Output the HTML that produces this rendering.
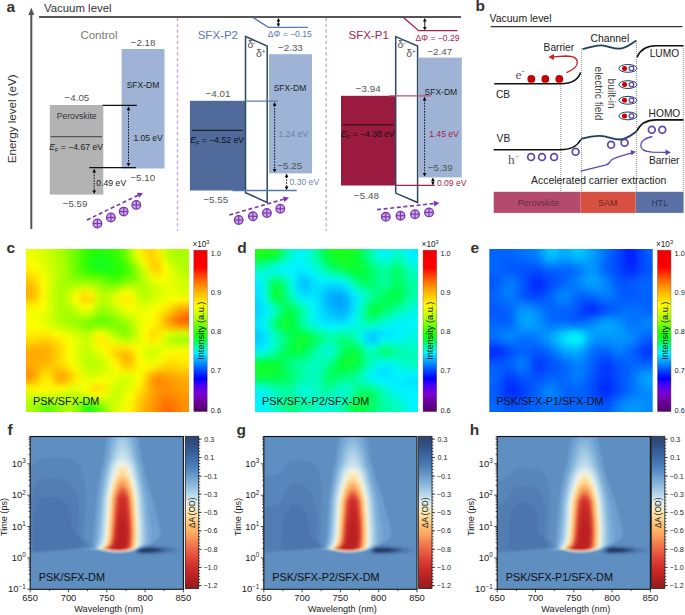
<!DOCTYPE html>
<html><head><meta charset="utf-8"><style>
html,body{margin:0;padding:0;background:#fff;}
svg{display:block;font-family:"Liberation Sans",sans-serif;}
</style></head><body>
<svg width="685" height="615" viewBox="0 0 685 615">
<defs><clipPath id="hc1"><rect x="26" y="249" width="163" height="163"/></clipPath><filter id="hb1" x="-10%" y="-10%" width="120%" height="120%"><feGaussianBlur stdDeviation="2.5"/></filter><clipPath id="hc2"><rect x="255.1" y="249" width="163" height="163"/></clipPath><filter id="hb2" x="-10%" y="-10%" width="120%" height="120%"><feGaussianBlur stdDeviation="2.5"/></filter><clipPath id="hc3"><rect x="489.3" y="249" width="163.4" height="163"/></clipPath><filter id="hb3" x="-10%" y="-10%" width="120%" height="120%"><feGaussianBlur stdDeviation="2.5"/></filter><linearGradient id="cbr1" x1="0" y1="0" x2="0" y2="1"><stop offset="0.010" stop-color="#f00000"/><stop offset="0.108" stop-color="#ff0000"/><stop offset="0.157" stop-color="#ff4100"/><stop offset="0.206" stop-color="#ff7d00"/><stop offset="0.255" stop-color="#ffaf00"/><stop offset="0.341" stop-color="#ffff00"/><stop offset="0.427" stop-color="#aaff00"/><stop offset="0.512" stop-color="#28ff00"/><stop offset="0.561" stop-color="#00ff46"/><stop offset="0.598" stop-color="#00ffaa"/><stop offset="0.635" stop-color="#00f5ff"/><stop offset="0.696" stop-color="#0096ff"/><stop offset="0.745" stop-color="#0046ff"/><stop offset="0.794" stop-color="#0000ff"/><stop offset="0.843" stop-color="#5000f0"/><stop offset="0.892" stop-color="#7d00d2"/><stop offset="0.941" stop-color="#690096"/><stop offset="0.990" stop-color="#550073"/></linearGradient><linearGradient id="cbr2" x1="0" y1="0" x2="0" y2="1"><stop offset="0.010" stop-color="#f00000"/><stop offset="0.108" stop-color="#ff0000"/><stop offset="0.157" stop-color="#ff4100"/><stop offset="0.206" stop-color="#ff7d00"/><stop offset="0.255" stop-color="#ffaf00"/><stop offset="0.341" stop-color="#ffff00"/><stop offset="0.427" stop-color="#aaff00"/><stop offset="0.512" stop-color="#28ff00"/><stop offset="0.561" stop-color="#00ff46"/><stop offset="0.598" stop-color="#00ffaa"/><stop offset="0.635" stop-color="#00f5ff"/><stop offset="0.696" stop-color="#0096ff"/><stop offset="0.745" stop-color="#0046ff"/><stop offset="0.794" stop-color="#0000ff"/><stop offset="0.843" stop-color="#5000f0"/><stop offset="0.892" stop-color="#7d00d2"/><stop offset="0.941" stop-color="#690096"/><stop offset="0.990" stop-color="#550073"/></linearGradient><linearGradient id="cbr3" x1="0" y1="0" x2="0" y2="1"><stop offset="0.010" stop-color="#f00000"/><stop offset="0.108" stop-color="#ff0000"/><stop offset="0.157" stop-color="#ff4100"/><stop offset="0.206" stop-color="#ff7d00"/><stop offset="0.255" stop-color="#ffaf00"/><stop offset="0.341" stop-color="#ffff00"/><stop offset="0.427" stop-color="#aaff00"/><stop offset="0.512" stop-color="#28ff00"/><stop offset="0.561" stop-color="#00ff46"/><stop offset="0.598" stop-color="#00ffaa"/><stop offset="0.635" stop-color="#00f5ff"/><stop offset="0.696" stop-color="#0096ff"/><stop offset="0.745" stop-color="#0046ff"/><stop offset="0.794" stop-color="#0000ff"/><stop offset="0.843" stop-color="#5000f0"/><stop offset="0.892" stop-color="#7d00d2"/><stop offset="0.941" stop-color="#690096"/><stop offset="0.990" stop-color="#550073"/></linearGradient><clipPath id="tc4"><rect x="30.2" y="436.5" width="153.2" height="152.8"/></clipPath><filter id="tb4" x="-5%" y="-5%" width="110%" height="110%"><feGaussianBlur stdDeviation="0.8"/></filter><linearGradient id="cbt5" x1="0" y1="0" x2="0" y2="1"><stop offset="0.0" stop-color="#2d4673"/><stop offset="0.05" stop-color="#304e80"/><stop offset="0.12" stop-color="#3a64a0"/><stop offset="0.18" stop-color="#4678b4"/><stop offset="0.25" stop-color="#6496c8"/><stop offset="0.32" stop-color="#8cb9dc"/><stop offset="0.39" stop-color="#bedceb"/><stop offset="0.44" stop-color="#e4eee8"/><stop offset="0.5" stop-color="#fce8af"/><stop offset="0.57" stop-color="#fdc87d"/><stop offset="0.64" stop-color="#fba85f"/><stop offset="0.72" stop-color="#f0734b"/><stop offset="0.8" stop-color="#e14637"/><stop offset="0.87" stop-color="#cd2a28"/><stop offset="0.94" stop-color="#af2020"/><stop offset="1.0" stop-color="#911c1e"/></linearGradient><clipPath id="tc6"><rect x="263.8" y="436.5" width="153.2" height="152.8"/></clipPath><filter id="tb6" x="-5%" y="-5%" width="110%" height="110%"><feGaussianBlur stdDeviation="0.8"/></filter><linearGradient id="cbt7" x1="0" y1="0" x2="0" y2="1"><stop offset="0.0" stop-color="#2d4673"/><stop offset="0.05" stop-color="#304e80"/><stop offset="0.12" stop-color="#3a64a0"/><stop offset="0.18" stop-color="#4678b4"/><stop offset="0.25" stop-color="#6496c8"/><stop offset="0.32" stop-color="#8cb9dc"/><stop offset="0.39" stop-color="#bedceb"/><stop offset="0.44" stop-color="#e4eee8"/><stop offset="0.5" stop-color="#fce8af"/><stop offset="0.57" stop-color="#fdc87d"/><stop offset="0.64" stop-color="#fba85f"/><stop offset="0.72" stop-color="#f0734b"/><stop offset="0.8" stop-color="#e14637"/><stop offset="0.87" stop-color="#cd2a28"/><stop offset="0.94" stop-color="#af2020"/><stop offset="1.0" stop-color="#911c1e"/></linearGradient><clipPath id="tc8"><rect x="497.2" y="436.5" width="153.2" height="152.8"/></clipPath><filter id="tb8" x="-5%" y="-5%" width="110%" height="110%"><feGaussianBlur stdDeviation="0.8"/></filter><linearGradient id="cbt9" x1="0" y1="0" x2="0" y2="1"><stop offset="0.0" stop-color="#2d4673"/><stop offset="0.05" stop-color="#304e80"/><stop offset="0.12" stop-color="#3a64a0"/><stop offset="0.18" stop-color="#4678b4"/><stop offset="0.25" stop-color="#6496c8"/><stop offset="0.32" stop-color="#8cb9dc"/><stop offset="0.39" stop-color="#bedceb"/><stop offset="0.44" stop-color="#e4eee8"/><stop offset="0.5" stop-color="#fce8af"/><stop offset="0.57" stop-color="#fdc87d"/><stop offset="0.64" stop-color="#fba85f"/><stop offset="0.72" stop-color="#f0734b"/><stop offset="0.8" stop-color="#e14637"/><stop offset="0.87" stop-color="#cd2a28"/><stop offset="0.94" stop-color="#af2020"/><stop offset="1.0" stop-color="#911c1e"/></linearGradient></defs>
<rect width="685" height="615" fill="#fff"/>
<text x="6.5" y="12" font-size="15.5" fill="#333" font-weight="bold">a</text>
<line x1="31.3" y1="14" x2="31.3" y2="229" stroke="#555" stroke-width="2"/>
<path d="M31.3,7.5 L28.3,15 L34.3,15Z" fill="#555"/>
<text x="0" y="0" font-size="11.6" fill="#333" text-anchor="middle" transform="translate(15.6,118.8) rotate(-90)">Energy level (eV)</text>
<line x1="39" y1="17" x2="461" y2="17" stroke="#555" stroke-width="1.8"/>
<text x="44" y="12" font-size="11.4" fill="#333">Vacuum level</text>
<line x1="177.5" y1="18" x2="177.5" y2="231" stroke="#c8acdc" stroke-width="1.4" stroke-dasharray="3.3,2.4"/>
<line x1="326.2" y1="18" x2="326.2" y2="231" stroke="#c8acdc" stroke-width="1.4" stroke-dasharray="3.3,2.4"/>
<text x="80.4" y="39.1" font-size="11.5" fill="#777">Control</text>
<rect x="49.8" y="105" width="53.5" height="89.6" fill="#b3b3b3"/>
<line x1="50.6" y1="136.6" x2="102" y2="136.6" stroke="#555" stroke-width="1.4"/>
<text x="76.7" y="118.8" font-size="8.5" fill="#333" text-anchor="middle">Perovskite</text>
<text x="49.3" y="149.7" font-size="8.6" fill="#222"><tspan font-style="italic">E</tspan><tspan font-size="5.6" dy="1.8">F</tspan><tspan dy="-1.8"> = −4.67 eV</tspan></text>
<rect x="121.6" y="49" width="42.9" height="119.5" fill="#9eb3d6"/>
<text x="126.7" y="88.1" font-size="8.5" fill="#222">SFX-DM</text>
<text x="130.7" y="46.2" font-size="9.8" fill="#555">−2.18</text>
<text x="64.5" y="100.7" font-size="9.8" fill="#555">−4.05</text>
<line x1="102.6" y1="105.4" x2="136.8" y2="105.4" stroke="#111" stroke-width="1.3"/>
<line x1="89.2" y1="167.7" x2="135.9" y2="167.7" stroke="#111" stroke-width="1.3"/>
<line x1="128.5" y1="109.6" x2="128.5" y2="163.6" stroke="#000" stroke-width="0.9" stroke-dasharray="1.6,1.2"/>
<path d="M128.5,106.6 L126.7,110.19999999999999 L130.3,110.19999999999999Z" fill="#000"/>
<path d="M128.5,166.6 L126.7,163.0 L130.3,163.0Z" fill="#000"/>
<text x="133.4" y="140.8" font-size="8.5" fill="#222">1.05 eV</text>
<line x1="94.2" y1="171.8" x2="94.2" y2="191" stroke="#000" stroke-width="0.9" stroke-dasharray="1.6,1.2"/>
<path d="M94.2,168.8 L92.4,172.4 L96.0,172.4Z" fill="#000"/>
<path d="M94.2,194 L92.4,190.4 L96.0,190.4Z" fill="#000"/>
<text x="96.3" y="186.4" font-size="8.7" fill="#222">0.49 eV</text>
<text x="130.4" y="180.8" font-size="9.8" fill="#555">−5.10</text>
<text x="62.7" y="207.2" font-size="9.8" fill="#555">−5.59</text>
<line x1="86.9" y1="220" x2="138.04756205665956" y2="195.29235415801296" stroke="#7a34b0" stroke-width="1.6" stroke-dasharray="4,2.6"/>
<path d="M143.0,192.9 L139.3,197.8 L136.8,192.8Z" fill="#7a34b0"/>
<circle cx="97.4" cy="223.5" r="4.3" fill="#c9a6de" stroke="#7a34b0" stroke-width="1.3"/>
<line x1="93.10000000000001" y1="223.5" x2="101.7" y2="223.5" stroke="#7a34b0" stroke-width="1.1"/>
<line x1="97.4" y1="219.2" x2="97.4" y2="227.8" stroke="#7a34b0" stroke-width="1.1"/>
<circle cx="110.9" cy="217.5" r="4.3" fill="#c9a6de" stroke="#7a34b0" stroke-width="1.3"/>
<line x1="106.60000000000001" y1="217.5" x2="115.2" y2="217.5" stroke="#7a34b0" stroke-width="1.1"/>
<line x1="110.9" y1="213.2" x2="110.9" y2="221.8" stroke="#7a34b0" stroke-width="1.1"/>
<circle cx="123.7" cy="211.6" r="4.3" fill="#c9a6de" stroke="#7a34b0" stroke-width="1.3"/>
<line x1="119.4" y1="211.6" x2="128.0" y2="211.6" stroke="#7a34b0" stroke-width="1.1"/>
<line x1="123.7" y1="207.29999999999998" x2="123.7" y2="215.9" stroke="#7a34b0" stroke-width="1.1"/>
<circle cx="136.3" cy="204.9" r="4.3" fill="#c9a6de" stroke="#7a34b0" stroke-width="1.3"/>
<line x1="132.0" y1="204.9" x2="140.60000000000002" y2="204.9" stroke="#7a34b0" stroke-width="1.1"/>
<line x1="136.3" y1="200.6" x2="136.3" y2="209.20000000000002" stroke="#7a34b0" stroke-width="1.1"/>
<text x="197.7" y="38.9" font-size="11.5" fill="#5a78b0">SFX-P2</text>
<rect x="189.9" y="100.8" width="55.6" height="89.7" fill="#506a9b"/>
<rect x="269" y="54.2" width="43" height="119.2" fill="#9eb3d6"/>
<path d="M245.5,36.5 L267.2,46 L267.2,202.5 L245.5,192.7Z" fill="#fff" stroke="#2b4a5c" stroke-width="1.5"/>
<line x1="232.5" y1="190.5" x2="296.7" y2="190.5" stroke="#5a78b0" stroke-width="1.3"/>
<line x1="245" y1="101.2" x2="278" y2="101.2" stroke="#5a78b0" stroke-width="1.3"/>
<path d="M253.2,17.6 L268.4,27.3 L307.9,27.3" fill="none" stroke="#5a78b0" stroke-width="1.3"/>
<line x1="278.4" y1="20.5" x2="278.4" y2="24.5" stroke="#000" stroke-width="0.9"/>
<path d="M278.4,18 L276.59999999999997,21.4 L280.2,21.4Z" fill="#000"/>
<path d="M278.4,27 L276.59999999999997,23.6 L280.2,23.6Z" fill="#000"/>
<text x="267.7" y="36.8" font-size="8.6" fill="#5a78b0">ΔΦ = −0.15</text>
<text x="247.4" y="48.3" font-size="10.5" fill="#555">δ<tspan font-size="6.5" dy="-3.6">-</tspan></text>
<text x="256.0" y="57.3" font-size="10.5" fill="#555">δ<tspan font-size="6.5" dy="-3.6">+</tspan></text>
<text x="278" y="51.2" font-size="9.8" fill="#555">−2.33</text>
<text x="205.6" y="97.1" font-size="9.8" fill="#555">−4.01</text>
<line x1="192" y1="130.4" x2="242.8" y2="130.4" stroke="#222" stroke-width="1.4"/>
<text x="190.3" y="143.3" font-size="8.6" fill="#111"><tspan font-style="italic">E</tspan><tspan font-size="5.6" dy="1.8">F</tspan><tspan dy="-1.8"> = −4.52 eV</tspan></text>
<text x="273.7" y="91.4" font-size="8.5" fill="#222">SFX-DM</text>
<line x1="274.6" y1="105.2" x2="274.6" y2="169.6" stroke="#000" stroke-width="0.9" stroke-dasharray="1.6,1.2"/>
<path d="M274.6,102.2 L272.8,105.8 L276.40000000000003,105.8Z" fill="#000"/>
<path d="M274.6,172.6 L272.8,169.0 L276.40000000000003,169.0Z" fill="#000"/>
<text x="278.5" y="137.2" font-size="8.6" fill="#6b81ae">1.24 eV</text>
<text x="277.4" y="169.2" font-size="9.8" fill="#555">−5.25</text>
<line x1="286.6" y1="176.6" x2="286.6" y2="187.2" stroke="#000" stroke-width="0.9" stroke-dasharray="1.6,1.2"/>
<path d="M286.6,173.6 L284.8,177.2 L288.40000000000003,177.2Z" fill="#000"/>
<path d="M286.6,190.2 L284.8,186.6 L288.40000000000003,186.6Z" fill="#000"/>
<text x="289.5" y="184.9" font-size="8.6" fill="#6a85b8">0.30 eV</text>
<text x="203.4" y="202.7" font-size="9.8" fill="#555">−5.55</text>
<line x1="229.3" y1="215" x2="283.71733212665015" y2="199.2308233535838" stroke="#7a34b0" stroke-width="1.6" stroke-dasharray="4,2.6"/>
<path d="M289.0,197.7 L284.5,201.9 L282.9,196.5Z" fill="#7a34b0"/>
<circle cx="238.7" cy="220" r="4.3" fill="#c9a6de" stroke="#7a34b0" stroke-width="1.3"/>
<line x1="234.39999999999998" y1="220" x2="243.0" y2="220" stroke="#7a34b0" stroke-width="1.1"/>
<line x1="238.7" y1="215.7" x2="238.7" y2="224.3" stroke="#7a34b0" stroke-width="1.1"/>
<circle cx="252.9" cy="216.3" r="4.3" fill="#c9a6de" stroke="#7a34b0" stroke-width="1.3"/>
<line x1="248.6" y1="216.3" x2="257.2" y2="216.3" stroke="#7a34b0" stroke-width="1.1"/>
<line x1="252.9" y1="212.0" x2="252.9" y2="220.60000000000002" stroke="#7a34b0" stroke-width="1.1"/>
<circle cx="266.9" cy="213" r="4.3" fill="#c9a6de" stroke="#7a34b0" stroke-width="1.3"/>
<line x1="262.59999999999997" y1="213" x2="271.2" y2="213" stroke="#7a34b0" stroke-width="1.1"/>
<line x1="266.9" y1="208.7" x2="266.9" y2="217.3" stroke="#7a34b0" stroke-width="1.1"/>
<circle cx="280.3" cy="208.7" r="4.3" fill="#c9a6de" stroke="#7a34b0" stroke-width="1.3"/>
<line x1="276.0" y1="208.7" x2="284.6" y2="208.7" stroke="#7a34b0" stroke-width="1.1"/>
<line x1="280.3" y1="204.39999999999998" x2="280.3" y2="213.0" stroke="#7a34b0" stroke-width="1.1"/>
<text x="348.6" y="39.4" font-size="11.5" fill="#a3234b">SFX-P1</text>
<rect x="341" y="95.8" width="54.7" height="89.7" fill="#9a1b3f"/>
<rect x="418.7" y="57.6" width="43.1" height="119.8" fill="#9eb3d6"/>
<path d="M395.7,36.6 L417.6,46 L417.6,202.5 L395.7,193.1Z" fill="#fff" stroke="#2b4a5c" stroke-width="1.5"/>
<line x1="395" y1="185.3" x2="434.7" y2="185.3" stroke="#a3234b" stroke-width="1.3"/>
<line x1="389" y1="95.8" x2="431.2" y2="95.8" stroke="#c0506e" stroke-width="1.3"/>
<path d="M403.4,17.6 L418.7,30.7 L457.4,30.7" fill="none" stroke="#a3234b" stroke-width="1.3"/>
<line x1="424.8" y1="20.5" x2="424.8" y2="27.8" stroke="#000" stroke-width="0.9"/>
<path d="M424.8,18 L423.0,21.4 L426.6,21.4Z" fill="#000"/>
<path d="M424.8,30.3 L423.0,26.900000000000002 L426.6,26.900000000000002Z" fill="#000"/>
<text x="415.4" y="40.8" font-size="8.6" fill="#a3234b">ΔΦ = −0.29</text>
<text x="397.6" y="48.3" font-size="10.5" fill="#555">δ<tspan font-size="6.5" dy="-3.6">-</tspan></text>
<text x="406.2" y="57.3" font-size="10.5" fill="#555">δ<tspan font-size="6.5" dy="-3.6">+</tspan></text>
<text x="427.4" y="55.1" font-size="9.8" fill="#555">−2.47</text>
<text x="355.8" y="92.1" font-size="9.8" fill="#555">−3.94</text>
<line x1="342.7" y1="124.9" x2="393.5" y2="124.9" stroke="#3a0a1a" stroke-width="1.4"/>
<text x="341" y="137.4" font-size="8.6" fill="#111"><tspan font-style="italic">E</tspan><tspan font-size="5.6" dy="1.8">F</tspan><tspan dy="-1.8"> = −4.38 eV</tspan></text>
<text x="424.6" y="94.5" font-size="8.5" fill="#222">SFX-DM</text>
<line x1="424.6" y1="99.8" x2="424.6" y2="173.6" stroke="#000" stroke-width="0.9" stroke-dasharray="1.6,1.2"/>
<path d="M424.6,96.8 L422.8,100.39999999999999 L426.40000000000003,100.39999999999999Z" fill="#000"/>
<path d="M424.6,176.6 L422.8,173.0 L426.40000000000003,173.0Z" fill="#000"/>
<text x="429.2" y="136.7" font-size="8.6" fill="#a3234b">1.45 eV</text>
<text x="427.9" y="171.2" font-size="9.8" fill="#555">−5.39</text>
<line x1="432.9" y1="180.1" x2="432.9" y2="182.7" stroke="#000" stroke-width="0.9"/>
<path d="M432.9,177.6 L431.09999999999997,181.0 L434.7,181.0Z" fill="#000"/>
<path d="M432.9,185.2 L431.09999999999997,181.79999999999998 L434.7,181.79999999999998Z" fill="#000"/>
<text x="436.9" y="186" font-size="8.6" fill="#a3234b">0.09 eV</text>
<text x="354.1" y="198.6" font-size="9.8" fill="#555">−5.48</text>
<line x1="377.1" y1="209.6" x2="434.0305088653168" y2="203.57850387001457" stroke="#7a34b0" stroke-width="1.6" stroke-dasharray="4,2.6"/>
<path d="M439.5,203.0 L434.3,206.4 L433.7,200.8Z" fill="#7a34b0"/>
<circle cx="385.8" cy="216.8" r="4.3" fill="#c9a6de" stroke="#7a34b0" stroke-width="1.3"/>
<line x1="381.5" y1="216.8" x2="390.1" y2="216.8" stroke="#7a34b0" stroke-width="1.1"/>
<line x1="385.8" y1="212.5" x2="385.8" y2="221.10000000000002" stroke="#7a34b0" stroke-width="1.1"/>
<circle cx="400.5" cy="215.7" r="4.3" fill="#c9a6de" stroke="#7a34b0" stroke-width="1.3"/>
<line x1="396.2" y1="215.7" x2="404.8" y2="215.7" stroke="#7a34b0" stroke-width="1.1"/>
<line x1="400.5" y1="211.39999999999998" x2="400.5" y2="220.0" stroke="#7a34b0" stroke-width="1.1"/>
<circle cx="415" cy="214.2" r="4.3" fill="#c9a6de" stroke="#7a34b0" stroke-width="1.3"/>
<line x1="410.7" y1="214.2" x2="419.3" y2="214.2" stroke="#7a34b0" stroke-width="1.1"/>
<line x1="415" y1="209.89999999999998" x2="415" y2="218.5" stroke="#7a34b0" stroke-width="1.1"/>
<circle cx="429" cy="212.4" r="4.3" fill="#c9a6de" stroke="#7a34b0" stroke-width="1.3"/>
<line x1="424.7" y1="212.4" x2="433.3" y2="212.4" stroke="#7a34b0" stroke-width="1.1"/>
<line x1="429" y1="208.1" x2="429" y2="216.70000000000002" stroke="#7a34b0" stroke-width="1.1"/>
<text x="475.6" y="11.4" font-size="15.5" fill="#333" font-weight="bold">b</text>
<text x="489.6" y="21.9" font-size="10.45" fill="#222">Vacuum level</text>
<line x1="490.7" y1="26.6" x2="682.5" y2="26.6" stroke="#333" stroke-width="1.3"/>
<line x1="560.7" y1="84" x2="560.7" y2="191.8" stroke="#777" stroke-width="0.8" stroke-dasharray="1,1"/>
<line x1="581.6" y1="48" x2="581.6" y2="191.8" stroke="#777" stroke-width="0.8" stroke-dasharray="1,1"/>
<line x1="636.6" y1="41" x2="636.6" y2="191.8" stroke="#777" stroke-width="0.8" stroke-dasharray="1,1"/>
<line x1="683.3" y1="46" x2="683.3" y2="191.8" stroke="#777" stroke-width="0.8" stroke-dasharray="1,1"/>
<rect x="493.7" y="191.8" width="86.8" height="21.1" fill="#b44b6e"/>
<rect x="580.5" y="191.8" width="55.2" height="21.1" fill="#d75041"/>
<rect x="635.7" y="191.8" width="47.9" height="21.1" fill="#5a70a5"/>
<text x="538.4" y="205.8" font-size="8.9" fill="#6a2a42" text-anchor="middle">Perovskite</text>
<text x="607.7" y="205.8" font-size="8.9" fill="#6a2a22" text-anchor="middle">SAM</text>
<text x="659.8" y="205.8" font-size="8.7" fill="#2c3858" text-anchor="middle">HTL</text>
<path d="M494.2,83.7 L561,83.7 C572,83.7 578,80 580.6,72.5" stroke="#111" stroke-width="1.6" fill="none"/>
<text x="496" y="98" font-size="10.2" fill="#222">CB</text>
<circle cx="531.3" cy="78.9" r="3.9" fill="#c80000"/>
<circle cx="545.3" cy="78.9" r="3.9" fill="#c80000"/>
<circle cx="559.3" cy="78.9" r="3.9" fill="#c80000"/>
<text x="515.6" y="78.6" font-size="13.5" fill="#555" font-family="Liberation Serif">e<tspan font-size="8" dy="-5">-</tspan></text>
<text x="543.6" y="50.8" font-size="10.2" fill="#222">Barrier</text>
<path d="M566.4,72.7 C582,66 580,56 566,56 L553,56.8" stroke="#cc2222" stroke-width="1.3" fill="none"/>
<path d="M548.3,57 L554,54 L554,60Z" fill="#cc2222"/>
<path d="M582.6,49.2 C590,47.5 595,45.2 601,45.3 C608,45.4 612,48.8 619,48.7 C626,48.6 631,43.5 636.4,40.6" stroke="#1f3f5a" stroke-width="1.8" fill="none"/>
<text x="590.5" y="41.5" font-size="10.4" fill="#222">Channel</text>
<path d="M637.1,57.2 C640,50 646,45.8 656,45.7 L683.5,45.7" stroke="#111" stroke-width="1.6" fill="none"/>
<text x="649.7" y="57.1" font-size="10.2" fill="#222">LUMO</text>
<ellipse cx="627.9" cy="68.4" rx="9" ry="3.9" fill="#fff" stroke="#1f3f5a" stroke-width="1"/>
<circle cx="624.5" cy="68.4" r="2.5" fill="#c80000"/>
<circle cx="631.5" cy="68.4" r="2.3" fill="#fff" stroke="#5a48b0" stroke-width="1.3"/>
<ellipse cx="627.9" cy="84.6" rx="9" ry="3.9" fill="#fff" stroke="#1f3f5a" stroke-width="1"/>
<circle cx="624.5" cy="84.6" r="2.5" fill="#c80000"/>
<circle cx="631.5" cy="84.6" r="2.3" fill="#fff" stroke="#5a48b0" stroke-width="1.3"/>
<ellipse cx="627.9" cy="100.3" rx="9" ry="3.9" fill="#fff" stroke="#1f3f5a" stroke-width="1"/>
<circle cx="624.5" cy="100.3" r="2.5" fill="#c80000"/>
<circle cx="631.5" cy="100.3" r="2.3" fill="#fff" stroke="#5a48b0" stroke-width="1.3"/>
<ellipse cx="627.9" cy="115.9" rx="9" ry="3.9" fill="#fff" stroke="#1f3f5a" stroke-width="1"/>
<circle cx="624.5" cy="115.9" r="2.5" fill="#c80000"/>
<circle cx="631.5" cy="115.9" r="2.3" fill="#fff" stroke="#5a48b0" stroke-width="1.3"/>
<text x="0" y="0" font-size="10.2" fill="#444" text-anchor="middle" transform="translate(607.6,93.6) rotate(90)">built-in</text>
<text x="0" y="0" font-size="10.2" fill="#444" text-anchor="middle" transform="translate(595,93.5) rotate(90)">electric field</text>
<path d="M636.8,131.3 C640,124 646,120 656,119.9 L683.5,119.9" stroke="#111" stroke-width="1.6" fill="none"/>
<text x="648.6" y="116.7" font-size="10.2" fill="#222">HOMO</text>
<path d="M493.7,149.8 L560,149.8 C572,149.8 578,145 580.8,139.5" stroke="#111" stroke-width="1.6" fill="none"/>
<path d="M580.9,138.9 C588,137 594,135.8 600,135.9 C608,136 613,139.7 620,139.5 C627,139.3 632,135 636.6,131.2" stroke="#1f3f5a" stroke-width="1.8" fill="none"/>
<text x="496.6" y="142" font-size="10.2" fill="#222">VB</text>
<text x="508" y="163.7" font-size="13.3" fill="#555" font-family="Liberation Serif">h<tspan font-size="8" dy="-5" fill="#aaa">+</tspan></text>
<circle cx="531.1" cy="157" r="3.4" fill="none" stroke="#5a48b0" stroke-width="1.7"/>
<circle cx="542" cy="157" r="3.4" fill="none" stroke="#5a48b0" stroke-width="1.7"/>
<circle cx="554.1" cy="157" r="3.4" fill="none" stroke="#5a48b0" stroke-width="1.7"/>
<circle cx="575.6" cy="151.7" r="3.4" fill="none" stroke="#5a48b0" stroke-width="1.7"/>
<circle cx="611.1" cy="144.8" r="3.4" fill="none" stroke="#5a48b0" stroke-width="1.7"/>
<circle cx="624.6" cy="142.8" r="3.4" fill="none" stroke="#5a48b0" stroke-width="1.7"/>
<circle cx="651.8" cy="129.7" r="3.4" fill="none" stroke="#5a48b0" stroke-width="1.7"/>
<circle cx="662.3" cy="129.7" r="3.4" fill="none" stroke="#5a48b0" stroke-width="1.7"/>
<path d="M580.7,171.1 L606.3,164.9 C608.8,164.2 609.3,162.3 611,160.6 C613,158.6 616,157.6 619,156.7 L632,152.8" stroke="#5a48b0" stroke-width="1.3" fill="none"/>
<path d="M636,151.8 L630.5,150 L631.5,155.3Z" fill="#5a48b0"/>
<path d="M652.3,136.5 C637,140 637,151 652,152.2 L666,152.4" stroke="#5a48b0" stroke-width="1.3" fill="none"/>
<path d="M671,152.4 L665.5,149.6 L665.5,155.2Z" fill="#5a48b0"/>
<text x="648.9" y="164" font-size="10.2" fill="#222">Barrier</text>
<text x="531.1" y="184.3" font-size="10.4" fill="#222">Accelerated carrier extraction</text>
<text x="6.5" y="253.4" font-size="15.5" fill="#333" font-weight="bold">c</text>
<text x="237.2" y="252.8" font-size="15.5" fill="#333" font-weight="bold">d</text>
<text x="470.5" y="252.8" font-size="15.5" fill="#333" font-weight="bold">e</text>
<g clip-path="url(#hc1)"><g filter="url(#hb1)"><path fill="#ecff00" d="M12.4 235.4h7.4v7.4h-7.4z"/><path fill="#ecff00" d="M19.2 235.4h7.4v7.4h-7.4z"/><path fill="#ecff00" d="M26.0 235.4h7.4v7.4h-7.4z"/><path fill="#e5ff00" d="M32.8 235.4h7.4v7.4h-7.4z"/><path fill="#d8ff00" d="M39.6 235.4h7.4v7.4h-7.4z"/><path fill="#c7ff00" d="M46.4 235.4h7.4v7.4h-7.4z"/><path fill="#b5ff00" d="M53.2 235.4h7.4v7.4h-7.4z"/><path fill="#9fff00" d="M60.0 235.4h7.4v7.4h-7.4z"/><path fill="#85ff00" d="M66.8 235.4h7.4v7.4h-7.4z"/><path fill="#64ff00" d="M73.5 235.4h7.4v7.4h-7.4z"/><path fill="#3bff00" d="M80.3 235.4h7.4v7.4h-7.4z"/><path fill="#25ff05" d="M87.1 235.4h7.4v7.4h-7.4z"/><path fill="#21ff0c" d="M93.9 235.4h7.4v7.4h-7.4z"/><path fill="#21ff0c" d="M100.7 235.4h7.4v7.4h-7.4z"/><path fill="#26ff04" d="M107.5 235.4h7.4v7.4h-7.4z"/><path fill="#3aff00" d="M114.3 235.4h7.4v7.4h-7.4z"/><path fill="#5dff00" d="M121.1 235.4h7.4v7.4h-7.4z"/><path fill="#a9ff00" d="M127.9 235.4h7.4v7.4h-7.4z"/><path fill="#f6ff00" d="M134.7 235.4h7.4v7.4h-7.4z"/><path fill="#ffde00" d="M141.5 235.4h7.4v7.4h-7.4z"/><path fill="#ffd200" d="M148.2 235.4h7.4v7.4h-7.4z"/><path fill="#ffed00" d="M155.0 235.4h7.4v7.4h-7.4z"/><path fill="#cdff00" d="M161.8 235.4h7.4v7.4h-7.4z"/><path fill="#aaff00" d="M168.6 235.4h7.4v7.4h-7.4z"/><path fill="#aaff00" d="M175.4 235.4h7.4v7.4h-7.4z"/><path fill="#abff00" d="M182.2 235.4h7.4v7.4h-7.4z"/><path fill="#abff00" d="M189.0 235.4h7.4v7.4h-7.4z"/><path fill="#abff00" d="M195.8 235.4h7.4v7.4h-7.4z"/><path fill="#ecff00" d="M12.4 242.2h7.4v7.4h-7.4z"/><path fill="#ecff00" d="M19.2 242.2h7.4v7.4h-7.4z"/><path fill="#ecff00" d="M26.0 242.2h7.4v7.4h-7.4z"/><path fill="#e5ff00" d="M32.8 242.2h7.4v7.4h-7.4z"/><path fill="#d8ff00" d="M39.6 242.2h7.4v7.4h-7.4z"/><path fill="#c7ff00" d="M46.4 242.2h7.4v7.4h-7.4z"/><path fill="#b5ff00" d="M53.2 242.2h7.4v7.4h-7.4z"/><path fill="#9fff00" d="M60.0 242.2h7.4v7.4h-7.4z"/><path fill="#85ff00" d="M66.8 242.2h7.4v7.4h-7.4z"/><path fill="#64ff00" d="M73.5 242.2h7.4v7.4h-7.4z"/><path fill="#3bff00" d="M80.3 242.2h7.4v7.4h-7.4z"/><path fill="#25ff05" d="M87.1 242.2h7.4v7.4h-7.4z"/><path fill="#21ff0c" d="M93.9 242.2h7.4v7.4h-7.4z"/><path fill="#21ff0c" d="M100.7 242.2h7.4v7.4h-7.4z"/><path fill="#26ff04" d="M107.5 242.2h7.4v7.4h-7.4z"/><path fill="#3aff00" d="M114.3 242.2h7.4v7.4h-7.4z"/><path fill="#5dff00" d="M121.1 242.2h7.4v7.4h-7.4z"/><path fill="#a9ff00" d="M127.9 242.2h7.4v7.4h-7.4z"/><path fill="#f6ff00" d="M134.7 242.2h7.4v7.4h-7.4z"/><path fill="#ffde00" d="M141.5 242.2h7.4v7.4h-7.4z"/><path fill="#ffd200" d="M148.2 242.2h7.4v7.4h-7.4z"/><path fill="#ffed00" d="M155.0 242.2h7.4v7.4h-7.4z"/><path fill="#cdff00" d="M161.8 242.2h7.4v7.4h-7.4z"/><path fill="#aaff00" d="M168.6 242.2h7.4v7.4h-7.4z"/><path fill="#aaff00" d="M175.4 242.2h7.4v7.4h-7.4z"/><path fill="#abff00" d="M182.2 242.2h7.4v7.4h-7.4z"/><path fill="#abff00" d="M189.0 242.2h7.4v7.4h-7.4z"/><path fill="#abff00" d="M195.8 242.2h7.4v7.4h-7.4z"/><path fill="#ecff00" d="M12.4 249.0h7.4v7.4h-7.4z"/><path fill="#ecff00" d="M19.2 249.0h7.4v7.4h-7.4z"/><path fill="#ecff00" d="M26.0 249.0h7.4v7.4h-7.4z"/><path fill="#e5ff00" d="M32.8 249.0h7.4v7.4h-7.4z"/><path fill="#d8ff00" d="M39.6 249.0h7.4v7.4h-7.4z"/><path fill="#c7ff00" d="M46.4 249.0h7.4v7.4h-7.4z"/><path fill="#b5ff00" d="M53.2 249.0h7.4v7.4h-7.4z"/><path fill="#9fff00" d="M60.0 249.0h7.4v7.4h-7.4z"/><path fill="#85ff00" d="M66.8 249.0h7.4v7.4h-7.4z"/><path fill="#64ff00" d="M73.5 249.0h7.4v7.4h-7.4z"/><path fill="#3bff00" d="M80.3 249.0h7.4v7.4h-7.4z"/><path fill="#25ff05" d="M87.1 249.0h7.4v7.4h-7.4z"/><path fill="#21ff0c" d="M93.9 249.0h7.4v7.4h-7.4z"/><path fill="#21ff0c" d="M100.7 249.0h7.4v7.4h-7.4z"/><path fill="#26ff04" d="M107.5 249.0h7.4v7.4h-7.4z"/><path fill="#3aff00" d="M114.3 249.0h7.4v7.4h-7.4z"/><path fill="#5dff00" d="M121.1 249.0h7.4v7.4h-7.4z"/><path fill="#a9ff00" d="M127.9 249.0h7.4v7.4h-7.4z"/><path fill="#f6ff00" d="M134.7 249.0h7.4v7.4h-7.4z"/><path fill="#ffde00" d="M141.5 249.0h7.4v7.4h-7.4z"/><path fill="#ffd200" d="M148.2 249.0h7.4v7.4h-7.4z"/><path fill="#ffed00" d="M155.0 249.0h7.4v7.4h-7.4z"/><path fill="#cdff00" d="M161.8 249.0h7.4v7.4h-7.4z"/><path fill="#aaff00" d="M168.6 249.0h7.4v7.4h-7.4z"/><path fill="#aaff00" d="M175.4 249.0h7.4v7.4h-7.4z"/><path fill="#abff00" d="M182.2 249.0h7.4v7.4h-7.4z"/><path fill="#abff00" d="M189.0 249.0h7.4v7.4h-7.4z"/><path fill="#abff00" d="M195.8 249.0h7.4v7.4h-7.4z"/><path fill="#f4ff00" d="M12.4 255.8h7.4v7.4h-7.4z"/><path fill="#f4ff00" d="M19.2 255.8h7.4v7.4h-7.4z"/><path fill="#f4ff00" d="M26.0 255.8h7.4v7.4h-7.4z"/><path fill="#ecff00" d="M32.8 255.8h7.4v7.4h-7.4z"/><path fill="#dcff00" d="M39.6 255.8h7.4v7.4h-7.4z"/><path fill="#caff00" d="M46.4 255.8h7.4v7.4h-7.4z"/><path fill="#b8ff00" d="M53.2 255.8h7.4v7.4h-7.4z"/><path fill="#a3ff00" d="M60.0 255.8h7.4v7.4h-7.4z"/><path fill="#86ff00" d="M66.8 255.8h7.4v7.4h-7.4z"/><path fill="#62ff00" d="M73.5 255.8h7.4v7.4h-7.4z"/><path fill="#39ff00" d="M80.3 255.8h7.4v7.4h-7.4z"/><path fill="#23ff09" d="M87.1 255.8h7.4v7.4h-7.4z"/><path fill="#1dff13" d="M93.9 255.8h7.4v7.4h-7.4z"/><path fill="#1dff13" d="M100.7 255.8h7.4v7.4h-7.4z"/><path fill="#22ff0a" d="M107.5 255.8h7.4v7.4h-7.4z"/><path fill="#32ff00" d="M114.3 255.8h7.4v7.4h-7.4z"/><path fill="#4fff00" d="M121.1 255.8h7.4v7.4h-7.4z"/><path fill="#93ff00" d="M127.9 255.8h7.4v7.4h-7.4z"/><path fill="#e0ff00" d="M134.7 255.8h7.4v7.4h-7.4z"/><path fill="#ffee00" d="M141.5 255.8h7.4v7.4h-7.4z"/><path fill="#ffd300" d="M148.2 255.8h7.4v7.4h-7.4z"/><path fill="#ffe400" d="M155.0 255.8h7.4v7.4h-7.4z"/><path fill="#dbff00" d="M161.8 255.8h7.4v7.4h-7.4z"/><path fill="#b7ff00" d="M168.6 255.8h7.4v7.4h-7.4z"/><path fill="#b0ff00" d="M175.4 255.8h7.4v7.4h-7.4z"/><path fill="#acff00" d="M182.2 255.8h7.4v7.4h-7.4z"/><path fill="#acff00" d="M189.0 255.8h7.4v7.4h-7.4z"/><path fill="#acff00" d="M195.8 255.8h7.4v7.4h-7.4z"/><path fill="#fffa00" d="M12.4 262.6h7.4v7.4h-7.4z"/><path fill="#fffa00" d="M19.2 262.6h7.4v7.4h-7.4z"/><path fill="#fffa00" d="M26.0 262.6h7.4v7.4h-7.4z"/><path fill="#faff00" d="M32.8 262.6h7.4v7.4h-7.4z"/><path fill="#e4ff00" d="M39.6 262.6h7.4v7.4h-7.4z"/><path fill="#d1ff00" d="M46.4 262.6h7.4v7.4h-7.4z"/><path fill="#c0ff00" d="M53.2 262.6h7.4v7.4h-7.4z"/><path fill="#acff00" d="M60.0 262.6h7.4v7.4h-7.4z"/><path fill="#87ff00" d="M66.8 262.6h7.4v7.4h-7.4z"/><path fill="#5fff00" d="M73.5 262.6h7.4v7.4h-7.4z"/><path fill="#35ff00" d="M80.3 262.6h7.4v7.4h-7.4z"/><path fill="#1fff10" d="M87.1 262.6h7.4v7.4h-7.4z"/><path fill="#15ff21" d="M93.9 262.6h7.4v7.4h-7.4z"/><path fill="#14ff23" d="M100.7 262.6h7.4v7.4h-7.4z"/><path fill="#1bff16" d="M107.5 262.6h7.4v7.4h-7.4z"/><path fill="#24ff07" d="M114.3 262.6h7.4v7.4h-7.4z"/><path fill="#32ff00" d="M121.1 262.6h7.4v7.4h-7.4z"/><path fill="#63ff00" d="M127.9 262.6h7.4v7.4h-7.4z"/><path fill="#b0ff00" d="M134.7 262.6h7.4v7.4h-7.4z"/><path fill="#ebff00" d="M141.5 262.6h7.4v7.4h-7.4z"/><path fill="#ffd400" d="M148.2 262.6h7.4v7.4h-7.4z"/><path fill="#ffcf00" d="M155.0 262.6h7.4v7.4h-7.4z"/><path fill="#f9ff00" d="M161.8 262.6h7.4v7.4h-7.4z"/><path fill="#d1ff00" d="M168.6 262.6h7.4v7.4h-7.4z"/><path fill="#bbff00" d="M175.4 262.6h7.4v7.4h-7.4z"/><path fill="#b0ff00" d="M182.2 262.6h7.4v7.4h-7.4z"/><path fill="#b0ff00" d="M189.0 262.6h7.4v7.4h-7.4z"/><path fill="#b0ff00" d="M195.8 262.6h7.4v7.4h-7.4z"/><path fill="#ffe500" d="M12.4 269.4h7.4v7.4h-7.4z"/><path fill="#ffe500" d="M19.2 269.4h7.4v7.4h-7.4z"/><path fill="#ffe500" d="M26.0 269.4h7.4v7.4h-7.4z"/><path fill="#fff200" d="M32.8 269.4h7.4v7.4h-7.4z"/><path fill="#efff00" d="M39.6 269.4h7.4v7.4h-7.4z"/><path fill="#d6ff00" d="M46.4 269.4h7.4v7.4h-7.4z"/><path fill="#c1ff00" d="M53.2 269.4h7.4v7.4h-7.4z"/><path fill="#acff00" d="M60.0 269.4h7.4v7.4h-7.4z"/><path fill="#8bff00" d="M66.8 269.4h7.4v7.4h-7.4z"/><path fill="#6aff00" d="M73.5 269.4h7.4v7.4h-7.4z"/><path fill="#4aff00" d="M80.3 269.4h7.4v7.4h-7.4z"/><path fill="#32ff00" d="M87.1 269.4h7.4v7.4h-7.4z"/><path fill="#25ff05" d="M93.9 269.4h7.4v7.4h-7.4z"/><path fill="#21ff0c" d="M100.7 269.4h7.4v7.4h-7.4z"/><path fill="#21ff0c" d="M107.5 269.4h7.4v7.4h-7.4z"/><path fill="#26ff03" d="M114.3 269.4h7.4v7.4h-7.4z"/><path fill="#35ff00" d="M121.1 269.4h7.4v7.4h-7.4z"/><path fill="#5aff00" d="M127.9 269.4h7.4v7.4h-7.4z"/><path fill="#91ff00" d="M134.7 269.4h7.4v7.4h-7.4z"/><path fill="#cfff00" d="M141.5 269.4h7.4v7.4h-7.4z"/><path fill="#ffeb00" d="M148.2 269.4h7.4v7.4h-7.4z"/><path fill="#ffdb00" d="M155.0 269.4h7.4v7.4h-7.4z"/><path fill="#fffd00" d="M161.8 269.4h7.4v7.4h-7.4z"/><path fill="#e1ff00" d="M168.6 269.4h7.4v7.4h-7.4z"/><path fill="#c6ff00" d="M175.4 269.4h7.4v7.4h-7.4z"/><path fill="#b9ff00" d="M182.2 269.4h7.4v7.4h-7.4z"/><path fill="#b9ff00" d="M189.0 269.4h7.4v7.4h-7.4z"/><path fill="#b9ff00" d="M195.8 269.4h7.4v7.4h-7.4z"/><path fill="#ffcd00" d="M12.4 276.2h7.4v7.4h-7.4z"/><path fill="#ffcd00" d="M19.2 276.2h7.4v7.4h-7.4z"/><path fill="#ffcd00" d="M26.0 276.2h7.4v7.4h-7.4z"/><path fill="#ffdd00" d="M32.8 276.2h7.4v7.4h-7.4z"/><path fill="#fdff00" d="M39.6 276.2h7.4v7.4h-7.4z"/><path fill="#d9ff00" d="M46.4 276.2h7.4v7.4h-7.4z"/><path fill="#bbff00" d="M53.2 276.2h7.4v7.4h-7.4z"/><path fill="#a4ff00" d="M60.0 276.2h7.4v7.4h-7.4z"/><path fill="#93ff00" d="M66.8 276.2h7.4v7.4h-7.4z"/><path fill="#84ff00" d="M73.5 276.2h7.4v7.4h-7.4z"/><path fill="#79ff00" d="M80.3 276.2h7.4v7.4h-7.4z"/><path fill="#72ff00" d="M87.1 276.2h7.4v7.4h-7.4z"/><path fill="#6fff00" d="M93.9 276.2h7.4v7.4h-7.4z"/><path fill="#5eff00" d="M100.7 276.2h7.4v7.4h-7.4z"/><path fill="#40ff00" d="M107.5 276.2h7.4v7.4h-7.4z"/><path fill="#3eff00" d="M114.3 276.2h7.4v7.4h-7.4z"/><path fill="#5aff00" d="M121.1 276.2h7.4v7.4h-7.4z"/><path fill="#78ff00" d="M127.9 276.2h7.4v7.4h-7.4z"/><path fill="#99ff00" d="M134.7 276.2h7.4v7.4h-7.4z"/><path fill="#bdff00" d="M141.5 276.2h7.4v7.4h-7.4z"/><path fill="#e4ff00" d="M148.2 276.2h7.4v7.4h-7.4z"/><path fill="#f6ff00" d="M155.0 276.2h7.4v7.4h-7.4z"/><path fill="#f2ff00" d="M161.8 276.2h7.4v7.4h-7.4z"/><path fill="#e5ff00" d="M168.6 276.2h7.4v7.4h-7.4z"/><path fill="#d1ff00" d="M175.4 276.2h7.4v7.4h-7.4z"/><path fill="#c7ff00" d="M182.2 276.2h7.4v7.4h-7.4z"/><path fill="#c7ff00" d="M189.0 276.2h7.4v7.4h-7.4z"/><path fill="#c7ff00" d="M195.8 276.2h7.4v7.4h-7.4z"/><path fill="#ffbb00" d="M12.4 283.0h7.4v7.4h-7.4z"/><path fill="#ffbb00" d="M19.2 283.0h7.4v7.4h-7.4z"/><path fill="#ffbb00" d="M26.0 283.0h7.4v7.4h-7.4z"/><path fill="#ffcf00" d="M32.8 283.0h7.4v7.4h-7.4z"/><path fill="#fffa00" d="M39.6 283.0h7.4v7.4h-7.4z"/><path fill="#daff00" d="M46.4 283.0h7.4v7.4h-7.4z"/><path fill="#b6ff00" d="M53.2 283.0h7.4v7.4h-7.4z"/><path fill="#a7ff00" d="M60.0 283.0h7.4v7.4h-7.4z"/><path fill="#aeff00" d="M66.8 283.0h7.4v7.4h-7.4z"/><path fill="#b8ff00" d="M73.5 283.0h7.4v7.4h-7.4z"/><path fill="#c5ff00" d="M80.3 283.0h7.4v7.4h-7.4z"/><path fill="#c1ff00" d="M87.1 283.0h7.4v7.4h-7.4z"/><path fill="#acff00" d="M93.9 283.0h7.4v7.4h-7.4z"/><path fill="#91ff00" d="M100.7 283.0h7.4v7.4h-7.4z"/><path fill="#7aff00" d="M107.5 283.0h7.4v7.4h-7.4z"/><path fill="#83ff00" d="M114.3 283.0h7.4v7.4h-7.4z"/><path fill="#abff00" d="M121.1 283.0h7.4v7.4h-7.4z"/><path fill="#b4ff00" d="M127.9 283.0h7.4v7.4h-7.4z"/><path fill="#adff00" d="M134.7 283.0h7.4v7.4h-7.4z"/><path fill="#b4ff00" d="M141.5 283.0h7.4v7.4h-7.4z"/><path fill="#caff00" d="M148.2 283.0h7.4v7.4h-7.4z"/><path fill="#dbff00" d="M155.0 283.0h7.4v7.4h-7.4z"/><path fill="#e8ff00" d="M161.8 283.0h7.4v7.4h-7.4z"/><path fill="#e8ff00" d="M168.6 283.0h7.4v7.4h-7.4z"/><path fill="#daff00" d="M175.4 283.0h7.4v7.4h-7.4z"/><path fill="#d3ff00" d="M182.2 283.0h7.4v7.4h-7.4z"/><path fill="#d3ff00" d="M189.0 283.0h7.4v7.4h-7.4z"/><path fill="#d3ff00" d="M195.8 283.0h7.4v7.4h-7.4z"/><path fill="#ffb000" d="M12.4 289.8h7.4v7.4h-7.4z"/><path fill="#ffb000" d="M19.2 289.8h7.4v7.4h-7.4z"/><path fill="#ffb000" d="M26.0 289.8h7.4v7.4h-7.4z"/><path fill="#ffc700" d="M32.8 289.8h7.4v7.4h-7.4z"/><path fill="#fff900" d="M39.6 289.8h7.4v7.4h-7.4z"/><path fill="#d8ff00" d="M46.4 289.8h7.4v7.4h-7.4z"/><path fill="#b3ff00" d="M53.2 289.8h7.4v7.4h-7.4z"/><path fill="#b1ff00" d="M60.0 289.8h7.4v7.4h-7.4z"/><path fill="#d0ff00" d="M66.8 289.8h7.4v7.4h-7.4z"/><path fill="#f4ff00" d="M73.5 289.8h7.4v7.4h-7.4z"/><path fill="#ffe400" d="M80.3 289.8h7.4v7.4h-7.4z"/><path fill="#fff000" d="M87.1 289.8h7.4v7.4h-7.4z"/><path fill="#cbff00" d="M93.9 289.8h7.4v7.4h-7.4z"/><path fill="#b0ff00" d="M100.7 289.8h7.4v7.4h-7.4z"/><path fill="#bfff00" d="M107.5 289.8h7.4v7.4h-7.4z"/><path fill="#d9ff00" d="M114.3 289.8h7.4v7.4h-7.4z"/><path fill="#feff00" d="M121.1 289.8h7.4v7.4h-7.4z"/><path fill="#f6ff00" d="M127.9 289.8h7.4v7.4h-7.4z"/><path fill="#c2ff00" d="M134.7 289.8h7.4v7.4h-7.4z"/><path fill="#b2ff00" d="M141.5 289.8h7.4v7.4h-7.4z"/><path fill="#c5ff00" d="M148.2 289.8h7.4v7.4h-7.4z"/><path fill="#d6ff00" d="M155.0 289.8h7.4v7.4h-7.4z"/><path fill="#e4ff00" d="M161.8 289.8h7.4v7.4h-7.4z"/><path fill="#e8ff00" d="M168.6 289.8h7.4v7.4h-7.4z"/><path fill="#e1ff00" d="M175.4 289.8h7.4v7.4h-7.4z"/><path fill="#deff00" d="M182.2 289.8h7.4v7.4h-7.4z"/><path fill="#deff00" d="M189.0 289.8h7.4v7.4h-7.4z"/><path fill="#deff00" d="M195.8 289.8h7.4v7.4h-7.4z"/><path fill="#ffc200" d="M12.4 296.5h7.4v7.4h-7.4z"/><path fill="#ffc200" d="M19.2 296.5h7.4v7.4h-7.4z"/><path fill="#ffc200" d="M26.0 296.5h7.4v7.4h-7.4z"/><path fill="#ffd500" d="M32.8 296.5h7.4v7.4h-7.4z"/><path fill="#fffc00" d="M39.6 296.5h7.4v7.4h-7.4z"/><path fill="#d9ff00" d="M46.4 296.5h7.4v7.4h-7.4z"/><path fill="#b3ff00" d="M53.2 296.5h7.4v7.4h-7.4z"/><path fill="#b2ff00" d="M60.0 296.5h7.4v7.4h-7.4z"/><path fill="#d5ff00" d="M66.8 296.5h7.4v7.4h-7.4z"/><path fill="#ffff00" d="M73.5 296.5h7.4v7.4h-7.4z"/><path fill="#ffd100" d="M80.3 296.5h7.4v7.4h-7.4z"/><path fill="#ffdf00" d="M87.1 296.5h7.4v7.4h-7.4z"/><path fill="#d0ff00" d="M93.9 296.5h7.4v7.4h-7.4z"/><path fill="#b5ff00" d="M100.7 296.5h7.4v7.4h-7.4z"/><path fill="#cfff00" d="M107.5 296.5h7.4v7.4h-7.4z"/><path fill="#f0ff00" d="M114.3 296.5h7.4v7.4h-7.4z"/><path fill="#ffe900" d="M121.1 296.5h7.4v7.4h-7.4z"/><path fill="#fff100" d="M127.9 296.5h7.4v7.4h-7.4z"/><path fill="#d6ff00" d="M134.7 296.5h7.4v7.4h-7.4z"/><path fill="#c1ff00" d="M141.5 296.5h7.4v7.4h-7.4z"/><path fill="#d0ff00" d="M148.2 296.5h7.4v7.4h-7.4z"/><path fill="#e0ff00" d="M155.0 296.5h7.4v7.4h-7.4z"/><path fill="#f0ff00" d="M161.8 296.5h7.4v7.4h-7.4z"/><path fill="#fcff00" d="M168.6 296.5h7.4v7.4h-7.4z"/><path fill="#fffb00" d="M175.4 296.5h7.4v7.4h-7.4z"/><path fill="#fff700" d="M182.2 296.5h7.4v7.4h-7.4z"/><path fill="#fff700" d="M189.0 296.5h7.4v7.4h-7.4z"/><path fill="#fff700" d="M195.8 296.5h7.4v7.4h-7.4z"/><path fill="#fff100" d="M12.4 303.3h7.4v7.4h-7.4z"/><path fill="#fff100" d="M19.2 303.3h7.4v7.4h-7.4z"/><path fill="#fff100" d="M26.0 303.3h7.4v7.4h-7.4z"/><path fill="#fff800" d="M32.8 303.3h7.4v7.4h-7.4z"/><path fill="#f8ff00" d="M39.6 303.3h7.4v7.4h-7.4z"/><path fill="#ddff00" d="M46.4 303.3h7.4v7.4h-7.4z"/><path fill="#b6ff00" d="M53.2 303.3h7.4v7.4h-7.4z"/><path fill="#abff00" d="M60.0 303.3h7.4v7.4h-7.4z"/><path fill="#bbff00" d="M66.8 303.3h7.4v7.4h-7.4z"/><path fill="#d8ff00" d="M73.5 303.3h7.4v7.4h-7.4z"/><path fill="#fffe00" d="M80.3 303.3h7.4v7.4h-7.4z"/><path fill="#f7ff00" d="M87.1 303.3h7.4v7.4h-7.4z"/><path fill="#bbff00" d="M93.9 303.3h7.4v7.4h-7.4z"/><path fill="#a5ff00" d="M100.7 303.3h7.4v7.4h-7.4z"/><path fill="#baff00" d="M107.5 303.3h7.4v7.4h-7.4z"/><path fill="#d4ff00" d="M114.3 303.3h7.4v7.4h-7.4z"/><path fill="#f5ff00" d="M121.1 303.3h7.4v7.4h-7.4z"/><path fill="#fcff00" d="M127.9 303.3h7.4v7.4h-7.4z"/><path fill="#e8ff00" d="M134.7 303.3h7.4v7.4h-7.4z"/><path fill="#e2ff00" d="M141.5 303.3h7.4v7.4h-7.4z"/><path fill="#ebff00" d="M148.2 303.3h7.4v7.4h-7.4z"/><path fill="#f9ff00" d="M155.0 303.3h7.4v7.4h-7.4z"/><path fill="#fff200" d="M161.8 303.3h7.4v7.4h-7.4z"/><path fill="#ffda00" d="M168.6 303.3h7.4v7.4h-7.4z"/><path fill="#ffc000" d="M175.4 303.3h7.4v7.4h-7.4z"/><path fill="#ffb400" d="M182.2 303.3h7.4v7.4h-7.4z"/><path fill="#ffb400" d="M189.0 303.3h7.4v7.4h-7.4z"/><path fill="#ffb400" d="M195.8 303.3h7.4v7.4h-7.4z"/><path fill="#f7ff00" d="M12.4 310.1h7.4v7.4h-7.4z"/><path fill="#f7ff00" d="M19.2 310.1h7.4v7.4h-7.4z"/><path fill="#f7ff00" d="M26.0 310.1h7.4v7.4h-7.4z"/><path fill="#f4ff00" d="M32.8 310.1h7.4v7.4h-7.4z"/><path fill="#eeff00" d="M39.6 310.1h7.4v7.4h-7.4z"/><path fill="#daff00" d="M46.4 310.1h7.4v7.4h-7.4z"/><path fill="#b8ff00" d="M53.2 310.1h7.4v7.4h-7.4z"/><path fill="#a7ff00" d="M60.0 310.1h7.4v7.4h-7.4z"/><path fill="#aaff00" d="M66.8 310.1h7.4v7.4h-7.4z"/><path fill="#b7ff00" d="M73.5 310.1h7.4v7.4h-7.4z"/><path fill="#ceff00" d="M80.3 310.1h7.4v7.4h-7.4z"/><path fill="#c6ff00" d="M87.1 310.1h7.4v7.4h-7.4z"/><path fill="#99ff00" d="M93.9 310.1h7.4v7.4h-7.4z"/><path fill="#86ff00" d="M100.7 310.1h7.4v7.4h-7.4z"/><path fill="#9dff00" d="M107.5 310.1h7.4v7.4h-7.4z"/><path fill="#b5ff00" d="M114.3 310.1h7.4v7.4h-7.4z"/><path fill="#cfff00" d="M121.1 310.1h7.4v7.4h-7.4z"/><path fill="#e1ff00" d="M127.9 310.1h7.4v7.4h-7.4z"/><path fill="#ebff00" d="M134.7 310.1h7.4v7.4h-7.4z"/><path fill="#f3ff00" d="M141.5 310.1h7.4v7.4h-7.4z"/><path fill="#faff00" d="M148.2 310.1h7.4v7.4h-7.4z"/><path fill="#fff200" d="M155.0 310.1h7.4v7.4h-7.4z"/><path fill="#ffd400" d="M161.8 310.1h7.4v7.4h-7.4z"/><path fill="#ffb300" d="M168.6 310.1h7.4v7.4h-7.4z"/><path fill="#ff9000" d="M175.4 310.1h7.4v7.4h-7.4z"/><path fill="#ff7f00" d="M182.2 310.1h7.4v7.4h-7.4z"/><path fill="#ff7f00" d="M189.0 310.1h7.4v7.4h-7.4z"/><path fill="#ff7f00" d="M195.8 310.1h7.4v7.4h-7.4z"/><path fill="#faff00" d="M12.4 316.9h7.4v7.4h-7.4z"/><path fill="#faff00" d="M19.2 316.9h7.4v7.4h-7.4z"/><path fill="#faff00" d="M26.0 316.9h7.4v7.4h-7.4z"/><path fill="#f3ff00" d="M32.8 316.9h7.4v7.4h-7.4z"/><path fill="#e4ff00" d="M39.6 316.9h7.4v7.4h-7.4z"/><path fill="#d1ff00" d="M46.4 316.9h7.4v7.4h-7.4z"/><path fill="#baff00" d="M53.2 316.9h7.4v7.4h-7.4z"/><path fill="#aaff00" d="M60.0 316.9h7.4v7.4h-7.4z"/><path fill="#9eff00" d="M66.8 316.9h7.4v7.4h-7.4z"/><path fill="#95ff00" d="M73.5 316.9h7.4v7.4h-7.4z"/><path fill="#91ff00" d="M80.3 316.9h7.4v7.4h-7.4z"/><path fill="#81ff00" d="M87.1 316.9h7.4v7.4h-7.4z"/><path fill="#64ff00" d="M93.9 316.9h7.4v7.4h-7.4z"/><path fill="#5fff00" d="M100.7 316.9h7.4v7.4h-7.4z"/><path fill="#72ff00" d="M107.5 316.9h7.4v7.4h-7.4z"/><path fill="#88ff00" d="M114.3 316.9h7.4v7.4h-7.4z"/><path fill="#a1ff00" d="M121.1 316.9h7.4v7.4h-7.4z"/><path fill="#bdff00" d="M127.9 316.9h7.4v7.4h-7.4z"/><path fill="#e0ff00" d="M134.7 316.9h7.4v7.4h-7.4z"/><path fill="#f5ff00" d="M141.5 316.9h7.4v7.4h-7.4z"/><path fill="#fcff00" d="M148.2 316.9h7.4v7.4h-7.4z"/><path fill="#ffe500" d="M155.0 316.9h7.4v7.4h-7.4z"/><path fill="#ffb300" d="M161.8 316.9h7.4v7.4h-7.4z"/><path fill="#ff8800" d="M168.6 316.9h7.4v7.4h-7.4z"/><path fill="#ff6800" d="M175.4 316.9h7.4v7.4h-7.4z"/><path fill="#ff5800" d="M182.2 316.9h7.4v7.4h-7.4z"/><path fill="#ff5800" d="M189.0 316.9h7.4v7.4h-7.4z"/><path fill="#ff5800" d="M195.8 316.9h7.4v7.4h-7.4z"/><path fill="#fffc00" d="M12.4 323.7h7.4v7.4h-7.4z"/><path fill="#fffc00" d="M19.2 323.7h7.4v7.4h-7.4z"/><path fill="#fffc00" d="M26.0 323.7h7.4v7.4h-7.4z"/><path fill="#fdff00" d="M32.8 323.7h7.4v7.4h-7.4z"/><path fill="#f1ff00" d="M39.6 323.7h7.4v7.4h-7.4z"/><path fill="#e3ff00" d="M46.4 323.7h7.4v7.4h-7.4z"/><path fill="#d1ff00" d="M53.2 323.7h7.4v7.4h-7.4z"/><path fill="#c2ff00" d="M60.0 323.7h7.4v7.4h-7.4z"/><path fill="#b5ff00" d="M66.8 323.7h7.4v7.4h-7.4z"/><path fill="#a3ff00" d="M73.5 323.7h7.4v7.4h-7.4z"/><path fill="#86ff00" d="M80.3 323.7h7.4v7.4h-7.4z"/><path fill="#7fff00" d="M87.1 323.7h7.4v7.4h-7.4z"/><path fill="#8eff00" d="M93.9 323.7h7.4v7.4h-7.4z"/><path fill="#90ff00" d="M100.7 323.7h7.4v7.4h-7.4z"/><path fill="#83ff00" d="M107.5 323.7h7.4v7.4h-7.4z"/><path fill="#7eff00" d="M114.3 323.7h7.4v7.4h-7.4z"/><path fill="#81ff00" d="M121.1 323.7h7.4v7.4h-7.4z"/><path fill="#a7ff00" d="M127.9 323.7h7.4v7.4h-7.4z"/><path fill="#d8ff00" d="M134.7 323.7h7.4v7.4h-7.4z"/><path fill="#f9ff00" d="M141.5 323.7h7.4v7.4h-7.4z"/><path fill="#fff400" d="M148.2 323.7h7.4v7.4h-7.4z"/><path fill="#ffe000" d="M155.0 323.7h7.4v7.4h-7.4z"/><path fill="#ffc700" d="M161.8 323.7h7.4v7.4h-7.4z"/><path fill="#ffb400" d="M168.6 323.7h7.4v7.4h-7.4z"/><path fill="#ffa400" d="M175.4 323.7h7.4v7.4h-7.4z"/><path fill="#ff9d00" d="M182.2 323.7h7.4v7.4h-7.4z"/><path fill="#ff9d00" d="M189.0 323.7h7.4v7.4h-7.4z"/><path fill="#ff9d00" d="M195.8 323.7h7.4v7.4h-7.4z"/><path fill="#fff000" d="M12.4 330.5h7.4v7.4h-7.4z"/><path fill="#fff000" d="M19.2 330.5h7.4v7.4h-7.4z"/><path fill="#fff000" d="M26.0 330.5h7.4v7.4h-7.4z"/><path fill="#ffee00" d="M32.8 330.5h7.4v7.4h-7.4z"/><path fill="#ffe900" d="M39.6 330.5h7.4v7.4h-7.4z"/><path fill="#ffee00" d="M46.4 330.5h7.4v7.4h-7.4z"/><path fill="#fffe00" d="M53.2 330.5h7.4v7.4h-7.4z"/><path fill="#f1ff00" d="M60.0 330.5h7.4v7.4h-7.4z"/><path fill="#e4ff00" d="M66.8 330.5h7.4v7.4h-7.4z"/><path fill="#d1ff00" d="M73.5 330.5h7.4v7.4h-7.4z"/><path fill="#b8ff00" d="M80.3 330.5h7.4v7.4h-7.4z"/><path fill="#c3ff00" d="M87.1 330.5h7.4v7.4h-7.4z"/><path fill="#f2ff00" d="M93.9 330.5h7.4v7.4h-7.4z"/><path fill="#f2ff00" d="M100.7 330.5h7.4v7.4h-7.4z"/><path fill="#c3ff00" d="M107.5 330.5h7.4v7.4h-7.4z"/><path fill="#9fff00" d="M114.3 330.5h7.4v7.4h-7.4z"/><path fill="#85ff00" d="M121.1 330.5h7.4v7.4h-7.4z"/><path fill="#9eff00" d="M127.9 330.5h7.4v7.4h-7.4z"/><path fill="#d5ff00" d="M134.7 330.5h7.4v7.4h-7.4z"/><path fill="#fffd00" d="M141.5 330.5h7.4v7.4h-7.4z"/><path fill="#ffdc00" d="M148.2 330.5h7.4v7.4h-7.4z"/><path fill="#ffe200" d="M155.0 330.5h7.4v7.4h-7.4z"/><path fill="#ebff00" d="M161.8 330.5h7.4v7.4h-7.4z"/><path fill="#d0ff00" d="M168.6 330.5h7.4v7.4h-7.4z"/><path fill="#cdff00" d="M175.4 330.5h7.4v7.4h-7.4z"/><path fill="#cbff00" d="M182.2 330.5h7.4v7.4h-7.4z"/><path fill="#cbff00" d="M189.0 330.5h7.4v7.4h-7.4z"/><path fill="#cbff00" d="M195.8 330.5h7.4v7.4h-7.4z"/><path fill="#ffda00" d="M12.4 337.3h7.4v7.4h-7.4z"/><path fill="#ffda00" d="M19.2 337.3h7.4v7.4h-7.4z"/><path fill="#ffda00" d="M26.0 337.3h7.4v7.4h-7.4z"/><path fill="#ffd500" d="M32.8 337.3h7.4v7.4h-7.4z"/><path fill="#ffcb00" d="M39.6 337.3h7.4v7.4h-7.4z"/><path fill="#ffce00" d="M46.4 337.3h7.4v7.4h-7.4z"/><path fill="#ffe000" d="M53.2 337.3h7.4v7.4h-7.4z"/><path fill="#fff100" d="M60.0 337.3h7.4v7.4h-7.4z"/><path fill="#fbff00" d="M66.8 337.3h7.4v7.4h-7.4z"/><path fill="#e4ff00" d="M73.5 337.3h7.4v7.4h-7.4z"/><path fill="#cbff00" d="M80.3 337.3h7.4v7.4h-7.4z"/><path fill="#d9ff00" d="M87.1 337.3h7.4v7.4h-7.4z"/><path fill="#fff000" d="M93.9 337.3h7.4v7.4h-7.4z"/><path fill="#ffe900" d="M100.7 337.3h7.4v7.4h-7.4z"/><path fill="#efff00" d="M107.5 337.3h7.4v7.4h-7.4z"/><path fill="#d3ff00" d="M114.3 337.3h7.4v7.4h-7.4z"/><path fill="#c1ff00" d="M121.1 337.3h7.4v7.4h-7.4z"/><path fill="#c5ff00" d="M127.9 337.3h7.4v7.4h-7.4z"/><path fill="#dfff00" d="M134.7 337.3h7.4v7.4h-7.4z"/><path fill="#faff00" d="M141.5 337.3h7.4v7.4h-7.4z"/><path fill="#ffe900" d="M148.2 337.3h7.4v7.4h-7.4z"/><path fill="#fff600" d="M155.0 337.3h7.4v7.4h-7.4z"/><path fill="#cfff00" d="M161.8 337.3h7.4v7.4h-7.4z"/><path fill="#adff00" d="M168.6 337.3h7.4v7.4h-7.4z"/><path fill="#a0ff00" d="M175.4 337.3h7.4v7.4h-7.4z"/><path fill="#99ff00" d="M182.2 337.3h7.4v7.4h-7.4z"/><path fill="#99ff00" d="M189.0 337.3h7.4v7.4h-7.4z"/><path fill="#99ff00" d="M195.8 337.3h7.4v7.4h-7.4z"/><path fill="#ffb800" d="M12.4 344.1h7.4v7.4h-7.4z"/><path fill="#ffb800" d="M19.2 344.1h7.4v7.4h-7.4z"/><path fill="#ffb800" d="M26.0 344.1h7.4v7.4h-7.4z"/><path fill="#ffb600" d="M32.8 344.1h7.4v7.4h-7.4z"/><path fill="#ffb100" d="M39.6 344.1h7.4v7.4h-7.4z"/><path fill="#ffb900" d="M46.4 344.1h7.4v7.4h-7.4z"/><path fill="#ffcf00" d="M53.2 344.1h7.4v7.4h-7.4z"/><path fill="#ffe800" d="M60.0 344.1h7.4v7.4h-7.4z"/><path fill="#faff00" d="M66.8 344.1h7.4v7.4h-7.4z"/><path fill="#e0ff00" d="M73.5 344.1h7.4v7.4h-7.4z"/><path fill="#caff00" d="M80.3 344.1h7.4v7.4h-7.4z"/><path fill="#ceff00" d="M87.1 344.1h7.4v7.4h-7.4z"/><path fill="#eeff00" d="M93.9 344.1h7.4v7.4h-7.4z"/><path fill="#fff900" d="M100.7 344.1h7.4v7.4h-7.4z"/><path fill="#ffeb00" d="M107.5 344.1h7.4v7.4h-7.4z"/><path fill="#ffe400" d="M114.3 344.1h7.4v7.4h-7.4z"/><path fill="#ffe300" d="M121.1 344.1h7.4v7.4h-7.4z"/><path fill="#fff000" d="M127.9 344.1h7.4v7.4h-7.4z"/><path fill="#f5ff00" d="M134.7 344.1h7.4v7.4h-7.4z"/><path fill="#e6ff00" d="M141.5 344.1h7.4v7.4h-7.4z"/><path fill="#e1ff00" d="M148.2 344.1h7.4v7.4h-7.4z"/><path fill="#e1ff00" d="M155.0 344.1h7.4v7.4h-7.4z"/><path fill="#e5ff00" d="M161.8 344.1h7.4v7.4h-7.4z"/><path fill="#e6ff00" d="M168.6 344.1h7.4v7.4h-7.4z"/><path fill="#e2ff00" d="M175.4 344.1h7.4v7.4h-7.4z"/><path fill="#e1ff00" d="M182.2 344.1h7.4v7.4h-7.4z"/><path fill="#e1ff00" d="M189.0 344.1h7.4v7.4h-7.4z"/><path fill="#e1ff00" d="M195.8 344.1h7.4v7.4h-7.4z"/><path fill="#ffa800" d="M12.4 350.9h7.4v7.4h-7.4z"/><path fill="#ffa800" d="M19.2 350.9h7.4v7.4h-7.4z"/><path fill="#ffa800" d="M26.0 350.9h7.4v7.4h-7.4z"/><path fill="#ffa800" d="M32.8 350.9h7.4v7.4h-7.4z"/><path fill="#ffa700" d="M39.6 350.9h7.4v7.4h-7.4z"/><path fill="#ffb300" d="M46.4 350.9h7.4v7.4h-7.4z"/><path fill="#ffca00" d="M53.2 350.9h7.4v7.4h-7.4z"/><path fill="#ffe400" d="M60.0 350.9h7.4v7.4h-7.4z"/><path fill="#fcff00" d="M66.8 350.9h7.4v7.4h-7.4z"/><path fill="#e0ff00" d="M73.5 350.9h7.4v7.4h-7.4z"/><path fill="#c7ff00" d="M80.3 350.9h7.4v7.4h-7.4z"/><path fill="#c3ff00" d="M87.1 350.9h7.4v7.4h-7.4z"/><path fill="#d4ff00" d="M93.9 350.9h7.4v7.4h-7.4z"/><path fill="#f0ff00" d="M100.7 350.9h7.4v7.4h-7.4z"/><path fill="#ffe800" d="M107.5 350.9h7.4v7.4h-7.4z"/><path fill="#ffcc00" d="M114.3 350.9h7.4v7.4h-7.4z"/><path fill="#ffb900" d="M121.1 350.9h7.4v7.4h-7.4z"/><path fill="#ffc800" d="M127.9 350.9h7.4v7.4h-7.4z"/><path fill="#fffa00" d="M134.7 350.9h7.4v7.4h-7.4z"/><path fill="#e1ff00" d="M141.5 350.9h7.4v7.4h-7.4z"/><path fill="#d1ff00" d="M148.2 350.9h7.4v7.4h-7.4z"/><path fill="#daff00" d="M155.0 350.9h7.4v7.4h-7.4z"/><path fill="#fcff00" d="M161.8 350.9h7.4v7.4h-7.4z"/><path fill="#fff300" d="M168.6 350.9h7.4v7.4h-7.4z"/><path fill="#fff700" d="M175.4 350.9h7.4v7.4h-7.4z"/><path fill="#fff800" d="M182.2 350.9h7.4v7.4h-7.4z"/><path fill="#fff800" d="M189.0 350.9h7.4v7.4h-7.4z"/><path fill="#fff800" d="M195.8 350.9h7.4v7.4h-7.4z"/><path fill="#ffab00" d="M12.4 357.7h7.4v7.4h-7.4z"/><path fill="#ffab00" d="M19.2 357.7h7.4v7.4h-7.4z"/><path fill="#ffab00" d="M26.0 357.7h7.4v7.4h-7.4z"/><path fill="#ffad00" d="M32.8 357.7h7.4v7.4h-7.4z"/><path fill="#ffaf00" d="M39.6 357.7h7.4v7.4h-7.4z"/><path fill="#ffbb00" d="M46.4 357.7h7.4v7.4h-7.4z"/><path fill="#ffd000" d="M53.2 357.7h7.4v7.4h-7.4z"/><path fill="#ffe600" d="M60.0 357.7h7.4v7.4h-7.4z"/><path fill="#fffc00" d="M66.8 357.7h7.4v7.4h-7.4z"/><path fill="#e5ff00" d="M73.5 357.7h7.4v7.4h-7.4z"/><path fill="#c2ff00" d="M80.3 357.7h7.4v7.4h-7.4z"/><path fill="#b6ff00" d="M87.1 357.7h7.4v7.4h-7.4z"/><path fill="#c0ff00" d="M93.9 357.7h7.4v7.4h-7.4z"/><path fill="#d5ff00" d="M100.7 357.7h7.4v7.4h-7.4z"/><path fill="#f7ff00" d="M107.5 357.7h7.4v7.4h-7.4z"/><path fill="#ffe300" d="M114.3 357.7h7.4v7.4h-7.4z"/><path fill="#ffb900" d="M121.1 357.7h7.4v7.4h-7.4z"/><path fill="#ffbf00" d="M127.9 357.7h7.4v7.4h-7.4z"/><path fill="#fff300" d="M134.7 357.7h7.4v7.4h-7.4z"/><path fill="#edff00" d="M141.5 357.7h7.4v7.4h-7.4z"/><path fill="#e5ff00" d="M148.2 357.7h7.4v7.4h-7.4z"/><path fill="#f2ff00" d="M155.0 357.7h7.4v7.4h-7.4z"/><path fill="#ffec00" d="M161.8 357.7h7.4v7.4h-7.4z"/><path fill="#ffe200" d="M168.6 357.7h7.4v7.4h-7.4z"/><path fill="#ffeb00" d="M175.4 357.7h7.4v7.4h-7.4z"/><path fill="#ffef00" d="M182.2 357.7h7.4v7.4h-7.4z"/><path fill="#ffef00" d="M189.0 357.7h7.4v7.4h-7.4z"/><path fill="#ffef00" d="M195.8 357.7h7.4v7.4h-7.4z"/><path fill="#ffa300" d="M12.4 364.5h7.4v7.4h-7.4z"/><path fill="#ffa300" d="M19.2 364.5h7.4v7.4h-7.4z"/><path fill="#ffa300" d="M26.0 364.5h7.4v7.4h-7.4z"/><path fill="#ffad00" d="M32.8 364.5h7.4v7.4h-7.4z"/><path fill="#ffc000" d="M39.6 364.5h7.4v7.4h-7.4z"/><path fill="#ffc900" d="M46.4 364.5h7.4v7.4h-7.4z"/><path fill="#ffc600" d="M53.2 364.5h7.4v7.4h-7.4z"/><path fill="#ffd100" d="M60.0 364.5h7.4v7.4h-7.4z"/><path fill="#ffe900" d="M66.8 364.5h7.4v7.4h-7.4z"/><path fill="#f5ff00" d="M73.5 364.5h7.4v7.4h-7.4z"/><path fill="#cbff00" d="M80.3 364.5h7.4v7.4h-7.4z"/><path fill="#baff00" d="M87.1 364.5h7.4v7.4h-7.4z"/><path fill="#c2ff00" d="M93.9 364.5h7.4v7.4h-7.4z"/><path fill="#d1ff00" d="M100.7 364.5h7.4v7.4h-7.4z"/><path fill="#e9ff00" d="M107.5 364.5h7.4v7.4h-7.4z"/><path fill="#fff800" d="M114.3 364.5h7.4v7.4h-7.4z"/><path fill="#ffd800" d="M121.1 364.5h7.4v7.4h-7.4z"/><path fill="#ffd700" d="M127.9 364.5h7.4v7.4h-7.4z"/><path fill="#fff600" d="M134.7 364.5h7.4v7.4h-7.4z"/><path fill="#fffe00" d="M141.5 364.5h7.4v7.4h-7.4z"/><path fill="#fff000" d="M148.2 364.5h7.4v7.4h-7.4z"/><path fill="#ffe000" d="M155.0 364.5h7.4v7.4h-7.4z"/><path fill="#ffce00" d="M161.8 364.5h7.4v7.4h-7.4z"/><path fill="#ffcb00" d="M168.6 364.5h7.4v7.4h-7.4z"/><path fill="#ffd500" d="M175.4 364.5h7.4v7.4h-7.4z"/><path fill="#ffda00" d="M182.2 364.5h7.4v7.4h-7.4z"/><path fill="#ffda00" d="M189.0 364.5h7.4v7.4h-7.4z"/><path fill="#ffda00" d="M195.8 364.5h7.4v7.4h-7.4z"/><path fill="#ff9000" d="M12.4 371.2h7.4v7.4h-7.4z"/><path fill="#ff9000" d="M19.2 371.2h7.4v7.4h-7.4z"/><path fill="#ff9000" d="M26.0 371.2h7.4v7.4h-7.4z"/><path fill="#ffa900" d="M32.8 371.2h7.4v7.4h-7.4z"/><path fill="#ffdb00" d="M39.6 371.2h7.4v7.4h-7.4z"/><path fill="#ffde00" d="M46.4 371.2h7.4v7.4h-7.4z"/><path fill="#ffae00" d="M53.2 371.2h7.4v7.4h-7.4z"/><path fill="#ffa600" d="M60.0 371.2h7.4v7.4h-7.4z"/><path fill="#ffc800" d="M66.8 371.2h7.4v7.4h-7.4z"/><path fill="#ffee00" d="M73.5 371.2h7.4v7.4h-7.4z"/><path fill="#e2ff00" d="M80.3 371.2h7.4v7.4h-7.4z"/><path fill="#cfff00" d="M87.1 371.2h7.4v7.4h-7.4z"/><path fill="#d9ff00" d="M93.9 371.2h7.4v7.4h-7.4z"/><path fill="#e4ff00" d="M100.7 371.2h7.4v7.4h-7.4z"/><path fill="#eeff00" d="M107.5 371.2h7.4v7.4h-7.4z"/><path fill="#f0ff00" d="M114.3 371.2h7.4v7.4h-7.4z"/><path fill="#e8ff00" d="M121.1 371.2h7.4v7.4h-7.4z"/><path fill="#ebff00" d="M127.9 371.2h7.4v7.4h-7.4z"/><path fill="#f9ff00" d="M134.7 371.2h7.4v7.4h-7.4z"/><path fill="#ffe600" d="M141.5 371.2h7.4v7.4h-7.4z"/><path fill="#ffb500" d="M148.2 371.2h7.4v7.4h-7.4z"/><path fill="#ff9f00" d="M155.0 371.2h7.4v7.4h-7.4z"/><path fill="#ffa500" d="M161.8 371.2h7.4v7.4h-7.4z"/><path fill="#ffad00" d="M168.6 371.2h7.4v7.4h-7.4z"/><path fill="#ffb600" d="M175.4 371.2h7.4v7.4h-7.4z"/><path fill="#ffba00" d="M182.2 371.2h7.4v7.4h-7.4z"/><path fill="#ffba00" d="M189.0 371.2h7.4v7.4h-7.4z"/><path fill="#ffba00" d="M195.8 371.2h7.4v7.4h-7.4z"/><path fill="#ffad00" d="M12.4 378.0h7.4v7.4h-7.4z"/><path fill="#ffad00" d="M19.2 378.0h7.4v7.4h-7.4z"/><path fill="#ffad00" d="M26.0 378.0h7.4v7.4h-7.4z"/><path fill="#ffc200" d="M32.8 378.0h7.4v7.4h-7.4z"/><path fill="#ffee00" d="M39.6 378.0h7.4v7.4h-7.4z"/><path fill="#ffed00" d="M46.4 378.0h7.4v7.4h-7.4z"/><path fill="#ffbd00" d="M53.2 378.0h7.4v7.4h-7.4z"/><path fill="#ffb400" d="M60.0 378.0h7.4v7.4h-7.4z"/><path fill="#ffd500" d="M66.8 378.0h7.4v7.4h-7.4z"/><path fill="#fff200" d="M73.5 378.0h7.4v7.4h-7.4z"/><path fill="#f1ff00" d="M80.3 378.0h7.4v7.4h-7.4z"/><path fill="#ebff00" d="M87.1 378.0h7.4v7.4h-7.4z"/><path fill="#fcff00" d="M93.9 378.0h7.4v7.4h-7.4z"/><path fill="#fbff00" d="M100.7 378.0h7.4v7.4h-7.4z"/><path fill="#ebff00" d="M107.5 378.0h7.4v7.4h-7.4z"/><path fill="#dbff00" d="M114.3 378.0h7.4v7.4h-7.4z"/><path fill="#cdff00" d="M121.1 378.0h7.4v7.4h-7.4z"/><path fill="#d7ff00" d="M127.9 378.0h7.4v7.4h-7.4z"/><path fill="#fcff00" d="M134.7 378.0h7.4v7.4h-7.4z"/><path fill="#ffd500" d="M141.5 378.0h7.4v7.4h-7.4z"/><path fill="#ff9b00" d="M148.2 378.0h7.4v7.4h-7.4z"/><path fill="#ff8300" d="M155.0 378.0h7.4v7.4h-7.4z"/><path fill="#ff9000" d="M161.8 378.0h7.4v7.4h-7.4z"/><path fill="#ff9a00" d="M168.6 378.0h7.4v7.4h-7.4z"/><path fill="#ffa300" d="M175.4 378.0h7.4v7.4h-7.4z"/><path fill="#ffa700" d="M182.2 378.0h7.4v7.4h-7.4z"/><path fill="#ffa700" d="M189.0 378.0h7.4v7.4h-7.4z"/><path fill="#ffa700" d="M195.8 378.0h7.4v7.4h-7.4z"/><path fill="#fff500" d="M12.4 384.8h7.4v7.4h-7.4z"/><path fill="#fff500" d="M19.2 384.8h7.4v7.4h-7.4z"/><path fill="#fff500" d="M26.0 384.8h7.4v7.4h-7.4z"/><path fill="#fff600" d="M32.8 384.8h7.4v7.4h-7.4z"/><path fill="#fff800" d="M39.6 384.8h7.4v7.4h-7.4z"/><path fill="#fff700" d="M46.4 384.8h7.4v7.4h-7.4z"/><path fill="#fff200" d="M53.2 384.8h7.4v7.4h-7.4z"/><path fill="#fffa00" d="M60.0 384.8h7.4v7.4h-7.4z"/><path fill="#ecff00" d="M66.8 384.8h7.4v7.4h-7.4z"/><path fill="#e8ff00" d="M73.5 384.8h7.4v7.4h-7.4z"/><path fill="#f8ff00" d="M80.3 384.8h7.4v7.4h-7.4z"/><path fill="#fff100" d="M87.1 384.8h7.4v7.4h-7.4z"/><path fill="#ffd800" d="M93.9 384.8h7.4v7.4h-7.4z"/><path fill="#ffe700" d="M100.7 384.8h7.4v7.4h-7.4z"/><path fill="#deff00" d="M107.5 384.8h7.4v7.4h-7.4z"/><path fill="#c8ff00" d="M114.3 384.8h7.4v7.4h-7.4z"/><path fill="#d8ff00" d="M121.1 384.8h7.4v7.4h-7.4z"/><path fill="#efff00" d="M127.9 384.8h7.4v7.4h-7.4z"/><path fill="#ffef00" d="M134.7 384.8h7.4v7.4h-7.4z"/><path fill="#ffcd00" d="M141.5 384.8h7.4v7.4h-7.4z"/><path fill="#ffa600" d="M148.2 384.8h7.4v7.4h-7.4z"/><path fill="#ff9100" d="M155.0 384.8h7.4v7.4h-7.4z"/><path fill="#ff9000" d="M161.8 384.8h7.4v7.4h-7.4z"/><path fill="#ff9400" d="M168.6 384.8h7.4v7.4h-7.4z"/><path fill="#ff9d00" d="M175.4 384.8h7.4v7.4h-7.4z"/><path fill="#ffa100" d="M182.2 384.8h7.4v7.4h-7.4z"/><path fill="#ffa100" d="M189.0 384.8h7.4v7.4h-7.4z"/><path fill="#ffa100" d="M195.8 384.8h7.4v7.4h-7.4z"/><path fill="#d5ff00" d="M12.4 391.6h7.4v7.4h-7.4z"/><path fill="#d5ff00" d="M19.2 391.6h7.4v7.4h-7.4z"/><path fill="#d5ff00" d="M26.0 391.6h7.4v7.4h-7.4z"/><path fill="#d8ff00" d="M32.8 391.6h7.4v7.4h-7.4z"/><path fill="#ddff00" d="M39.6 391.6h7.4v7.4h-7.4z"/><path fill="#ddff00" d="M46.4 391.6h7.4v7.4h-7.4z"/><path fill="#d7ff00" d="M53.2 391.6h7.4v7.4h-7.4z"/><path fill="#ceff00" d="M60.0 391.6h7.4v7.4h-7.4z"/><path fill="#c4ff00" d="M66.8 391.6h7.4v7.4h-7.4z"/><path fill="#c5ff00" d="M73.5 391.6h7.4v7.4h-7.4z"/><path fill="#d1ff00" d="M80.3 391.6h7.4v7.4h-7.4z"/><path fill="#e6ff00" d="M87.1 391.6h7.4v7.4h-7.4z"/><path fill="#fff900" d="M93.9 391.6h7.4v7.4h-7.4z"/><path fill="#feff00" d="M100.7 391.6h7.4v7.4h-7.4z"/><path fill="#d1ff00" d="M107.5 391.6h7.4v7.4h-7.4z"/><path fill="#c7ff00" d="M114.3 391.6h7.4v7.4h-7.4z"/><path fill="#e2ff00" d="M121.1 391.6h7.4v7.4h-7.4z"/><path fill="#fffe00" d="M127.9 391.6h7.4v7.4h-7.4z"/><path fill="#ffde00" d="M134.7 391.6h7.4v7.4h-7.4z"/><path fill="#ffc100" d="M141.5 391.6h7.4v7.4h-7.4z"/><path fill="#ffa600" d="M148.2 391.6h7.4v7.4h-7.4z"/><path fill="#ff9200" d="M155.0 391.6h7.4v7.4h-7.4z"/><path fill="#ff8700" d="M161.8 391.6h7.4v7.4h-7.4z"/><path fill="#ff8800" d="M168.6 391.6h7.4v7.4h-7.4z"/><path fill="#ff9400" d="M175.4 391.6h7.4v7.4h-7.4z"/><path fill="#ff9a00" d="M182.2 391.6h7.4v7.4h-7.4z"/><path fill="#ff9a00" d="M189.0 391.6h7.4v7.4h-7.4z"/><path fill="#ff9a00" d="M195.8 391.6h7.4v7.4h-7.4z"/><path fill="#b9ff00" d="M12.4 398.4h7.4v7.4h-7.4z"/><path fill="#b9ff00" d="M19.2 398.4h7.4v7.4h-7.4z"/><path fill="#b9ff00" d="M26.0 398.4h7.4v7.4h-7.4z"/><path fill="#afff00" d="M32.8 398.4h7.4v7.4h-7.4z"/><path fill="#91ff00" d="M39.6 398.4h7.4v7.4h-7.4z"/><path fill="#8cff00" d="M46.4 398.4h7.4v7.4h-7.4z"/><path fill="#a4ff00" d="M53.2 398.4h7.4v7.4h-7.4z"/><path fill="#b0ff00" d="M60.0 398.4h7.4v7.4h-7.4z"/><path fill="#b5ff00" d="M66.8 398.4h7.4v7.4h-7.4z"/><path fill="#a2ff00" d="M73.5 398.4h7.4v7.4h-7.4z"/><path fill="#69ff00" d="M80.3 398.4h7.4v7.4h-7.4z"/><path fill="#64ff00" d="M87.1 398.4h7.4v7.4h-7.4z"/><path fill="#91ff00" d="M93.9 398.4h7.4v7.4h-7.4z"/><path fill="#b2ff00" d="M100.7 398.4h7.4v7.4h-7.4z"/><path fill="#c4ff00" d="M107.5 398.4h7.4v7.4h-7.4z"/><path fill="#d7ff00" d="M114.3 398.4h7.4v7.4h-7.4z"/><path fill="#ecff00" d="M121.1 398.4h7.4v7.4h-7.4z"/><path fill="#fff500" d="M127.9 398.4h7.4v7.4h-7.4z"/><path fill="#ffd000" d="M134.7 398.4h7.4v7.4h-7.4z"/><path fill="#ffb300" d="M141.5 398.4h7.4v7.4h-7.4z"/><path fill="#ff9b00" d="M148.2 398.4h7.4v7.4h-7.4z"/><path fill="#ff8700" d="M155.0 398.4h7.4v7.4h-7.4z"/><path fill="#ff7500" d="M161.8 398.4h7.4v7.4h-7.4z"/><path fill="#ff7700" d="M168.6 398.4h7.4v7.4h-7.4z"/><path fill="#ff8a00" d="M175.4 398.4h7.4v7.4h-7.4z"/><path fill="#ff9200" d="M182.2 398.4h7.4v7.4h-7.4z"/><path fill="#ff9200" d="M189.0 398.4h7.4v7.4h-7.4z"/><path fill="#ff9200" d="M195.8 398.4h7.4v7.4h-7.4z"/><path fill="#acff00" d="M12.4 405.2h7.4v7.4h-7.4z"/><path fill="#acff00" d="M19.2 405.2h7.4v7.4h-7.4z"/><path fill="#acff00" d="M26.0 405.2h7.4v7.4h-7.4z"/><path fill="#94ff00" d="M32.8 405.2h7.4v7.4h-7.4z"/><path fill="#60ff00" d="M39.6 405.2h7.4v7.4h-7.4z"/><path fill="#59ff00" d="M46.4 405.2h7.4v7.4h-7.4z"/><path fill="#81ff00" d="M53.2 405.2h7.4v7.4h-7.4z"/><path fill="#9eff00" d="M60.0 405.2h7.4v7.4h-7.4z"/><path fill="#aeff00" d="M66.8 405.2h7.4v7.4h-7.4z"/><path fill="#8bff00" d="M73.5 405.2h7.4v7.4h-7.4z"/><path fill="#2fff00" d="M80.3 405.2h7.4v7.4h-7.4z"/><path fill="#1fff10" d="M87.1 405.2h7.4v7.4h-7.4z"/><path fill="#44ff00" d="M93.9 405.2h7.4v7.4h-7.4z"/><path fill="#7fff00" d="M100.7 405.2h7.4v7.4h-7.4z"/><path fill="#beff00" d="M107.5 405.2h7.4v7.4h-7.4z"/><path fill="#dfff00" d="M114.3 405.2h7.4v7.4h-7.4z"/><path fill="#f1ff00" d="M121.1 405.2h7.4v7.4h-7.4z"/><path fill="#fff100" d="M127.9 405.2h7.4v7.4h-7.4z"/><path fill="#ffc900" d="M134.7 405.2h7.4v7.4h-7.4z"/><path fill="#ffab00" d="M141.5 405.2h7.4v7.4h-7.4z"/><path fill="#ff9600" d="M148.2 405.2h7.4v7.4h-7.4z"/><path fill="#ff8100" d="M155.0 405.2h7.4v7.4h-7.4z"/><path fill="#ff6c00" d="M161.8 405.2h7.4v7.4h-7.4z"/><path fill="#ff6e00" d="M168.6 405.2h7.4v7.4h-7.4z"/><path fill="#ff8500" d="M175.4 405.2h7.4v7.4h-7.4z"/><path fill="#ff8f00" d="M182.2 405.2h7.4v7.4h-7.4z"/><path fill="#ff8f00" d="M189.0 405.2h7.4v7.4h-7.4z"/><path fill="#ff8f00" d="M195.8 405.2h7.4v7.4h-7.4z"/><path fill="#acff00" d="M12.4 412.0h7.4v7.4h-7.4z"/><path fill="#acff00" d="M19.2 412.0h7.4v7.4h-7.4z"/><path fill="#acff00" d="M26.0 412.0h7.4v7.4h-7.4z"/><path fill="#94ff00" d="M32.8 412.0h7.4v7.4h-7.4z"/><path fill="#60ff00" d="M39.6 412.0h7.4v7.4h-7.4z"/><path fill="#59ff00" d="M46.4 412.0h7.4v7.4h-7.4z"/><path fill="#81ff00" d="M53.2 412.0h7.4v7.4h-7.4z"/><path fill="#9eff00" d="M60.0 412.0h7.4v7.4h-7.4z"/><path fill="#aeff00" d="M66.8 412.0h7.4v7.4h-7.4z"/><path fill="#8bff00" d="M73.5 412.0h7.4v7.4h-7.4z"/><path fill="#2fff00" d="M80.3 412.0h7.4v7.4h-7.4z"/><path fill="#1fff10" d="M87.1 412.0h7.4v7.4h-7.4z"/><path fill="#44ff00" d="M93.9 412.0h7.4v7.4h-7.4z"/><path fill="#7fff00" d="M100.7 412.0h7.4v7.4h-7.4z"/><path fill="#beff00" d="M107.5 412.0h7.4v7.4h-7.4z"/><path fill="#dfff00" d="M114.3 412.0h7.4v7.4h-7.4z"/><path fill="#f1ff00" d="M121.1 412.0h7.4v7.4h-7.4z"/><path fill="#fff100" d="M127.9 412.0h7.4v7.4h-7.4z"/><path fill="#ffc900" d="M134.7 412.0h7.4v7.4h-7.4z"/><path fill="#ffab00" d="M141.5 412.0h7.4v7.4h-7.4z"/><path fill="#ff9600" d="M148.2 412.0h7.4v7.4h-7.4z"/><path fill="#ff8100" d="M155.0 412.0h7.4v7.4h-7.4z"/><path fill="#ff6c00" d="M161.8 412.0h7.4v7.4h-7.4z"/><path fill="#ff6e00" d="M168.6 412.0h7.4v7.4h-7.4z"/><path fill="#ff8500" d="M175.4 412.0h7.4v7.4h-7.4z"/><path fill="#ff8f00" d="M182.2 412.0h7.4v7.4h-7.4z"/><path fill="#ff8f00" d="M189.0 412.0h7.4v7.4h-7.4z"/><path fill="#ff8f00" d="M195.8 412.0h7.4v7.4h-7.4z"/><path fill="#acff00" d="M12.4 418.8h7.4v7.4h-7.4z"/><path fill="#acff00" d="M19.2 418.8h7.4v7.4h-7.4z"/><path fill="#acff00" d="M26.0 418.8h7.4v7.4h-7.4z"/><path fill="#94ff00" d="M32.8 418.8h7.4v7.4h-7.4z"/><path fill="#60ff00" d="M39.6 418.8h7.4v7.4h-7.4z"/><path fill="#59ff00" d="M46.4 418.8h7.4v7.4h-7.4z"/><path fill="#81ff00" d="M53.2 418.8h7.4v7.4h-7.4z"/><path fill="#9eff00" d="M60.0 418.8h7.4v7.4h-7.4z"/><path fill="#aeff00" d="M66.8 418.8h7.4v7.4h-7.4z"/><path fill="#8bff00" d="M73.5 418.8h7.4v7.4h-7.4z"/><path fill="#2fff00" d="M80.3 418.8h7.4v7.4h-7.4z"/><path fill="#1fff10" d="M87.1 418.8h7.4v7.4h-7.4z"/><path fill="#44ff00" d="M93.9 418.8h7.4v7.4h-7.4z"/><path fill="#7fff00" d="M100.7 418.8h7.4v7.4h-7.4z"/><path fill="#beff00" d="M107.5 418.8h7.4v7.4h-7.4z"/><path fill="#dfff00" d="M114.3 418.8h7.4v7.4h-7.4z"/><path fill="#f1ff00" d="M121.1 418.8h7.4v7.4h-7.4z"/><path fill="#fff100" d="M127.9 418.8h7.4v7.4h-7.4z"/><path fill="#ffc900" d="M134.7 418.8h7.4v7.4h-7.4z"/><path fill="#ffab00" d="M141.5 418.8h7.4v7.4h-7.4z"/><path fill="#ff9600" d="M148.2 418.8h7.4v7.4h-7.4z"/><path fill="#ff8100" d="M155.0 418.8h7.4v7.4h-7.4z"/><path fill="#ff6c00" d="M161.8 418.8h7.4v7.4h-7.4z"/><path fill="#ff6e00" d="M168.6 418.8h7.4v7.4h-7.4z"/><path fill="#ff8500" d="M175.4 418.8h7.4v7.4h-7.4z"/><path fill="#ff8f00" d="M182.2 418.8h7.4v7.4h-7.4z"/><path fill="#ff8f00" d="M189.0 418.8h7.4v7.4h-7.4z"/><path fill="#ff8f00" d="M195.8 418.8h7.4v7.4h-7.4z"/></g></g>
<g clip-path="url(#hc2)"><g filter="url(#hb2)"><path fill="#1cff15" d="M241.5 235.4h7.4v7.4h-7.4z"/><path fill="#1cff15" d="M248.3 235.4h7.4v7.4h-7.4z"/><path fill="#1cff15" d="M255.1 235.4h7.4v7.4h-7.4z"/><path fill="#1bff17" d="M261.9 235.4h7.4v7.4h-7.4z"/><path fill="#18ff1c" d="M268.7 235.4h7.4v7.4h-7.4z"/><path fill="#07ff3a" d="M275.5 235.4h7.4v7.4h-7.4z"/><path fill="#00ff95" d="M282.3 235.4h7.4v7.4h-7.4z"/><path fill="#00fad4" d="M289.1 235.4h7.4v7.4h-7.4z"/><path fill="#00f6f6" d="M295.9 235.4h7.4v7.4h-7.4z"/><path fill="#00f7ed" d="M302.6 235.4h7.4v7.4h-7.4z"/><path fill="#00fdbb" d="M309.4 235.4h7.4v7.4h-7.4z"/><path fill="#00ff7b" d="M316.2 235.4h7.4v7.4h-7.4z"/><path fill="#06ff3b" d="M323.0 235.4h7.4v7.4h-7.4z"/><path fill="#14ff24" d="M329.8 235.4h7.4v7.4h-7.4z"/><path fill="#18ff1d" d="M336.6 235.4h7.4v7.4h-7.4z"/><path fill="#17ff1e" d="M343.4 235.4h7.4v7.4h-7.4z"/><path fill="#12ff27" d="M350.2 235.4h7.4v7.4h-7.4z"/><path fill="#03ff40" d="M357.0 235.4h7.4v7.4h-7.4z"/><path fill="#00ff87" d="M363.8 235.4h7.4v7.4h-7.4z"/><path fill="#00fcc5" d="M370.6 235.4h7.4v7.4h-7.4z"/><path fill="#00f6f6" d="M377.4 235.4h7.4v7.4h-7.4z"/><path fill="#00f6fa" d="M384.1 235.4h7.4v7.4h-7.4z"/><path fill="#00fad1" d="M390.9 235.4h7.4v7.4h-7.4z"/><path fill="#00fad3" d="M397.7 235.4h7.4v7.4h-7.4z"/><path fill="#00f5fd" d="M404.5 235.4h7.4v7.4h-7.4z"/><path fill="#00e9ff" d="M411.3 235.4h7.4v7.4h-7.4z"/><path fill="#00e9ff" d="M418.1 235.4h7.4v7.4h-7.4z"/><path fill="#00e9ff" d="M424.9 235.4h7.4v7.4h-7.4z"/><path fill="#1cff15" d="M241.5 242.2h7.4v7.4h-7.4z"/><path fill="#1cff15" d="M248.3 242.2h7.4v7.4h-7.4z"/><path fill="#1cff15" d="M255.1 242.2h7.4v7.4h-7.4z"/><path fill="#1bff17" d="M261.9 242.2h7.4v7.4h-7.4z"/><path fill="#18ff1c" d="M268.7 242.2h7.4v7.4h-7.4z"/><path fill="#07ff3a" d="M275.5 242.2h7.4v7.4h-7.4z"/><path fill="#00ff95" d="M282.3 242.2h7.4v7.4h-7.4z"/><path fill="#00fad4" d="M289.1 242.2h7.4v7.4h-7.4z"/><path fill="#00f6f6" d="M295.9 242.2h7.4v7.4h-7.4z"/><path fill="#00f7ed" d="M302.6 242.2h7.4v7.4h-7.4z"/><path fill="#00fdbb" d="M309.4 242.2h7.4v7.4h-7.4z"/><path fill="#00ff7b" d="M316.2 242.2h7.4v7.4h-7.4z"/><path fill="#06ff3b" d="M323.0 242.2h7.4v7.4h-7.4z"/><path fill="#14ff24" d="M329.8 242.2h7.4v7.4h-7.4z"/><path fill="#18ff1d" d="M336.6 242.2h7.4v7.4h-7.4z"/><path fill="#17ff1e" d="M343.4 242.2h7.4v7.4h-7.4z"/><path fill="#12ff27" d="M350.2 242.2h7.4v7.4h-7.4z"/><path fill="#03ff40" d="M357.0 242.2h7.4v7.4h-7.4z"/><path fill="#00ff87" d="M363.8 242.2h7.4v7.4h-7.4z"/><path fill="#00fcc5" d="M370.6 242.2h7.4v7.4h-7.4z"/><path fill="#00f6f6" d="M377.4 242.2h7.4v7.4h-7.4z"/><path fill="#00f6fa" d="M384.1 242.2h7.4v7.4h-7.4z"/><path fill="#00fad1" d="M390.9 242.2h7.4v7.4h-7.4z"/><path fill="#00fad3" d="M397.7 242.2h7.4v7.4h-7.4z"/><path fill="#00f5fd" d="M404.5 242.2h7.4v7.4h-7.4z"/><path fill="#00e9ff" d="M411.3 242.2h7.4v7.4h-7.4z"/><path fill="#00e9ff" d="M418.1 242.2h7.4v7.4h-7.4z"/><path fill="#00e9ff" d="M424.9 242.2h7.4v7.4h-7.4z"/><path fill="#1cff15" d="M241.5 249.0h7.4v7.4h-7.4z"/><path fill="#1cff15" d="M248.3 249.0h7.4v7.4h-7.4z"/><path fill="#1cff15" d="M255.1 249.0h7.4v7.4h-7.4z"/><path fill="#1bff17" d="M261.9 249.0h7.4v7.4h-7.4z"/><path fill="#18ff1c" d="M268.7 249.0h7.4v7.4h-7.4z"/><path fill="#07ff3a" d="M275.5 249.0h7.4v7.4h-7.4z"/><path fill="#00ff95" d="M282.3 249.0h7.4v7.4h-7.4z"/><path fill="#00fad4" d="M289.1 249.0h7.4v7.4h-7.4z"/><path fill="#00f6f6" d="M295.9 249.0h7.4v7.4h-7.4z"/><path fill="#00f7ed" d="M302.6 249.0h7.4v7.4h-7.4z"/><path fill="#00fdbb" d="M309.4 249.0h7.4v7.4h-7.4z"/><path fill="#00ff7b" d="M316.2 249.0h7.4v7.4h-7.4z"/><path fill="#06ff3b" d="M323.0 249.0h7.4v7.4h-7.4z"/><path fill="#14ff24" d="M329.8 249.0h7.4v7.4h-7.4z"/><path fill="#18ff1d" d="M336.6 249.0h7.4v7.4h-7.4z"/><path fill="#17ff1e" d="M343.4 249.0h7.4v7.4h-7.4z"/><path fill="#12ff27" d="M350.2 249.0h7.4v7.4h-7.4z"/><path fill="#03ff40" d="M357.0 249.0h7.4v7.4h-7.4z"/><path fill="#00ff87" d="M363.8 249.0h7.4v7.4h-7.4z"/><path fill="#00fcc5" d="M370.6 249.0h7.4v7.4h-7.4z"/><path fill="#00f6f6" d="M377.4 249.0h7.4v7.4h-7.4z"/><path fill="#00f6fa" d="M384.1 249.0h7.4v7.4h-7.4z"/><path fill="#00fad1" d="M390.9 249.0h7.4v7.4h-7.4z"/><path fill="#00fad3" d="M397.7 249.0h7.4v7.4h-7.4z"/><path fill="#00f5fd" d="M404.5 249.0h7.4v7.4h-7.4z"/><path fill="#00e9ff" d="M411.3 249.0h7.4v7.4h-7.4z"/><path fill="#00e9ff" d="M418.1 249.0h7.4v7.4h-7.4z"/><path fill="#00e9ff" d="M424.9 249.0h7.4v7.4h-7.4z"/><path fill="#0cff31" d="M241.5 255.8h7.4v7.4h-7.4z"/><path fill="#0cff31" d="M248.3 255.8h7.4v7.4h-7.4z"/><path fill="#0cff31" d="M255.1 255.8h7.4v7.4h-7.4z"/><path fill="#09ff36" d="M261.9 255.8h7.4v7.4h-7.4z"/><path fill="#03ff40" d="M268.7 255.8h7.4v7.4h-7.4z"/><path fill="#00ff6c" d="M275.5 255.8h7.4v7.4h-7.4z"/><path fill="#00feb6" d="M282.3 255.8h7.4v7.4h-7.4z"/><path fill="#00f8e2" d="M289.1 255.8h7.4v7.4h-7.4z"/><path fill="#00f6f9" d="M295.9 255.8h7.4v7.4h-7.4z"/><path fill="#00f7f0" d="M302.6 255.8h7.4v7.4h-7.4z"/><path fill="#00fcc6" d="M309.4 255.8h7.4v7.4h-7.4z"/><path fill="#00ff8f" d="M316.2 255.8h7.4v7.4h-7.4z"/><path fill="#00ff48" d="M323.0 255.8h7.4v7.4h-7.4z"/><path fill="#0dff30" d="M329.8 255.8h7.4v7.4h-7.4z"/><path fill="#13ff26" d="M336.6 255.8h7.4v7.4h-7.4z"/><path fill="#14ff23" d="M343.4 255.8h7.4v7.4h-7.4z"/><path fill="#11ff28" d="M350.2 255.8h7.4v7.4h-7.4z"/><path fill="#05ff3d" d="M357.0 255.8h7.4v7.4h-7.4z"/><path fill="#00ff78" d="M363.8 255.8h7.4v7.4h-7.4z"/><path fill="#00feb2" d="M370.6 255.8h7.4v7.4h-7.4z"/><path fill="#00f9df" d="M377.4 255.8h7.4v7.4h-7.4z"/><path fill="#00f8e2" d="M384.1 255.8h7.4v7.4h-7.4z"/><path fill="#00fdb9" d="M390.9 255.8h7.4v7.4h-7.4z"/><path fill="#00fdbd" d="M397.7 255.8h7.4v7.4h-7.4z"/><path fill="#00f8ea" d="M404.5 255.8h7.4v7.4h-7.4z"/><path fill="#00f5ff" d="M411.3 255.8h7.4v7.4h-7.4z"/><path fill="#00f5ff" d="M418.1 255.8h7.4v7.4h-7.4z"/><path fill="#00f5ff" d="M424.9 255.8h7.4v7.4h-7.4z"/><path fill="#00ff8d" d="M241.5 262.6h7.4v7.4h-7.4z"/><path fill="#00ff8d" d="M248.3 262.6h7.4v7.4h-7.4z"/><path fill="#00ff8d" d="M255.1 262.6h7.4v7.4h-7.4z"/><path fill="#00ffa2" d="M261.9 262.6h7.4v7.4h-7.4z"/><path fill="#00fbc8" d="M268.7 262.6h7.4v7.4h-7.4z"/><path fill="#00f8e4" d="M275.5 262.6h7.4v7.4h-7.4z"/><path fill="#00f6f5" d="M282.3 262.6h7.4v7.4h-7.4z"/><path fill="#00f5fe" d="M289.1 262.6h7.4v7.4h-7.4z"/><path fill="#00f4ff" d="M295.9 262.6h7.4v7.4h-7.4z"/><path fill="#00f6f6" d="M302.6 262.6h7.4v7.4h-7.4z"/><path fill="#00f9dd" d="M309.4 262.6h7.4v7.4h-7.4z"/><path fill="#00feb7" d="M316.2 262.6h7.4v7.4h-7.4z"/><path fill="#00ff7b" d="M323.0 262.6h7.4v7.4h-7.4z"/><path fill="#00ff4c" d="M329.8 262.6h7.4v7.4h-7.4z"/><path fill="#08ff39" d="M336.6 262.6h7.4v7.4h-7.4z"/><path fill="#0dff2f" d="M343.4 262.6h7.4v7.4h-7.4z"/><path fill="#10ff2b" d="M350.2 262.6h7.4v7.4h-7.4z"/><path fill="#09ff35" d="M357.0 262.6h7.4v7.4h-7.4z"/><path fill="#00ff58" d="M363.8 262.6h7.4v7.4h-7.4z"/><path fill="#00ff86" d="M370.6 262.6h7.4v7.4h-7.4z"/><path fill="#00feb0" d="M377.4 262.6h7.4v7.4h-7.4z"/><path fill="#00ffae" d="M384.1 262.6h7.4v7.4h-7.4z"/><path fill="#00ff7f" d="M390.9 262.6h7.4v7.4h-7.4z"/><path fill="#00ff88" d="M397.7 262.6h7.4v7.4h-7.4z"/><path fill="#00fcc1" d="M404.5 262.6h7.4v7.4h-7.4z"/><path fill="#00f9d9" d="M411.3 262.6h7.4v7.4h-7.4z"/><path fill="#00f9d9" d="M418.1 262.6h7.4v7.4h-7.4z"/><path fill="#00f9d9" d="M424.9 262.6h7.4v7.4h-7.4z"/><path fill="#00fad7" d="M241.5 269.4h7.4v7.4h-7.4z"/><path fill="#00fad7" d="M248.3 269.4h7.4v7.4h-7.4z"/><path fill="#00fad7" d="M255.1 269.4h7.4v7.4h-7.4z"/><path fill="#00f9da" d="M261.9 269.4h7.4v7.4h-7.4z"/><path fill="#00f9e1" d="M268.7 269.4h7.4v7.4h-7.4z"/><path fill="#00f7ea" d="M275.5 269.4h7.4v7.4h-7.4z"/><path fill="#00f6f6" d="M282.3 269.4h7.4v7.4h-7.4z"/><path fill="#00f2ff" d="M289.1 269.4h7.4v7.4h-7.4z"/><path fill="#00e7ff" d="M295.9 269.4h7.4v7.4h-7.4z"/><path fill="#00e9ff" d="M302.6 269.4h7.4v7.4h-7.4z"/><path fill="#00f6fa" d="M309.4 269.4h7.4v7.4h-7.4z"/><path fill="#00f9dd" d="M316.2 269.4h7.4v7.4h-7.4z"/><path fill="#00fdb9" d="M323.0 269.4h7.4v7.4h-7.4z"/><path fill="#00ff98" d="M329.8 269.4h7.4v7.4h-7.4z"/><path fill="#00ff7b" d="M336.6 269.4h7.4v7.4h-7.4z"/><path fill="#00ff5b" d="M343.4 269.4h7.4v7.4h-7.4z"/><path fill="#05ff3e" d="M350.2 269.4h7.4v7.4h-7.4z"/><path fill="#06ff3b" d="M357.0 269.4h7.4v7.4h-7.4z"/><path fill="#00ff4b" d="M363.8 269.4h7.4v7.4h-7.4z"/><path fill="#00ff6d" d="M370.6 269.4h7.4v7.4h-7.4z"/><path fill="#00ff96" d="M377.4 269.4h7.4v7.4h-7.4z"/><path fill="#00ff93" d="M384.1 269.4h7.4v7.4h-7.4z"/><path fill="#00ff63" d="M390.9 269.4h7.4v7.4h-7.4z"/><path fill="#00ff6b" d="M397.7 269.4h7.4v7.4h-7.4z"/><path fill="#00ffa5" d="M404.5 269.4h7.4v7.4h-7.4z"/><path fill="#00fdbd" d="M411.3 269.4h7.4v7.4h-7.4z"/><path fill="#00fdbd" d="M418.1 269.4h7.4v7.4h-7.4z"/><path fill="#00fdbd" d="M424.9 269.4h7.4v7.4h-7.4z"/><path fill="#00f5fc" d="M241.5 276.2h7.4v7.4h-7.4z"/><path fill="#00f5fc" d="M248.3 276.2h7.4v7.4h-7.4z"/><path fill="#00f5fc" d="M255.1 276.2h7.4v7.4h-7.4z"/><path fill="#00fad8" d="M261.9 276.2h7.4v7.4h-7.4z"/><path fill="#00ff88" d="M268.7 276.2h7.4v7.4h-7.4z"/><path fill="#00ff78" d="M275.5 276.2h7.4v7.4h-7.4z"/><path fill="#00feb5" d="M282.3 276.2h7.4v7.4h-7.4z"/><path fill="#00f7f1" d="M289.1 276.2h7.4v7.4h-7.4z"/><path fill="#00d2ff" d="M295.9 276.2h7.4v7.4h-7.4z"/><path fill="#00c9ff" d="M302.6 276.2h7.4v7.4h-7.4z"/><path fill="#00e2ff" d="M309.4 276.2h7.4v7.4h-7.4z"/><path fill="#00f2ff" d="M316.2 276.2h7.4v7.4h-7.4z"/><path fill="#00f6fa" d="M323.0 276.2h7.4v7.4h-7.4z"/><path fill="#00f7f0" d="M329.8 276.2h7.4v7.4h-7.4z"/><path fill="#00f8e7" d="M336.6 276.2h7.4v7.4h-7.4z"/><path fill="#00fcc2" d="M343.4 276.2h7.4v7.4h-7.4z"/><path fill="#00ff7d" d="M350.2 276.2h7.4v7.4h-7.4z"/><path fill="#00ff57" d="M357.0 276.2h7.4v7.4h-7.4z"/><path fill="#00ff54" d="M363.8 276.2h7.4v7.4h-7.4z"/><path fill="#00ff6b" d="M370.6 276.2h7.4v7.4h-7.4z"/><path fill="#00ff9b" d="M377.4 276.2h7.4v7.4h-7.4z"/><path fill="#00ff9b" d="M384.1 276.2h7.4v7.4h-7.4z"/><path fill="#00ff6b" d="M390.9 276.2h7.4v7.4h-7.4z"/><path fill="#00ff6c" d="M397.7 276.2h7.4v7.4h-7.4z"/><path fill="#00ff99" d="M404.5 276.2h7.4v7.4h-7.4z"/><path fill="#00ffae" d="M411.3 276.2h7.4v7.4h-7.4z"/><path fill="#00ffae" d="M418.1 276.2h7.4v7.4h-7.4z"/><path fill="#00ffae" d="M424.9 276.2h7.4v7.4h-7.4z"/><path fill="#00e9ff" d="M241.5 283.0h7.4v7.4h-7.4z"/><path fill="#00e9ff" d="M248.3 283.0h7.4v7.4h-7.4z"/><path fill="#00e9ff" d="M255.1 283.0h7.4v7.4h-7.4z"/><path fill="#00fad7" d="M261.9 283.0h7.4v7.4h-7.4z"/><path fill="#00ff50" d="M268.7 283.0h7.4v7.4h-7.4z"/><path fill="#06ff3b" d="M275.5 283.0h7.4v7.4h-7.4z"/><path fill="#00ff8b" d="M282.3 283.0h7.4v7.4h-7.4z"/><path fill="#00f9e0" d="M289.1 283.0h7.4v7.4h-7.4z"/><path fill="#00d2ff" d="M295.9 283.0h7.4v7.4h-7.4z"/><path fill="#00c2ff" d="M302.6 283.0h7.4v7.4h-7.4z"/><path fill="#00dbff" d="M309.4 283.0h7.4v7.4h-7.4z"/><path fill="#00e2ff" d="M316.2 283.0h7.4v7.4h-7.4z"/><path fill="#00d7ff" d="M323.0 283.0h7.4v7.4h-7.4z"/><path fill="#00d2ff" d="M329.8 283.0h7.4v7.4h-7.4z"/><path fill="#00d3ff" d="M336.6 283.0h7.4v7.4h-7.4z"/><path fill="#00ecff" d="M343.4 283.0h7.4v7.4h-7.4z"/><path fill="#00fcc4" d="M350.2 283.0h7.4v7.4h-7.4z"/><path fill="#00ff91" d="M357.0 283.0h7.4v7.4h-7.4z"/><path fill="#00ff76" d="M363.8 283.0h7.4v7.4h-7.4z"/><path fill="#00ff76" d="M370.6 283.0h7.4v7.4h-7.4z"/><path fill="#00ff91" d="M377.4 283.0h7.4v7.4h-7.4z"/><path fill="#00ff8a" d="M384.1 283.0h7.4v7.4h-7.4z"/><path fill="#00ff60" d="M390.9 283.0h7.4v7.4h-7.4z"/><path fill="#00ff63" d="M397.7 283.0h7.4v7.4h-7.4z"/><path fill="#00ff90" d="M404.5 283.0h7.4v7.4h-7.4z"/><path fill="#00ffa6" d="M411.3 283.0h7.4v7.4h-7.4z"/><path fill="#00ffa6" d="M418.1 283.0h7.4v7.4h-7.4z"/><path fill="#00ffa6" d="M424.9 283.0h7.4v7.4h-7.4z"/><path fill="#00e7ff" d="M241.5 289.8h7.4v7.4h-7.4z"/><path fill="#00e7ff" d="M248.3 289.8h7.4v7.4h-7.4z"/><path fill="#00e7ff" d="M255.1 289.8h7.4v7.4h-7.4z"/><path fill="#00fad6" d="M261.9 289.8h7.4v7.4h-7.4z"/><path fill="#01ff44" d="M268.7 289.8h7.4v7.4h-7.4z"/><path fill="#0cff31" d="M275.5 289.8h7.4v7.4h-7.4z"/><path fill="#00ff80" d="M282.3 289.8h7.4v7.4h-7.4z"/><path fill="#00fad1" d="M289.1 289.8h7.4v7.4h-7.4z"/><path fill="#00e6ff" d="M295.9 289.8h7.4v7.4h-7.4z"/><path fill="#00d5ff" d="M302.6 289.8h7.4v7.4h-7.4z"/><path fill="#00e3ff" d="M309.4 289.8h7.4v7.4h-7.4z"/><path fill="#00dbff" d="M316.2 289.8h7.4v7.4h-7.4z"/><path fill="#00bfff" d="M323.0 289.8h7.4v7.4h-7.4z"/><path fill="#00b0ff" d="M329.8 289.8h7.4v7.4h-7.4z"/><path fill="#00b1ff" d="M336.6 289.8h7.4v7.4h-7.4z"/><path fill="#00c6ff" d="M343.4 289.8h7.4v7.4h-7.4z"/><path fill="#00eeff" d="M350.2 289.8h7.4v7.4h-7.4z"/><path fill="#00fad7" d="M357.0 289.8h7.4v7.4h-7.4z"/><path fill="#00feaf" d="M363.8 289.8h7.4v7.4h-7.4z"/><path fill="#00ff8e" d="M370.6 289.8h7.4v7.4h-7.4z"/><path fill="#00ff79" d="M377.4 289.8h7.4v7.4h-7.4z"/><path fill="#00ff5f" d="M384.1 289.8h7.4v7.4h-7.4z"/><path fill="#02ff43" d="M390.9 289.8h7.4v7.4h-7.4z"/><path fill="#00ff51" d="M397.7 289.8h7.4v7.4h-7.4z"/><path fill="#00ff8b" d="M404.5 289.8h7.4v7.4h-7.4z"/><path fill="#00ffa6" d="M411.3 289.8h7.4v7.4h-7.4z"/><path fill="#00ffa6" d="M418.1 289.8h7.4v7.4h-7.4z"/><path fill="#00ffa6" d="M424.9 289.8h7.4v7.4h-7.4z"/><path fill="#00e0ff" d="M241.5 296.5h7.4v7.4h-7.4z"/><path fill="#00e0ff" d="M248.3 296.5h7.4v7.4h-7.4z"/><path fill="#00e0ff" d="M255.1 296.5h7.4v7.4h-7.4z"/><path fill="#00f8e8" d="M261.9 296.5h7.4v7.4h-7.4z"/><path fill="#00ff6c" d="M268.7 296.5h7.4v7.4h-7.4z"/><path fill="#03ff41" d="M275.5 296.5h7.4v7.4h-7.4z"/><path fill="#00ff70" d="M282.3 296.5h7.4v7.4h-7.4z"/><path fill="#00ffab" d="M289.1 296.5h7.4v7.4h-7.4z"/><path fill="#00f8e5" d="M295.9 296.5h7.4v7.4h-7.4z"/><path fill="#00f1ff" d="M302.6 296.5h7.4v7.4h-7.4z"/><path fill="#00eeff" d="M309.4 296.5h7.4v7.4h-7.4z"/><path fill="#00dbff" d="M316.2 296.5h7.4v7.4h-7.4z"/><path fill="#00b8ff" d="M323.0 296.5h7.4v7.4h-7.4z"/><path fill="#00a5ff" d="M329.8 296.5h7.4v7.4h-7.4z"/><path fill="#00a1ff" d="M336.6 296.5h7.4v7.4h-7.4z"/><path fill="#00b3ff" d="M343.4 296.5h7.4v7.4h-7.4z"/><path fill="#00d9ff" d="M350.2 296.5h7.4v7.4h-7.4z"/><path fill="#00f7ed" d="M357.0 296.5h7.4v7.4h-7.4z"/><path fill="#00ffae" d="M363.8 296.5h7.4v7.4h-7.4z"/><path fill="#00ff7c" d="M370.6 296.5h7.4v7.4h-7.4z"/><path fill="#00ff62" d="M377.4 296.5h7.4v7.4h-7.4z"/><path fill="#00ff51" d="M384.1 296.5h7.4v7.4h-7.4z"/><path fill="#00ff49" d="M390.9 296.5h7.4v7.4h-7.4z"/><path fill="#00ff64" d="M397.7 296.5h7.4v7.4h-7.4z"/><path fill="#00ff9d" d="M404.5 296.5h7.4v7.4h-7.4z"/><path fill="#00feb6" d="M411.3 296.5h7.4v7.4h-7.4z"/><path fill="#00feb6" d="M418.1 296.5h7.4v7.4h-7.4z"/><path fill="#00feb6" d="M424.9 296.5h7.4v7.4h-7.4z"/><path fill="#00d6ff" d="M241.5 303.3h7.4v7.4h-7.4z"/><path fill="#00d6ff" d="M248.3 303.3h7.4v7.4h-7.4z"/><path fill="#00d6ff" d="M255.1 303.3h7.4v7.4h-7.4z"/><path fill="#00ecff" d="M261.9 303.3h7.4v7.4h-7.4z"/><path fill="#00fbc9" d="M268.7 303.3h7.4v7.4h-7.4z"/><path fill="#00ff8c" d="M275.5 303.3h7.4v7.4h-7.4z"/><path fill="#00ff5c" d="M282.3 303.3h7.4v7.4h-7.4z"/><path fill="#00ff62" d="M289.1 303.3h7.4v7.4h-7.4z"/><path fill="#00ff9f" d="M295.9 303.3h7.4v7.4h-7.4z"/><path fill="#00fbce" d="M302.6 303.3h7.4v7.4h-7.4z"/><path fill="#00f6f5" d="M309.4 303.3h7.4v7.4h-7.4z"/><path fill="#00e0ff" d="M316.2 303.3h7.4v7.4h-7.4z"/><path fill="#00c3ff" d="M323.0 303.3h7.4v7.4h-7.4z"/><path fill="#00afff" d="M329.8 303.3h7.4v7.4h-7.4z"/><path fill="#00a4ff" d="M336.6 303.3h7.4v7.4h-7.4z"/><path fill="#00b3ff" d="M343.4 303.3h7.4v7.4h-7.4z"/><path fill="#00dcff" d="M350.2 303.3h7.4v7.4h-7.4z"/><path fill="#00fad7" d="M357.0 303.3h7.4v7.4h-7.4z"/><path fill="#00ff72" d="M363.8 303.3h7.4v7.4h-7.4z"/><path fill="#02ff43" d="M370.6 303.3h7.4v7.4h-7.4z"/><path fill="#00ff4c" d="M377.4 303.3h7.4v7.4h-7.4z"/><path fill="#00ff5e" d="M384.1 303.3h7.4v7.4h-7.4z"/><path fill="#00ff78" d="M390.9 303.3h7.4v7.4h-7.4z"/><path fill="#00ff9c" d="M397.7 303.3h7.4v7.4h-7.4z"/><path fill="#00fcc4" d="M404.5 303.3h7.4v7.4h-7.4z"/><path fill="#00fad5" d="M411.3 303.3h7.4v7.4h-7.4z"/><path fill="#00fad5" d="M418.1 303.3h7.4v7.4h-7.4z"/><path fill="#00fad5" d="M424.9 303.3h7.4v7.4h-7.4z"/><path fill="#00d8ff" d="M241.5 310.1h7.4v7.4h-7.4z"/><path fill="#00d8ff" d="M248.3 310.1h7.4v7.4h-7.4z"/><path fill="#00d8ff" d="M255.1 310.1h7.4v7.4h-7.4z"/><path fill="#00eaff" d="M261.9 310.1h7.4v7.4h-7.4z"/><path fill="#00fad7" d="M268.7 310.1h7.4v7.4h-7.4z"/><path fill="#00ff92" d="M275.5 310.1h7.4v7.4h-7.4z"/><path fill="#01ff44" d="M282.3 310.1h7.4v7.4h-7.4z"/><path fill="#04ff40" d="M289.1 310.1h7.4v7.4h-7.4z"/><path fill="#00ff7b" d="M295.9 310.1h7.4v7.4h-7.4z"/><path fill="#00fdb9" d="M302.6 310.1h7.4v7.4h-7.4z"/><path fill="#00f7ee" d="M309.4 310.1h7.4v7.4h-7.4z"/><path fill="#00e4ff" d="M316.2 310.1h7.4v7.4h-7.4z"/><path fill="#00cfff" d="M323.0 310.1h7.4v7.4h-7.4z"/><path fill="#00bfff" d="M329.8 310.1h7.4v7.4h-7.4z"/><path fill="#00b4ff" d="M336.6 310.1h7.4v7.4h-7.4z"/><path fill="#00c1ff" d="M343.4 310.1h7.4v7.4h-7.4z"/><path fill="#00e7ff" d="M350.2 310.1h7.4v7.4h-7.4z"/><path fill="#00fbcb" d="M357.0 310.1h7.4v7.4h-7.4z"/><path fill="#00ff67" d="M363.8 310.1h7.4v7.4h-7.4z"/><path fill="#01ff45" d="M370.6 310.1h7.4v7.4h-7.4z"/><path fill="#00ff67" d="M377.4 310.1h7.4v7.4h-7.4z"/><path fill="#00ff8a" d="M384.1 310.1h7.4v7.4h-7.4z"/><path fill="#00ffad" d="M390.9 310.1h7.4v7.4h-7.4z"/><path fill="#00fbc9" d="M397.7 310.1h7.4v7.4h-7.4z"/><path fill="#00f9e0" d="M404.5 310.1h7.4v7.4h-7.4z"/><path fill="#00f7eb" d="M411.3 310.1h7.4v7.4h-7.4z"/><path fill="#00f7eb" d="M418.1 310.1h7.4v7.4h-7.4z"/><path fill="#00f7eb" d="M424.9 310.1h7.4v7.4h-7.4z"/><path fill="#00e6ff" d="M241.5 316.9h7.4v7.4h-7.4z"/><path fill="#00e6ff" d="M248.3 316.9h7.4v7.4h-7.4z"/><path fill="#00e6ff" d="M255.1 316.9h7.4v7.4h-7.4z"/><path fill="#00f7f0" d="M261.9 316.9h7.4v7.4h-7.4z"/><path fill="#00ff9d" d="M268.7 316.9h7.4v7.4h-7.4z"/><path fill="#00ff52" d="M275.5 316.9h7.4v7.4h-7.4z"/><path fill="#0bff33" d="M282.3 316.9h7.4v7.4h-7.4z"/><path fill="#06ff3b" d="M289.1 316.9h7.4v7.4h-7.4z"/><path fill="#00ff84" d="M295.9 316.9h7.4v7.4h-7.4z"/><path fill="#00fcc4" d="M302.6 316.9h7.4v7.4h-7.4z"/><path fill="#00f6f3" d="M309.4 316.9h7.4v7.4h-7.4z"/><path fill="#00e8ff" d="M316.2 316.9h7.4v7.4h-7.4z"/><path fill="#00ddff" d="M323.0 316.9h7.4v7.4h-7.4z"/><path fill="#00d5ff" d="M329.8 316.9h7.4v7.4h-7.4z"/><path fill="#00d1ff" d="M336.6 316.9h7.4v7.4h-7.4z"/><path fill="#00dcff" d="M343.4 316.9h7.4v7.4h-7.4z"/><path fill="#00f5fb" d="M350.2 316.9h7.4v7.4h-7.4z"/><path fill="#00fbca" d="M357.0 316.9h7.4v7.4h-7.4z"/><path fill="#00ff8e" d="M363.8 316.9h7.4v7.4h-7.4z"/><path fill="#00ff84" d="M370.6 316.9h7.4v7.4h-7.4z"/><path fill="#00feb1" d="M377.4 316.9h7.4v7.4h-7.4z"/><path fill="#00fbce" d="M384.1 316.9h7.4v7.4h-7.4z"/><path fill="#00f8e2" d="M390.9 316.9h7.4v7.4h-7.4z"/><path fill="#00f7ef" d="M397.7 316.9h7.4v7.4h-7.4z"/><path fill="#00f6f5" d="M404.5 316.9h7.4v7.4h-7.4z"/><path fill="#00f6f8" d="M411.3 316.9h7.4v7.4h-7.4z"/><path fill="#00f6f8" d="M418.1 316.9h7.4v7.4h-7.4z"/><path fill="#00f6f8" d="M424.9 316.9h7.4v7.4h-7.4z"/><path fill="#00e3ff" d="M241.5 323.7h7.4v7.4h-7.4z"/><path fill="#00e3ff" d="M248.3 323.7h7.4v7.4h-7.4z"/><path fill="#00e3ff" d="M255.1 323.7h7.4v7.4h-7.4z"/><path fill="#00f7f2" d="M261.9 323.7h7.4v7.4h-7.4z"/><path fill="#00ff9a" d="M268.7 323.7h7.4v7.4h-7.4z"/><path fill="#00ff52" d="M275.5 323.7h7.4v7.4h-7.4z"/><path fill="#07ff39" d="M282.3 323.7h7.4v7.4h-7.4z"/><path fill="#05ff3e" d="M289.1 323.7h7.4v7.4h-7.4z"/><path fill="#00ff6c" d="M295.9 323.7h7.4v7.4h-7.4z"/><path fill="#00ffa0" d="M302.6 323.7h7.4v7.4h-7.4z"/><path fill="#00fbca" d="M309.4 323.7h7.4v7.4h-7.4z"/><path fill="#00f8e6" d="M316.2 323.7h7.4v7.4h-7.4z"/><path fill="#00f6f5" d="M323.0 323.7h7.4v7.4h-7.4z"/><path fill="#00f5fb" d="M329.8 323.7h7.4v7.4h-7.4z"/><path fill="#00f6f7" d="M336.6 323.7h7.4v7.4h-7.4z"/><path fill="#00f7ee" d="M343.4 323.7h7.4v7.4h-7.4z"/><path fill="#00f9de" d="M350.2 323.7h7.4v7.4h-7.4z"/><path fill="#00fad4" d="M357.0 323.7h7.4v7.4h-7.4z"/><path fill="#00fbcf" d="M363.8 323.7h7.4v7.4h-7.4z"/><path fill="#00fad7" d="M370.6 323.7h7.4v7.4h-7.4z"/><path fill="#00f7ec" d="M377.4 323.7h7.4v7.4h-7.4z"/><path fill="#00f6fa" d="M384.1 323.7h7.4v7.4h-7.4z"/><path fill="#00f3ff" d="M390.9 323.7h7.4v7.4h-7.4z"/><path fill="#00f3ff" d="M397.7 323.7h7.4v7.4h-7.4z"/><path fill="#00f6f9" d="M404.5 323.7h7.4v7.4h-7.4z"/><path fill="#00f6f5" d="M411.3 323.7h7.4v7.4h-7.4z"/><path fill="#00f6f5" d="M418.1 323.7h7.4v7.4h-7.4z"/><path fill="#00f6f5" d="M424.9 323.7h7.4v7.4h-7.4z"/><path fill="#00cfff" d="M241.5 330.5h7.4v7.4h-7.4z"/><path fill="#00cfff" d="M248.3 330.5h7.4v7.4h-7.4z"/><path fill="#00cfff" d="M255.1 330.5h7.4v7.4h-7.4z"/><path fill="#00e6ff" d="M261.9 330.5h7.4v7.4h-7.4z"/><path fill="#00fad0" d="M268.7 330.5h7.4v7.4h-7.4z"/><path fill="#00ff94" d="M275.5 330.5h7.4v7.4h-7.4z"/><path fill="#00ff66" d="M282.3 330.5h7.4v7.4h-7.4z"/><path fill="#00ff46" d="M289.1 330.5h7.4v7.4h-7.4z"/><path fill="#05ff3d" d="M295.9 330.5h7.4v7.4h-7.4z"/><path fill="#01ff44" d="M302.6 330.5h7.4v7.4h-7.4z"/><path fill="#00ff6a" d="M309.4 330.5h7.4v7.4h-7.4z"/><path fill="#00ff8f" d="M316.2 330.5h7.4v7.4h-7.4z"/><path fill="#00feaf" d="M323.0 330.5h7.4v7.4h-7.4z"/><path fill="#00feb5" d="M329.8 330.5h7.4v7.4h-7.4z"/><path fill="#00ffa6" d="M336.6 330.5h7.4v7.4h-7.4z"/><path fill="#00ffa9" d="M343.4 330.5h7.4v7.4h-7.4z"/><path fill="#00fdbe" d="M350.2 330.5h7.4v7.4h-7.4z"/><path fill="#00f8e7" d="M357.0 330.5h7.4v7.4h-7.4z"/><path fill="#00dbff" d="M363.8 330.5h7.4v7.4h-7.4z"/><path fill="#00ceff" d="M370.6 330.5h7.4v7.4h-7.4z"/><path fill="#00ddff" d="M377.4 330.5h7.4v7.4h-7.4z"/><path fill="#00e6ff" d="M384.1 330.5h7.4v7.4h-7.4z"/><path fill="#00eaff" d="M390.9 330.5h7.4v7.4h-7.4z"/><path fill="#00f3ff" d="M397.7 330.5h7.4v7.4h-7.4z"/><path fill="#00f7ec" d="M404.5 330.5h7.4v7.4h-7.4z"/><path fill="#00f8e2" d="M411.3 330.5h7.4v7.4h-7.4z"/><path fill="#00f8e2" d="M418.1 330.5h7.4v7.4h-7.4z"/><path fill="#00f8e2" d="M424.9 330.5h7.4v7.4h-7.4z"/><path fill="#00cfff" d="M241.5 337.3h7.4v7.4h-7.4z"/><path fill="#00cfff" d="M248.3 337.3h7.4v7.4h-7.4z"/><path fill="#00cfff" d="M255.1 337.3h7.4v7.4h-7.4z"/><path fill="#00e2ff" d="M261.9 337.3h7.4v7.4h-7.4z"/><path fill="#00f8e1" d="M268.7 337.3h7.4v7.4h-7.4z"/><path fill="#00ffab" d="M275.5 337.3h7.4v7.4h-7.4z"/><path fill="#00ff75" d="M282.3 337.3h7.4v7.4h-7.4z"/><path fill="#00ff46" d="M289.1 337.3h7.4v7.4h-7.4z"/><path fill="#0cff32" d="M295.9 337.3h7.4v7.4h-7.4z"/><path fill="#0bff33" d="M302.6 337.3h7.4v7.4h-7.4z"/><path fill="#00ff4c" d="M309.4 337.3h7.4v7.4h-7.4z"/><path fill="#00ff77" d="M316.2 337.3h7.4v7.4h-7.4z"/><path fill="#00ffa1" d="M323.0 337.3h7.4v7.4h-7.4z"/><path fill="#00ffa2" d="M329.8 337.3h7.4v7.4h-7.4z"/><path fill="#00ff7a" d="M336.6 337.3h7.4v7.4h-7.4z"/><path fill="#00ff74" d="M343.4 337.3h7.4v7.4h-7.4z"/><path fill="#00ff8f" d="M350.2 337.3h7.4v7.4h-7.4z"/><path fill="#00fbcb" d="M357.0 337.3h7.4v7.4h-7.4z"/><path fill="#00dbff" d="M363.8 337.3h7.4v7.4h-7.4z"/><path fill="#00ceff" d="M370.6 337.3h7.4v7.4h-7.4z"/><path fill="#00f0ff" d="M377.4 337.3h7.4v7.4h-7.4z"/><path fill="#00f7ee" d="M384.1 337.3h7.4v7.4h-7.4z"/><path fill="#00f7f1" d="M390.9 337.3h7.4v7.4h-7.4z"/><path fill="#00f7ea" d="M397.7 337.3h7.4v7.4h-7.4z"/><path fill="#00f9da" d="M404.5 337.3h7.4v7.4h-7.4z"/><path fill="#00fad3" d="M411.3 337.3h7.4v7.4h-7.4z"/><path fill="#00fad3" d="M418.1 337.3h7.4v7.4h-7.4z"/><path fill="#00fad3" d="M424.9 337.3h7.4v7.4h-7.4z"/><path fill="#00e1ff" d="M241.5 344.1h7.4v7.4h-7.4z"/><path fill="#00e1ff" d="M248.3 344.1h7.4v7.4h-7.4z"/><path fill="#00e1ff" d="M255.1 344.1h7.4v7.4h-7.4z"/><path fill="#00f2ff" d="M261.9 344.1h7.4v7.4h-7.4z"/><path fill="#00fbd0" d="M268.7 344.1h7.4v7.4h-7.4z"/><path fill="#00ff97" d="M275.5 344.1h7.4v7.4h-7.4z"/><path fill="#00ff59" d="M282.3 344.1h7.4v7.4h-7.4z"/><path fill="#05ff3d" d="M289.1 344.1h7.4v7.4h-7.4z"/><path fill="#09ff37" d="M295.9 344.1h7.4v7.4h-7.4z"/><path fill="#02ff42" d="M302.6 344.1h7.4v7.4h-7.4z"/><path fill="#00ff76" d="M309.4 344.1h7.4v7.4h-7.4z"/><path fill="#00ffa9" d="M316.2 344.1h7.4v7.4h-7.4z"/><path fill="#00fad0" d="M323.0 344.1h7.4v7.4h-7.4z"/><path fill="#00fcc6" d="M329.8 344.1h7.4v7.4h-7.4z"/><path fill="#00ff83" d="M336.6 344.1h7.4v7.4h-7.4z"/><path fill="#00ff5a" d="M343.4 344.1h7.4v7.4h-7.4z"/><path fill="#00ff50" d="M350.2 344.1h7.4v7.4h-7.4z"/><path fill="#00ff79" d="M357.0 344.1h7.4v7.4h-7.4z"/><path fill="#00fbcf" d="M363.8 344.1h7.4v7.4h-7.4z"/><path fill="#00fad6" d="M370.6 344.1h7.4v7.4h-7.4z"/><path fill="#00ff94" d="M377.4 344.1h7.4v7.4h-7.4z"/><path fill="#00ff81" d="M384.1 344.1h7.4v7.4h-7.4z"/><path fill="#00ffa7" d="M390.9 344.1h7.4v7.4h-7.4z"/><path fill="#00fdbb" d="M397.7 344.1h7.4v7.4h-7.4z"/><path fill="#00fcc3" d="M404.5 344.1h7.4v7.4h-7.4z"/><path fill="#00fcc7" d="M411.3 344.1h7.4v7.4h-7.4z"/><path fill="#00fcc7" d="M418.1 344.1h7.4v7.4h-7.4z"/><path fill="#00fcc7" d="M424.9 344.1h7.4v7.4h-7.4z"/><path fill="#00fad2" d="M241.5 350.9h7.4v7.4h-7.4z"/><path fill="#00fad2" d="M248.3 350.9h7.4v7.4h-7.4z"/><path fill="#00fad2" d="M255.1 350.9h7.4v7.4h-7.4z"/><path fill="#00fcc1" d="M261.9 350.9h7.4v7.4h-7.4z"/><path fill="#00ff9a" d="M268.7 350.9h7.4v7.4h-7.4z"/><path fill="#00ff74" d="M275.5 350.9h7.4v7.4h-7.4z"/><path fill="#00ff54" d="M282.3 350.9h7.4v7.4h-7.4z"/><path fill="#00ff47" d="M289.1 350.9h7.4v7.4h-7.4z"/><path fill="#00ff4c" d="M295.9 350.9h7.4v7.4h-7.4z"/><path fill="#00ff68" d="M302.6 350.9h7.4v7.4h-7.4z"/><path fill="#00ff9a" d="M309.4 350.9h7.4v7.4h-7.4z"/><path fill="#00fdbd" d="M316.2 350.9h7.4v7.4h-7.4z"/><path fill="#00fad3" d="M323.0 350.9h7.4v7.4h-7.4z"/><path fill="#00fdbc" d="M329.8 350.9h7.4v7.4h-7.4z"/><path fill="#00ff6d" d="M336.6 350.9h7.4v7.4h-7.4z"/><path fill="#03ff41" d="M343.4 350.9h7.4v7.4h-7.4z"/><path fill="#08ff39" d="M350.2 350.9h7.4v7.4h-7.4z"/><path fill="#00ff4e" d="M357.0 350.9h7.4v7.4h-7.4z"/><path fill="#00ffa1" d="M363.8 350.9h7.4v7.4h-7.4z"/><path fill="#00feb1" d="M370.6 350.9h7.4v7.4h-7.4z"/><path fill="#00ff83" d="M377.4 350.9h7.4v7.4h-7.4z"/><path fill="#00ff7c" d="M384.1 350.9h7.4v7.4h-7.4z"/><path fill="#00ff9b" d="M390.9 350.9h7.4v7.4h-7.4z"/><path fill="#00feb0" d="M397.7 350.9h7.4v7.4h-7.4z"/><path fill="#00fdba" d="M404.5 350.9h7.4v7.4h-7.4z"/><path fill="#00fdbe" d="M411.3 350.9h7.4v7.4h-7.4z"/><path fill="#00fdbe" d="M418.1 350.9h7.4v7.4h-7.4z"/><path fill="#00fdbe" d="M424.9 350.9h7.4v7.4h-7.4z"/><path fill="#00ff4b" d="M241.5 357.7h7.4v7.4h-7.4z"/><path fill="#00ff4b" d="M248.3 357.7h7.4v7.4h-7.4z"/><path fill="#00ff4b" d="M255.1 357.7h7.4v7.4h-7.4z"/><path fill="#00ff45" d="M261.9 357.7h7.4v7.4h-7.4z"/><path fill="#05ff3e" d="M268.7 357.7h7.4v7.4h-7.4z"/><path fill="#02ff43" d="M275.5 357.7h7.4v7.4h-7.4z"/><path fill="#00ff67" d="M282.3 357.7h7.4v7.4h-7.4z"/><path fill="#00ff7f" d="M289.1 357.7h7.4v7.4h-7.4z"/><path fill="#00ff89" d="M295.9 357.7h7.4v7.4h-7.4z"/><path fill="#00ff9c" d="M302.6 357.7h7.4v7.4h-7.4z"/><path fill="#00fdb7" d="M309.4 357.7h7.4v7.4h-7.4z"/><path fill="#00fdbb" d="M316.2 357.7h7.4v7.4h-7.4z"/><path fill="#00ffab" d="M323.0 357.7h7.4v7.4h-7.4z"/><path fill="#00ff7f" d="M329.8 357.7h7.4v7.4h-7.4z"/><path fill="#04ff40" d="M336.6 357.7h7.4v7.4h-7.4z"/><path fill="#0dff30" d="M343.4 357.7h7.4v7.4h-7.4z"/><path fill="#0aff35" d="M350.2 357.7h7.4v7.4h-7.4z"/><path fill="#00ff51" d="M357.0 357.7h7.4v7.4h-7.4z"/><path fill="#00ff9e" d="M363.8 357.7h7.4v7.4h-7.4z"/><path fill="#00fbca" d="M370.6 357.7h7.4v7.4h-7.4z"/><path fill="#00f9dd" d="M377.4 357.7h7.4v7.4h-7.4z"/><path fill="#00f9e0" d="M384.1 357.7h7.4v7.4h-7.4z"/><path fill="#00fad3" d="M390.9 357.7h7.4v7.4h-7.4z"/><path fill="#00fcc7" d="M397.7 357.7h7.4v7.4h-7.4z"/><path fill="#00fdbd" d="M404.5 357.7h7.4v7.4h-7.4z"/><path fill="#00fdb8" d="M411.3 357.7h7.4v7.4h-7.4z"/><path fill="#00fdb8" d="M418.1 357.7h7.4v7.4h-7.4z"/><path fill="#00fdb8" d="M424.9 357.7h7.4v7.4h-7.4z"/><path fill="#11ff29" d="M241.5 364.5h7.4v7.4h-7.4z"/><path fill="#11ff29" d="M248.3 364.5h7.4v7.4h-7.4z"/><path fill="#11ff29" d="M255.1 364.5h7.4v7.4h-7.4z"/><path fill="#10ff29" d="M261.9 364.5h7.4v7.4h-7.4z"/><path fill="#10ff29" d="M268.7 364.5h7.4v7.4h-7.4z"/><path fill="#08ff39" d="M275.5 364.5h7.4v7.4h-7.4z"/><path fill="#00ff67" d="M282.3 364.5h7.4v7.4h-7.4z"/><path fill="#00ff8d" d="M289.1 364.5h7.4v7.4h-7.4z"/><path fill="#00ffa0" d="M295.9 364.5h7.4v7.4h-7.4z"/><path fill="#00feb2" d="M302.6 364.5h7.4v7.4h-7.4z"/><path fill="#00fcc3" d="M309.4 364.5h7.4v7.4h-7.4z"/><path fill="#00fdb7" d="M316.2 364.5h7.4v7.4h-7.4z"/><path fill="#00ff89" d="M323.0 364.5h7.4v7.4h-7.4z"/><path fill="#00ff5d" d="M329.8 364.5h7.4v7.4h-7.4z"/><path fill="#05ff3d" d="M336.6 364.5h7.4v7.4h-7.4z"/><path fill="#08ff38" d="M343.4 364.5h7.4v7.4h-7.4z"/><path fill="#01ff44" d="M350.2 364.5h7.4v7.4h-7.4z"/><path fill="#00ff70" d="M357.0 364.5h7.4v7.4h-7.4z"/><path fill="#00feb5" d="M363.8 364.5h7.4v7.4h-7.4z"/><path fill="#00f8e6" d="M370.6 364.5h7.4v7.4h-7.4z"/><path fill="#00ecff" d="M377.4 364.5h7.4v7.4h-7.4z"/><path fill="#00e9ff" d="M384.1 364.5h7.4v7.4h-7.4z"/><path fill="#00f6f5" d="M390.9 364.5h7.4v7.4h-7.4z"/><path fill="#00f9e1" d="M397.7 364.5h7.4v7.4h-7.4z"/><path fill="#00fad6" d="M404.5 364.5h7.4v7.4h-7.4z"/><path fill="#00fad0" d="M411.3 364.5h7.4v7.4h-7.4z"/><path fill="#00fad0" d="M418.1 364.5h7.4v7.4h-7.4z"/><path fill="#00fad0" d="M424.9 364.5h7.4v7.4h-7.4z"/><path fill="#0aff34" d="M241.5 371.2h7.4v7.4h-7.4z"/><path fill="#0aff34" d="M248.3 371.2h7.4v7.4h-7.4z"/><path fill="#0aff34" d="M255.1 371.2h7.4v7.4h-7.4z"/><path fill="#0aff35" d="M261.9 371.2h7.4v7.4h-7.4z"/><path fill="#09ff36" d="M268.7 371.2h7.4v7.4h-7.4z"/><path fill="#05ff3e" d="M275.5 371.2h7.4v7.4h-7.4z"/><path fill="#00ff55" d="M282.3 371.2h7.4v7.4h-7.4z"/><path fill="#00ff74" d="M289.1 371.2h7.4v7.4h-7.4z"/><path fill="#00ff93" d="M295.9 371.2h7.4v7.4h-7.4z"/><path fill="#00feae" d="M302.6 371.2h7.4v7.4h-7.4z"/><path fill="#00fcc2" d="M309.4 371.2h7.4v7.4h-7.4z"/><path fill="#00feb2" d="M316.2 371.2h7.4v7.4h-7.4z"/><path fill="#00ff75" d="M323.0 371.2h7.4v7.4h-7.4z"/><path fill="#00ff59" d="M329.8 371.2h7.4v7.4h-7.4z"/><path fill="#00ff5f" d="M336.6 371.2h7.4v7.4h-7.4z"/><path fill="#00ff6c" d="M343.4 371.2h7.4v7.4h-7.4z"/><path fill="#00ff80" d="M350.2 371.2h7.4v7.4h-7.4z"/><path fill="#00ffab" d="M357.0 371.2h7.4v7.4h-7.4z"/><path fill="#00f8e2" d="M363.8 371.2h7.4v7.4h-7.4z"/><path fill="#00f0ff" d="M370.6 371.2h7.4v7.4h-7.4z"/><path fill="#00e4ff" d="M377.4 371.2h7.4v7.4h-7.4z"/><path fill="#00e4ff" d="M384.1 371.2h7.4v7.4h-7.4z"/><path fill="#00f1ff" d="M390.9 371.2h7.4v7.4h-7.4z"/><path fill="#00f5fe" d="M397.7 371.2h7.4v7.4h-7.4z"/><path fill="#00f2ff" d="M404.5 371.2h7.4v7.4h-7.4z"/><path fill="#00f0ff" d="M411.3 371.2h7.4v7.4h-7.4z"/><path fill="#00f0ff" d="M418.1 371.2h7.4v7.4h-7.4z"/><path fill="#00f0ff" d="M424.9 371.2h7.4v7.4h-7.4z"/><path fill="#00ff6b" d="M241.5 378.0h7.4v7.4h-7.4z"/><path fill="#00ff6b" d="M248.3 378.0h7.4v7.4h-7.4z"/><path fill="#00ff6b" d="M255.1 378.0h7.4v7.4h-7.4z"/><path fill="#00ff67" d="M261.9 378.0h7.4v7.4h-7.4z"/><path fill="#00ff5f" d="M268.7 378.0h7.4v7.4h-7.4z"/><path fill="#00ff5d" d="M275.5 378.0h7.4v7.4h-7.4z"/><path fill="#00ff64" d="M282.3 378.0h7.4v7.4h-7.4z"/><path fill="#00ff7c" d="M289.1 378.0h7.4v7.4h-7.4z"/><path fill="#00ffa3" d="M295.9 378.0h7.4v7.4h-7.4z"/><path fill="#00fdba" d="M302.6 378.0h7.4v7.4h-7.4z"/><path fill="#00fcc4" d="M309.4 378.0h7.4v7.4h-7.4z"/><path fill="#00feb1" d="M316.2 378.0h7.4v7.4h-7.4z"/><path fill="#00ff79" d="M323.0 378.0h7.4v7.4h-7.4z"/><path fill="#00ff6e" d="M329.8 378.0h7.4v7.4h-7.4z"/><path fill="#00ff92" d="M336.6 378.0h7.4v7.4h-7.4z"/><path fill="#00ffa2" d="M343.4 378.0h7.4v7.4h-7.4z"/><path fill="#00ffa0" d="M350.2 378.0h7.4v7.4h-7.4z"/><path fill="#00feb1" d="M357.0 378.0h7.4v7.4h-7.4z"/><path fill="#00fad2" d="M363.8 378.0h7.4v7.4h-7.4z"/><path fill="#00f7ec" d="M370.6 378.0h7.4v7.4h-7.4z"/><path fill="#00f4ff" d="M377.4 378.0h7.4v7.4h-7.4z"/><path fill="#00efff" d="M384.1 378.0h7.4v7.4h-7.4z"/><path fill="#00f0ff" d="M390.9 378.0h7.4v7.4h-7.4z"/><path fill="#00edff" d="M397.7 378.0h7.4v7.4h-7.4z"/><path fill="#00e6ff" d="M404.5 378.0h7.4v7.4h-7.4z"/><path fill="#00e3ff" d="M411.3 378.0h7.4v7.4h-7.4z"/><path fill="#00e3ff" d="M418.1 378.0h7.4v7.4h-7.4z"/><path fill="#00e3ff" d="M424.9 378.0h7.4v7.4h-7.4z"/><path fill="#00f9db" d="M241.5 384.8h7.4v7.4h-7.4z"/><path fill="#00f9db" d="M248.3 384.8h7.4v7.4h-7.4z"/><path fill="#00f9db" d="M255.1 384.8h7.4v7.4h-7.4z"/><path fill="#00fbcf" d="M261.9 384.8h7.4v7.4h-7.4z"/><path fill="#00feb5" d="M268.7 384.8h7.4v7.4h-7.4z"/><path fill="#00ffa1" d="M275.5 384.8h7.4v7.4h-7.4z"/><path fill="#00ff95" d="M282.3 384.8h7.4v7.4h-7.4z"/><path fill="#00ffa5" d="M289.1 384.8h7.4v7.4h-7.4z"/><path fill="#00fbcb" d="M295.9 384.8h7.4v7.4h-7.4z"/><path fill="#00fad6" d="M302.6 384.8h7.4v7.4h-7.4z"/><path fill="#00fbc9" d="M309.4 384.8h7.4v7.4h-7.4z"/><path fill="#00feb5" d="M316.2 384.8h7.4v7.4h-7.4z"/><path fill="#00ff95" d="M323.0 384.8h7.4v7.4h-7.4z"/><path fill="#00ff9d" d="M329.8 384.8h7.4v7.4h-7.4z"/><path fill="#00fbc9" d="M336.6 384.8h7.4v7.4h-7.4z"/><path fill="#00fbca" d="M343.4 384.8h7.4v7.4h-7.4z"/><path fill="#00ffa1" d="M350.2 384.8h7.4v7.4h-7.4z"/><path fill="#00ff86" d="M357.0 384.8h7.4v7.4h-7.4z"/><path fill="#00ff7f" d="M363.8 384.8h7.4v7.4h-7.4z"/><path fill="#00ff94" d="M370.6 384.8h7.4v7.4h-7.4z"/><path fill="#00fcc2" d="M377.4 384.8h7.4v7.4h-7.4z"/><path fill="#00f8e2" d="M384.1 384.8h7.4v7.4h-7.4z"/><path fill="#00f6f9" d="M390.9 384.8h7.4v7.4h-7.4z"/><path fill="#00f0ff" d="M397.7 384.8h7.4v7.4h-7.4z"/><path fill="#00eeff" d="M404.5 384.8h7.4v7.4h-7.4z"/><path fill="#00ecff" d="M411.3 384.8h7.4v7.4h-7.4z"/><path fill="#00ecff" d="M418.1 384.8h7.4v7.4h-7.4z"/><path fill="#00ecff" d="M424.9 384.8h7.4v7.4h-7.4z"/><path fill="#00edff" d="M241.5 391.6h7.4v7.4h-7.4z"/><path fill="#00edff" d="M248.3 391.6h7.4v7.4h-7.4z"/><path fill="#00edff" d="M255.1 391.6h7.4v7.4h-7.4z"/><path fill="#00f6fa" d="M261.9 391.6h7.4v7.4h-7.4z"/><path fill="#00fad9" d="M268.7 391.6h7.4v7.4h-7.4z"/><path fill="#00fdbb" d="M275.5 391.6h7.4v7.4h-7.4z"/><path fill="#00ffa4" d="M282.3 391.6h7.4v7.4h-7.4z"/><path fill="#00ffaa" d="M289.1 391.6h7.4v7.4h-7.4z"/><path fill="#00fbcb" d="M295.9 391.6h7.4v7.4h-7.4z"/><path fill="#00fad4" d="M302.6 391.6h7.4v7.4h-7.4z"/><path fill="#00fcc7" d="M309.4 391.6h7.4v7.4h-7.4z"/><path fill="#00fdbc" d="M316.2 391.6h7.4v7.4h-7.4z"/><path fill="#00feb4" d="M323.0 391.6h7.4v7.4h-7.4z"/><path fill="#00fdbd" d="M329.8 391.6h7.4v7.4h-7.4z"/><path fill="#00fad6" d="M336.6 391.6h7.4v7.4h-7.4z"/><path fill="#00fcc6" d="M343.4 391.6h7.4v7.4h-7.4z"/><path fill="#00ff8a" d="M350.2 391.6h7.4v7.4h-7.4z"/><path fill="#00ff61" d="M357.0 391.6h7.4v7.4h-7.4z"/><path fill="#00ff51" d="M363.8 391.6h7.4v7.4h-7.4z"/><path fill="#00ff65" d="M370.6 391.6h7.4v7.4h-7.4z"/><path fill="#00ff9d" d="M377.4 391.6h7.4v7.4h-7.4z"/><path fill="#00fcc5" d="M384.1 391.6h7.4v7.4h-7.4z"/><path fill="#00f9e1" d="M390.9 391.6h7.4v7.4h-7.4z"/><path fill="#00f6f4" d="M397.7 391.6h7.4v7.4h-7.4z"/><path fill="#00f5fe" d="M404.5 391.6h7.4v7.4h-7.4z"/><path fill="#00f2ff" d="M411.3 391.6h7.4v7.4h-7.4z"/><path fill="#00f2ff" d="M418.1 391.6h7.4v7.4h-7.4z"/><path fill="#00f2ff" d="M424.9 391.6h7.4v7.4h-7.4z"/><path fill="#00f3ff" d="M241.5 398.4h7.4v7.4h-7.4z"/><path fill="#00f3ff" d="M248.3 398.4h7.4v7.4h-7.4z"/><path fill="#00f3ff" d="M255.1 398.4h7.4v7.4h-7.4z"/><path fill="#00f6f3" d="M261.9 398.4h7.4v7.4h-7.4z"/><path fill="#00fad4" d="M268.7 398.4h7.4v7.4h-7.4z"/><path fill="#00feb4" d="M275.5 398.4h7.4v7.4h-7.4z"/><path fill="#00ff92" d="M282.3 398.4h7.4v7.4h-7.4z"/><path fill="#00ff8d" d="M289.1 398.4h7.4v7.4h-7.4z"/><path fill="#00ffa7" d="M295.9 398.4h7.4v7.4h-7.4z"/><path fill="#00feb6" d="M302.6 398.4h7.4v7.4h-7.4z"/><path fill="#00fdbd" d="M309.4 398.4h7.4v7.4h-7.4z"/><path fill="#00fcc6" d="M316.2 398.4h7.4v7.4h-7.4z"/><path fill="#00fad2" d="M323.0 398.4h7.4v7.4h-7.4z"/><path fill="#00fbd0" d="M329.8 398.4h7.4v7.4h-7.4z"/><path fill="#00fdbf" d="M336.6 398.4h7.4v7.4h-7.4z"/><path fill="#00ff9a" d="M343.4 398.4h7.4v7.4h-7.4z"/><path fill="#00ff5e" d="M350.2 398.4h7.4v7.4h-7.4z"/><path fill="#00ff46" d="M357.0 398.4h7.4v7.4h-7.4z"/><path fill="#00ff52" d="M363.8 398.4h7.4v7.4h-7.4z"/><path fill="#00ff6c" d="M370.6 398.4h7.4v7.4h-7.4z"/><path fill="#00ff96" d="M377.4 398.4h7.4v7.4h-7.4z"/><path fill="#00feb2" d="M384.1 398.4h7.4v7.4h-7.4z"/><path fill="#00fcc2" d="M390.9 398.4h7.4v7.4h-7.4z"/><path fill="#00fad8" d="M397.7 398.4h7.4v7.4h-7.4z"/><path fill="#00f6f3" d="M404.5 398.4h7.4v7.4h-7.4z"/><path fill="#00f5ff" d="M411.3 398.4h7.4v7.4h-7.4z"/><path fill="#00f5ff" d="M418.1 398.4h7.4v7.4h-7.4z"/><path fill="#00f5ff" d="M424.9 398.4h7.4v7.4h-7.4z"/><path fill="#00f5fe" d="M241.5 405.2h7.4v7.4h-7.4z"/><path fill="#00f5fe" d="M248.3 405.2h7.4v7.4h-7.4z"/><path fill="#00f5fe" d="M255.1 405.2h7.4v7.4h-7.4z"/><path fill="#00f7f0" d="M261.9 405.2h7.4v7.4h-7.4z"/><path fill="#00fad1" d="M268.7 405.2h7.4v7.4h-7.4z"/><path fill="#00feb0" d="M275.5 405.2h7.4v7.4h-7.4z"/><path fill="#00ff89" d="M282.3 405.2h7.4v7.4h-7.4z"/><path fill="#00ff7f" d="M289.1 405.2h7.4v7.4h-7.4z"/><path fill="#00ff93" d="M295.9 405.2h7.4v7.4h-7.4z"/><path fill="#00ffa7" d="M302.6 405.2h7.4v7.4h-7.4z"/><path fill="#00fdb8" d="M309.4 405.2h7.4v7.4h-7.4z"/><path fill="#00fbcb" d="M316.2 405.2h7.4v7.4h-7.4z"/><path fill="#00f9e1" d="M323.0 405.2h7.4v7.4h-7.4z"/><path fill="#00f9d9" d="M329.8 405.2h7.4v7.4h-7.4z"/><path fill="#00feb4" d="M336.6 405.2h7.4v7.4h-7.4z"/><path fill="#00ff83" d="M343.4 405.2h7.4v7.4h-7.4z"/><path fill="#00ff49" d="M350.2 405.2h7.4v7.4h-7.4z"/><path fill="#04ff3f" d="M357.0 405.2h7.4v7.4h-7.4z"/><path fill="#00ff52" d="M363.8 405.2h7.4v7.4h-7.4z"/><path fill="#00ff70" d="M370.6 405.2h7.4v7.4h-7.4z"/><path fill="#00ff92" d="M377.4 405.2h7.4v7.4h-7.4z"/><path fill="#00ffa9" d="M384.1 405.2h7.4v7.4h-7.4z"/><path fill="#00feb3" d="M390.9 405.2h7.4v7.4h-7.4z"/><path fill="#00fbcb" d="M397.7 405.2h7.4v7.4h-7.4z"/><path fill="#00f7ed" d="M404.5 405.2h7.4v7.4h-7.4z"/><path fill="#00f5fe" d="M411.3 405.2h7.4v7.4h-7.4z"/><path fill="#00f5fe" d="M418.1 405.2h7.4v7.4h-7.4z"/><path fill="#00f5fe" d="M424.9 405.2h7.4v7.4h-7.4z"/><path fill="#00f5fe" d="M241.5 412.0h7.4v7.4h-7.4z"/><path fill="#00f5fe" d="M248.3 412.0h7.4v7.4h-7.4z"/><path fill="#00f5fe" d="M255.1 412.0h7.4v7.4h-7.4z"/><path fill="#00f7f0" d="M261.9 412.0h7.4v7.4h-7.4z"/><path fill="#00fad1" d="M268.7 412.0h7.4v7.4h-7.4z"/><path fill="#00feb0" d="M275.5 412.0h7.4v7.4h-7.4z"/><path fill="#00ff89" d="M282.3 412.0h7.4v7.4h-7.4z"/><path fill="#00ff7f" d="M289.1 412.0h7.4v7.4h-7.4z"/><path fill="#00ff93" d="M295.9 412.0h7.4v7.4h-7.4z"/><path fill="#00ffa7" d="M302.6 412.0h7.4v7.4h-7.4z"/><path fill="#00fdb8" d="M309.4 412.0h7.4v7.4h-7.4z"/><path fill="#00fbcb" d="M316.2 412.0h7.4v7.4h-7.4z"/><path fill="#00f9e1" d="M323.0 412.0h7.4v7.4h-7.4z"/><path fill="#00f9d9" d="M329.8 412.0h7.4v7.4h-7.4z"/><path fill="#00feb4" d="M336.6 412.0h7.4v7.4h-7.4z"/><path fill="#00ff83" d="M343.4 412.0h7.4v7.4h-7.4z"/><path fill="#00ff49" d="M350.2 412.0h7.4v7.4h-7.4z"/><path fill="#04ff3f" d="M357.0 412.0h7.4v7.4h-7.4z"/><path fill="#00ff52" d="M363.8 412.0h7.4v7.4h-7.4z"/><path fill="#00ff70" d="M370.6 412.0h7.4v7.4h-7.4z"/><path fill="#00ff92" d="M377.4 412.0h7.4v7.4h-7.4z"/><path fill="#00ffa9" d="M384.1 412.0h7.4v7.4h-7.4z"/><path fill="#00feb3" d="M390.9 412.0h7.4v7.4h-7.4z"/><path fill="#00fbcb" d="M397.7 412.0h7.4v7.4h-7.4z"/><path fill="#00f7ed" d="M404.5 412.0h7.4v7.4h-7.4z"/><path fill="#00f5fe" d="M411.3 412.0h7.4v7.4h-7.4z"/><path fill="#00f5fe" d="M418.1 412.0h7.4v7.4h-7.4z"/><path fill="#00f5fe" d="M424.9 412.0h7.4v7.4h-7.4z"/><path fill="#00f5fe" d="M241.5 418.8h7.4v7.4h-7.4z"/><path fill="#00f5fe" d="M248.3 418.8h7.4v7.4h-7.4z"/><path fill="#00f5fe" d="M255.1 418.8h7.4v7.4h-7.4z"/><path fill="#00f7f0" d="M261.9 418.8h7.4v7.4h-7.4z"/><path fill="#00fad1" d="M268.7 418.8h7.4v7.4h-7.4z"/><path fill="#00feb0" d="M275.5 418.8h7.4v7.4h-7.4z"/><path fill="#00ff89" d="M282.3 418.8h7.4v7.4h-7.4z"/><path fill="#00ff7f" d="M289.1 418.8h7.4v7.4h-7.4z"/><path fill="#00ff93" d="M295.9 418.8h7.4v7.4h-7.4z"/><path fill="#00ffa7" d="M302.6 418.8h7.4v7.4h-7.4z"/><path fill="#00fdb8" d="M309.4 418.8h7.4v7.4h-7.4z"/><path fill="#00fbcb" d="M316.2 418.8h7.4v7.4h-7.4z"/><path fill="#00f9e1" d="M323.0 418.8h7.4v7.4h-7.4z"/><path fill="#00f9d9" d="M329.8 418.8h7.4v7.4h-7.4z"/><path fill="#00feb4" d="M336.6 418.8h7.4v7.4h-7.4z"/><path fill="#00ff83" d="M343.4 418.8h7.4v7.4h-7.4z"/><path fill="#00ff49" d="M350.2 418.8h7.4v7.4h-7.4z"/><path fill="#04ff3f" d="M357.0 418.8h7.4v7.4h-7.4z"/><path fill="#00ff52" d="M363.8 418.8h7.4v7.4h-7.4z"/><path fill="#00ff70" d="M370.6 418.8h7.4v7.4h-7.4z"/><path fill="#00ff92" d="M377.4 418.8h7.4v7.4h-7.4z"/><path fill="#00ffa9" d="M384.1 418.8h7.4v7.4h-7.4z"/><path fill="#00feb3" d="M390.9 418.8h7.4v7.4h-7.4z"/><path fill="#00fbcb" d="M397.7 418.8h7.4v7.4h-7.4z"/><path fill="#00f7ed" d="M404.5 418.8h7.4v7.4h-7.4z"/><path fill="#00f5fe" d="M411.3 418.8h7.4v7.4h-7.4z"/><path fill="#00f5fe" d="M418.1 418.8h7.4v7.4h-7.4z"/><path fill="#00f5fe" d="M424.9 418.8h7.4v7.4h-7.4z"/></g></g>
<g clip-path="url(#hc3)"><g filter="url(#hb3)"><path fill="#0064ff" d="M475.7 235.4h7.4v7.4h-7.4z"/><path fill="#0064ff" d="M482.5 235.4h7.4v7.4h-7.4z"/><path fill="#0064ff" d="M489.3 235.4h7.4v7.4h-7.4z"/><path fill="#0064ff" d="M496.1 235.4h7.4v7.4h-7.4z"/><path fill="#0064ff" d="M502.9 235.4h7.4v7.4h-7.4z"/><path fill="#0068ff" d="M509.7 235.4h7.4v7.4h-7.4z"/><path fill="#0070ff" d="M516.5 235.4h7.4v7.4h-7.4z"/><path fill="#0076ff" d="M523.3 235.4h7.4v7.4h-7.4z"/><path fill="#007aff" d="M530.1 235.4h7.4v7.4h-7.4z"/><path fill="#0093ff" d="M537.0 235.4h7.4v7.4h-7.4z"/><path fill="#00beff" d="M543.8 235.4h7.4v7.4h-7.4z"/><path fill="#00c7ff" d="M550.6 235.4h7.4v7.4h-7.4z"/><path fill="#00afff" d="M557.4 235.4h7.4v7.4h-7.4z"/><path fill="#00aeff" d="M564.2 235.4h7.4v7.4h-7.4z"/><path fill="#00c4ff" d="M571.0 235.4h7.4v7.4h-7.4z"/><path fill="#00c5ff" d="M577.8 235.4h7.4v7.4h-7.4z"/><path fill="#00b0ff" d="M584.6 235.4h7.4v7.4h-7.4z"/><path fill="#0099ff" d="M591.4 235.4h7.4v7.4h-7.4z"/><path fill="#007fff" d="M598.2 235.4h7.4v7.4h-7.4z"/><path fill="#0066ff" d="M605.0 235.4h7.4v7.4h-7.4z"/><path fill="#004fff" d="M611.9 235.4h7.4v7.4h-7.4z"/><path fill="#0038ff" d="M618.7 235.4h7.4v7.4h-7.4z"/><path fill="#001fff" d="M625.5 235.4h7.4v7.4h-7.4z"/><path fill="#0026ff" d="M632.3 235.4h7.4v7.4h-7.4z"/><path fill="#004aff" d="M639.1 235.4h7.4v7.4h-7.4z"/><path fill="#005eff" d="M645.9 235.4h7.4v7.4h-7.4z"/><path fill="#005eff" d="M652.7 235.4h7.4v7.4h-7.4z"/><path fill="#005eff" d="M659.5 235.4h7.4v7.4h-7.4z"/><path fill="#0064ff" d="M475.7 242.2h7.4v7.4h-7.4z"/><path fill="#0064ff" d="M482.5 242.2h7.4v7.4h-7.4z"/><path fill="#0064ff" d="M489.3 242.2h7.4v7.4h-7.4z"/><path fill="#0064ff" d="M496.1 242.2h7.4v7.4h-7.4z"/><path fill="#0064ff" d="M502.9 242.2h7.4v7.4h-7.4z"/><path fill="#0068ff" d="M509.7 242.2h7.4v7.4h-7.4z"/><path fill="#0070ff" d="M516.5 242.2h7.4v7.4h-7.4z"/><path fill="#0076ff" d="M523.3 242.2h7.4v7.4h-7.4z"/><path fill="#007aff" d="M530.1 242.2h7.4v7.4h-7.4z"/><path fill="#0093ff" d="M537.0 242.2h7.4v7.4h-7.4z"/><path fill="#00beff" d="M543.8 242.2h7.4v7.4h-7.4z"/><path fill="#00c7ff" d="M550.6 242.2h7.4v7.4h-7.4z"/><path fill="#00afff" d="M557.4 242.2h7.4v7.4h-7.4z"/><path fill="#00aeff" d="M564.2 242.2h7.4v7.4h-7.4z"/><path fill="#00c4ff" d="M571.0 242.2h7.4v7.4h-7.4z"/><path fill="#00c5ff" d="M577.8 242.2h7.4v7.4h-7.4z"/><path fill="#00b0ff" d="M584.6 242.2h7.4v7.4h-7.4z"/><path fill="#0099ff" d="M591.4 242.2h7.4v7.4h-7.4z"/><path fill="#007fff" d="M598.2 242.2h7.4v7.4h-7.4z"/><path fill="#0066ff" d="M605.0 242.2h7.4v7.4h-7.4z"/><path fill="#004fff" d="M611.9 242.2h7.4v7.4h-7.4z"/><path fill="#0038ff" d="M618.7 242.2h7.4v7.4h-7.4z"/><path fill="#001fff" d="M625.5 242.2h7.4v7.4h-7.4z"/><path fill="#0026ff" d="M632.3 242.2h7.4v7.4h-7.4z"/><path fill="#004aff" d="M639.1 242.2h7.4v7.4h-7.4z"/><path fill="#005eff" d="M645.9 242.2h7.4v7.4h-7.4z"/><path fill="#005eff" d="M652.7 242.2h7.4v7.4h-7.4z"/><path fill="#005eff" d="M659.5 242.2h7.4v7.4h-7.4z"/><path fill="#0064ff" d="M475.7 249.0h7.4v7.4h-7.4z"/><path fill="#0064ff" d="M482.5 249.0h7.4v7.4h-7.4z"/><path fill="#0064ff" d="M489.3 249.0h7.4v7.4h-7.4z"/><path fill="#0064ff" d="M496.1 249.0h7.4v7.4h-7.4z"/><path fill="#0064ff" d="M502.9 249.0h7.4v7.4h-7.4z"/><path fill="#0068ff" d="M509.7 249.0h7.4v7.4h-7.4z"/><path fill="#0070ff" d="M516.5 249.0h7.4v7.4h-7.4z"/><path fill="#0076ff" d="M523.3 249.0h7.4v7.4h-7.4z"/><path fill="#007aff" d="M530.1 249.0h7.4v7.4h-7.4z"/><path fill="#0093ff" d="M537.0 249.0h7.4v7.4h-7.4z"/><path fill="#00beff" d="M543.8 249.0h7.4v7.4h-7.4z"/><path fill="#00c7ff" d="M550.6 249.0h7.4v7.4h-7.4z"/><path fill="#00afff" d="M557.4 249.0h7.4v7.4h-7.4z"/><path fill="#00aeff" d="M564.2 249.0h7.4v7.4h-7.4z"/><path fill="#00c4ff" d="M571.0 249.0h7.4v7.4h-7.4z"/><path fill="#00c5ff" d="M577.8 249.0h7.4v7.4h-7.4z"/><path fill="#00b0ff" d="M584.6 249.0h7.4v7.4h-7.4z"/><path fill="#0099ff" d="M591.4 249.0h7.4v7.4h-7.4z"/><path fill="#007fff" d="M598.2 249.0h7.4v7.4h-7.4z"/><path fill="#0066ff" d="M605.0 249.0h7.4v7.4h-7.4z"/><path fill="#004fff" d="M611.9 249.0h7.4v7.4h-7.4z"/><path fill="#0038ff" d="M618.7 249.0h7.4v7.4h-7.4z"/><path fill="#001fff" d="M625.5 249.0h7.4v7.4h-7.4z"/><path fill="#0026ff" d="M632.3 249.0h7.4v7.4h-7.4z"/><path fill="#004aff" d="M639.1 249.0h7.4v7.4h-7.4z"/><path fill="#005eff" d="M645.9 249.0h7.4v7.4h-7.4z"/><path fill="#005eff" d="M652.7 249.0h7.4v7.4h-7.4z"/><path fill="#005eff" d="M659.5 249.0h7.4v7.4h-7.4z"/><path fill="#0065ff" d="M475.7 255.8h7.4v7.4h-7.4z"/><path fill="#0065ff" d="M482.5 255.8h7.4v7.4h-7.4z"/><path fill="#0065ff" d="M489.3 255.8h7.4v7.4h-7.4z"/><path fill="#0063ff" d="M496.1 255.8h7.4v7.4h-7.4z"/><path fill="#0061ff" d="M502.9 255.8h7.4v7.4h-7.4z"/><path fill="#0062ff" d="M509.7 255.8h7.4v7.4h-7.4z"/><path fill="#0068ff" d="M516.5 255.8h7.4v7.4h-7.4z"/><path fill="#006cff" d="M523.3 255.8h7.4v7.4h-7.4z"/><path fill="#0070ff" d="M530.1 255.8h7.4v7.4h-7.4z"/><path fill="#0084ff" d="M537.0 255.8h7.4v7.4h-7.4z"/><path fill="#00a7ff" d="M543.8 255.8h7.4v7.4h-7.4z"/><path fill="#00afff" d="M550.6 255.8h7.4v7.4h-7.4z"/><path fill="#009cff" d="M557.4 255.8h7.4v7.4h-7.4z"/><path fill="#009cff" d="M564.2 255.8h7.4v7.4h-7.4z"/><path fill="#00aeff" d="M571.0 255.8h7.4v7.4h-7.4z"/><path fill="#00b2ff" d="M577.8 255.8h7.4v7.4h-7.4z"/><path fill="#00a8ff" d="M584.6 255.8h7.4v7.4h-7.4z"/><path fill="#0096ff" d="M591.4 255.8h7.4v7.4h-7.4z"/><path fill="#007bff" d="M598.2 255.8h7.4v7.4h-7.4z"/><path fill="#0062ff" d="M605.0 255.8h7.4v7.4h-7.4z"/><path fill="#004eff" d="M611.9 255.8h7.4v7.4h-7.4z"/><path fill="#0038ff" d="M618.7 255.8h7.4v7.4h-7.4z"/><path fill="#0021ff" d="M625.5 255.8h7.4v7.4h-7.4z"/><path fill="#0027ff" d="M632.3 255.8h7.4v7.4h-7.4z"/><path fill="#0049ff" d="M639.1 255.8h7.4v7.4h-7.4z"/><path fill="#005bff" d="M645.9 255.8h7.4v7.4h-7.4z"/><path fill="#005bff" d="M652.7 255.8h7.4v7.4h-7.4z"/><path fill="#005bff" d="M659.5 255.8h7.4v7.4h-7.4z"/><path fill="#0066ff" d="M475.7 262.6h7.4v7.4h-7.4z"/><path fill="#0066ff" d="M482.5 262.6h7.4v7.4h-7.4z"/><path fill="#0066ff" d="M489.3 262.6h7.4v7.4h-7.4z"/><path fill="#0062ff" d="M496.1 262.6h7.4v7.4h-7.4z"/><path fill="#005aff" d="M502.9 262.6h7.4v7.4h-7.4z"/><path fill="#0056ff" d="M509.7 262.6h7.4v7.4h-7.4z"/><path fill="#0057ff" d="M516.5 262.6h7.4v7.4h-7.4z"/><path fill="#0058ff" d="M523.3 262.6h7.4v7.4h-7.4z"/><path fill="#005aff" d="M530.1 262.6h7.4v7.4h-7.4z"/><path fill="#0064ff" d="M537.0 262.6h7.4v7.4h-7.4z"/><path fill="#0076ff" d="M543.8 262.6h7.4v7.4h-7.4z"/><path fill="#007bff" d="M550.6 262.6h7.4v7.4h-7.4z"/><path fill="#0074ff" d="M557.4 262.6h7.4v7.4h-7.4z"/><path fill="#0074ff" d="M564.2 262.6h7.4v7.4h-7.4z"/><path fill="#007dff" d="M571.0 262.6h7.4v7.4h-7.4z"/><path fill="#0089ff" d="M577.8 262.6h7.4v7.4h-7.4z"/><path fill="#0098ff" d="M584.6 262.6h7.4v7.4h-7.4z"/><path fill="#0091ff" d="M591.4 262.6h7.4v7.4h-7.4z"/><path fill="#0072ff" d="M598.2 262.6h7.4v7.4h-7.4z"/><path fill="#005bff" d="M605.0 262.6h7.4v7.4h-7.4z"/><path fill="#004bff" d="M611.9 262.6h7.4v7.4h-7.4z"/><path fill="#0039ff" d="M618.7 262.6h7.4v7.4h-7.4z"/><path fill="#0025ff" d="M625.5 262.6h7.4v7.4h-7.4z"/><path fill="#002aff" d="M632.3 262.6h7.4v7.4h-7.4z"/><path fill="#0046ff" d="M639.1 262.6h7.4v7.4h-7.4z"/><path fill="#0055ff" d="M645.9 262.6h7.4v7.4h-7.4z"/><path fill="#0055ff" d="M652.7 262.6h7.4v7.4h-7.4z"/><path fill="#0055ff" d="M659.5 262.6h7.4v7.4h-7.4z"/><path fill="#0061ff" d="M475.7 269.4h7.4v7.4h-7.4z"/><path fill="#0061ff" d="M482.5 269.4h7.4v7.4h-7.4z"/><path fill="#0061ff" d="M489.3 269.4h7.4v7.4h-7.4z"/><path fill="#0061ff" d="M496.1 269.4h7.4v7.4h-7.4z"/><path fill="#0060ff" d="M502.9 269.4h7.4v7.4h-7.4z"/><path fill="#005bff" d="M509.7 269.4h7.4v7.4h-7.4z"/><path fill="#0054ff" d="M516.5 269.4h7.4v7.4h-7.4z"/><path fill="#004cff" d="M523.3 269.4h7.4v7.4h-7.4z"/><path fill="#0045ff" d="M530.1 269.4h7.4v7.4h-7.4z"/><path fill="#0047ff" d="M537.0 269.4h7.4v7.4h-7.4z"/><path fill="#0053ff" d="M543.8 269.4h7.4v7.4h-7.4z"/><path fill="#005aff" d="M550.6 269.4h7.4v7.4h-7.4z"/><path fill="#005cff" d="M557.4 269.4h7.4v7.4h-7.4z"/><path fill="#0062ff" d="M564.2 269.4h7.4v7.4h-7.4z"/><path fill="#0069ff" d="M571.0 269.4h7.4v7.4h-7.4z"/><path fill="#007bff" d="M577.8 269.4h7.4v7.4h-7.4z"/><path fill="#0095ff" d="M584.6 269.4h7.4v7.4h-7.4z"/><path fill="#0095ff" d="M591.4 269.4h7.4v7.4h-7.4z"/><path fill="#0078ff" d="M598.2 269.4h7.4v7.4h-7.4z"/><path fill="#0061ff" d="M605.0 269.4h7.4v7.4h-7.4z"/><path fill="#004fff" d="M611.9 269.4h7.4v7.4h-7.4z"/><path fill="#0040ff" d="M618.7 269.4h7.4v7.4h-7.4z"/><path fill="#0033ff" d="M625.5 269.4h7.4v7.4h-7.4z"/><path fill="#0038ff" d="M632.3 269.4h7.4v7.4h-7.4z"/><path fill="#004dff" d="M639.1 269.4h7.4v7.4h-7.4z"/><path fill="#0058ff" d="M645.9 269.4h7.4v7.4h-7.4z"/><path fill="#0058ff" d="M652.7 269.4h7.4v7.4h-7.4z"/><path fill="#0058ff" d="M659.5 269.4h7.4v7.4h-7.4z"/><path fill="#0056ff" d="M475.7 276.2h7.4v7.4h-7.4z"/><path fill="#0056ff" d="M482.5 276.2h7.4v7.4h-7.4z"/><path fill="#0056ff" d="M489.3 276.2h7.4v7.4h-7.4z"/><path fill="#005fff" d="M496.1 276.2h7.4v7.4h-7.4z"/><path fill="#0071ff" d="M502.9 276.2h7.4v7.4h-7.4z"/><path fill="#0072ff" d="M509.7 276.2h7.4v7.4h-7.4z"/><path fill="#005fff" d="M516.5 276.2h7.4v7.4h-7.4z"/><path fill="#0049ff" d="M523.3 276.2h7.4v7.4h-7.4z"/><path fill="#0032ff" d="M530.1 276.2h7.4v7.4h-7.4z"/><path fill="#0030ff" d="M537.0 276.2h7.4v7.4h-7.4z"/><path fill="#0043ff" d="M543.8 276.2h7.4v7.4h-7.4z"/><path fill="#0051ff" d="M550.6 276.2h7.4v7.4h-7.4z"/><path fill="#005aff" d="M557.4 276.2h7.4v7.4h-7.4z"/><path fill="#0067ff" d="M564.2 276.2h7.4v7.4h-7.4z"/><path fill="#0078ff" d="M571.0 276.2h7.4v7.4h-7.4z"/><path fill="#008bff" d="M577.8 276.2h7.4v7.4h-7.4z"/><path fill="#00a1ff" d="M584.6 276.2h7.4v7.4h-7.4z"/><path fill="#00a2ff" d="M591.4 276.2h7.4v7.4h-7.4z"/><path fill="#008eff" d="M598.2 276.2h7.4v7.4h-7.4z"/><path fill="#0077ff" d="M605.0 276.2h7.4v7.4h-7.4z"/><path fill="#005cff" d="M611.9 276.2h7.4v7.4h-7.4z"/><path fill="#004dff" d="M618.7 276.2h7.4v7.4h-7.4z"/><path fill="#004cff" d="M625.5 276.2h7.4v7.4h-7.4z"/><path fill="#0051ff" d="M632.3 276.2h7.4v7.4h-7.4z"/><path fill="#005cff" d="M639.1 276.2h7.4v7.4h-7.4z"/><path fill="#0062ff" d="M645.9 276.2h7.4v7.4h-7.4z"/><path fill="#0062ff" d="M652.7 276.2h7.4v7.4h-7.4z"/><path fill="#0062ff" d="M659.5 276.2h7.4v7.4h-7.4z"/><path fill="#0056ff" d="M475.7 283.0h7.4v7.4h-7.4z"/><path fill="#0056ff" d="M482.5 283.0h7.4v7.4h-7.4z"/><path fill="#0056ff" d="M489.3 283.0h7.4v7.4h-7.4z"/><path fill="#0062ff" d="M496.1 283.0h7.4v7.4h-7.4z"/><path fill="#007bff" d="M502.9 283.0h7.4v7.4h-7.4z"/><path fill="#007cff" d="M509.7 283.0h7.4v7.4h-7.4z"/><path fill="#0063ff" d="M516.5 283.0h7.4v7.4h-7.4z"/><path fill="#0048ff" d="M523.3 283.0h7.4v7.4h-7.4z"/><path fill="#002fff" d="M530.1 283.0h7.4v7.4h-7.4z"/><path fill="#002dff" d="M537.0 283.0h7.4v7.4h-7.4z"/><path fill="#0043ff" d="M543.8 283.0h7.4v7.4h-7.4z"/><path fill="#0056ff" d="M550.6 283.0h7.4v7.4h-7.4z"/><path fill="#0066ff" d="M557.4 283.0h7.4v7.4h-7.4z"/><path fill="#0072ff" d="M564.2 283.0h7.4v7.4h-7.4z"/><path fill="#007aff" d="M571.0 283.0h7.4v7.4h-7.4z"/><path fill="#0086ff" d="M577.8 283.0h7.4v7.4h-7.4z"/><path fill="#0095ff" d="M584.6 283.0h7.4v7.4h-7.4z"/><path fill="#0099ff" d="M591.4 283.0h7.4v7.4h-7.4z"/><path fill="#0093ff" d="M598.2 283.0h7.4v7.4h-7.4z"/><path fill="#0081ff" d="M605.0 283.0h7.4v7.4h-7.4z"/><path fill="#0065ff" d="M611.9 283.0h7.4v7.4h-7.4z"/><path fill="#0057ff" d="M618.7 283.0h7.4v7.4h-7.4z"/><path fill="#0058ff" d="M625.5 283.0h7.4v7.4h-7.4z"/><path fill="#005dff" d="M632.3 283.0h7.4v7.4h-7.4z"/><path fill="#0063ff" d="M639.1 283.0h7.4v7.4h-7.4z"/><path fill="#0066ff" d="M645.9 283.0h7.4v7.4h-7.4z"/><path fill="#0066ff" d="M652.7 283.0h7.4v7.4h-7.4z"/><path fill="#0066ff" d="M659.5 283.0h7.4v7.4h-7.4z"/><path fill="#005fff" d="M475.7 289.8h7.4v7.4h-7.4z"/><path fill="#005fff" d="M482.5 289.8h7.4v7.4h-7.4z"/><path fill="#005fff" d="M489.3 289.8h7.4v7.4h-7.4z"/><path fill="#0069ff" d="M496.1 289.8h7.4v7.4h-7.4z"/><path fill="#007dff" d="M502.9 289.8h7.4v7.4h-7.4z"/><path fill="#007aff" d="M509.7 289.8h7.4v7.4h-7.4z"/><path fill="#005fff" d="M516.5 289.8h7.4v7.4h-7.4z"/><path fill="#0049ff" d="M523.3 289.8h7.4v7.4h-7.4z"/><path fill="#003bff" d="M530.1 289.8h7.4v7.4h-7.4z"/><path fill="#003eff" d="M537.0 289.8h7.4v7.4h-7.4z"/><path fill="#0053ff" d="M543.8 289.8h7.4v7.4h-7.4z"/><path fill="#0069ff" d="M550.6 289.8h7.4v7.4h-7.4z"/><path fill="#0080ff" d="M557.4 289.8h7.4v7.4h-7.4z"/><path fill="#0083ff" d="M564.2 289.8h7.4v7.4h-7.4z"/><path fill="#0072ff" d="M571.0 289.8h7.4v7.4h-7.4z"/><path fill="#006cff" d="M577.8 289.8h7.4v7.4h-7.4z"/><path fill="#0072ff" d="M584.6 289.8h7.4v7.4h-7.4z"/><path fill="#007aff" d="M591.4 289.8h7.4v7.4h-7.4z"/><path fill="#0084ff" d="M598.2 289.8h7.4v7.4h-7.4z"/><path fill="#007fff" d="M605.0 289.8h7.4v7.4h-7.4z"/><path fill="#006aff" d="M611.9 289.8h7.4v7.4h-7.4z"/><path fill="#005dff" d="M618.7 289.8h7.4v7.4h-7.4z"/><path fill="#0057ff" d="M625.5 289.8h7.4v7.4h-7.4z"/><path fill="#0059ff" d="M632.3 289.8h7.4v7.4h-7.4z"/><path fill="#0062ff" d="M639.1 289.8h7.4v7.4h-7.4z"/><path fill="#0066ff" d="M645.9 289.8h7.4v7.4h-7.4z"/><path fill="#0066ff" d="M652.7 289.8h7.4v7.4h-7.4z"/><path fill="#0066ff" d="M659.5 289.8h7.4v7.4h-7.4z"/><path fill="#0060ff" d="M475.7 296.5h7.4v7.4h-7.4z"/><path fill="#0060ff" d="M482.5 296.5h7.4v7.4h-7.4z"/><path fill="#0060ff" d="M489.3 296.5h7.4v7.4h-7.4z"/><path fill="#0067ff" d="M496.1 296.5h7.4v7.4h-7.4z"/><path fill="#0075ff" d="M502.9 296.5h7.4v7.4h-7.4z"/><path fill="#0076ff" d="M509.7 296.5h7.4v7.4h-7.4z"/><path fill="#006aff" d="M516.5 296.5h7.4v7.4h-7.4z"/><path fill="#005fff" d="M523.3 296.5h7.4v7.4h-7.4z"/><path fill="#0054ff" d="M530.1 296.5h7.4v7.4h-7.4z"/><path fill="#0055ff" d="M537.0 296.5h7.4v7.4h-7.4z"/><path fill="#005fff" d="M543.8 296.5h7.4v7.4h-7.4z"/><path fill="#006eff" d="M550.6 296.5h7.4v7.4h-7.4z"/><path fill="#0082ff" d="M557.4 296.5h7.4v7.4h-7.4z"/><path fill="#007fff" d="M564.2 296.5h7.4v7.4h-7.4z"/><path fill="#0067ff" d="M571.0 296.5h7.4v7.4h-7.4z"/><path fill="#0057ff" d="M577.8 296.5h7.4v7.4h-7.4z"/><path fill="#0050ff" d="M584.6 296.5h7.4v7.4h-7.4z"/><path fill="#0056ff" d="M591.4 296.5h7.4v7.4h-7.4z"/><path fill="#006aff" d="M598.2 296.5h7.4v7.4h-7.4z"/><path fill="#0070ff" d="M605.0 296.5h7.4v7.4h-7.4z"/><path fill="#0068ff" d="M611.9 296.5h7.4v7.4h-7.4z"/><path fill="#0061ff" d="M618.7 296.5h7.4v7.4h-7.4z"/><path fill="#005dff" d="M625.5 296.5h7.4v7.4h-7.4z"/><path fill="#005dff" d="M632.3 296.5h7.4v7.4h-7.4z"/><path fill="#0062ff" d="M639.1 296.5h7.4v7.4h-7.4z"/><path fill="#0064ff" d="M645.9 296.5h7.4v7.4h-7.4z"/><path fill="#0064ff" d="M652.7 296.5h7.4v7.4h-7.4z"/><path fill="#0064ff" d="M659.5 296.5h7.4v7.4h-7.4z"/><path fill="#0058ff" d="M475.7 303.3h7.4v7.4h-7.4z"/><path fill="#0058ff" d="M482.5 303.3h7.4v7.4h-7.4z"/><path fill="#0058ff" d="M489.3 303.3h7.4v7.4h-7.4z"/><path fill="#005cff" d="M496.1 303.3h7.4v7.4h-7.4z"/><path fill="#0063ff" d="M502.9 303.3h7.4v7.4h-7.4z"/><path fill="#0071ff" d="M509.7 303.3h7.4v7.4h-7.4z"/><path fill="#0084ff" d="M516.5 303.3h7.4v7.4h-7.4z"/><path fill="#0088ff" d="M523.3 303.3h7.4v7.4h-7.4z"/><path fill="#007cff" d="M530.1 303.3h7.4v7.4h-7.4z"/><path fill="#0071ff" d="M537.0 303.3h7.4v7.4h-7.4z"/><path fill="#0066ff" d="M543.8 303.3h7.4v7.4h-7.4z"/><path fill="#0065ff" d="M550.6 303.3h7.4v7.4h-7.4z"/><path fill="#006bff" d="M557.4 303.3h7.4v7.4h-7.4z"/><path fill="#0068ff" d="M564.2 303.3h7.4v7.4h-7.4z"/><path fill="#005bff" d="M571.0 303.3h7.4v7.4h-7.4z"/><path fill="#0047ff" d="M577.8 303.3h7.4v7.4h-7.4z"/><path fill="#0031ff" d="M584.6 303.3h7.4v7.4h-7.4z"/><path fill="#0030ff" d="M591.4 303.3h7.4v7.4h-7.4z"/><path fill="#0045ff" d="M598.2 303.3h7.4v7.4h-7.4z"/><path fill="#0054ff" d="M605.0 303.3h7.4v7.4h-7.4z"/><path fill="#005dff" d="M611.9 303.3h7.4v7.4h-7.4z"/><path fill="#0064ff" d="M618.7 303.3h7.4v7.4h-7.4z"/><path fill="#006bff" d="M625.5 303.3h7.4v7.4h-7.4z"/><path fill="#006aff" d="M632.3 303.3h7.4v7.4h-7.4z"/><path fill="#0064ff" d="M639.1 303.3h7.4v7.4h-7.4z"/><path fill="#0061ff" d="M645.9 303.3h7.4v7.4h-7.4z"/><path fill="#0061ff" d="M652.7 303.3h7.4v7.4h-7.4z"/><path fill="#0061ff" d="M659.5 303.3h7.4v7.4h-7.4z"/><path fill="#0058ff" d="M475.7 310.1h7.4v7.4h-7.4z"/><path fill="#0058ff" d="M482.5 310.1h7.4v7.4h-7.4z"/><path fill="#0058ff" d="M489.3 310.1h7.4v7.4h-7.4z"/><path fill="#0059ff" d="M496.1 310.1h7.4v7.4h-7.4z"/><path fill="#005bff" d="M502.9 310.1h7.4v7.4h-7.4z"/><path fill="#006fff" d="M509.7 310.1h7.4v7.4h-7.4z"/><path fill="#0094ff" d="M516.5 310.1h7.4v7.4h-7.4z"/><path fill="#00a0ff" d="M523.3 310.1h7.4v7.4h-7.4z"/><path fill="#0095ff" d="M530.1 310.1h7.4v7.4h-7.4z"/><path fill="#0084ff" d="M537.0 310.1h7.4v7.4h-7.4z"/><path fill="#006dff" d="M543.8 310.1h7.4v7.4h-7.4z"/><path fill="#0062ff" d="M550.6 310.1h7.4v7.4h-7.4z"/><path fill="#0062ff" d="M557.4 310.1h7.4v7.4h-7.4z"/><path fill="#005eff" d="M564.2 310.1h7.4v7.4h-7.4z"/><path fill="#0055ff" d="M571.0 310.1h7.4v7.4h-7.4z"/><path fill="#0047ff" d="M577.8 310.1h7.4v7.4h-7.4z"/><path fill="#0037ff" d="M584.6 310.1h7.4v7.4h-7.4z"/><path fill="#0039ff" d="M591.4 310.1h7.4v7.4h-7.4z"/><path fill="#004fff" d="M598.2 310.1h7.4v7.4h-7.4z"/><path fill="#0060ff" d="M605.0 310.1h7.4v7.4h-7.4z"/><path fill="#006bff" d="M611.9 310.1h7.4v7.4h-7.4z"/><path fill="#0071ff" d="M618.7 310.1h7.4v7.4h-7.4z"/><path fill="#0072ff" d="M625.5 310.1h7.4v7.4h-7.4z"/><path fill="#0071ff" d="M632.3 310.1h7.4v7.4h-7.4z"/><path fill="#006dff" d="M639.1 310.1h7.4v7.4h-7.4z"/><path fill="#006bff" d="M645.9 310.1h7.4v7.4h-7.4z"/><path fill="#006bff" d="M652.7 310.1h7.4v7.4h-7.4z"/><path fill="#006bff" d="M659.5 310.1h7.4v7.4h-7.4z"/><path fill="#0060ff" d="M475.7 316.9h7.4v7.4h-7.4z"/><path fill="#0060ff" d="M482.5 316.9h7.4v7.4h-7.4z"/><path fill="#0060ff" d="M489.3 316.9h7.4v7.4h-7.4z"/><path fill="#005fff" d="M496.1 316.9h7.4v7.4h-7.4z"/><path fill="#005cff" d="M502.9 316.9h7.4v7.4h-7.4z"/><path fill="#006fff" d="M509.7 316.9h7.4v7.4h-7.4z"/><path fill="#0099ff" d="M516.5 316.9h7.4v7.4h-7.4z"/><path fill="#00a8ff" d="M523.3 316.9h7.4v7.4h-7.4z"/><path fill="#009eff" d="M530.1 316.9h7.4v7.4h-7.4z"/><path fill="#008dff" d="M537.0 316.9h7.4v7.4h-7.4z"/><path fill="#0074ff" d="M543.8 316.9h7.4v7.4h-7.4z"/><path fill="#0067ff" d="M550.6 316.9h7.4v7.4h-7.4z"/><path fill="#0066ff" d="M557.4 316.9h7.4v7.4h-7.4z"/><path fill="#0061ff" d="M564.2 316.9h7.4v7.4h-7.4z"/><path fill="#0056ff" d="M571.0 316.9h7.4v7.4h-7.4z"/><path fill="#0057ff" d="M577.8 316.9h7.4v7.4h-7.4z"/><path fill="#0065ff" d="M584.6 316.9h7.4v7.4h-7.4z"/><path fill="#0076ff" d="M591.4 316.9h7.4v7.4h-7.4z"/><path fill="#008bff" d="M598.2 316.9h7.4v7.4h-7.4z"/><path fill="#0094ff" d="M605.0 316.9h7.4v7.4h-7.4z"/><path fill="#0091ff" d="M611.9 316.9h7.4v7.4h-7.4z"/><path fill="#0086ff" d="M618.7 316.9h7.4v7.4h-7.4z"/><path fill="#0074ff" d="M625.5 316.9h7.4v7.4h-7.4z"/><path fill="#0071ff" d="M632.3 316.9h7.4v7.4h-7.4z"/><path fill="#007cff" d="M639.1 316.9h7.4v7.4h-7.4z"/><path fill="#0081ff" d="M645.9 316.9h7.4v7.4h-7.4z"/><path fill="#0081ff" d="M652.7 316.9h7.4v7.4h-7.4z"/><path fill="#0081ff" d="M659.5 316.9h7.4v7.4h-7.4z"/><path fill="#0069ff" d="M475.7 323.7h7.4v7.4h-7.4z"/><path fill="#0069ff" d="M482.5 323.7h7.4v7.4h-7.4z"/><path fill="#0069ff" d="M489.3 323.7h7.4v7.4h-7.4z"/><path fill="#0069ff" d="M496.1 323.7h7.4v7.4h-7.4z"/><path fill="#0069ff" d="M502.9 323.7h7.4v7.4h-7.4z"/><path fill="#0077ff" d="M509.7 323.7h7.4v7.4h-7.4z"/><path fill="#0092ff" d="M516.5 323.7h7.4v7.4h-7.4z"/><path fill="#009dff" d="M523.3 323.7h7.4v7.4h-7.4z"/><path fill="#0098ff" d="M530.1 323.7h7.4v7.4h-7.4z"/><path fill="#008fff" d="M537.0 323.7h7.4v7.4h-7.4z"/><path fill="#0081ff" d="M543.8 323.7h7.4v7.4h-7.4z"/><path fill="#007eff" d="M550.6 323.7h7.4v7.4h-7.4z"/><path fill="#0088ff" d="M557.4 323.7h7.4v7.4h-7.4z"/><path fill="#008bff" d="M564.2 323.7h7.4v7.4h-7.4z"/><path fill="#0088ff" d="M571.0 323.7h7.4v7.4h-7.4z"/><path fill="#0089ff" d="M577.8 323.7h7.4v7.4h-7.4z"/><path fill="#008fff" d="M584.6 323.7h7.4v7.4h-7.4z"/><path fill="#0098ff" d="M591.4 323.7h7.4v7.4h-7.4z"/><path fill="#00a5ff" d="M598.2 323.7h7.4v7.4h-7.4z"/><path fill="#00a8ff" d="M605.0 323.7h7.4v7.4h-7.4z"/><path fill="#00a1ff" d="M611.9 323.7h7.4v7.4h-7.4z"/><path fill="#0093ff" d="M618.7 323.7h7.4v7.4h-7.4z"/><path fill="#007dff" d="M625.5 323.7h7.4v7.4h-7.4z"/><path fill="#0077ff" d="M632.3 323.7h7.4v7.4h-7.4z"/><path fill="#007eff" d="M639.1 323.7h7.4v7.4h-7.4z"/><path fill="#0082ff" d="M645.9 323.7h7.4v7.4h-7.4z"/><path fill="#0082ff" d="M652.7 323.7h7.4v7.4h-7.4z"/><path fill="#0082ff" d="M659.5 323.7h7.4v7.4h-7.4z"/><path fill="#0072ff" d="M475.7 330.5h7.4v7.4h-7.4z"/><path fill="#0072ff" d="M482.5 330.5h7.4v7.4h-7.4z"/><path fill="#0072ff" d="M489.3 330.5h7.4v7.4h-7.4z"/><path fill="#0078ff" d="M496.1 330.5h7.4v7.4h-7.4z"/><path fill="#0084ff" d="M502.9 330.5h7.4v7.4h-7.4z"/><path fill="#0086ff" d="M509.7 330.5h7.4v7.4h-7.4z"/><path fill="#007eff" d="M516.5 330.5h7.4v7.4h-7.4z"/><path fill="#007dff" d="M523.3 330.5h7.4v7.4h-7.4z"/><path fill="#0082ff" d="M530.1 330.5h7.4v7.4h-7.4z"/><path fill="#008aff" d="M537.0 330.5h7.4v7.4h-7.4z"/><path fill="#0095ff" d="M543.8 330.5h7.4v7.4h-7.4z"/><path fill="#00a8ff" d="M550.6 330.5h7.4v7.4h-7.4z"/><path fill="#00c3ff" d="M557.4 330.5h7.4v7.4h-7.4z"/><path fill="#00d8ff" d="M564.2 330.5h7.4v7.4h-7.4z"/><path fill="#00e7ff" d="M571.0 330.5h7.4v7.4h-7.4z"/><path fill="#00daff" d="M577.8 330.5h7.4v7.4h-7.4z"/><path fill="#00b1ff" d="M584.6 330.5h7.4v7.4h-7.4z"/><path fill="#009dff" d="M591.4 330.5h7.4v7.4h-7.4z"/><path fill="#009fff" d="M598.2 330.5h7.4v7.4h-7.4z"/><path fill="#009eff" d="M605.0 330.5h7.4v7.4h-7.4z"/><path fill="#009cff" d="M611.9 330.5h7.4v7.4h-7.4z"/><path fill="#0097ff" d="M618.7 330.5h7.4v7.4h-7.4z"/><path fill="#008dff" d="M625.5 330.5h7.4v7.4h-7.4z"/><path fill="#0081ff" d="M632.3 330.5h7.4v7.4h-7.4z"/><path fill="#0073ff" d="M639.1 330.5h7.4v7.4h-7.4z"/><path fill="#006cff" d="M645.9 330.5h7.4v7.4h-7.4z"/><path fill="#006cff" d="M652.7 330.5h7.4v7.4h-7.4z"/><path fill="#006cff" d="M659.5 330.5h7.4v7.4h-7.4z"/><path fill="#005eff" d="M475.7 337.3h7.4v7.4h-7.4z"/><path fill="#005eff" d="M482.5 337.3h7.4v7.4h-7.4z"/><path fill="#005eff" d="M489.3 337.3h7.4v7.4h-7.4z"/><path fill="#0067ff" d="M496.1 337.3h7.4v7.4h-7.4z"/><path fill="#007aff" d="M502.9 337.3h7.4v7.4h-7.4z"/><path fill="#007dff" d="M509.7 337.3h7.4v7.4h-7.4z"/><path fill="#006eff" d="M516.5 337.3h7.4v7.4h-7.4z"/><path fill="#006aff" d="M523.3 337.3h7.4v7.4h-7.4z"/><path fill="#006fff" d="M530.1 337.3h7.4v7.4h-7.4z"/><path fill="#007cff" d="M537.0 337.3h7.4v7.4h-7.4z"/><path fill="#0091ff" d="M543.8 337.3h7.4v7.4h-7.4z"/><path fill="#00acff" d="M550.6 337.3h7.4v7.4h-7.4z"/><path fill="#00cfff" d="M557.4 337.3h7.4v7.4h-7.4z"/><path fill="#00e9ff" d="M564.2 337.3h7.4v7.4h-7.4z"/><path fill="#00f6f4" d="M571.0 337.3h7.4v7.4h-7.4z"/><path fill="#00e9ff" d="M577.8 337.3h7.4v7.4h-7.4z"/><path fill="#00b1ff" d="M584.6 337.3h7.4v7.4h-7.4z"/><path fill="#0092ff" d="M591.4 337.3h7.4v7.4h-7.4z"/><path fill="#008dff" d="M598.2 337.3h7.4v7.4h-7.4z"/><path fill="#008dff" d="M605.0 337.3h7.4v7.4h-7.4z"/><path fill="#0092ff" d="M611.9 337.3h7.4v7.4h-7.4z"/><path fill="#0091ff" d="M618.7 337.3h7.4v7.4h-7.4z"/><path fill="#008bff" d="M625.5 337.3h7.4v7.4h-7.4z"/><path fill="#0079ff" d="M632.3 337.3h7.4v7.4h-7.4z"/><path fill="#0060ff" d="M639.1 337.3h7.4v7.4h-7.4z"/><path fill="#0054ff" d="M645.9 337.3h7.4v7.4h-7.4z"/><path fill="#0054ff" d="M652.7 337.3h7.4v7.4h-7.4z"/><path fill="#0054ff" d="M659.5 337.3h7.4v7.4h-7.4z"/><path fill="#0030ff" d="M475.7 344.1h7.4v7.4h-7.4z"/><path fill="#0030ff" d="M482.5 344.1h7.4v7.4h-7.4z"/><path fill="#0030ff" d="M489.3 344.1h7.4v7.4h-7.4z"/><path fill="#0039ff" d="M496.1 344.1h7.4v7.4h-7.4z"/><path fill="#004dff" d="M502.9 344.1h7.4v7.4h-7.4z"/><path fill="#005cff" d="M509.7 344.1h7.4v7.4h-7.4z"/><path fill="#0062ff" d="M516.5 344.1h7.4v7.4h-7.4z"/><path fill="#0063ff" d="M523.3 344.1h7.4v7.4h-7.4z"/><path fill="#005fff" d="M530.1 344.1h7.4v7.4h-7.4z"/><path fill="#0065ff" d="M537.0 344.1h7.4v7.4h-7.4z"/><path fill="#0074ff" d="M543.8 344.1h7.4v7.4h-7.4z"/><path fill="#008cff" d="M550.6 344.1h7.4v7.4h-7.4z"/><path fill="#00abff" d="M557.4 344.1h7.4v7.4h-7.4z"/><path fill="#00bfff" d="M564.2 344.1h7.4v7.4h-7.4z"/><path fill="#00c9ff" d="M571.0 344.1h7.4v7.4h-7.4z"/><path fill="#00b9ff" d="M577.8 344.1h7.4v7.4h-7.4z"/><path fill="#008dff" d="M584.6 344.1h7.4v7.4h-7.4z"/><path fill="#0075ff" d="M591.4 344.1h7.4v7.4h-7.4z"/><path fill="#0070ff" d="M598.2 344.1h7.4v7.4h-7.4z"/><path fill="#0075ff" d="M605.0 344.1h7.4v7.4h-7.4z"/><path fill="#0083ff" d="M611.9 344.1h7.4v7.4h-7.4z"/><path fill="#0083ff" d="M618.7 344.1h7.4v7.4h-7.4z"/><path fill="#0075ff" d="M625.5 344.1h7.4v7.4h-7.4z"/><path fill="#0060ff" d="M632.3 344.1h7.4v7.4h-7.4z"/><path fill="#0045ff" d="M639.1 344.1h7.4v7.4h-7.4z"/><path fill="#003aff" d="M645.9 344.1h7.4v7.4h-7.4z"/><path fill="#003aff" d="M652.7 344.1h7.4v7.4h-7.4z"/><path fill="#003aff" d="M659.5 344.1h7.4v7.4h-7.4z"/><path fill="#002aff" d="M475.7 350.9h7.4v7.4h-7.4z"/><path fill="#002aff" d="M482.5 350.9h7.4v7.4h-7.4z"/><path fill="#002aff" d="M489.3 350.9h7.4v7.4h-7.4z"/><path fill="#0032ff" d="M496.1 350.9h7.4v7.4h-7.4z"/><path fill="#0043ff" d="M502.9 350.9h7.4v7.4h-7.4z"/><path fill="#0055ff" d="M509.7 350.9h7.4v7.4h-7.4z"/><path fill="#0066ff" d="M516.5 350.9h7.4v7.4h-7.4z"/><path fill="#0065ff" d="M523.3 350.9h7.4v7.4h-7.4z"/><path fill="#0052ff" d="M530.1 350.9h7.4v7.4h-7.4z"/><path fill="#004fff" d="M537.0 350.9h7.4v7.4h-7.4z"/><path fill="#005dff" d="M543.8 350.9h7.4v7.4h-7.4z"/><path fill="#0071ff" d="M550.6 350.9h7.4v7.4h-7.4z"/><path fill="#0089ff" d="M557.4 350.9h7.4v7.4h-7.4z"/><path fill="#009aff" d="M564.2 350.9h7.4v7.4h-7.4z"/><path fill="#00a3ff" d="M571.0 350.9h7.4v7.4h-7.4z"/><path fill="#0098ff" d="M577.8 350.9h7.4v7.4h-7.4z"/><path fill="#0078ff" d="M584.6 350.9h7.4v7.4h-7.4z"/><path fill="#0062ff" d="M591.4 350.9h7.4v7.4h-7.4z"/><path fill="#0058ff" d="M598.2 350.9h7.4v7.4h-7.4z"/><path fill="#005cff" d="M605.0 350.9h7.4v7.4h-7.4z"/><path fill="#006fff" d="M611.9 350.9h7.4v7.4h-7.4z"/><path fill="#0073ff" d="M618.7 350.9h7.4v7.4h-7.4z"/><path fill="#0068ff" d="M625.5 350.9h7.4v7.4h-7.4z"/><path fill="#0057ff" d="M632.3 350.9h7.4v7.4h-7.4z"/><path fill="#0043ff" d="M639.1 350.9h7.4v7.4h-7.4z"/><path fill="#003aff" d="M645.9 350.9h7.4v7.4h-7.4z"/><path fill="#003aff" d="M652.7 350.9h7.4v7.4h-7.4z"/><path fill="#003aff" d="M659.5 350.9h7.4v7.4h-7.4z"/><path fill="#0048ff" d="M475.7 357.7h7.4v7.4h-7.4z"/><path fill="#0048ff" d="M482.5 357.7h7.4v7.4h-7.4z"/><path fill="#0048ff" d="M489.3 357.7h7.4v7.4h-7.4z"/><path fill="#004eff" d="M496.1 357.7h7.4v7.4h-7.4z"/><path fill="#005aff" d="M502.9 357.7h7.4v7.4h-7.4z"/><path fill="#0069ff" d="M509.7 357.7h7.4v7.4h-7.4z"/><path fill="#007aff" d="M516.5 357.7h7.4v7.4h-7.4z"/><path fill="#006fff" d="M523.3 357.7h7.4v7.4h-7.4z"/><path fill="#0047ff" d="M530.1 357.7h7.4v7.4h-7.4z"/><path fill="#003cff" d="M537.0 357.7h7.4v7.4h-7.4z"/><path fill="#004cff" d="M543.8 357.7h7.4v7.4h-7.4z"/><path fill="#005bff" d="M550.6 357.7h7.4v7.4h-7.4z"/><path fill="#0069ff" d="M557.4 357.7h7.4v7.4h-7.4z"/><path fill="#0078ff" d="M564.2 357.7h7.4v7.4h-7.4z"/><path fill="#0089ff" d="M571.0 357.7h7.4v7.4h-7.4z"/><path fill="#0087ff" d="M577.8 357.7h7.4v7.4h-7.4z"/><path fill="#0071ff" d="M584.6 357.7h7.4v7.4h-7.4z"/><path fill="#005bff" d="M591.4 357.7h7.4v7.4h-7.4z"/><path fill="#0045ff" d="M598.2 357.7h7.4v7.4h-7.4z"/><path fill="#0043ff" d="M605.0 357.7h7.4v7.4h-7.4z"/><path fill="#0057ff" d="M611.9 357.7h7.4v7.4h-7.4z"/><path fill="#0062ff" d="M618.7 357.7h7.4v7.4h-7.4z"/><path fill="#0063ff" d="M625.5 357.7h7.4v7.4h-7.4z"/><path fill="#0060ff" d="M632.3 357.7h7.4v7.4h-7.4z"/><path fill="#0058ff" d="M639.1 357.7h7.4v7.4h-7.4z"/><path fill="#0054ff" d="M645.9 357.7h7.4v7.4h-7.4z"/><path fill="#0054ff" d="M652.7 357.7h7.4v7.4h-7.4z"/><path fill="#0054ff" d="M659.5 357.7h7.4v7.4h-7.4z"/><path fill="#005eff" d="M475.7 364.5h7.4v7.4h-7.4z"/><path fill="#005eff" d="M482.5 364.5h7.4v7.4h-7.4z"/><path fill="#005eff" d="M489.3 364.5h7.4v7.4h-7.4z"/><path fill="#005dff" d="M496.1 364.5h7.4v7.4h-7.4z"/><path fill="#005bff" d="M502.9 364.5h7.4v7.4h-7.4z"/><path fill="#0064ff" d="M509.7 364.5h7.4v7.4h-7.4z"/><path fill="#0077ff" d="M516.5 364.5h7.4v7.4h-7.4z"/><path fill="#006dff" d="M523.3 364.5h7.4v7.4h-7.4z"/><path fill="#0045ff" d="M530.1 364.5h7.4v7.4h-7.4z"/><path fill="#003bff" d="M537.0 364.5h7.4v7.4h-7.4z"/><path fill="#004aff" d="M543.8 364.5h7.4v7.4h-7.4z"/><path fill="#0055ff" d="M550.6 364.5h7.4v7.4h-7.4z"/><path fill="#005bff" d="M557.4 364.5h7.4v7.4h-7.4z"/><path fill="#0068ff" d="M564.2 364.5h7.4v7.4h-7.4z"/><path fill="#007cff" d="M571.0 364.5h7.4v7.4h-7.4z"/><path fill="#007dff" d="M577.8 364.5h7.4v7.4h-7.4z"/><path fill="#006bff" d="M584.6 364.5h7.4v7.4h-7.4z"/><path fill="#0054ff" d="M591.4 364.5h7.4v7.4h-7.4z"/><path fill="#003bff" d="M598.2 364.5h7.4v7.4h-7.4z"/><path fill="#0038ff" d="M605.0 364.5h7.4v7.4h-7.4z"/><path fill="#004aff" d="M611.9 364.5h7.4v7.4h-7.4z"/><path fill="#0059ff" d="M618.7 364.5h7.4v7.4h-7.4z"/><path fill="#0062ff" d="M625.5 364.5h7.4v7.4h-7.4z"/><path fill="#006bff" d="M632.3 364.5h7.4v7.4h-7.4z"/><path fill="#0072ff" d="M639.1 364.5h7.4v7.4h-7.4z"/><path fill="#0076ff" d="M645.9 364.5h7.4v7.4h-7.4z"/><path fill="#0076ff" d="M652.7 364.5h7.4v7.4h-7.4z"/><path fill="#0076ff" d="M659.5 364.5h7.4v7.4h-7.4z"/><path fill="#0066ff" d="M475.7 371.2h7.4v7.4h-7.4z"/><path fill="#0066ff" d="M482.5 371.2h7.4v7.4h-7.4z"/><path fill="#0066ff" d="M489.3 371.2h7.4v7.4h-7.4z"/><path fill="#005dff" d="M496.1 371.2h7.4v7.4h-7.4z"/><path fill="#0047ff" d="M502.9 371.2h7.4v7.4h-7.4z"/><path fill="#0047ff" d="M509.7 371.2h7.4v7.4h-7.4z"/><path fill="#005cff" d="M516.5 371.2h7.4v7.4h-7.4z"/><path fill="#005eff" d="M523.3 371.2h7.4v7.4h-7.4z"/><path fill="#004eff" d="M530.1 371.2h7.4v7.4h-7.4z"/><path fill="#004cff" d="M537.0 371.2h7.4v7.4h-7.4z"/><path fill="#0058ff" d="M543.8 371.2h7.4v7.4h-7.4z"/><path fill="#005fff" d="M550.6 371.2h7.4v7.4h-7.4z"/><path fill="#0060ff" d="M557.4 371.2h7.4v7.4h-7.4z"/><path fill="#006aff" d="M564.2 371.2h7.4v7.4h-7.4z"/><path fill="#007dff" d="M571.0 371.2h7.4v7.4h-7.4z"/><path fill="#007bff" d="M577.8 371.2h7.4v7.4h-7.4z"/><path fill="#0065ff" d="M584.6 371.2h7.4v7.4h-7.4z"/><path fill="#004eff" d="M591.4 371.2h7.4v7.4h-7.4z"/><path fill="#0039ff" d="M598.2 371.2h7.4v7.4h-7.4z"/><path fill="#0037ff" d="M605.0 371.2h7.4v7.4h-7.4z"/><path fill="#0048ff" d="M611.9 371.2h7.4v7.4h-7.4z"/><path fill="#0059ff" d="M618.7 371.2h7.4v7.4h-7.4z"/><path fill="#0066ff" d="M625.5 371.2h7.4v7.4h-7.4z"/><path fill="#007aff" d="M632.3 371.2h7.4v7.4h-7.4z"/><path fill="#0092ff" d="M639.1 371.2h7.4v7.4h-7.4z"/><path fill="#009dff" d="M645.9 371.2h7.4v7.4h-7.4z"/><path fill="#009dff" d="M652.7 371.2h7.4v7.4h-7.4z"/><path fill="#009dff" d="M659.5 371.2h7.4v7.4h-7.4z"/><path fill="#0066ff" d="M475.7 378.0h7.4v7.4h-7.4z"/><path fill="#0066ff" d="M482.5 378.0h7.4v7.4h-7.4z"/><path fill="#0066ff" d="M489.3 378.0h7.4v7.4h-7.4z"/><path fill="#0058ff" d="M496.1 378.0h7.4v7.4h-7.4z"/><path fill="#003aff" d="M502.9 378.0h7.4v7.4h-7.4z"/><path fill="#0034ff" d="M509.7 378.0h7.4v7.4h-7.4z"/><path fill="#0047ff" d="M516.5 378.0h7.4v7.4h-7.4z"/><path fill="#0052ff" d="M523.3 378.0h7.4v7.4h-7.4z"/><path fill="#0054ff" d="M530.1 378.0h7.4v7.4h-7.4z"/><path fill="#005cff" d="M537.0 378.0h7.4v7.4h-7.4z"/><path fill="#006aff" d="M543.8 378.0h7.4v7.4h-7.4z"/><path fill="#006dff" d="M550.6 378.0h7.4v7.4h-7.4z"/><path fill="#0065ff" d="M557.4 378.0h7.4v7.4h-7.4z"/><path fill="#0068ff" d="M564.2 378.0h7.4v7.4h-7.4z"/><path fill="#0076ff" d="M571.0 378.0h7.4v7.4h-7.4z"/><path fill="#0073ff" d="M577.8 378.0h7.4v7.4h-7.4z"/><path fill="#005fff" d="M584.6 378.0h7.4v7.4h-7.4z"/><path fill="#0049ff" d="M591.4 378.0h7.4v7.4h-7.4z"/><path fill="#0034ff" d="M598.2 378.0h7.4v7.4h-7.4z"/><path fill="#0033ff" d="M605.0 378.0h7.4v7.4h-7.4z"/><path fill="#0044ff" d="M611.9 378.0h7.4v7.4h-7.4z"/><path fill="#0056ff" d="M618.7 378.0h7.4v7.4h-7.4z"/><path fill="#0067ff" d="M625.5 378.0h7.4v7.4h-7.4z"/><path fill="#007eff" d="M632.3 378.0h7.4v7.4h-7.4z"/><path fill="#009aff" d="M639.1 378.0h7.4v7.4h-7.4z"/><path fill="#00a7ff" d="M645.9 378.0h7.4v7.4h-7.4z"/><path fill="#00a7ff" d="M652.7 378.0h7.4v7.4h-7.4z"/><path fill="#00a7ff" d="M659.5 378.0h7.4v7.4h-7.4z"/><path fill="#005eff" d="M475.7 384.8h7.4v7.4h-7.4z"/><path fill="#005eff" d="M482.5 384.8h7.4v7.4h-7.4z"/><path fill="#005eff" d="M489.3 384.8h7.4v7.4h-7.4z"/><path fill="#004eff" d="M496.1 384.8h7.4v7.4h-7.4z"/><path fill="#0031ff" d="M502.9 384.8h7.4v7.4h-7.4z"/><path fill="#0029ff" d="M509.7 384.8h7.4v7.4h-7.4z"/><path fill="#0039ff" d="M516.5 384.8h7.4v7.4h-7.4z"/><path fill="#0048ff" d="M523.3 384.8h7.4v7.4h-7.4z"/><path fill="#0058ff" d="M530.1 384.8h7.4v7.4h-7.4z"/><path fill="#006bff" d="M537.0 384.8h7.4v7.4h-7.4z"/><path fill="#0081ff" d="M543.8 384.8h7.4v7.4h-7.4z"/><path fill="#0081ff" d="M550.6 384.8h7.4v7.4h-7.4z"/><path fill="#006bff" d="M557.4 384.8h7.4v7.4h-7.4z"/><path fill="#0063ff" d="M564.2 384.8h7.4v7.4h-7.4z"/><path fill="#0069ff" d="M571.0 384.8h7.4v7.4h-7.4z"/><path fill="#0065ff" d="M577.8 384.8h7.4v7.4h-7.4z"/><path fill="#0059ff" d="M584.6 384.8h7.4v7.4h-7.4z"/><path fill="#0045ff" d="M591.4 384.8h7.4v7.4h-7.4z"/><path fill="#002dff" d="M598.2 384.8h7.4v7.4h-7.4z"/><path fill="#002bff" d="M605.0 384.8h7.4v7.4h-7.4z"/><path fill="#003eff" d="M611.9 384.8h7.4v7.4h-7.4z"/><path fill="#0052ff" d="M618.7 384.8h7.4v7.4h-7.4z"/><path fill="#0065ff" d="M625.5 384.8h7.4v7.4h-7.4z"/><path fill="#0079ff" d="M632.3 384.8h7.4v7.4h-7.4z"/><path fill="#008bff" d="M639.1 384.8h7.4v7.4h-7.4z"/><path fill="#0094ff" d="M645.9 384.8h7.4v7.4h-7.4z"/><path fill="#0094ff" d="M652.7 384.8h7.4v7.4h-7.4z"/><path fill="#0094ff" d="M659.5 384.8h7.4v7.4h-7.4z"/><path fill="#005dff" d="M475.7 391.6h7.4v7.4h-7.4z"/><path fill="#005dff" d="M482.5 391.6h7.4v7.4h-7.4z"/><path fill="#005dff" d="M489.3 391.6h7.4v7.4h-7.4z"/><path fill="#0050ff" d="M496.1 391.6h7.4v7.4h-7.4z"/><path fill="#0037ff" d="M502.9 391.6h7.4v7.4h-7.4z"/><path fill="#0030ff" d="M509.7 391.6h7.4v7.4h-7.4z"/><path fill="#003bff" d="M516.5 391.6h7.4v7.4h-7.4z"/><path fill="#0049ff" d="M523.3 391.6h7.4v7.4h-7.4z"/><path fill="#005cff" d="M530.1 391.6h7.4v7.4h-7.4z"/><path fill="#0070ff" d="M537.0 391.6h7.4v7.4h-7.4z"/><path fill="#0084ff" d="M543.8 391.6h7.4v7.4h-7.4z"/><path fill="#0083ff" d="M550.6 391.6h7.4v7.4h-7.4z"/><path fill="#006cff" d="M557.4 391.6h7.4v7.4h-7.4z"/><path fill="#0061ff" d="M564.2 391.6h7.4v7.4h-7.4z"/><path fill="#0063ff" d="M571.0 391.6h7.4v7.4h-7.4z"/><path fill="#0060ff" d="M577.8 391.6h7.4v7.4h-7.4z"/><path fill="#005aff" d="M584.6 391.6h7.4v7.4h-7.4z"/><path fill="#004bff" d="M591.4 391.6h7.4v7.4h-7.4z"/><path fill="#0034ff" d="M598.2 391.6h7.4v7.4h-7.4z"/><path fill="#0034ff" d="M605.0 391.6h7.4v7.4h-7.4z"/><path fill="#004aff" d="M611.9 391.6h7.4v7.4h-7.4z"/><path fill="#005fff" d="M618.7 391.6h7.4v7.4h-7.4z"/><path fill="#0072ff" d="M625.5 391.6h7.4v7.4h-7.4z"/><path fill="#007fff" d="M632.3 391.6h7.4v7.4h-7.4z"/><path fill="#0087ff" d="M639.1 391.6h7.4v7.4h-7.4z"/><path fill="#008aff" d="M645.9 391.6h7.4v7.4h-7.4z"/><path fill="#008aff" d="M652.7 391.6h7.4v7.4h-7.4z"/><path fill="#008aff" d="M659.5 391.6h7.4v7.4h-7.4z"/><path fill="#0064ff" d="M475.7 398.4h7.4v7.4h-7.4z"/><path fill="#0064ff" d="M482.5 398.4h7.4v7.4h-7.4z"/><path fill="#0064ff" d="M489.3 398.4h7.4v7.4h-7.4z"/><path fill="#005cff" d="M496.1 398.4h7.4v7.4h-7.4z"/><path fill="#004dff" d="M502.9 398.4h7.4v7.4h-7.4z"/><path fill="#0048ff" d="M509.7 398.4h7.4v7.4h-7.4z"/><path fill="#004eff" d="M516.5 398.4h7.4v7.4h-7.4z"/><path fill="#0056ff" d="M523.3 398.4h7.4v7.4h-7.4z"/><path fill="#0060ff" d="M530.1 398.4h7.4v7.4h-7.4z"/><path fill="#006aff" d="M537.0 398.4h7.4v7.4h-7.4z"/><path fill="#0075ff" d="M543.8 398.4h7.4v7.4h-7.4z"/><path fill="#0074ff" d="M550.6 398.4h7.4v7.4h-7.4z"/><path fill="#0068ff" d="M557.4 398.4h7.4v7.4h-7.4z"/><path fill="#0063ff" d="M564.2 398.4h7.4v7.4h-7.4z"/><path fill="#0063ff" d="M571.0 398.4h7.4v7.4h-7.4z"/><path fill="#0063ff" d="M577.8 398.4h7.4v7.4h-7.4z"/><path fill="#0063ff" d="M584.6 398.4h7.4v7.4h-7.4z"/><path fill="#005aff" d="M591.4 398.4h7.4v7.4h-7.4z"/><path fill="#004aff" d="M598.2 398.4h7.4v7.4h-7.4z"/><path fill="#004fff" d="M605.0 398.4h7.4v7.4h-7.4z"/><path fill="#0068ff" d="M611.9 398.4h7.4v7.4h-7.4z"/><path fill="#007dff" d="M618.7 398.4h7.4v7.4h-7.4z"/><path fill="#008cff" d="M625.5 398.4h7.4v7.4h-7.4z"/><path fill="#0091ff" d="M632.3 398.4h7.4v7.4h-7.4z"/><path fill="#008cff" d="M639.1 398.4h7.4v7.4h-7.4z"/><path fill="#0089ff" d="M645.9 398.4h7.4v7.4h-7.4z"/><path fill="#0089ff" d="M652.7 398.4h7.4v7.4h-7.4z"/><path fill="#0089ff" d="M659.5 398.4h7.4v7.4h-7.4z"/><path fill="#0067ff" d="M475.7 405.2h7.4v7.4h-7.4z"/><path fill="#0067ff" d="M482.5 405.2h7.4v7.4h-7.4z"/><path fill="#0067ff" d="M489.3 405.2h7.4v7.4h-7.4z"/><path fill="#0062ff" d="M496.1 405.2h7.4v7.4h-7.4z"/><path fill="#0058ff" d="M502.9 405.2h7.4v7.4h-7.4z"/><path fill="#0054ff" d="M509.7 405.2h7.4v7.4h-7.4z"/><path fill="#0057ff" d="M516.5 405.2h7.4v7.4h-7.4z"/><path fill="#005cff" d="M523.3 405.2h7.4v7.4h-7.4z"/><path fill="#0061ff" d="M530.1 405.2h7.4v7.4h-7.4z"/><path fill="#0067ff" d="M537.0 405.2h7.4v7.4h-7.4z"/><path fill="#006dff" d="M543.8 405.2h7.4v7.4h-7.4z"/><path fill="#006dff" d="M550.6 405.2h7.4v7.4h-7.4z"/><path fill="#0066ff" d="M557.4 405.2h7.4v7.4h-7.4z"/><path fill="#0063ff" d="M564.2 405.2h7.4v7.4h-7.4z"/><path fill="#0064ff" d="M571.0 405.2h7.4v7.4h-7.4z"/><path fill="#0065ff" d="M577.8 405.2h7.4v7.4h-7.4z"/><path fill="#0067ff" d="M584.6 405.2h7.4v7.4h-7.4z"/><path fill="#0061ff" d="M591.4 405.2h7.4v7.4h-7.4z"/><path fill="#0055ff" d="M598.2 405.2h7.4v7.4h-7.4z"/><path fill="#005cff" d="M605.0 405.2h7.4v7.4h-7.4z"/><path fill="#0077ff" d="M611.9 405.2h7.4v7.4h-7.4z"/><path fill="#008bff" d="M618.7 405.2h7.4v7.4h-7.4z"/><path fill="#0098ff" d="M625.5 405.2h7.4v7.4h-7.4z"/><path fill="#0099ff" d="M632.3 405.2h7.4v7.4h-7.4z"/><path fill="#008eff" d="M639.1 405.2h7.4v7.4h-7.4z"/><path fill="#0089ff" d="M645.9 405.2h7.4v7.4h-7.4z"/><path fill="#0089ff" d="M652.7 405.2h7.4v7.4h-7.4z"/><path fill="#0089ff" d="M659.5 405.2h7.4v7.4h-7.4z"/><path fill="#0067ff" d="M475.7 412.0h7.4v7.4h-7.4z"/><path fill="#0067ff" d="M482.5 412.0h7.4v7.4h-7.4z"/><path fill="#0067ff" d="M489.3 412.0h7.4v7.4h-7.4z"/><path fill="#0062ff" d="M496.1 412.0h7.4v7.4h-7.4z"/><path fill="#0058ff" d="M502.9 412.0h7.4v7.4h-7.4z"/><path fill="#0054ff" d="M509.7 412.0h7.4v7.4h-7.4z"/><path fill="#0057ff" d="M516.5 412.0h7.4v7.4h-7.4z"/><path fill="#005cff" d="M523.3 412.0h7.4v7.4h-7.4z"/><path fill="#0061ff" d="M530.1 412.0h7.4v7.4h-7.4z"/><path fill="#0067ff" d="M537.0 412.0h7.4v7.4h-7.4z"/><path fill="#006dff" d="M543.8 412.0h7.4v7.4h-7.4z"/><path fill="#006dff" d="M550.6 412.0h7.4v7.4h-7.4z"/><path fill="#0066ff" d="M557.4 412.0h7.4v7.4h-7.4z"/><path fill="#0063ff" d="M564.2 412.0h7.4v7.4h-7.4z"/><path fill="#0064ff" d="M571.0 412.0h7.4v7.4h-7.4z"/><path fill="#0065ff" d="M577.8 412.0h7.4v7.4h-7.4z"/><path fill="#0067ff" d="M584.6 412.0h7.4v7.4h-7.4z"/><path fill="#0061ff" d="M591.4 412.0h7.4v7.4h-7.4z"/><path fill="#0055ff" d="M598.2 412.0h7.4v7.4h-7.4z"/><path fill="#005cff" d="M605.0 412.0h7.4v7.4h-7.4z"/><path fill="#0077ff" d="M611.9 412.0h7.4v7.4h-7.4z"/><path fill="#008bff" d="M618.7 412.0h7.4v7.4h-7.4z"/><path fill="#0098ff" d="M625.5 412.0h7.4v7.4h-7.4z"/><path fill="#0099ff" d="M632.3 412.0h7.4v7.4h-7.4z"/><path fill="#008eff" d="M639.1 412.0h7.4v7.4h-7.4z"/><path fill="#0089ff" d="M645.9 412.0h7.4v7.4h-7.4z"/><path fill="#0089ff" d="M652.7 412.0h7.4v7.4h-7.4z"/><path fill="#0089ff" d="M659.5 412.0h7.4v7.4h-7.4z"/><path fill="#0067ff" d="M475.7 418.8h7.4v7.4h-7.4z"/><path fill="#0067ff" d="M482.5 418.8h7.4v7.4h-7.4z"/><path fill="#0067ff" d="M489.3 418.8h7.4v7.4h-7.4z"/><path fill="#0062ff" d="M496.1 418.8h7.4v7.4h-7.4z"/><path fill="#0058ff" d="M502.9 418.8h7.4v7.4h-7.4z"/><path fill="#0054ff" d="M509.7 418.8h7.4v7.4h-7.4z"/><path fill="#0057ff" d="M516.5 418.8h7.4v7.4h-7.4z"/><path fill="#005cff" d="M523.3 418.8h7.4v7.4h-7.4z"/><path fill="#0061ff" d="M530.1 418.8h7.4v7.4h-7.4z"/><path fill="#0067ff" d="M537.0 418.8h7.4v7.4h-7.4z"/><path fill="#006dff" d="M543.8 418.8h7.4v7.4h-7.4z"/><path fill="#006dff" d="M550.6 418.8h7.4v7.4h-7.4z"/><path fill="#0066ff" d="M557.4 418.8h7.4v7.4h-7.4z"/><path fill="#0063ff" d="M564.2 418.8h7.4v7.4h-7.4z"/><path fill="#0064ff" d="M571.0 418.8h7.4v7.4h-7.4z"/><path fill="#0065ff" d="M577.8 418.8h7.4v7.4h-7.4z"/><path fill="#0067ff" d="M584.6 418.8h7.4v7.4h-7.4z"/><path fill="#0061ff" d="M591.4 418.8h7.4v7.4h-7.4z"/><path fill="#0055ff" d="M598.2 418.8h7.4v7.4h-7.4z"/><path fill="#005cff" d="M605.0 418.8h7.4v7.4h-7.4z"/><path fill="#0077ff" d="M611.9 418.8h7.4v7.4h-7.4z"/><path fill="#008bff" d="M618.7 418.8h7.4v7.4h-7.4z"/><path fill="#0098ff" d="M625.5 418.8h7.4v7.4h-7.4z"/><path fill="#0099ff" d="M632.3 418.8h7.4v7.4h-7.4z"/><path fill="#008eff" d="M639.1 418.8h7.4v7.4h-7.4z"/><path fill="#0089ff" d="M645.9 418.8h7.4v7.4h-7.4z"/><path fill="#0089ff" d="M652.7 418.8h7.4v7.4h-7.4z"/><path fill="#0089ff" d="M659.5 418.8h7.4v7.4h-7.4z"/></g></g>
<rect x="193.8" y="250.1" width="13.4" height="161.6" fill="url(#cbr1)" stroke="#666" stroke-width="0.4"/>
<text x="210.8" y="256.3" font-size="7.3" fill="#222">1.0</text>
<text x="210.8" y="295.35" font-size="7.3" fill="#222">0.9</text>
<text x="210.8" y="334.4" font-size="7.3" fill="#222">0.8</text>
<text x="210.8" y="373.45" font-size="7.3" fill="#222">0.7</text>
<text x="210.8" y="412.5" font-size="7.3" fill="#222">0.6</text>
<text x="192.4" y="247.2" font-size="8.2" fill="#222">×10<tspan font-size="5.6" dy="-3.4">3</tspan></text>
<text x="0" y="0" font-size="9.2" fill="#111" text-anchor="middle" transform="translate(203.8,330.7) rotate(-90)">Intensity (a.u.)</text>
<rect x="423" y="250.1" width="13.8" height="161.6" fill="url(#cbr2)" stroke="#666" stroke-width="0.4"/>
<text x="440.40000000000003" y="256.3" font-size="7.3" fill="#222">1.0</text>
<text x="440.40000000000003" y="295.35" font-size="7.3" fill="#222">0.9</text>
<text x="440.40000000000003" y="334.4" font-size="7.3" fill="#222">0.8</text>
<text x="440.40000000000003" y="373.45" font-size="7.3" fill="#222">0.7</text>
<text x="440.40000000000003" y="412.5" font-size="7.3" fill="#222">0.6</text>
<text x="421.6" y="247.2" font-size="8.2" fill="#222">×10<tspan font-size="5.6" dy="-3.4">3</tspan></text>
<text x="0" y="0" font-size="9.2" fill="#111" text-anchor="middle" transform="translate(433.2,330.7) rotate(-90)">Intensity (a.u.)</text>
<rect x="657.4" y="250.1" width="13.6" height="161.6" fill="url(#cbr3)" stroke="#666" stroke-width="0.4"/>
<text x="674.6" y="256.3" font-size="7.3" fill="#222">1.0</text>
<text x="674.6" y="295.35" font-size="7.3" fill="#222">0.9</text>
<text x="674.6" y="334.4" font-size="7.3" fill="#222">0.8</text>
<text x="674.6" y="373.45" font-size="7.3" fill="#222">0.7</text>
<text x="674.6" y="412.5" font-size="7.3" fill="#222">0.6</text>
<text x="656.0" y="247.2" font-size="8.2" fill="#222">×10<tspan font-size="5.6" dy="-3.4">3</tspan></text>
<text x="0" y="0" font-size="9.2" fill="#111" text-anchor="middle" transform="translate(667.4999999999999,330.7) rotate(-90)">Intensity (a.u.)</text>
<text x="33.1" y="405" font-size="10.85" fill="#111">PSK/SFX-DM</text>
<text x="262.0" y="405" font-size="10.85" fill="#111">PSK/SFX-P2/SFX-DM</text>
<text x="496.4" y="405" font-size="10.85" fill="#111">PSK/SFX-P1/SFX-DM</text>
<text x="7.5" y="435.3" font-size="15.5" fill="#333" font-weight="bold">f</text>
<text x="236.6" y="435.3" font-size="15.5" fill="#333" font-weight="bold">g</text>
<text x="469.8" y="435.3" font-size="15.5" fill="#333" font-weight="bold">h</text>
<g clip-path="url(#tc4)"><g filter="url(#tb4)"><rect x="27.2" y="433.5" width="159.2" height="158.8" fill="#5f8ec0"/><path d="M134.1,552.4 134.6,553.1 136.6,554.1 138.1,554.4 138.3,554.6 139.3,554.6 139.6,554.9 141.6,554.9 141.8,555.1 155.8,554.9 156.1,554.6 160.3,554.6 160.6,554.4 166.3,554.1 166.6,553.9 168.6,553.9 168.8,553.6 170.3,553.6 170.6,553.4 173.6,553.1 173.8,552.9 174.8,552.9 175.1,552.6 176.1,552.6 176.3,552.4 178.8,551.9 180.3,551.1 181.1,550.4 181.1,549.9 180.8,549.4 179.6,548.6 179.1,548.6 177.3,547.9 176.6,547.9 176.3,547.6 174.1,547.4 173.8,547.1 172.6,547.1 172.3,546.9 171.1,546.9 170.8,546.6 169.1,546.6 168.8,546.4 167.1,546.4 166.8,546.1 164.3,546.1 164.1,545.9 154.1,545.4 153.8,545.6 151.3,545.6 151.1,545.9 148.3,546.1 148.1,546.4 144.6,546.9 144.3,547.1 143.6,547.1 143.3,547.4 140.8,547.9 135.3,550.6 134.3,551.6ZM71.1,459.6 70.6,459.6 68.8,458.9 67.1,458.6 66.8,458.4 64.3,458.1 64.1,457.9 61.8,457.9 61.6,457.6 56.3,457.6 56.1,457.4 53.3,457.4 53.1,457.6 47.3,457.6 47.1,457.9 43.6,458.1 43.3,458.4 42.6,458.4 42.3,458.6 41.1,458.9 38.3,460.4 34.8,463.9 32.8,466.6 30.3,469.4 30.3,552.9 37.6,552.9 37.8,552.6 42.3,552.6 42.6,552.4 45.8,552.4 46.1,552.1 51.3,551.9 51.6,551.6 53.6,551.6 53.8,551.4 57.6,551.1 57.8,550.9 61.3,550.6 61.6,550.4 65.1,550.1 65.3,549.9 67.3,549.9 67.6,549.6 69.6,549.6 69.8,549.4 71.8,549.4 72.1,549.1 74.1,549.1 74.3,548.9 76.6,548.9 76.8,548.6 78.8,548.6 79.1,548.4 81.1,548.4 81.3,548.1 83.3,548.1 83.6,547.9 87.3,547.6 87.6,547.4 89.8,547.1 90.6,546.6 90.3,545.9 85.1,539.9 83.8,537.4 83.8,528.9 84.1,528.6 84.1,526.6 84.3,526.4 84.3,524.4 84.6,524.1 84.6,521.6 84.8,521.4 84.8,518.1 85.1,517.9 85.3,505.1 85.1,504.9 85.1,499.1 84.8,498.9 84.8,488.4 84.6,488.1 84.3,483.1 84.1,482.9 84.1,481.4 83.8,481.1 83.8,479.6 83.6,479.4 83.6,478.1 83.3,477.9 83.1,475.6 82.6,474.6 82.3,473.1 81.3,471.1 81.3,470.6 78.6,465.6 75.3,462.1 73.6,460.9Z" fill="#5885ba"/><path d="M135.3,552.1 136.6,553.1 137.1,553.1 137.8,553.6 138.6,553.6 139.8,554.1 141.8,554.1 142.1,554.4 154.8,554.1 155.1,553.9 161.8,553.6 162.1,553.4 164.1,553.4 164.3,553.1 166.1,553.1 166.3,552.9 167.8,552.9 168.1,552.6 170.6,552.4 170.8,552.1 172.6,551.9 174.6,551.1 175.3,550.6 175.3,549.6 172.8,548.4 172.1,548.4 170.8,547.9 169.8,547.9 169.6,547.6 166.8,547.4 166.6,547.1 162.6,546.9 162.3,546.6 159.6,546.6 159.3,546.4 155.8,546.4 155.6,546.1 151.1,546.1 150.8,546.4 147.1,546.6 146.8,546.9 145.8,546.9 145.6,547.1 144.6,547.1 144.3,547.4 143.3,547.4 143.1,547.6 140.6,548.1 136.6,550.1 135.3,551.4ZM39.6,481.1 37.8,482.9 36.3,484.9 35.1,487.4 34.6,487.9 31.3,494.6 30.3,496.1 30.3,551.9 40.8,551.9 41.1,551.6 47.3,551.4 47.6,551.1 50.1,551.1 50.3,550.9 52.6,550.9 52.8,550.6 55.1,550.6 55.3,550.4 57.6,550.4 57.8,550.1 60.1,550.1 60.3,549.9 62.6,549.9 62.8,549.6 65.1,549.6 65.3,549.4 67.8,549.4 68.1,549.1 70.3,549.1 70.6,548.9 72.8,548.9 73.1,548.6 75.3,548.6 75.6,548.4 79.8,548.1 80.1,547.9 81.8,547.9 82.1,547.6 83.6,547.6 83.8,547.4 85.1,547.4 85.3,547.1 87.1,546.9 87.6,546.1 86.8,544.4 84.8,541.6 80.6,536.9 79.6,535.4 78.8,533.6 78.8,528.1 79.1,527.9 79.1,525.9 79.3,525.6 79.3,523.1 79.6,522.9 79.6,518.1 79.8,517.9 79.8,514.1 79.6,513.9 79.6,509.1 79.3,508.9 79.3,506.6 79.1,506.4 79.1,504.6 78.8,504.4 78.6,501.6 78.1,500.4 78.1,499.4 77.6,498.1 77.6,497.1 77.3,496.9 77.1,494.9 76.8,494.6 76.1,491.9 75.6,491.1 75.6,490.6 73.3,486.6 70.6,483.6 67.6,481.6 63.8,480.1 63.1,480.1 62.8,479.9 61.1,479.6 60.8,479.4 59.6,479.4 59.3,479.1 57.8,479.1 57.6,478.9 54.8,478.9 54.6,478.6 47.3,478.6 47.1,478.9 45.3,478.9 45.1,479.1 43.1,479.4Z" fill="#517db3"/><path d="M136.1,551.4 136.3,551.9 137.6,552.9 138.1,552.9 139.1,553.4 140.1,553.4 140.3,553.6 142.1,553.6 142.3,553.9 146.6,553.9 146.8,553.6 153.8,553.6 154.1,553.4 160.3,553.1 160.6,552.9 162.6,552.9 162.8,552.6 164.3,552.6 164.6,552.4 167.3,552.1 167.6,551.9 169.3,551.6 171.1,550.9 171.6,550.4 171.6,549.9 170.1,548.9 169.6,548.9 168.6,548.4 167.8,548.4 167.6,548.1 165.1,547.9 164.8,547.6 161.1,547.4 160.8,547.1 158.6,547.1 158.3,546.9 154.8,546.9 154.6,546.6 149.6,546.6 149.3,546.9 147.1,546.9 146.8,547.1 144.1,547.4 143.8,547.6 142.8,547.6 142.6,547.9 141.8,547.9 141.6,548.1 140.3,548.4 137.3,549.9ZM41.3,498.6 38.8,501.4 36.8,505.6 36.8,506.1 36.1,507.9 36.1,508.6 35.8,508.9 35.1,512.6 34.8,512.9 34.6,515.4 34.3,515.6 34.3,516.9 34.1,517.1 33.8,520.9 33.6,521.1 33.6,523.9 33.3,524.1 33.3,548.9 33.6,549.1 33.6,549.6 35.1,550.6 36.1,550.6 36.3,550.9 43.8,550.9 44.1,550.6 47.3,550.6 47.6,550.4 50.3,550.4 50.6,550.1 53.1,550.1 53.3,549.9 56.1,549.9 56.3,549.6 58.8,549.6 59.1,549.4 61.8,549.4 62.1,549.1 64.6,549.1 64.8,548.9 67.3,548.9 67.6,548.6 70.1,548.6 70.3,548.4 74.6,548.1 74.8,547.9 76.3,547.9 76.6,547.6 79.1,547.4 80.6,546.6 80.6,546.1 80.8,545.9 80.8,541.9 80.6,541.6 80.3,540.1 78.3,536.9 72.3,529.9 71.3,527.6 71.3,525.4 71.6,525.1 71.6,517.6 71.3,517.4 71.1,514.1 70.8,513.9 70.3,511.1 69.6,509.6 69.6,509.1 67.1,504.6 63.8,501.4 62.3,500.4 59.8,499.1 58.6,498.9 57.8,498.4 57.1,498.4 56.8,498.1 56.1,498.1 54.8,497.6 51.8,497.4 51.6,497.1 46.3,497.1 46.1,497.4 43.8,497.6 43.1,498.1 42.3,498.1Z" fill="#4b75ac"/><path d="M137.6,551.4 138.1,551.9 139.6,552.6 140.3,552.6 140.6,552.9 142.3,552.9 142.6,553.1 145.3,553.1 145.6,552.9 152.3,552.9 152.6,552.6 155.8,552.6 156.1,552.4 158.3,552.4 158.6,552.1 160.1,552.1 160.3,551.9 162.8,551.6 165.6,550.6 165.8,550.4 165.8,549.9 165.3,549.4 164.8,549.4 163.1,548.6 160.6,548.4 160.3,548.1 158.8,548.1 158.6,547.9 153.3,547.6 153.1,547.4 147.3,547.4 147.1,547.6 143.3,547.9 143.1,548.1 140.6,548.6 138.6,549.6 137.6,550.6Z" fill="#385a8f"/><path d="M138.8,551.1 139.8,551.9 141.3,552.1 141.6,552.4 149.1,552.4 149.3,552.1 152.8,552.1 153.1,551.9 155.3,551.9 155.6,551.6 158.3,551.4 158.6,551.1 159.3,551.1 159.6,550.9 160.8,550.6 161.1,550.4 161.1,549.9 160.3,549.4 158.8,549.1 158.6,548.9 157.6,548.9 157.3,548.6 153.6,548.4 153.3,548.1 149.3,548.1 149.1,547.9 147.8,547.9 147.6,548.1 144.3,548.1 144.1,548.4 142.8,548.4 142.6,548.6 141.8,548.6 141.6,548.9 140.3,549.1 138.8,550.1Z" fill="#2c4672"/><path d="M139.8,550.6 140.6,551.4 141.1,551.4 141.3,551.6 145.1,551.9 145.3,551.6 150.1,551.6 150.3,551.4 152.6,551.4 152.8,551.1 155.3,550.9 155.6,550.6 156.1,550.6 156.6,550.1 156.1,549.6 154.6,549.4 154.3,549.1 153.1,549.1 152.8,548.9 150.8,548.9 150.6,548.6 144.1,548.6 143.8,548.9 142.3,548.9 142.1,549.1 141.6,549.1 140.6,549.6Z" fill="#243960"/><path d="M107.1,436.6 106.8,436.9 106.8,438.1 106.6,438.4 106.6,439.6 106.3,439.9 106.3,441.4 106.1,441.6 106.1,443.1 105.8,443.4 105.8,444.9 105.6,445.1 105.6,446.9 105.3,447.1 105.1,450.1 104.8,450.4 104.8,452.1 104.6,452.4 104.3,456.1 104.1,456.4 104.1,457.4 103.8,457.6 103.8,458.4 103.6,458.6 103.6,459.4 103.3,459.6 103.3,460.4 103.1,460.6 103.1,461.4 102.8,461.6 102.8,462.4 102.6,462.6 102.6,463.4 102.1,464.6 102.1,465.6 101.6,466.9 101.6,467.9 101.3,468.1 101.3,469.6 101.1,469.9 101.1,471.1 100.8,471.4 100.6,474.6 100.3,474.9 100.3,476.1 100.1,476.4 100.1,477.4 99.8,477.6 99.6,479.6 99.3,479.9 99.1,482.9 98.8,483.1 98.8,484.4 98.6,484.6 98.6,485.9 98.3,486.1 98.3,487.4 98.1,487.6 98.1,488.9 97.8,489.1 97.8,490.6 97.6,490.9 97.6,492.1 97.3,492.4 97.3,493.9 97.1,494.1 97.1,495.4 96.8,495.6 96.8,496.9 96.6,497.1 96.6,498.6 96.3,498.9 96.3,502.1 96.1,502.4 96.1,505.6 95.8,505.9 95.8,508.9 95.6,509.1 95.3,514.9 95.1,515.1 94.8,520.1 94.6,520.4 94.3,524.6 94.1,524.9 94.1,526.6 93.8,526.9 93.8,528.6 93.6,528.9 93.3,536.4 93.1,536.6 93.1,538.6 92.8,538.9 92.8,540.1 92.6,540.4 92.6,543.6 92.8,543.9 92.8,544.4 94.3,546.4 94.3,546.9 93.8,547.4 92.6,547.9 89.8,548.1 89.6,548.4 87.8,548.4 87.6,548.6 86.1,548.6 85.8,548.9 84.3,548.9 84.1,549.1 81.6,549.4 81.6,549.6 95.8,549.6 96.1,549.9 98.1,549.9 98.3,550.1 99.3,550.1 99.6,550.4 100.3,550.4 101.6,550.9 102.6,550.9 103.8,551.4 104.8,551.4 105.1,551.6 106.1,551.6 106.3,551.9 107.6,551.9 107.8,552.1 109.1,552.1 109.3,552.4 111.3,552.4 111.6,552.6 114.1,552.6 114.3,552.9 122.6,552.9 122.8,552.6 125.6,552.6 125.8,552.4 128.8,552.1 129.1,551.9 131.1,551.6 131.3,551.4 132.6,551.1 133.3,550.6 133.8,550.6 138.6,548.1 139.1,548.1 141.6,546.9 142.3,546.9 143.3,546.4 144.1,546.4 145.1,545.9 145.8,545.9 146.1,545.6 150.3,544.4 153.3,542.9 155.6,541.4 158.6,538.9 160.1,536.6 160.1,535.9 160.3,535.6 160.3,528.9 160.1,528.6 160.1,527.6 159.8,527.4 159.8,526.6 159.6,526.4 159.6,525.6 159.3,525.4 159.3,524.6 159.1,524.4 159.1,523.6 158.8,523.4 158.8,522.6 158.6,522.4 158.6,521.6 158.3,521.4 158.3,520.6 158.1,520.4 158.1,519.6 157.8,519.4 157.8,518.6 157.6,518.4 157.6,517.6 157.3,517.4 156.6,513.6 156.1,512.6 156.1,511.9 155.8,511.6 155.8,510.9 155.6,510.6 155.6,509.9 155.3,509.6 155.3,508.9 155.1,508.6 155.1,507.9 154.8,507.6 154.8,506.9 154.6,506.6 154.6,505.9 154.1,504.6 154.1,503.6 153.8,503.4 153.8,502.6 153.3,501.4 153.3,500.4 153.1,500.1 152.8,498.4 152.3,497.6 151.8,495.6 151.3,494.9 151.3,494.4 150.3,491.9 150.3,491.1 149.3,488.6 148.8,486.1 148.3,485.1 147.6,481.4 147.1,480.4 146.8,478.6 146.6,478.4 146.6,477.9 146.1,476.9 146.1,476.1 145.8,475.9 145.8,475.1 145.6,474.9 145.6,473.9 145.3,473.6 145.3,472.6 145.1,472.4 145.1,471.4 144.8,471.1 144.8,470.1 144.6,469.9 144.6,468.9 144.3,468.6 144.3,467.6 144.1,467.4 143.8,465.6 143.3,464.6 143.3,463.9 142.8,462.9 142.3,460.1 142.1,459.9 142.1,459.4 141.6,458.4 141.6,457.6 141.3,457.4 141.3,456.6 141.1,456.4 140.6,451.1 140.3,450.9 140.3,449.6 140.1,449.4 140.1,448.1 139.8,447.9 139.8,446.6 139.6,446.4 139.6,444.6 139.3,444.4 139.3,443.1 139.1,442.9 139.1,441.4 138.8,441.1 138.8,439.9 138.6,439.6 138.6,438.4 138.3,438.1 138.3,437.1 138.1,436.6Z" fill="#6d9fcf"/><path d="M110.8,436.6 110.3,439.1 110.1,439.4 110.1,440.4 109.8,440.6 109.8,441.6 109.6,441.9 109.6,443.1 109.3,443.4 109.3,444.6 109.1,444.9 109.1,446.1 108.8,446.4 108.6,448.9 108.3,449.1 108.3,450.1 108.1,450.4 107.3,456.6 107.1,456.9 107.1,457.6 106.8,457.9 106.8,458.4 106.3,459.4 106.3,460.1 105.8,461.1 105.8,461.9 105.6,462.1 105.6,462.9 105.3,463.1 105.3,463.9 105.1,464.1 105.1,464.9 104.6,465.9 104.6,466.9 104.1,468.1 103.8,471.1 103.6,471.4 103.6,472.6 103.3,472.9 103.3,474.4 103.1,474.6 103.1,475.9 102.8,476.1 102.6,478.1 102.3,478.4 102.3,479.4 102.1,479.6 102.1,480.6 101.8,480.9 101.8,482.1 101.6,482.4 101.6,483.6 101.3,483.9 101.3,485.1 101.1,485.4 101.1,486.6 100.8,486.9 100.8,488.1 100.6,488.4 100.6,489.9 100.3,490.1 100.3,491.4 100.1,491.6 100.1,493.1 99.8,493.4 99.8,494.6 99.6,494.9 99.6,496.1 99.3,496.4 99.3,497.9 99.1,498.1 98.8,504.4 98.6,504.6 98.6,507.9 98.3,508.1 98.3,511.1 98.1,511.4 98.1,514.1 97.8,514.4 97.8,517.1 97.6,517.4 97.6,519.9 97.3,520.1 97.3,522.6 97.1,522.9 96.8,527.1 96.6,527.4 96.6,529.1 96.3,529.4 96.1,536.1 95.8,536.4 95.8,538.1 95.6,538.4 95.3,540.6 95.1,540.9 95.1,541.6 94.6,542.9 94.6,544.9 95.3,546.4 95.3,546.9 93.8,547.9 91.8,548.1 91.6,548.4 90.3,548.4 90.1,548.6 88.8,548.6 88.6,548.9 87.6,548.9 87.1,549.1 88.8,549.1 89.1,549.4 96.3,549.4 96.6,549.6 98.6,549.6 98.8,549.9 101.1,550.1 101.3,550.4 102.1,550.4 103.3,550.9 104.3,550.9 104.6,551.1 105.6,551.1 105.8,551.4 106.8,551.4 107.1,551.6 108.6,551.6 108.8,551.9 110.3,551.9 110.6,552.1 112.8,552.1 113.1,552.4 124.1,552.4 124.3,552.1 126.3,552.1 126.6,551.9 129.6,551.6 129.8,551.4 130.6,551.4 130.8,551.1 131.6,551.1 131.8,550.9 133.1,550.6 135.6,549.4 136.1,549.4 140.3,547.1 140.8,547.1 141.6,546.6 142.1,546.6 143.8,545.9 144.6,545.9 147.3,544.6 147.8,544.6 150.3,543.1 151.1,542.4 151.8,540.6 151.8,528.6 151.6,528.4 151.6,527.1 151.3,526.9 151.3,525.6 151.1,525.4 151.1,523.9 150.8,523.6 150.8,522.4 150.6,522.1 150.6,520.9 150.3,520.6 150.3,519.1 150.1,518.9 149.8,515.9 149.6,515.6 149.6,514.1 149.3,513.9 149.3,512.4 149.1,512.1 149.1,510.6 148.8,510.4 148.8,508.9 148.6,508.6 148.6,506.9 148.3,506.6 148.3,504.9 148.1,504.6 148.1,502.9 147.8,502.6 147.8,500.9 147.6,500.6 147.6,498.6 147.3,498.4 147.1,496.4 146.8,496.1 146.6,494.1 146.3,493.9 146.3,492.9 145.8,491.6 145.8,490.6 145.6,490.4 145.1,486.9 144.6,485.6 144.6,484.6 144.3,484.4 144.3,483.4 144.1,483.1 143.6,479.6 143.3,479.4 143.3,478.6 143.1,478.4 143.1,477.6 142.8,477.4 142.8,476.6 142.3,475.4 142.3,474.1 142.1,473.9 142.1,472.6 141.8,472.4 141.8,471.4 141.6,471.1 141.6,469.9 141.3,469.6 141.1,467.4 140.8,467.1 140.6,465.4 140.1,464.4 139.8,462.6 139.3,461.6 139.3,460.9 138.8,459.9 138.8,459.1 137.8,456.6 137.8,455.1 137.6,454.9 137.6,453.6 137.3,453.4 136.8,449.1 136.6,448.9 136.6,447.9 136.3,447.6 136.3,446.6 136.1,446.4 136.1,445.1 135.8,444.9 135.8,443.6 135.6,443.4 135.6,442.4 135.3,442.1 135.3,441.1 135.1,440.9 135.1,439.9 134.8,439.6 134.8,438.6 134.6,438.4 134.3,436.6Z" fill="#7aaad6"/><path d="M114.1,436.6 113.6,437.9 113.3,439.6 112.8,440.6 112.6,442.6 112.3,442.9 112.1,444.9 111.8,445.1 111.8,446.1 111.6,446.4 111.6,447.1 111.1,448.4 111.1,449.4 110.8,449.6 110.8,450.6 110.6,450.9 110.6,451.9 110.3,452.1 110.3,453.1 110.1,453.4 110.1,454.6 109.8,454.9 109.6,457.1 109.1,457.9 109.1,458.4 108.1,460.9 108.1,461.6 107.6,462.6 107.6,463.4 107.3,463.6 107.1,465.1 106.3,467.1 106.1,469.6 105.8,469.9 105.8,471.1 105.6,471.4 105.6,472.6 105.3,472.9 105.3,474.1 105.1,474.4 105.1,475.6 104.8,475.9 104.6,477.9 104.1,479.1 103.8,481.6 103.6,481.9 103.6,483.1 103.3,483.4 103.3,484.6 103.1,484.9 103.1,486.1 102.8,486.4 102.8,487.6 102.6,487.9 102.6,489.1 102.3,489.4 102.3,490.9 102.1,491.1 101.8,494.1 101.6,494.4 101.3,497.4 101.1,497.6 101.1,499.6 100.8,499.9 100.8,503.4 100.6,503.6 100.3,510.9 100.1,511.1 100.1,514.1 99.8,514.4 99.8,517.4 99.6,517.6 99.3,523.4 99.1,523.6 99.1,525.9 98.8,526.1 98.8,528.4 98.6,528.6 98.3,534.9 98.1,535.1 98.1,536.9 97.8,537.1 97.6,539.6 97.3,539.9 96.8,542.4 96.1,544.1 96.1,545.9 96.3,546.1 96.3,546.6 94.8,547.9 92.3,548.4 91.3,548.9 98.3,549.4 98.6,549.6 99.8,549.6 100.1,549.9 102.3,550.1 102.6,550.4 104.6,550.6 104.8,550.9 105.8,550.9 106.1,551.1 107.1,551.1 107.3,551.4 110.6,551.6 110.8,551.9 112.8,551.9 113.1,552.1 123.8,552.1 124.1,551.9 128.1,551.6 128.3,551.4 130.6,551.1 130.8,550.9 131.6,550.9 131.8,550.6 133.8,550.1 140.3,546.9 140.8,546.9 141.6,546.4 142.1,546.4 142.8,545.9 143.3,545.9 146.1,544.6 147.8,542.6 147.8,528.1 147.6,527.9 147.6,525.9 147.3,525.6 147.3,523.6 147.1,523.4 147.1,521.1 146.8,520.9 146.8,518.9 146.6,518.6 146.6,516.4 146.3,516.1 146.3,513.9 146.1,513.6 146.1,511.1 145.8,510.9 145.8,508.6 145.6,508.4 145.6,505.9 145.3,505.6 145.3,503.1 145.1,502.9 144.8,498.1 144.6,497.9 144.6,496.9 144.3,496.6 144.3,495.4 144.1,495.1 144.1,494.1 143.8,493.9 143.8,492.6 143.6,492.4 143.6,491.4 143.3,491.1 143.3,489.9 143.1,489.6 143.1,488.6 142.8,488.4 142.8,487.1 142.6,486.9 142.6,485.9 142.3,485.6 142.3,484.6 142.1,484.4 142.1,483.1 141.8,482.9 141.3,479.4 141.1,479.1 141.1,478.4 140.8,478.1 140.8,477.4 140.3,476.1 140.3,475.1 140.1,474.9 140.1,473.6 139.8,473.4 139.8,472.1 139.6,471.9 139.6,470.9 139.3,470.6 139.1,468.1 138.8,467.9 138.6,466.1 138.1,465.1 138.1,464.4 137.6,463.4 137.6,462.6 137.3,462.4 137.3,461.9 135.3,456.4 135.3,455.1 135.1,454.9 135.1,453.6 134.8,453.4 134.3,449.9 134.1,449.6 134.1,448.9 133.6,447.6 133.6,446.6 133.1,445.4 132.8,443.1 132.6,442.9 131.8,439.1 131.1,437.4 131.1,436.6Z" fill="#89b7db"/><path d="M127.3,436.6 117.8,436.6 116.3,439.4 116.1,440.6 115.6,441.4 115.6,441.9 115.1,442.9 115.1,443.6 114.6,444.6 114.3,446.4 113.6,448.1 113.6,448.9 113.3,449.1 113.3,449.9 113.1,450.1 113.1,450.9 112.8,451.1 112.8,451.9 112.3,453.1 112.3,454.1 111.8,455.4 111.8,456.4 110.6,459.1 110.6,459.6 108.8,464.4 108.8,465.1 108.1,466.9 108.1,467.6 107.8,467.9 107.6,470.4 107.3,470.6 107.1,473.1 106.8,473.4 106.8,474.6 106.6,474.9 106.6,475.9 106.3,476.1 106.1,478.1 105.6,479.4 105.6,480.4 105.3,480.6 105.3,481.6 105.1,481.9 105.1,483.1 104.8,483.4 104.8,484.6 104.6,484.9 104.6,486.1 104.3,486.4 104.3,487.6 104.1,487.9 104.1,489.1 103.8,489.4 103.8,490.9 103.6,491.1 103.3,494.1 103.1,494.4 102.8,497.4 102.6,497.6 102.6,499.9 102.3,500.1 102.3,503.9 102.1,504.1 102.1,507.6 101.8,507.9 101.8,511.6 101.6,511.9 101.3,518.6 101.1,518.9 101.1,521.9 100.8,522.1 100.8,524.9 100.6,525.1 100.6,527.4 100.3,527.6 100.1,533.9 99.8,534.1 99.6,537.9 99.3,538.1 99.3,539.1 99.1,539.4 98.8,541.1 97.3,544.6 97.3,546.1 97.1,546.4 97.1,546.9 96.1,547.6 94.1,548.4 93.8,548.6 94.3,548.6 94.6,548.9 98.1,549.1 98.3,549.4 101.1,549.6 101.3,549.9 103.3,550.1 103.6,550.4 105.6,550.6 105.8,550.9 106.8,550.9 107.1,551.1 110.1,551.4 110.3,551.6 112.3,551.6 112.6,551.9 116.6,551.9 116.8,552.1 124.3,551.9 124.6,551.6 126.6,551.6 126.8,551.4 128.3,551.4 128.6,551.1 130.8,550.9 131.1,550.6 131.8,550.6 132.1,550.4 134.1,549.9 135.3,549.1 135.8,549.1 137.8,548.1 138.3,547.6 141.8,545.9 142.8,545.6 143.3,545.1 144.1,544.9 145.3,543.4 145.3,542.6 145.6,542.4 145.6,529.4 145.3,529.1 145.3,526.4 145.1,526.1 145.1,523.4 144.8,523.1 144.8,520.4 144.6,520.1 144.6,517.4 144.3,517.1 144.3,514.4 144.1,514.1 144.1,511.1 143.8,510.9 143.8,507.9 143.6,507.6 143.6,504.6 143.3,504.4 143.1,498.4 142.8,498.1 142.6,495.4 142.3,495.1 142.3,494.1 142.1,493.9 142.1,492.6 141.8,492.4 141.3,488.1 141.1,487.9 140.8,485.4 140.6,485.1 140.6,484.1 140.3,483.9 140.3,482.6 140.1,482.4 140.1,481.4 139.8,481.1 139.8,480.1 139.3,478.9 139.1,476.9 138.6,475.9 138.3,473.4 138.1,473.1 138.1,471.9 137.8,471.6 137.8,470.6 137.6,470.4 137.6,469.4 137.3,469.1 137.3,468.1 137.1,467.9 136.8,466.1 136.6,465.9 134.6,459.4 133.3,456.9 133.3,455.9 133.1,455.6 133.1,454.6 132.6,453.4 132.6,452.4 132.3,452.1 131.8,449.4 131.3,448.4 131.3,447.6 130.6,445.9 130.3,444.1 130.1,443.9 129.1,440.4Z" fill="#99c3e1"/><path d="M123.1,439.6 121.8,439.6 120.8,440.1 119.3,441.6 117.1,445.9 117.1,446.4 116.6,447.1 116.6,447.6 116.1,448.4 116.1,448.9 115.6,449.6 115.6,450.1 114.8,451.9 114.8,452.6 114.3,453.6 114.3,454.4 114.1,454.6 113.6,457.1 113.1,457.6 113.1,458.1 112.1,459.9 112.1,460.4 111.6,461.1 111.3,462.4 110.8,463.1 110.8,463.6 109.3,467.6 109.3,468.6 109.1,468.9 109.1,469.9 108.8,470.1 108.8,471.1 108.6,471.4 108.6,472.6 108.3,472.9 108.3,473.9 108.1,474.1 108.1,475.4 107.8,475.6 107.8,476.4 107.6,476.6 107.6,477.4 107.3,477.6 107.3,478.4 106.8,479.6 106.6,481.9 106.3,482.1 106.3,483.4 106.1,483.6 106.1,484.9 105.8,485.1 105.8,486.4 105.6,486.6 105.3,489.1 105.1,489.4 105.1,490.9 104.8,491.1 104.8,492.4 104.6,492.6 104.6,494.1 104.3,494.4 104.3,495.6 104.1,495.9 104.1,497.1 103.8,497.4 103.8,499.6 103.6,499.9 103.6,503.9 103.3,504.1 103.3,508.1 103.1,508.4 103.1,511.9 102.8,512.1 102.8,515.9 102.6,516.1 102.6,519.4 102.3,519.6 102.3,522.9 102.1,523.1 102.1,525.9 101.8,526.1 101.8,528.6 101.6,528.9 101.6,532.1 101.3,532.4 101.3,534.9 101.1,535.1 100.8,538.4 100.6,538.6 100.1,541.4 99.6,542.1 99.6,542.6 99.1,543.4 99.1,543.9 98.6,544.6 98.6,545.1 97.8,546.9 95.3,548.4 95.3,548.6 96.1,548.6 96.3,548.9 100.6,549.4 100.8,549.6 103.1,549.9 104.3,550.4 105.3,550.4 105.6,550.6 106.6,550.6 106.8,550.9 107.8,550.9 108.1,551.1 109.6,551.1 109.8,551.4 111.6,551.4 111.8,551.6 114.6,551.6 114.8,551.9 122.1,551.9 122.3,551.6 127.1,551.4 127.3,551.1 128.6,551.1 128.8,550.9 130.1,550.9 130.3,550.6 132.1,550.4 132.3,550.1 133.6,549.9 134.3,549.4 134.8,549.4 141.3,545.9 143.3,544.1 143.8,542.9 143.8,528.6 143.6,528.4 143.6,525.1 143.3,524.9 143.3,521.6 143.1,521.4 143.1,518.1 142.8,517.9 142.8,514.6 142.6,514.4 142.6,511.1 142.3,510.9 142.3,507.6 142.1,507.4 141.8,500.4 141.6,500.1 141.6,497.9 141.3,497.6 141.3,496.4 141.1,496.1 141.1,494.9 140.8,494.6 140.8,493.4 140.6,493.1 140.6,491.9 140.3,491.6 139.8,487.4 139.6,487.1 139.6,486.1 139.3,485.9 139.3,484.6 139.1,484.4 139.1,483.4 138.8,483.1 138.8,482.1 138.6,481.9 138.6,480.6 138.3,480.4 138.3,479.6 138.1,479.4 138.1,478.6 137.8,478.4 137.8,477.6 137.6,477.4 137.6,476.6 137.1,475.4 137.1,474.4 136.8,474.1 136.8,472.9 136.6,472.6 136.6,471.6 136.3,471.4 135.8,467.9 135.6,467.6 134.1,462.6 133.6,461.9 133.3,460.6 131.3,456.6 130.8,454.1 130.6,453.9 130.6,453.1 130.3,452.9 129.1,448.6 126.3,442.6 124.8,440.6 123.8,439.9 123.3,439.9Z" fill="#aacfe6"/><path d="M123.1,446.6 121.8,446.6 120.8,447.1 119.1,448.9 118.3,450.4 117.8,450.9 117.6,451.9 116.8,453.1 115.8,456.6 114.6,458.4 113.1,461.4 113.1,461.9 111.6,465.1 111.3,466.4 110.8,467.1 110.6,469.1 110.3,469.4 110.1,471.4 109.8,471.6 109.8,472.6 109.6,472.9 109.6,473.9 109.3,474.1 109.3,475.4 108.8,476.4 108.8,477.1 108.6,477.4 108.6,478.1 108.3,478.4 108.3,479.1 107.8,480.4 107.6,482.6 107.3,482.9 107.3,484.1 107.1,484.4 107.1,485.4 106.8,485.6 106.8,486.9 106.6,487.1 106.6,488.4 106.3,488.6 106.3,489.9 106.1,490.1 106.1,491.4 105.8,491.6 105.8,492.9 105.6,493.1 105.6,494.6 105.3,494.9 105.3,496.1 105.1,496.4 105.1,497.6 104.8,497.9 104.6,505.4 104.3,505.6 104.3,509.4 104.1,509.6 104.1,513.6 103.8,513.9 103.8,517.4 103.6,517.6 103.6,521.1 103.3,521.4 103.3,524.6 103.1,524.9 102.8,530.4 102.6,530.6 102.6,534.1 102.3,534.4 102.1,537.9 101.8,538.1 101.8,539.1 101.6,539.4 101.6,540.1 101.3,540.4 100.8,542.4 99.3,545.4 99.3,545.9 98.3,547.1 96.3,548.1 96.6,548.6 97.3,548.6 97.6,548.9 98.8,548.9 99.1,549.1 100.1,549.1 100.3,549.4 103.8,549.9 104.1,550.1 106.1,550.4 106.3,550.6 107.3,550.6 107.6,550.9 110.8,551.1 111.1,551.4 113.1,551.4 113.3,551.6 123.6,551.6 123.8,551.4 126.1,551.4 126.3,551.1 129.3,550.9 129.6,550.6 132.3,550.1 132.6,549.9 133.8,549.6 134.6,549.1 135.1,549.1 137.8,547.6 139.1,546.6 139.8,546.4 141.8,544.6 142.3,543.6 142.3,526.1 142.1,525.9 142.1,522.1 141.8,521.9 141.8,518.4 141.6,518.1 141.6,514.4 141.3,514.1 141.3,510.6 141.1,510.4 141.1,506.9 140.8,506.6 140.6,499.1 140.3,498.9 140.1,495.6 139.8,495.4 139.3,491.1 139.1,490.9 139.1,489.9 138.8,489.6 138.6,486.9 138.3,486.6 138.3,485.6 138.1,485.4 138.1,484.4 137.8,484.1 137.8,482.9 137.6,482.6 137.6,481.6 137.3,481.4 137.3,480.4 137.1,480.1 136.6,477.4 135.8,475.4 135.8,474.4 135.6,474.1 135.1,470.6 134.6,469.4 134.6,468.4 134.3,468.1 134.3,467.4 133.6,465.9 133.3,464.6 132.6,463.4 132.1,461.6 130.3,458.1 129.3,456.9 128.6,454.1 128.1,453.4 128.1,452.9 127.3,451.6 127.1,450.6 125.6,448.4 124.6,447.4Z" fill="#b8d8ea"/><path d="M122.8,452.1 122.1,452.1 120.3,453.1 120.3,453.4 119.3,454.4 118.1,456.9 116.6,458.4 115.1,460.6 114.1,462.6 114.1,463.1 112.8,465.4 112.8,465.9 112.3,466.6 112.3,467.1 111.8,468.1 111.6,470.1 111.3,470.4 111.1,472.4 110.8,472.6 110.6,474.6 110.3,474.9 110.3,475.9 109.6,477.6 109.6,478.4 109.3,478.6 109.3,479.4 108.8,480.6 108.8,481.6 108.6,481.9 108.6,482.9 108.3,483.1 108.3,484.1 108.1,484.4 108.1,485.6 107.8,485.9 107.8,486.9 107.6,487.1 107.6,488.4 107.3,488.6 107.3,489.6 107.1,489.9 106.8,492.6 106.6,492.9 106.6,494.4 106.3,494.6 106.1,497.4 105.8,497.6 105.8,500.1 105.6,500.4 105.6,504.6 105.3,504.9 105.3,508.9 105.1,509.1 105.1,512.9 104.8,513.1 104.8,517.1 104.6,517.4 104.6,520.9 104.3,521.1 104.3,524.4 104.1,524.6 103.8,530.6 103.6,530.9 103.6,534.1 103.3,534.4 103.1,537.9 102.8,538.1 102.8,539.1 102.6,539.4 102.6,540.1 102.3,540.4 101.6,543.1 100.3,545.6 99.3,546.9 97.1,548.1 97.1,548.4 98.3,548.6 98.6,548.9 99.6,548.9 99.8,549.1 103.3,549.6 103.6,549.9 105.6,550.1 105.8,550.4 106.8,550.4 107.1,550.6 108.1,550.6 108.3,550.9 111.8,551.1 112.1,551.4 115.1,551.4 115.3,551.6 121.8,551.6 122.1,551.4 124.8,551.4 125.1,551.1 128.6,550.9 128.8,550.6 129.8,550.6 130.1,550.4 131.8,550.1 132.1,549.9 134.1,549.4 136.6,548.1 138.8,546.6 140.8,544.6 141.1,544.1 141.1,543.1 141.3,542.9 141.3,527.9 141.1,527.6 141.1,523.6 140.8,523.4 140.8,519.4 140.6,519.1 140.6,515.4 140.3,515.1 140.3,511.4 140.1,511.1 140.1,507.4 139.8,507.1 139.6,499.4 139.3,499.1 139.3,497.4 139.1,497.1 139.1,495.9 138.8,495.6 138.8,494.4 138.6,494.1 138.1,489.9 137.8,489.6 137.8,488.6 137.6,488.4 137.6,487.1 137.3,486.9 137.3,485.9 137.1,485.6 137.1,484.6 136.8,484.4 136.3,480.9 136.1,480.6 135.6,477.9 135.1,476.9 135.1,476.1 134.6,475.1 134.6,474.1 134.3,473.9 134.3,472.9 134.1,472.6 134.1,471.6 133.8,471.4 133.1,467.6 132.3,466.1 132.3,465.6 131.3,463.9 131.3,463.4 129.8,460.4 128.1,457.9 126.8,456.6 126.3,455.4 125.3,453.9 124.1,452.6Z" fill="#c6e0ec"/><path d="M123.8,457.4 121.1,457.4 118.8,458.6 117.6,459.9 114.8,464.1 113.3,467.4 113.1,468.9 112.6,469.9 112.3,471.9 112.1,472.1 112.1,472.9 111.6,474.1 111.6,475.1 111.1,476.1 111.1,476.9 110.3,478.6 110.3,479.4 110.1,479.6 110.1,480.4 109.6,481.6 109.6,482.6 109.3,482.9 109.3,483.9 109.1,484.1 109.1,485.1 108.8,485.4 108.8,486.4 108.6,486.6 108.6,487.9 108.3,488.1 108.3,489.1 108.1,489.4 108.1,490.6 107.8,490.9 107.8,492.1 107.6,492.4 107.6,493.6 107.3,493.9 106.8,498.1 106.6,498.4 106.3,506.4 106.1,506.6 106.1,510.9 105.8,511.1 105.8,514.9 105.6,515.1 105.6,519.1 105.3,519.4 105.3,522.9 105.1,523.1 105.1,526.1 104.8,526.4 104.6,532.9 104.3,533.1 104.1,537.4 103.8,537.6 103.8,538.6 103.6,538.9 103.6,539.6 103.3,539.9 103.3,540.6 103.1,540.9 102.6,542.9 100.8,546.1 100.1,546.9 98.3,547.6 97.8,548.1 97.8,548.4 98.3,548.4 98.6,548.6 99.3,548.6 100.6,549.1 101.6,549.1 101.8,549.4 102.8,549.4 104.1,549.9 105.1,549.9 106.3,550.4 107.6,550.4 107.8,550.6 109.1,550.6 109.3,550.9 110.8,550.9 111.1,551.1 113.1,551.1 113.3,551.4 123.6,551.4 123.8,551.1 126.1,551.1 126.3,550.9 127.8,550.9 128.1,550.6 130.3,550.4 130.6,550.1 131.3,550.1 131.6,549.9 134.3,549.1 136.6,547.9 138.6,546.1 138.8,546.1 138.8,545.9 139.8,544.9 139.8,544.4 140.1,544.1 140.1,543.4 140.3,543.1 140.3,527.1 140.1,526.9 140.1,522.6 139.8,522.4 139.8,518.4 139.6,518.1 139.6,514.1 139.3,513.9 139.3,510.1 139.1,509.9 139.1,505.9 138.8,505.6 138.6,498.4 138.3,498.1 138.3,496.9 138.1,496.6 138.1,495.4 137.8,495.1 137.3,490.9 137.1,490.6 137.1,489.6 136.8,489.4 136.8,488.1 136.6,487.9 136.6,486.9 136.3,486.6 136.3,485.6 136.1,485.4 136.1,484.4 135.8,484.1 135.8,483.1 135.6,482.9 135.6,481.9 135.3,481.6 134.8,478.9 134.6,478.6 134.6,478.1 134.1,477.1 134.1,476.4 133.6,475.4 133.3,473.4 133.1,473.1 132.3,469.4 132.1,469.1 131.8,467.6 131.3,466.9 131.3,466.4 128.1,460.6 125.8,458.4Z" fill="#d2e7ed"/><path d="M123.3,459.6 121.6,459.6 119.8,460.4 118.3,461.6 116.1,464.6 114.6,467.4 114.6,467.9 114.1,468.9 114.1,469.6 113.6,470.6 113.6,471.4 113.1,472.4 112.6,475.4 111.1,479.4 111.1,480.1 110.8,480.4 110.8,481.1 110.3,482.4 110.3,483.4 110.1,483.6 110.1,484.6 109.8,484.9 109.8,485.9 109.6,486.1 109.6,487.1 109.3,487.4 109.3,488.4 109.1,488.6 109.1,489.6 108.8,489.9 108.8,491.1 108.6,491.4 108.6,492.4 108.3,492.6 108.3,493.9 108.1,494.1 108.1,495.4 107.8,495.6 107.8,496.9 107.6,497.1 107.6,498.6 107.3,498.9 107.3,502.9 107.1,503.1 107.1,507.1 106.8,507.4 106.8,511.6 106.6,511.9 106.3,519.9 106.1,520.1 106.1,523.6 105.8,523.9 105.8,526.9 105.6,527.1 105.3,533.6 105.1,533.9 104.8,537.6 104.6,537.9 104.3,540.1 104.1,540.4 103.6,542.4 101.8,545.9 100.3,547.1 98.6,547.9 98.6,548.4 99.1,548.4 99.3,548.6 100.1,548.6 101.3,549.1 102.3,549.1 103.6,549.6 104.6,549.6 105.8,550.1 108.1,550.4 108.3,550.6 109.8,550.6 110.1,550.9 111.6,550.9 111.8,551.1 114.6,551.1 114.8,551.4 122.1,551.4 122.3,551.1 125.1,551.1 125.3,550.9 127.1,550.9 127.3,550.6 129.8,550.4 131.8,549.6 132.6,549.6 135.8,548.1 138.6,545.6 139.3,543.9 139.6,529.4 139.3,529.1 139.3,524.6 139.1,524.4 139.1,520.1 138.8,519.9 138.8,515.6 138.6,515.4 138.3,507.1 138.1,506.9 138.1,503.1 137.8,502.9 137.8,498.9 137.6,498.6 137.6,497.1 137.3,496.9 137.3,495.9 137.1,495.6 136.6,491.4 136.3,491.1 136.3,490.1 136.1,489.9 136.1,488.9 135.8,488.6 135.8,487.6 135.6,487.4 135.6,486.4 135.3,486.1 135.3,485.1 135.1,484.9 135.1,483.9 134.6,482.6 134.6,481.6 134.3,481.4 134.1,479.6 132.6,475.6 132.6,474.9 132.3,474.6 132.3,473.9 132.1,473.6 132.1,472.9 131.8,472.6 131.8,471.9 130.8,469.1 130.6,467.6 129.6,465.6 127.3,462.4 125.6,460.6 124.8,460.1 124.3,460.1Z" fill="#dfecea"/><path d="M122.8,461.9 121.1,462.1 120.1,462.6 117.8,464.6 116.1,467.1 114.6,471.1 114.6,471.9 114.1,472.9 113.8,474.6 111.8,479.9 111.8,480.6 111.6,480.9 111.6,481.6 111.1,482.9 111.1,483.9 110.6,485.1 110.6,486.1 110.3,486.4 110.3,487.4 110.1,487.6 110.1,488.6 109.8,488.9 109.8,489.9 109.6,490.1 109.6,491.1 109.3,491.4 109.3,492.6 109.1,492.9 109.1,493.9 108.8,494.1 108.3,498.4 108.1,498.6 108.1,502.6 107.8,502.9 107.8,507.1 107.6,507.4 107.6,511.4 107.3,511.6 107.1,519.6 106.8,519.9 106.8,523.4 106.6,523.6 106.6,526.9 106.3,527.1 106.1,533.6 105.8,533.9 105.6,537.6 105.3,537.9 105.1,540.1 104.8,540.4 104.1,543.1 103.1,545.1 101.8,546.6 99.6,547.6 99.1,548.1 99.8,548.6 101.8,548.9 102.1,549.1 102.8,549.1 104.1,549.6 105.1,549.6 106.3,550.1 107.3,550.1 107.6,550.4 108.8,550.4 109.1,550.6 112.6,550.9 112.8,551.1 120.1,551.4 120.3,551.1 124.1,551.1 124.3,550.9 126.3,550.9 126.6,550.6 127.8,550.6 128.1,550.4 130.3,550.1 130.6,549.9 131.3,549.9 131.6,549.6 132.8,549.4 133.6,548.9 134.1,548.9 136.1,547.6 137.8,545.6 138.6,543.6 138.6,525.1 138.3,524.9 138.3,520.4 138.1,520.1 138.1,516.1 137.8,515.9 137.8,511.6 137.6,511.4 137.6,507.4 137.3,507.1 137.3,503.4 137.1,503.1 137.1,499.1 136.8,498.9 136.8,497.4 136.6,497.1 136.6,495.9 136.3,495.6 136.3,494.6 136.1,494.4 135.8,491.6 135.6,491.4 135.6,490.4 135.3,490.1 134.8,486.6 134.3,485.4 134.3,484.4 134.1,484.1 134.1,483.4 133.8,483.1 133.1,479.4 131.3,474.9 131.3,474.1 130.8,473.1 130.8,472.4 130.6,472.1 130.6,471.6 130.1,470.6 130.1,469.9 129.6,469.1 129.3,467.9 127.8,465.4 125.3,462.9Z" fill="#ebf1e7"/><path d="M122.8,464.1 121.1,464.4 119.3,465.4 117.3,467.6 116.1,470.4 116.1,470.9 114.8,474.1 114.6,475.6 113.8,476.9 113.8,477.4 113.3,478.1 113.3,478.6 112.6,480.4 112.6,481.1 112.3,481.4 112.3,482.1 112.1,482.4 112.1,483.1 111.8,483.4 111.8,484.1 111.3,485.4 111.3,486.4 110.8,487.6 110.8,488.6 110.6,488.9 110.6,489.9 110.3,490.1 110.3,491.1 110.1,491.4 110.1,492.4 109.8,492.6 109.8,493.9 109.6,494.1 109.6,495.1 109.3,495.4 109.1,498.1 108.8,498.4 108.6,506.1 108.3,506.4 108.3,510.4 108.1,510.6 108.1,514.6 107.8,514.9 107.8,518.6 107.6,518.9 107.6,522.6 107.3,522.9 107.3,526.1 107.1,526.4 107.1,529.1 106.8,529.4 106.8,532.9 106.6,533.1 106.6,535.6 106.3,535.9 106.1,538.9 105.8,539.1 105.8,539.9 105.6,540.1 105.6,540.9 105.3,541.1 105.1,542.4 103.6,545.4 102.1,546.9 101.1,547.1 99.6,548.1 100.6,548.6 101.3,548.6 101.6,548.9 102.3,548.9 102.6,549.1 103.3,549.1 104.6,549.6 105.6,549.6 105.8,549.9 106.8,549.9 107.1,550.1 108.1,550.1 108.3,550.4 109.6,550.4 109.8,550.6 111.3,550.6 111.6,550.9 113.8,550.9 114.1,551.1 122.8,551.1 123.1,550.9 125.3,550.9 125.6,550.6 127.1,550.6 127.3,550.4 128.6,550.4 128.8,550.1 130.8,549.9 131.1,549.6 133.1,549.1 135.3,547.9 137.1,545.9 137.6,544.9 137.6,543.9 137.8,543.6 137.8,533.1 138.1,532.9 138.1,529.6 137.8,529.4 137.8,524.6 137.6,524.4 137.3,515.4 137.1,515.1 137.1,511.1 136.8,510.9 136.8,506.9 136.6,506.6 136.3,498.6 136.1,498.4 136.1,497.1 135.8,496.9 135.8,495.9 135.6,495.6 135.6,494.4 135.3,494.1 135.3,493.1 135.1,492.9 135.1,491.9 134.8,491.6 134.8,490.4 134.3,489.1 134.1,486.9 133.8,486.6 133.8,485.9 133.6,485.6 133.3,483.6 133.1,483.4 132.8,481.6 132.3,480.6 132.3,479.9 131.6,478.4 131.3,477.1 130.6,475.9 130.6,475.4 130.1,474.4 130.1,473.6 129.8,473.4 129.3,471.4 128.8,470.6 128.8,470.1 128.3,469.4 128.3,468.9 127.6,467.4 125.3,465.1 124.6,464.6 123.1,464.4Z" fill="#f2efd4"/><path d="M122.8,466.1 121.1,466.4 120.1,466.9 118.3,468.9 116.8,471.9 115.8,475.1 114.1,478.6 114.1,479.1 113.3,480.9 113.3,481.6 112.8,482.6 112.8,483.4 112.6,483.6 112.6,484.4 112.3,484.6 112.3,485.4 111.8,486.6 111.8,487.6 111.3,488.9 111.3,489.9 111.1,490.1 111.1,491.1 110.8,491.4 110.8,492.4 110.6,492.6 110.6,493.6 110.3,493.9 110.3,494.9 110.1,495.1 109.8,497.6 109.6,497.9 109.3,504.6 109.1,504.9 109.1,508.9 108.8,509.1 108.8,512.9 108.6,513.1 108.6,517.1 108.3,517.4 108.3,521.1 108.1,521.4 108.1,524.9 107.8,525.1 107.6,531.6 107.3,531.9 107.3,534.9 107.1,535.1 106.8,538.4 106.6,538.6 106.6,539.6 106.3,539.9 106.3,540.6 106.1,540.9 105.6,542.9 104.3,545.4 103.1,546.6 100.3,547.9 100.6,548.4 101.1,548.4 101.3,548.6 102.1,548.6 102.3,548.9 103.1,548.9 103.3,549.1 104.1,549.1 104.3,549.4 105.1,549.4 106.3,549.9 107.3,549.9 107.6,550.1 108.6,550.1 108.8,550.4 110.1,550.4 110.3,550.6 115.1,550.9 115.3,551.1 121.6,551.1 121.8,550.9 124.6,550.9 124.8,550.6 126.6,550.6 126.8,550.4 128.1,550.4 128.3,550.1 130.3,549.9 130.6,549.6 132.6,549.1 134.6,548.1 136.1,546.6 136.8,545.1 136.8,544.1 137.1,543.9 137.1,538.1 137.3,537.9 137.3,528.1 137.1,527.9 137.1,523.1 136.8,522.9 136.8,518.6 136.6,518.4 136.6,514.1 136.3,513.9 136.3,509.9 136.1,509.6 136.1,505.6 135.8,505.4 135.6,498.1 135.3,497.9 135.3,496.9 135.1,496.6 134.8,494.1 134.6,493.9 134.1,490.4 133.6,489.1 133.6,488.1 133.3,487.9 133.3,487.1 133.1,486.9 133.1,486.1 132.8,485.9 132.8,485.1 132.6,484.9 132.6,484.1 132.3,483.9 132.3,483.1 132.1,482.9 132.1,482.1 131.6,481.1 131.3,479.6 130.8,478.9 130.3,477.1 129.3,475.4 128.3,472.1 126.6,468.6 125.6,467.4 123.8,466.4 123.1,466.4Z" fill="#f9ecc2"/><path d="M122.8,468.4 122.1,468.4 120.6,469.1 118.8,471.1 117.6,473.4 117.6,473.9 116.8,475.1 116.8,475.6 116.3,476.1 114.8,479.1 114.8,479.6 113.6,482.9 113.6,483.6 113.3,483.9 113.3,484.6 113.1,484.9 113.1,485.6 112.8,485.9 112.8,486.6 112.6,486.9 112.6,487.6 112.3,487.9 112.3,488.6 111.8,489.9 111.8,490.9 111.3,492.1 111.1,494.6 110.8,494.9 110.8,495.9 110.6,496.1 110.6,497.1 110.3,497.4 110.3,498.6 110.1,498.9 110.1,502.6 109.8,502.9 109.8,506.9 109.6,507.1 109.6,510.9 109.3,511.1 109.3,515.1 109.1,515.4 108.8,522.9 108.6,523.1 108.6,526.4 108.3,526.6 108.3,529.4 108.1,529.6 108.1,533.4 107.8,533.6 107.8,535.9 107.6,536.1 107.3,539.1 107.1,539.4 107.1,540.1 106.8,540.4 106.8,541.1 106.6,541.4 106.3,542.6 104.8,545.6 104.1,546.4 100.8,547.9 101.1,548.4 101.6,548.4 101.8,548.6 102.6,548.6 102.8,548.9 103.6,548.9 103.8,549.1 104.6,549.1 104.8,549.4 105.6,549.4 106.8,549.9 107.8,549.9 108.1,550.1 110.8,550.4 111.1,550.6 113.1,550.6 113.3,550.9 117.8,550.9 118.1,551.1 118.8,551.1 119.1,550.9 123.8,550.9 124.1,550.6 125.8,550.6 126.1,550.4 128.8,550.1 129.1,549.9 131.6,549.4 134.1,548.1 135.8,546.1 136.1,544.6 136.3,544.4 136.3,541.6 136.6,541.4 136.6,525.9 136.3,525.6 136.3,521.1 136.1,520.9 136.1,516.6 135.8,516.4 135.8,512.4 135.6,512.1 135.6,508.1 135.3,507.9 135.3,503.9 135.1,503.6 135.1,499.9 134.8,499.6 134.8,497.6 134.6,497.4 134.6,496.4 134.3,496.1 134.3,495.1 134.1,494.9 133.6,491.4 133.1,490.1 133.1,489.1 132.8,488.9 132.8,488.1 132.6,487.9 131.8,484.1 131.3,483.1 131.3,482.4 131.1,482.1 130.3,479.4 128.6,475.9 128.1,475.4 127.6,473.6 126.1,470.9 124.1,468.9Z" fill="#fce5b0"/><path d="M123.6,471.4 121.6,471.4 119.3,473.4 118.3,475.4 117.1,476.9 115.6,479.6 115.6,480.1 114.8,481.6 114.6,483.1 113.8,484.9 113.6,486.6 113.1,487.6 113.1,488.4 112.6,489.6 112.6,490.6 112.1,491.9 112.1,492.9 111.8,493.1 111.8,494.1 111.6,494.4 111.3,496.4 111.1,496.6 111.1,497.9 110.8,498.1 110.8,500.6 110.6,500.9 110.6,504.6 110.3,504.9 110.3,508.6 110.1,508.9 110.1,512.6 109.8,512.9 109.8,516.6 109.6,516.9 109.3,524.4 109.1,524.6 108.8,531.1 108.6,531.4 108.6,534.4 108.3,534.6 108.1,538.4 107.8,538.6 107.8,539.6 107.6,539.9 107.6,540.6 107.3,540.9 106.8,542.9 105.6,545.4 104.3,546.6 103.3,546.9 101.3,547.9 101.6,548.4 102.1,548.4 102.3,548.6 103.1,548.6 103.3,548.9 104.1,548.9 104.3,549.1 105.1,549.1 105.3,549.4 106.1,549.4 107.3,549.9 108.3,549.9 108.6,550.1 111.6,550.4 111.8,550.6 114.1,550.6 114.3,550.9 122.6,550.9 122.8,550.6 126.8,550.4 127.1,550.1 128.1,550.1 128.3,549.9 130.3,549.6 133.3,548.4 134.8,546.9 135.6,545.1 135.6,543.9 135.8,543.6 135.8,537.4 136.1,537.1 136.1,528.1 135.8,527.9 135.8,523.1 135.6,522.9 135.6,518.6 135.3,518.4 135.3,514.1 135.1,513.9 135.1,510.1 134.8,509.9 134.8,505.9 134.6,505.6 134.3,498.4 134.1,498.1 133.6,494.6 133.1,493.4 133.1,492.4 132.8,492.1 132.8,491.1 132.6,490.9 131.8,487.1 131.3,486.1 131.1,484.4 130.8,484.1 129.6,479.9 128.6,477.9 126.6,475.1 126.1,473.9 125.3,472.9Z" fill="#fcdd9f"/><path d="M123.3,474.1 121.8,474.1 120.8,474.6 117.3,478.4 116.1,480.9 116.1,481.4 115.6,482.1 115.6,482.6 114.3,485.9 114.3,486.6 113.8,487.6 113.8,488.4 113.6,488.6 113.6,489.4 113.3,489.6 113.3,490.4 113.1,490.6 113.1,491.4 112.6,492.6 112.6,493.6 112.1,494.9 112.1,495.9 111.8,496.1 111.8,497.1 111.6,497.4 111.6,498.4 111.3,498.6 111.3,502.1 111.1,502.4 111.1,506.1 110.8,506.4 110.8,510.1 110.6,510.4 110.6,514.1 110.3,514.4 110.1,521.9 109.8,522.1 109.8,525.4 109.6,525.6 109.6,528.4 109.3,528.6 109.3,532.4 109.1,532.6 109.1,535.1 108.8,535.4 108.6,538.6 108.3,538.9 108.3,539.9 108.1,540.1 108.1,540.9 107.8,541.1 107.3,543.1 105.8,545.9 105.3,546.4 101.8,547.9 101.8,548.1 102.3,548.4 102.8,548.4 103.8,548.9 104.6,548.9 104.8,549.1 105.6,549.1 105.8,549.4 106.6,549.4 106.8,549.6 107.6,549.6 107.8,549.9 109.1,549.9 109.3,550.1 110.6,550.1 110.8,550.4 112.3,550.4 112.6,550.6 115.3,550.6 115.6,550.9 121.6,550.9 121.8,550.6 126.3,550.4 126.6,550.1 127.6,550.1 127.8,549.9 129.8,549.6 132.8,548.4 133.6,547.9 134.3,546.9 134.8,545.6 134.8,544.9 135.1,544.6 135.1,542.1 135.3,541.9 135.3,531.1 135.6,530.9 135.6,529.9 135.3,529.6 135.3,524.6 135.1,524.4 135.1,520.1 134.8,519.9 134.8,515.9 134.6,515.6 134.6,511.6 134.3,511.4 134.3,507.6 134.1,507.4 134.1,503.6 133.8,503.4 133.8,499.9 133.6,499.6 133.6,497.9 133.3,497.6 133.3,496.6 133.1,496.4 133.1,495.4 132.6,494.1 132.6,493.1 132.1,491.9 131.8,489.9 131.3,488.9 131.1,487.1 130.8,486.9 130.8,486.4 130.3,485.4 130.3,484.6 130.1,484.4 129.6,482.4 129.1,481.6 129.1,481.1 127.8,478.6 126.6,476.9Z" fill="#fdd48e"/><path d="M123.3,476.4 121.6,476.4 120.1,477.1 118.3,478.9 117.3,480.4 117.1,481.4 115.8,483.9 115.8,484.4 114.6,487.6 114.6,488.4 114.1,489.4 114.1,490.1 113.8,490.4 113.8,491.1 113.6,491.4 113.6,492.1 113.3,492.4 113.3,493.1 112.8,494.4 112.8,495.4 112.3,496.6 112.3,497.6 112.1,497.9 112.1,499.9 111.8,500.1 111.8,503.6 111.6,503.9 111.6,507.4 111.3,507.6 111.3,511.1 111.1,511.4 111.1,515.1 110.8,515.4 110.6,522.6 110.3,522.9 110.3,526.1 110.1,526.4 110.1,529.1 109.8,529.4 109.8,533.1 109.6,533.4 109.6,535.6 109.3,535.9 109.1,539.1 108.8,539.4 108.8,540.1 108.6,540.4 108.6,541.1 108.3,541.4 107.8,543.4 106.8,545.4 105.6,546.6 103.8,547.1 102.3,547.9 102.3,548.1 102.8,548.4 103.3,548.4 104.3,548.9 105.1,548.9 105.3,549.1 106.1,549.1 106.3,549.4 107.1,549.4 107.3,549.6 108.3,549.6 108.6,549.9 109.6,549.9 109.8,550.1 111.1,550.1 111.3,550.4 113.1,550.4 113.3,550.6 117.6,550.6 117.8,550.9 119.1,550.9 119.3,550.6 123.6,550.6 123.8,550.4 125.6,550.4 125.8,550.1 127.1,550.1 127.3,549.9 129.3,549.6 132.1,548.6 133.3,547.6 134.1,546.4 134.1,545.6 134.3,545.4 134.3,544.4 134.6,544.1 134.6,540.1 134.8,539.9 134.8,526.1 134.6,525.9 134.6,521.4 134.3,521.1 134.3,517.1 134.1,516.9 134.1,512.9 133.8,512.6 133.8,508.9 133.6,508.6 133.6,505.1 133.3,504.9 133.1,498.4 132.8,498.1 132.8,497.1 132.3,495.9 132.3,494.9 132.1,494.6 132.1,493.9 131.8,493.6 131.6,491.6 131.1,490.6 130.8,488.9 130.6,488.6 130.6,488.1 129.8,486.4 129.8,485.6 129.3,484.9 128.8,482.9 128.1,481.6 128.1,481.1 126.3,478.4 124.6,476.9Z" fill="#fdc982"/><path d="M123.6,478.1 121.3,478.1 120.8,478.4 118.8,480.1 118.1,481.6 117.6,482.1 117.3,483.1 116.1,485.6 116.1,486.1 114.6,490.1 114.6,490.9 114.3,491.1 114.3,491.9 114.1,492.1 114.1,492.9 113.8,493.1 113.8,493.9 113.6,494.1 113.6,494.9 113.3,495.1 113.3,495.9 112.8,497.1 112.8,498.1 112.6,498.4 112.6,501.1 112.3,501.4 112.3,504.6 112.1,504.9 112.1,508.4 111.8,508.6 111.8,512.1 111.6,512.4 111.6,515.9 111.3,516.1 111.1,523.4 110.8,523.6 110.8,526.6 110.6,526.9 110.6,529.6 110.3,529.9 110.3,533.6 110.1,533.9 110.1,536.1 109.8,536.4 109.6,539.4 109.3,539.6 109.3,540.4 109.1,540.6 109.1,541.4 108.8,541.6 108.6,542.9 107.3,545.4 106.1,546.6 104.3,547.1 102.8,547.9 102.8,548.1 103.3,548.4 103.8,548.4 104.8,548.9 105.6,548.9 105.8,549.1 106.6,549.1 106.8,549.4 107.6,549.4 107.8,549.6 108.8,549.6 109.1,549.9 110.1,549.9 110.3,550.1 111.8,550.1 112.1,550.4 114.1,550.4 114.3,550.6 122.6,550.6 122.8,550.4 126.6,550.1 126.8,549.9 127.8,549.9 128.1,549.6 128.8,549.6 129.1,549.4 131.1,548.9 132.3,548.1 133.3,546.9 133.6,545.4 133.8,545.1 133.8,543.4 134.1,543.1 134.1,538.4 134.3,538.1 134.3,527.1 134.1,526.9 134.1,522.4 133.8,522.1 133.8,518.1 133.6,517.9 133.6,514.1 133.3,513.9 133.3,510.1 133.1,509.9 133.1,506.4 132.8,506.1 132.6,499.1 132.3,498.9 132.3,497.6 132.1,497.4 132.1,496.6 131.6,495.4 131.6,494.4 131.3,494.1 131.1,492.4 130.6,491.4 130.1,488.9 129.8,488.6 129.3,486.6 128.8,485.9 128.6,484.6 127.8,483.4 127.8,482.9 125.8,479.6Z" fill="#fcbf76"/><path d="M122.8,479.6 122.1,479.6 120.8,480.1 119.1,481.9 117.3,484.9 117.3,485.4 116.6,486.6 116.3,487.9 115.8,488.6 115.8,489.1 115.3,490.1 115.3,490.9 114.3,493.6 114.3,494.4 114.1,494.6 114.1,495.4 113.8,495.6 113.8,496.4 113.3,497.6 113.3,498.9 113.1,499.1 112.8,505.6 112.6,505.9 112.6,509.4 112.3,509.6 112.3,512.9 112.1,513.1 112.1,516.6 111.8,516.9 111.8,520.4 111.6,520.6 111.6,523.9 111.3,524.1 111.3,527.1 111.1,527.4 111.1,529.9 110.8,530.1 110.8,533.9 110.6,534.1 110.6,536.4 110.3,536.6 110.3,538.1 110.1,538.4 109.8,540.6 109.6,540.9 108.8,543.6 107.6,545.9 107.1,546.4 105.6,547.1 105.1,547.1 103.3,547.9 103.8,548.4 104.3,548.4 105.3,548.9 106.1,548.9 106.3,549.1 107.1,549.1 108.3,549.6 109.3,549.6 109.6,549.9 112.6,550.1 112.8,550.4 115.3,550.4 115.6,550.6 121.6,550.6 121.8,550.4 124.1,550.4 124.3,550.1 127.3,549.9 127.6,549.6 128.3,549.6 128.6,549.4 130.6,548.9 131.8,548.1 132.3,547.6 133.1,546.1 133.1,545.1 133.3,544.9 133.3,542.6 133.6,542.4 133.6,537.1 133.8,536.9 133.8,527.9 133.6,527.6 133.3,518.9 133.1,518.6 133.1,514.9 132.8,514.6 132.8,511.1 132.6,510.9 132.6,507.4 132.3,507.1 132.3,503.9 132.1,503.6 131.8,498.1 131.6,497.9 131.6,497.1 131.3,496.9 130.6,493.1 130.1,492.1 130.1,491.4 129.8,491.1 128.8,487.6 127.6,485.1 127.6,484.6 125.6,481.4 123.8,479.9 123.1,479.9Z" fill="#fbb36b"/><path d="M123.1,481.6 121.8,481.6 120.8,482.1 119.3,483.6 118.3,485.1 116.6,488.9 116.6,489.4 115.1,493.4 115.1,494.1 114.6,495.1 114.1,497.9 113.8,498.1 113.8,499.9 113.6,500.1 113.6,503.4 113.3,503.6 113.3,506.6 113.1,506.9 113.1,510.1 112.8,510.4 112.8,513.6 112.6,513.9 112.6,517.4 112.3,517.6 112.3,520.9 112.1,521.1 111.8,527.4 111.6,527.6 111.6,530.4 111.3,530.6 111.3,534.1 111.1,534.4 111.1,536.6 110.8,536.9 110.6,539.6 110.3,539.9 110.3,540.6 110.1,540.9 110.1,541.6 109.8,541.9 109.6,543.1 108.3,545.6 107.6,546.4 103.8,547.9 104.3,548.4 104.8,548.4 105.8,548.9 106.6,548.9 106.8,549.1 107.6,549.1 107.8,549.4 108.6,549.4 108.8,549.6 111.3,549.9 111.6,550.1 113.3,550.1 113.6,550.4 117.1,550.4 117.3,550.6 125.3,550.1 125.6,549.9 127.8,549.6 131.1,548.4 131.8,547.6 132.6,545.9 132.6,544.9 132.8,544.6 132.8,541.9 133.1,541.6 133.3,528.4 133.1,528.1 133.1,523.6 132.8,523.4 132.8,519.6 132.6,519.4 132.6,515.6 132.3,515.4 132.3,511.9 132.1,511.6 132.1,508.4 131.8,508.1 131.8,504.9 131.6,504.6 131.3,498.6 131.1,498.4 130.3,494.6 129.8,493.6 129.8,492.9 129.6,492.6 128.6,489.1 127.8,487.9 127.8,487.4 126.6,484.9 125.3,483.1 124.6,482.4Z" fill="#f9a562"/><path d="M123.1,483.6 121.8,483.6 120.8,484.1 118.8,486.4 116.8,490.4 116.8,490.9 115.3,494.9 115.3,495.6 115.1,495.9 114.6,498.4 114.3,498.6 114.1,504.4 113.8,504.6 113.8,507.6 113.6,507.9 113.6,510.9 113.3,511.1 113.3,514.4 113.1,514.6 113.1,517.9 112.8,518.1 112.8,521.1 112.6,521.4 112.6,524.4 112.3,524.6 112.3,527.6 112.1,527.9 112.1,530.6 111.8,530.9 111.8,534.4 111.6,534.6 111.6,536.6 111.3,536.9 111.3,538.4 111.1,538.6 110.8,540.9 109.1,545.4 107.8,546.6 104.3,547.9 104.8,548.4 105.3,548.4 106.3,548.9 107.1,548.9 107.3,549.1 108.1,549.1 109.3,549.6 110.3,549.6 110.6,549.9 114.1,550.1 114.3,550.4 122.6,550.4 122.8,550.1 126.1,549.9 126.3,549.6 127.3,549.6 130.6,548.4 131.3,547.6 132.1,545.6 132.1,544.4 132.3,544.1 132.3,541.4 132.6,541.1 132.8,528.9 132.6,528.6 132.6,524.1 132.3,523.9 132.3,520.1 132.1,519.9 132.1,516.4 131.8,516.1 131.8,512.9 131.6,512.6 131.6,509.4 131.3,509.1 131.3,505.9 131.1,505.6 131.1,502.9 130.8,502.6 130.8,499.6 130.6,499.4 130.6,498.1 130.3,497.9 130.1,496.1 129.3,494.4 129.3,493.6 129.1,493.4 128.6,491.4 128.1,490.6 128.1,490.1 127.3,488.9 127.3,488.4 125.1,484.9 123.8,483.9 123.3,483.9Z" fill="#f79759"/><path d="M123.3,485.6 121.8,485.6 120.8,486.1 118.8,488.4 116.8,492.6 116.8,493.1 115.3,497.1 115.3,497.9 115.1,498.1 115.1,499.4 114.8,499.6 114.8,502.4 114.6,502.6 114.6,505.4 114.3,505.6 114.3,508.4 114.1,508.6 114.1,511.6 113.8,511.9 113.8,514.9 113.6,515.1 113.6,518.4 113.3,518.6 113.1,524.6 112.8,524.9 112.8,527.6 112.6,527.9 112.6,530.9 112.3,531.1 112.3,534.4 112.1,534.6 112.1,536.9 111.8,537.1 111.6,539.9 111.3,540.1 110.8,542.6 109.6,545.4 108.3,546.6 105.8,547.4 105.1,547.9 105.3,548.4 105.8,548.4 106.8,548.9 107.6,548.9 107.8,549.1 108.6,549.1 108.8,549.4 109.6,549.4 109.8,549.6 112.8,549.9 113.1,550.1 115.3,550.1 115.6,550.4 121.3,550.4 121.6,550.1 125.6,549.9 125.8,549.6 127.6,549.4 130.1,548.4 130.8,547.6 131.6,545.6 131.8,540.9 132.1,540.6 132.3,529.1 132.1,528.9 131.8,520.6 131.6,520.4 131.6,517.1 131.3,516.9 131.3,513.6 131.1,513.4 131.1,510.1 130.8,509.9 130.8,506.9 130.6,506.6 130.6,503.9 130.3,503.6 130.1,498.4 129.6,497.4 129.6,496.6 129.3,496.4 128.3,492.9 126.3,488.6 125.1,486.9Z" fill="#f38651"/><path d="M122.6,487.4 121.1,487.9 118.8,490.4 116.6,495.4 116.6,495.9 115.8,497.6 115.8,498.4 115.6,498.6 115.3,503.6 115.1,503.9 115.1,506.4 114.8,506.6 114.8,509.4 114.6,509.6 114.6,512.4 114.3,512.6 114.3,515.6 114.1,515.9 114.1,518.9 113.8,519.1 113.8,521.9 113.6,522.1 113.6,524.9 113.3,525.1 113.3,527.9 113.1,528.1 113.1,531.1 112.8,531.4 112.8,534.6 112.6,534.9 112.6,536.9 112.3,537.1 112.3,538.6 112.1,538.9 112.1,539.9 111.8,540.1 111.6,541.9 109.8,545.9 108.3,546.9 106.3,547.4 105.6,547.9 105.8,548.4 106.3,548.4 107.3,548.9 108.1,548.9 108.3,549.1 109.1,549.1 109.3,549.4 110.1,549.4 110.3,549.6 113.6,549.9 113.8,550.1 117.1,550.1 117.3,550.4 123.1,550.1 123.3,549.9 126.1,549.6 126.3,549.4 127.1,549.4 127.3,549.1 128.6,548.9 129.8,548.1 130.6,547.1 130.8,545.6 131.1,545.4 131.3,540.4 131.6,540.1 131.6,533.4 131.8,533.1 131.8,529.4 131.6,529.1 131.3,521.1 131.1,520.9 131.1,517.6 130.8,517.4 130.8,514.4 130.6,514.1 130.6,511.1 130.3,510.9 130.3,508.1 130.1,507.9 130.1,505.1 129.8,504.9 129.6,499.6 129.3,499.4 129.3,498.1 129.1,497.9 128.1,494.4 126.1,490.1 124.3,488.1 123.6,487.6 122.8,487.6Z" fill="#ed734a"/><path d="M123.3,489.4 121.8,489.4 120.8,489.9 119.8,490.9 117.6,494.9 117.6,495.4 117.1,496.1 117.1,496.6 116.3,498.4 116.1,502.1 115.8,502.4 115.8,504.9 115.6,505.1 115.6,507.6 115.3,507.9 115.3,510.4 115.1,510.6 115.1,513.4 114.8,513.6 114.8,516.4 114.6,516.6 114.6,519.4 114.3,519.6 114.3,522.4 114.1,522.6 113.8,528.1 113.6,528.4 113.6,531.1 113.3,531.4 113.3,534.9 113.1,535.1 113.1,537.1 112.8,537.4 112.8,538.6 112.6,538.9 112.3,541.1 112.1,541.4 111.3,544.1 110.6,545.6 109.8,546.4 108.3,547.1 106.8,547.4 106.1,547.9 106.3,548.4 106.8,548.4 107.8,548.9 108.6,548.9 108.8,549.1 109.6,549.1 109.8,549.4 112.3,549.6 112.6,549.9 114.3,549.9 114.6,550.1 122.3,550.1 122.6,549.9 124.1,549.9 124.3,549.6 126.6,549.4 128.6,548.6 129.6,547.9 130.3,546.1 130.6,543.1 130.8,542.9 130.8,539.9 131.1,539.6 131.1,532.1 131.3,531.9 131.3,529.6 131.1,529.4 131.1,525.6 130.8,525.4 130.6,518.4 130.3,518.1 130.3,515.1 130.1,514.9 130.1,512.1 129.8,511.9 129.8,509.1 129.6,508.9 129.6,506.4 129.3,506.1 129.3,503.6 129.1,503.4 128.8,498.6 128.6,498.4 128.3,497.1 127.8,496.4 127.8,495.9 127.3,495.1 127.3,494.6 125.6,491.4Z" fill="#e65f43"/><path d="M122.8,491.1 121.1,491.6 119.6,493.1 117.1,498.1 117.1,499.1 116.8,499.4 116.8,501.4 116.6,501.6 116.6,503.9 116.3,504.1 116.3,506.4 116.1,506.6 116.1,508.9 115.8,509.1 115.8,511.4 115.6,511.6 115.6,514.1 115.3,514.4 115.3,517.1 115.1,517.4 115.1,519.9 114.8,520.1 114.6,525.6 114.3,525.9 114.3,528.1 114.1,528.4 113.8,534.9 113.6,535.1 113.6,537.1 113.3,537.4 113.1,540.1 112.8,540.4 112.8,541.1 112.6,541.4 112.6,542.1 112.3,542.4 112.1,543.6 111.1,545.6 110.1,546.6 109.6,546.6 108.8,547.1 108.3,547.1 106.6,547.9 106.8,548.4 107.3,548.4 108.3,548.9 109.1,548.9 109.3,549.1 110.1,549.1 110.3,549.4 113.1,549.6 113.3,549.9 115.6,549.9 115.8,550.1 121.1,550.1 121.3,549.9 124.8,549.6 125.1,549.4 125.8,549.4 126.1,549.1 126.8,549.1 127.6,548.6 128.1,548.6 129.3,547.4 129.6,546.1 129.8,545.9 130.1,542.9 130.3,542.6 130.3,539.4 130.6,539.1 130.6,526.1 130.3,525.9 130.1,519.1 129.8,518.9 129.6,513.1 129.3,512.9 129.3,510.4 129.1,510.1 129.1,507.9 128.8,507.6 128.8,505.1 128.6,504.9 128.6,502.9 128.3,502.6 128.1,498.6 127.3,497.1 127.3,496.6 125.1,492.6 124.3,491.9Z" fill="#e0503c"/><path d="M123.3,493.1 121.8,493.1 120.6,493.9 119.3,495.4 117.8,498.4 117.6,501.4 117.3,501.6 117.3,503.4 117.1,503.6 117.1,505.6 116.8,505.9 116.8,507.9 116.6,508.1 116.6,510.1 116.3,510.4 116.1,515.4 115.8,515.6 115.6,520.6 115.3,520.9 115.3,523.4 115.1,523.6 115.1,526.1 114.8,526.4 114.8,528.6 114.6,528.9 114.3,535.1 114.1,535.4 114.1,537.4 113.8,537.6 113.6,540.4 113.3,540.6 113.3,541.4 111.8,545.4 110.6,546.6 107.3,547.6 107.1,547.9 107.3,548.4 107.8,548.4 108.8,548.9 110.8,549.1 111.1,549.4 112.1,549.4 112.3,549.6 113.8,549.6 114.1,549.9 122.3,549.9 122.6,549.6 124.1,549.6 124.3,549.4 125.3,549.4 125.6,549.1 126.8,548.9 127.8,548.4 128.6,547.6 129.1,546.6 129.3,544.4 129.6,544.1 129.6,542.4 129.8,542.1 129.8,538.9 130.1,538.6 130.1,526.6 129.8,526.4 129.8,523.1 129.6,522.9 129.6,520.1 129.3,519.9 129.3,517.1 129.1,516.9 129.1,514.4 128.8,514.1 128.8,511.9 128.6,511.6 128.3,506.9 128.1,506.6 128.1,504.6 127.8,504.4 127.8,502.6 127.6,502.4 127.3,498.6 125.3,494.9Z" fill="#db4436"/><path d="M123.1,494.9 121.3,495.1 119.6,496.9 118.6,498.6 118.6,500.1 118.3,500.4 118.1,503.6 117.8,503.9 117.8,505.4 117.6,505.6 117.6,507.4 117.3,507.6 117.3,509.6 117.1,509.9 116.8,514.1 116.6,514.4 116.6,516.6 116.3,516.9 116.3,519.1 116.1,519.4 116.1,521.6 115.8,521.9 115.8,524.1 115.6,524.4 115.3,528.9 115.1,529.1 114.8,535.6 114.6,535.9 114.6,537.6 114.3,537.9 114.3,539.1 114.1,539.4 113.8,541.6 113.6,541.9 113.1,543.9 112.1,545.9 110.6,546.9 110.1,546.9 107.6,547.9 107.8,548.4 108.3,548.4 109.3,548.9 110.1,548.9 110.3,549.1 112.8,549.4 113.1,549.6 115.1,549.6 115.3,549.9 121.8,549.9 122.1,549.6 124.6,549.4 124.8,549.1 126.3,548.9 127.6,548.1 128.3,547.1 128.6,545.6 128.8,545.4 129.1,541.6 129.3,541.4 129.3,537.9 129.6,537.6 129.6,527.4 129.3,527.1 129.3,524.1 129.1,523.9 129.1,521.1 128.8,520.9 128.8,518.4 128.6,518.1 128.6,515.6 128.3,515.4 128.3,513.4 128.1,513.1 128.1,510.9 127.8,510.6 127.6,506.6 127.3,506.4 127.3,504.6 127.1,504.4 127.1,502.9 126.8,502.6 126.8,501.1 126.6,500.9 126.3,498.4 125.1,496.4 124.1,495.4Z" fill="#d5392f"/><path d="M123.1,496.6 122.1,496.6 121.1,497.1 119.8,498.4 119.8,498.9 119.6,499.1 119.6,500.1 119.3,500.4 119.3,501.4 119.1,501.6 119.1,502.9 118.8,503.1 118.8,504.4 118.6,504.6 118.6,505.9 118.3,506.1 118.3,507.6 118.1,507.9 118.1,509.6 117.8,509.9 117.8,511.4 117.6,511.6 117.3,515.6 117.1,515.9 117.1,517.9 116.8,518.1 116.8,520.1 116.6,520.4 116.6,522.6 116.3,522.9 116.3,524.9 116.1,525.1 116.1,527.1 115.8,527.4 115.8,529.4 115.6,529.6 115.6,533.4 115.3,533.6 115.3,536.1 115.1,536.4 114.8,539.6 114.6,539.9 114.3,541.9 112.8,545.6 112.1,546.4 111.1,546.9 110.6,546.9 108.1,547.9 108.3,548.4 108.8,548.4 109.8,548.9 110.8,548.9 111.1,549.1 112.1,549.1 112.3,549.4 113.6,549.4 113.8,549.6 120.3,549.9 120.6,549.6 122.3,549.6 122.6,549.4 123.8,549.4 124.1,549.1 125.6,548.9 126.6,548.4 127.8,546.9 127.8,546.1 128.3,544.9 128.3,543.4 128.6,543.1 128.6,540.9 128.8,540.6 128.8,536.6 129.1,536.4 129.1,528.4 128.8,528.1 128.8,525.1 128.6,524.9 128.3,519.6 128.1,519.4 128.1,517.4 127.8,517.1 127.8,514.9 127.6,514.6 127.6,512.9 127.3,512.6 127.1,508.9 126.8,508.6 126.8,507.1 126.6,506.9 126.6,505.4 126.3,505.1 126.3,503.9 126.1,503.6 126.1,502.4 125.8,502.1 125.6,499.6 125.3,499.4 125.3,498.6 124.8,497.9Z" fill="#d1332c"/><path d="M123.1,498.4 122.1,498.4 121.6,498.6 120.8,500.1 120.6,501.6 119.8,503.6 119.3,507.1 119.1,507.4 119.1,508.6 118.8,508.9 118.8,510.1 118.6,510.4 118.6,511.9 118.3,512.1 118.3,513.6 118.1,513.9 118.1,515.4 117.8,515.6 117.6,519.4 117.3,519.6 117.3,521.6 117.1,521.9 117.1,523.9 116.8,524.1 116.8,525.9 116.6,526.1 116.6,528.1 116.3,528.4 115.8,536.9 115.6,537.1 115.6,538.6 115.3,538.9 115.3,540.1 115.1,540.4 114.8,542.1 113.6,545.4 112.3,546.6 111.1,547.1 110.3,547.1 108.6,547.9 108.8,548.4 111.3,548.9 111.6,549.1 114.6,549.4 114.8,549.6 122.1,549.6 123.1,549.1 124.8,548.9 126.3,548.1 127.1,547.1 127.3,545.6 127.6,545.4 127.8,542.4 128.1,542.1 128.1,539.6 128.3,539.4 128.3,533.6 128.6,533.4 128.6,529.6 128.3,529.4 128.1,523.9 127.8,523.6 127.8,521.4 127.6,521.1 127.3,516.9 127.1,516.6 127.1,514.9 126.8,514.6 126.8,513.1 126.6,512.9 126.6,511.4 126.3,511.1 126.3,509.6 126.1,509.4 126.1,508.1 125.8,507.9 125.8,506.9 125.6,506.6 125.6,505.4 125.3,505.1 125.1,503.1 124.8,502.9 124.8,502.1 124.6,501.9 124.1,499.9Z" fill="#cc2e2a"/><path d="M122.6,503.4 121.6,504.1 121.1,505.1 121.1,505.6 120.3,507.4 120.3,508.1 119.8,509.4 119.8,510.4 119.6,510.6 119.6,511.6 119.3,511.9 119.3,512.9 119.1,513.1 119.1,514.4 118.8,514.6 118.8,515.9 118.6,516.1 118.6,517.6 118.3,517.9 118.3,519.4 118.1,519.6 117.8,523.1 117.6,523.4 117.6,525.1 117.3,525.4 117.1,529.1 116.8,529.4 116.8,532.4 116.6,532.6 116.3,537.6 116.1,537.9 116.1,539.4 115.8,539.6 115.8,540.6 115.6,540.9 115.3,542.6 114.1,545.6 113.3,546.4 110.8,547.4 109.3,547.6 109.1,547.9 109.3,548.4 109.8,548.4 110.1,548.6 112.1,548.9 112.3,549.1 113.6,549.1 113.8,549.4 115.8,549.4 116.1,549.6 120.8,549.6 121.1,549.4 122.3,549.4 123.3,548.9 124.8,548.6 126.1,547.6 126.8,545.9 127.1,543.4 127.3,543.1 127.3,541.4 127.6,541.1 127.6,537.9 127.8,537.6 127.8,528.1 127.6,527.9 127.6,525.6 127.3,525.4 127.3,523.1 127.1,522.9 126.8,519.1 126.6,518.9 126.6,517.4 126.3,517.1 126.3,515.6 126.1,515.4 126.1,514.1 125.8,513.9 125.8,512.6 125.6,512.4 125.3,509.9 125.1,509.6 125.1,508.9 124.8,508.6 124.8,507.9 124.6,507.6 124.6,506.9 124.3,506.6 124.1,505.4 123.1,503.6Z" fill="#c82a28"/><path d="M122.8,509.1 122.1,509.1 121.1,510.6 121.1,511.1 120.3,512.9 120.3,513.6 120.1,513.9 119.8,515.9 119.6,516.1 119.3,518.6 119.1,518.9 119.1,520.1 118.8,520.4 118.8,521.6 118.6,521.9 118.6,523.4 118.3,523.6 118.3,525.1 118.1,525.4 118.1,526.9 117.8,527.1 117.8,528.6 117.6,528.9 117.6,530.9 117.3,531.1 117.3,534.6 117.1,534.9 116.8,538.9 116.6,539.1 116.6,540.1 116.3,540.4 116.1,542.4 115.8,542.6 115.6,543.9 115.1,544.6 115.1,545.1 114.1,546.4 113.1,546.9 110.6,547.4 109.6,547.9 109.8,548.4 110.3,548.4 110.6,548.6 112.8,548.9 113.1,549.1 114.6,549.1 114.8,549.4 122.3,549.4 122.6,548.9 123.1,548.9 124.8,548.1 125.3,547.6 126.1,546.1 126.1,545.1 126.3,544.9 126.3,543.9 126.6,543.6 126.6,542.1 126.8,541.9 126.8,539.4 127.1,539.1 127.1,532.1 127.3,531.9 127.3,529.9 127.1,529.6 126.8,525.4 126.6,525.1 126.6,523.4 126.3,523.1 126.3,521.6 126.1,521.4 126.1,519.9 125.8,519.6 125.8,518.4 125.6,518.1 125.6,517.1 125.3,516.9 125.3,515.6 125.1,515.4 125.1,514.6 124.8,514.4 124.8,513.6 124.6,513.4 124.6,512.6 124.3,512.4 123.8,510.4Z" fill="#c32827"/><path d="M122.8,514.6 122.1,514.6 121.3,515.6 121.3,516.1 120.6,517.6 120.1,520.4 119.8,520.6 119.8,521.6 119.6,521.9 119.6,522.9 119.3,523.1 119.3,524.1 119.1,524.4 119.1,525.6 118.8,525.9 118.8,527.1 118.6,527.4 118.6,528.6 118.3,528.9 118.3,530.6 118.1,530.9 118.1,534.4 117.8,534.6 117.6,538.6 117.3,538.9 117.3,540.1 117.1,540.4 117.1,541.1 116.8,541.4 116.3,543.9 115.8,544.6 115.6,545.6 114.8,546.4 112.8,547.1 112.1,547.1 111.1,547.6 110.3,547.6 110.1,547.9 110.3,548.4 111.1,548.4 112.3,548.9 113.6,548.9 113.8,549.1 115.8,549.1 116.1,549.4 121.1,549.4 121.3,549.1 122.3,549.1 122.6,548.6 123.6,548.4 124.3,547.9 125.1,546.6 125.3,545.1 125.6,544.9 125.6,543.9 125.8,543.6 126.1,539.6 126.3,539.4 126.3,533.6 126.6,533.4 126.6,529.9 126.3,529.6 126.1,525.9 125.8,525.6 125.8,524.4 125.6,524.1 125.6,522.9 125.3,522.6 124.8,519.1 124.3,518.1 124.1,516.6 123.3,515.1Z" fill="#bf2625"/><path d="M122.8,520.1 122.1,520.1 121.3,521.1 121.3,521.6 120.8,522.4 120.6,523.9 120.1,524.9 120.1,525.9 119.8,526.1 119.6,528.1 119.3,528.4 119.3,529.4 119.1,529.6 119.1,532.4 118.8,532.6 118.8,535.4 118.6,535.6 118.3,539.1 118.1,539.4 117.8,541.6 117.6,541.9 117.6,542.6 117.3,542.9 116.6,545.4 115.1,546.6 110.6,547.9 110.6,548.1 111.1,548.4 112.8,548.6 113.1,548.9 114.6,548.9 114.8,549.1 122.3,549.1 122.3,548.4 123.3,547.9 124.3,546.4 124.3,545.6 124.8,544.4 124.8,543.1 125.1,542.9 125.1,541.4 125.3,541.1 125.3,538.1 125.6,537.9 125.6,529.1 125.3,528.9 125.3,527.6 125.1,527.4 125.1,526.1 124.6,524.9 124.6,523.9 124.3,523.6 123.8,521.6Z" fill="#ba2424"/><path d="M122.8,525.6 122.1,525.6 121.6,526.1 120.3,529.4 119.3,539.4 119.1,539.6 119.1,540.6 118.8,540.9 118.8,541.9 118.3,542.9 118.3,543.6 117.6,545.4 116.1,546.6 113.6,547.1 113.3,547.4 112.6,547.4 112.3,547.6 111.6,547.6 111.1,547.9 111.1,548.1 112.3,548.4 112.6,548.6 113.6,548.6 113.8,548.9 115.8,548.9 116.1,549.1 121.6,549.1 121.8,548.9 122.3,548.9 122.3,547.6 123.3,546.1 123.3,545.4 123.8,544.1 124.1,540.9 124.3,540.6 124.3,537.1 124.6,536.9 124.6,529.9 124.3,529.6 124.3,528.9 124.1,528.6 123.6,526.6Z" fill="#ba2424"/><path d="M122.1,535.9 121.6,537.1 120.8,540.9 120.3,541.9 120.3,542.6 120.1,542.9 119.8,544.1 119.3,544.9 119.3,545.4 117.8,546.4 117.3,546.4 116.3,546.9 114.3,547.1 114.1,547.4 113.1,547.4 111.8,547.9 111.8,548.1 113.1,548.4 113.3,548.6 114.6,548.6 114.8,548.9 122.3,548.9 122.3,546.1 121.8,545.6 121.8,544.6 122.1,544.4 122.1,543.1 122.3,542.9 122.3,539.9 122.6,539.6 122.6,538.9 122.3,538.6 122.3,536.4Z" fill="#ba2424"/><path d="M122.3,546.6 120.8,546.6 120.6,546.4 117.8,546.6 117.6,546.9 116.3,546.9 116.1,547.1 115.1,547.1 114.8,547.4 112.8,547.6 112.3,547.9 112.3,548.1 112.8,548.4 113.8,548.4 114.1,548.6 115.8,548.6 116.1,548.9 121.8,548.9 122.3,548.6Z" fill="#ba2424"/></g></g>
<rect x="30.2" y="436.5" width="153.2" height="152.8" fill="none" stroke="#111" stroke-width="1.1"/>
<text x="38.7" y="581" font-size="10.85" fill="#111">PSK/SFX-DM</text>
<path d="M30.2,463.8h-3M30.2,495.2h-3M30.2,526.5h-3M30.2,557.9h-3M30.2,589.2h-3M30.2,579.8h-1.6M30.2,574.2h-1.6M30.2,570.3h-1.6M30.2,567.3h-1.6M30.2,564.8h-1.6M30.2,562.7h-1.6M30.2,560.9h-1.6M30.2,559.3h-1.6M30.2,548.4h-1.6M30.2,542.9h-1.6M30.2,539.0h-1.6M30.2,535.9h-1.6M30.2,533.5h-1.6M30.2,531.4h-1.6M30.2,529.5h-1.6M30.2,527.9h-1.6M30.2,517.1h-1.6M30.2,511.5h-1.6M30.2,507.6h-1.6M30.2,504.6h-1.6M30.2,502.1h-1.6M30.2,500.0h-1.6M30.2,498.2h-1.6M30.2,496.6h-1.6M30.2,485.7h-1.6M30.2,480.2h-1.6M30.2,476.3h-1.6M30.2,473.2h-1.6M30.2,470.8h-1.6M30.2,468.7h-1.6M30.2,466.8h-1.6M30.2,465.2h-1.6M30.2,454.4h-1.6M30.2,448.8h-1.6M30.2,444.9h-1.6M30.2,441.9h-1.6M30.2,439.4h-1.6M30.2,437.3h-1.6M30.2,589.3v3M49.3,589.3v1.8M68.5,589.3v3M87.6,589.3v1.8M106.8,589.3v3M126.0,589.3v1.8M145.1,589.3v3M164.2,589.3v1.8M183.4,589.3v3" stroke="#222" stroke-width="0.8" fill="none"/>
<text x="25.7" y="466.8" font-size="9.4" fill="#222" text-anchor="end">10<tspan font-size="6.3" dy="-3.6">3</tspan></text>
<text x="25.7" y="498.2" font-size="9.4" fill="#222" text-anchor="end">10<tspan font-size="6.3" dy="-3.6">2</tspan></text>
<text x="25.7" y="529.5" font-size="9.4" fill="#222" text-anchor="end">10<tspan font-size="6.3" dy="-3.6">1</tspan></text>
<text x="25.7" y="560.9" font-size="9.4" fill="#222" text-anchor="end">10<tspan font-size="6.3" dy="-3.6">0</tspan></text>
<text x="25.7" y="592.2" font-size="9.4" fill="#222" text-anchor="end">10<tspan font-size="6.3" dy="-3.6">−1</tspan></text>
<text x="30.2" y="600.8" font-size="9.4" fill="#222" text-anchor="middle">650</text>
<text x="68.5" y="600.8" font-size="9.4" fill="#222" text-anchor="middle">700</text>
<text x="106.8" y="600.8" font-size="9.4" fill="#222" text-anchor="middle">750</text>
<text x="145.1" y="600.8" font-size="9.4" fill="#222" text-anchor="middle">800</text>
<text x="183.4" y="600.8" font-size="9.4" fill="#222" text-anchor="middle">850</text>
<text x="108.8" y="612.4" font-size="9.1" fill="#222" text-anchor="middle">Wavelength (nm)</text>
<rect x="185.3" y="436.3" width="13.4" height="152.3" fill="url(#cbt5)" stroke="#222" stroke-width="0.8"/>
<text x="204.2" y="441.5" font-size="7.2" fill="#222">0.3</text>
<text x="204.2" y="460.0" font-size="7.2" fill="#222">0.1</text>
<text x="203.4" y="478.6" font-size="7.2" fill="#222">−0.1</text>
<text x="203.4" y="496.5" font-size="7.2" fill="#222">−0.3</text>
<text x="203.4" y="514.8" font-size="7.2" fill="#222">−0.5</text>
<text x="203.4" y="533.3" font-size="7.2" fill="#222">−0.6</text>
<text x="203.4" y="551.8" font-size="7.2" fill="#222">−0.8</text>
<text x="203.4" y="569.8" font-size="7.2" fill="#222">−1.0</text>
<text x="203.4" y="588.0" font-size="7.2" fill="#222">−1.2</text>
<path d="M198.7,439.1h3M198.7,457.6h3M198.7,476.2h3M198.7,494.1h3M198.7,512.4h3M198.7,530.9h3M198.7,549.4h3M198.7,567.4h3M198.7,585.6h3M198.7,439.1h1.5M198.7,442.2h1.5M198.7,445.2h1.5M198.7,448.3h1.5M198.7,451.3h1.5M198.7,454.4h1.5M198.7,457.4h1.5M198.7,460.5h1.5M198.7,463.5h1.5M198.7,466.6h1.5M198.7,469.6h1.5M198.7,472.7h1.5M198.7,475.7h1.5M198.7,478.8h1.5M198.7,481.8h1.5M198.7,484.9h1.5M198.7,487.9h1.5M198.7,491.0h1.5M198.7,494.0h1.5M198.7,497.1h1.5M198.7,500.1h1.5M198.7,503.2h1.5M198.7,506.2h1.5M198.7,509.3h1.5M198.7,512.4h1.5M198.7,515.4h1.5M198.7,518.5h1.5M198.7,521.5h1.5M198.7,524.6h1.5M198.7,527.6h1.5M198.7,530.7h1.5M198.7,533.7h1.5M198.7,536.8h1.5M198.7,539.8h1.5M198.7,542.9h1.5M198.7,545.9h1.5M198.7,549.0h1.5M198.7,552.0h1.5M198.7,555.1h1.5M198.7,558.1h1.5M198.7,561.2h1.5M198.7,564.2h1.5M198.7,567.3h1.5M198.7,570.3h1.5M198.7,573.4h1.5M198.7,576.4h1.5M198.7,579.5h1.5M198.7,582.5h1.5M198.7,585.6h1.5" stroke="#222" stroke-width="0.8" fill="none"/>
<text x="0" y="0" font-size="8.2" fill="#222" text-anchor="middle" transform="translate(194.9,512.8) rotate(-90)">ΔA (OD)</text>
<g clip-path="url(#tc6)"><g filter="url(#tb6)"><rect x="260.8" y="433.5" width="159.2" height="158.8" fill="#5f8ec0"/><path d="M368.4,552.1 369.2,552.9 370.9,553.9 371.4,553.9 372.4,554.4 373.2,554.4 373.4,554.6 374.4,554.6 374.7,554.9 376.7,554.9 376.9,555.1 390.9,554.9 391.2,554.6 395.4,554.6 395.7,554.4 401.4,554.1 401.7,553.9 403.7,553.9 403.9,553.6 405.4,553.6 405.7,553.4 408.7,553.1 408.9,552.9 409.9,552.9 410.2,552.6 411.2,552.6 411.4,552.4 413.9,551.9 415.4,551.1 416.2,550.4 416.2,549.9 415.9,549.4 415.2,548.9 412.4,547.9 410.4,547.6 410.2,547.4 409.2,547.4 408.9,547.1 407.7,547.1 407.4,546.9 406.2,546.9 405.9,546.6 404.2,546.6 403.9,546.4 402.2,546.4 401.9,546.1 399.4,546.1 399.2,545.9 396.4,545.9 396.2,545.6 392.2,545.6 391.9,545.4 382.9,545.4 382.7,545.6 381.2,545.6 380.9,545.9 378.4,546.1 378.2,546.4 377.4,546.4 377.2,546.6 376.4,546.6 376.2,546.9 374.2,547.4 369.9,549.6 368.4,551.1ZM312.9,463.1 309.9,461.9 309.2,461.9 308.9,461.6 308.2,461.6 306.9,461.1 303.9,460.9 303.7,460.6 296.2,460.4 295.9,460.6 292.9,460.9 289.9,462.1 288.2,463.4 285.7,466.1 282.2,470.9 278.9,473.9 276.4,475.1 275.7,475.1 274.7,475.6 271.4,475.9 271.2,476.1 268.2,476.1 267.9,476.4 263.9,476.4 263.9,552.9 269.7,552.6 269.9,552.4 272.9,552.4 273.2,552.1 276.2,552.1 276.4,551.9 279.2,551.9 279.4,551.6 283.7,551.6 283.9,551.4 288.4,551.4 288.7,551.1 291.2,551.1 291.4,550.9 293.4,550.9 293.7,550.6 295.4,550.6 295.7,550.4 297.4,550.4 297.7,550.1 299.4,550.1 299.7,549.9 301.7,549.9 301.9,549.6 304.2,549.6 304.4,549.4 306.7,549.4 306.9,549.1 309.2,549.1 309.4,548.9 311.7,548.9 311.9,548.6 314.4,548.6 314.7,548.4 319.2,548.1 319.4,547.9 322.2,547.6 323.4,547.1 323.2,546.1 321.4,544.1 321.2,543.4 320.7,542.9 320.4,541.6 320.2,541.4 320.4,535.6 320.7,535.4 320.7,528.1 320.9,527.9 320.9,524.4 321.2,524.1 321.2,516.6 321.4,516.4 321.2,503.1 320.9,502.9 320.9,498.4 321.2,498.1 321.2,487.6 320.9,487.4 320.9,481.1 320.7,480.9 320.7,479.4 320.4,479.1 319.9,475.6 319.7,475.4 319.7,474.6 319.4,474.4 319.4,473.6 319.2,473.4 319.2,472.6 318.9,472.4 318.9,471.6 318.7,471.4 318.2,469.4 316.4,466.1 314.2,463.9 313.4,463.6Z" fill="#5885ba"/><path d="M369.7,551.6 370.4,552.4 372.2,553.4 374.7,553.9 374.9,554.1 376.9,554.1 377.2,554.4 389.9,554.1 390.2,553.9 396.9,553.6 397.2,553.4 399.2,553.4 399.4,553.1 401.2,553.1 401.4,552.9 402.9,552.9 403.2,552.6 405.7,552.4 405.9,552.1 407.7,551.9 409.7,551.1 410.4,550.6 410.4,549.6 407.9,548.4 407.2,548.4 405.9,547.9 404.9,547.9 404.7,547.6 401.9,547.4 401.7,547.1 399.9,547.1 399.7,546.9 394.7,546.6 394.4,546.4 390.9,546.4 390.7,546.1 380.7,546.1 380.4,546.4 377.4,546.6 377.2,546.9 376.4,546.9 376.2,547.1 374.2,547.6 370.9,549.4 369.7,550.6ZM306.2,487.1 302.2,485.1 300.7,484.9 299.7,484.4 298.7,484.4 298.4,484.1 294.7,483.9 294.4,484.1 293.2,484.1 292.9,484.4 291.7,484.6 289.2,486.4 287.2,488.9 285.7,491.9 285.2,492.4 284.2,494.4 284.2,494.9 281.2,500.6 280.2,502.1 278.2,504.1 277.7,504.4 276.2,504.4 274.2,505.4 271.7,505.9 271.4,506.1 263.9,506.9 263.9,551.6 270.7,551.4 270.9,551.1 273.9,551.1 274.2,550.9 277.9,550.9 278.2,550.6 287.2,550.6 287.4,550.4 291.4,550.4 291.7,550.1 294.4,550.1 294.7,549.9 297.2,549.9 297.4,549.6 299.9,549.6 300.2,549.4 302.7,549.4 302.9,549.1 305.4,549.1 305.7,548.9 308.4,548.9 308.7,548.6 311.2,548.6 311.4,548.4 313.9,548.4 314.2,548.1 318.7,547.9 318.9,547.6 321.4,547.4 322.2,546.9 322.2,546.4 321.2,545.4 321.2,545.1 317.9,541.6 316.9,540.1 316.4,538.9 316.4,526.9 316.7,526.6 316.7,516.6 316.4,516.4 316.4,513.1 316.2,512.9 316.2,510.9 315.9,510.6 315.7,507.6 315.4,507.4 315.4,506.4 315.2,506.1 315.2,505.1 314.9,504.9 314.7,503.1 313.9,501.4 313.9,500.4 313.7,500.1 313.4,498.1 313.2,497.9 312.4,495.1 310.9,492.1 309.9,490.6Z" fill="#517db3"/><path d="M370.7,551.4 371.7,552.4 374.2,553.4 374.9,553.4 375.2,553.6 377.2,553.6 377.4,553.9 381.7,553.9 381.9,553.6 388.9,553.6 389.2,553.4 395.4,553.1 395.7,552.9 397.7,552.9 397.9,552.6 399.4,552.6 399.7,552.4 402.4,552.1 402.7,551.9 404.4,551.6 406.2,550.9 406.7,550.4 406.7,549.9 406.2,549.4 403.7,548.4 401.7,548.1 401.4,547.9 400.2,547.9 399.9,547.6 398.4,547.6 398.2,547.4 393.7,547.1 393.4,546.9 389.9,546.9 389.7,546.6 379.2,546.6 378.9,546.9 377.4,546.9 377.2,547.1 375.4,547.4 372.2,548.9 370.7,550.1ZM291.2,505.9 289.7,507.4 288.7,508.9 287.4,511.6 287.4,512.1 286.9,512.9 286.9,513.4 285.2,515.1 285.2,515.6 284.7,516.6 284.7,517.4 284.4,517.6 284.2,519.6 283.9,519.9 283.9,520.9 283.7,521.1 283.7,522.1 283.4,522.4 283.4,523.6 283.2,523.9 283.2,525.1 282.9,525.4 282.9,526.6 282.7,526.9 282.4,530.6 282.2,530.9 282.2,533.1 281.9,533.4 281.9,548.1 282.7,549.1 283.9,549.4 284.2,549.6 289.9,549.9 290.2,549.6 294.2,549.6 294.4,549.4 297.4,549.4 297.7,549.1 300.7,549.1 300.9,548.9 303.7,548.9 303.9,548.6 306.7,548.6 306.9,548.4 312.7,548.1 312.9,547.9 315.2,547.9 315.4,547.6 317.4,547.6 317.7,547.4 319.9,547.1 320.4,546.6 319.7,545.4 311.2,536.6 311.2,536.4 310.2,535.4 309.2,533.4 308.9,530.9 308.7,530.6 308.7,525.1 308.4,524.9 308.4,522.9 308.2,522.6 307.9,520.1 307.7,519.9 307.7,519.1 307.4,518.9 307.2,517.4 306.4,515.9 306.4,515.4 304.4,511.6 301.4,508.1 299.4,506.6 296.9,505.4 295.2,505.1 294.9,504.9 293.7,504.9Z" fill="#4b75ac"/><path d="M371.9,550.6 372.9,551.9 374.7,552.6 375.4,552.6 375.7,552.9 377.4,552.9 377.7,553.1 380.4,553.1 380.7,552.9 387.4,552.9 387.7,552.6 390.9,552.6 391.2,552.4 395.2,552.1 395.4,551.9 396.7,551.9 396.9,551.6 397.9,551.6 398.2,551.4 399.7,551.1 400.9,550.4 400.9,549.9 400.4,549.4 399.9,549.4 398.2,548.6 395.7,548.4 395.4,548.1 393.9,548.1 393.7,547.9 391.7,547.9 391.4,547.6 388.4,547.6 388.2,547.4 377.4,547.4 377.2,547.6 376.2,547.6 375.9,547.9 374.7,548.1 373.2,548.9 372.2,549.9Z" fill="#385a8f"/><path d="M373.4,549.6 373.4,550.9 373.9,551.4 376.7,552.4 384.2,552.4 384.4,552.1 390.4,551.9 390.7,551.6 392.2,551.6 392.4,551.4 394.4,551.1 396.2,550.4 396.2,549.9 395.9,549.6 394.7,549.1 393.9,549.1 393.7,548.9 390.9,548.6 390.7,548.4 388.7,548.4 388.4,548.1 385.4,548.1 385.2,547.9 377.4,547.9 377.2,548.1 375.4,548.4Z" fill="#2c4672"/><path d="M374.7,550.6 375.2,551.1 376.4,551.6 380.2,551.9 380.4,551.6 385.2,551.6 385.4,551.4 387.7,551.4 387.9,551.1 390.4,550.9 390.7,550.6 391.2,550.6 391.7,550.1 391.2,549.6 389.7,549.4 389.4,549.1 388.2,549.1 387.9,548.9 386.2,548.9 385.9,548.6 381.9,548.6 381.7,548.4 378.2,548.4 377.9,548.6 376.7,548.6 375.4,549.1 374.7,549.9Z" fill="#243960"/><path d="M339.7,436.6 339.4,437.9 339.2,438.1 339.2,438.9 338.9,439.1 338.9,439.9 338.7,440.1 338.7,440.9 338.4,441.1 338.4,442.1 338.2,442.4 338.2,443.4 337.9,443.6 337.9,444.9 337.7,445.1 337.7,446.4 337.4,446.6 337.4,447.6 337.2,447.9 337.2,449.1 336.9,449.4 336.9,450.6 336.7,450.9 336.7,452.4 336.4,452.6 336.4,454.1 336.2,454.4 336.2,455.9 335.9,456.1 335.7,459.1 335.4,459.4 335.4,460.9 335.2,461.1 335.2,462.6 334.9,462.9 334.9,464.4 334.4,465.4 334.4,466.1 334.2,466.4 334.2,467.1 333.9,467.4 333.9,468.1 333.7,468.4 333.7,469.1 333.4,469.4 333.4,470.1 332.9,471.4 332.9,472.4 332.4,473.6 332.2,476.6 331.9,476.9 331.9,478.6 331.7,478.9 331.7,480.6 331.4,480.9 331.4,481.9 331.2,482.1 331.2,483.1 330.9,483.4 330.9,484.6 330.7,484.9 330.7,486.4 330.4,486.6 330.4,488.1 330.2,488.4 330.2,489.9 329.9,490.1 329.9,491.6 329.7,491.9 329.7,493.6 329.4,493.9 329.4,495.6 329.2,495.9 329.2,497.6 328.9,497.9 328.9,499.6 328.7,499.9 328.7,502.9 328.4,503.1 328.4,509.1 328.2,509.4 328.2,514.6 327.9,514.9 327.7,523.6 327.4,523.9 327.2,530.9 326.9,531.1 326.9,535.6 326.7,535.9 326.7,537.9 326.4,538.1 326.2,540.9 325.9,541.1 325.9,541.9 325.4,543.1 325.4,545.4 325.9,546.1 325.9,547.1 324.9,547.9 323.4,548.1 323.2,548.4 322.2,548.4 321.9,548.6 320.7,548.6 320.4,548.9 319.2,548.9 318.9,549.1 316.7,549.4 317.2,549.6 325.4,549.6 325.7,549.9 328.2,549.9 328.4,550.1 329.7,550.1 329.9,550.4 330.7,550.4 331.9,550.9 332.9,550.9 334.2,551.4 335.2,551.4 335.4,551.6 336.4,551.6 336.7,551.9 337.9,551.9 338.2,552.1 339.4,552.1 339.7,552.4 341.4,552.4 341.7,552.6 344.4,552.6 344.7,552.9 352.9,552.9 353.2,552.6 355.9,552.6 356.2,552.4 357.9,552.4 358.2,552.1 360.9,551.9 361.2,551.6 362.2,551.6 362.4,551.4 363.2,551.4 363.4,551.1 364.2,551.1 364.4,550.9 366.4,550.4 374.4,546.4 374.9,546.4 375.7,545.9 376.2,545.9 376.4,545.6 379.9,544.6 380.7,544.1 381.2,544.1 384.4,542.4 387.2,540.4 389.7,537.9 390.4,536.4 390.4,535.4 390.7,535.1 390.7,528.9 390.4,528.6 390.4,527.9 390.2,527.6 390.2,526.9 389.7,525.6 389.7,524.6 389.4,524.4 389.4,523.6 389.2,523.4 388.4,519.6 387.9,518.6 387.9,517.9 387.2,515.9 386.9,514.1 386.4,513.1 385.9,510.4 385.4,509.4 385.4,508.6 385.2,508.4 385.2,507.6 384.9,507.4 384.9,506.6 384.7,506.4 384.7,505.6 384.4,505.4 383.7,501.6 382.9,500.1 382.9,499.6 382.2,498.4 382.2,497.9 381.7,497.1 381.4,495.9 380.9,495.1 380.9,494.6 380.7,494.4 380.7,493.9 380.4,493.6 380.4,493.1 378.4,487.6 378.4,486.9 377.7,485.1 377.7,484.4 377.2,483.6 377.2,483.1 376.4,481.4 376.4,480.6 376.2,480.4 376.2,479.6 375.7,478.4 375.7,477.4 375.2,476.1 374.9,474.1 374.7,473.9 374.7,473.4 373.7,470.9 373.7,470.1 371.7,464.6 371.4,462.4 371.2,462.1 371.2,461.1 370.9,460.9 370.9,459.6 370.7,459.4 370.7,458.4 370.4,458.1 370.4,457.1 370.2,456.9 370.2,455.9 369.9,455.6 369.9,454.1 369.7,453.9 369.7,452.6 369.4,452.4 369.4,451.4 369.2,451.1 369.2,449.9 368.9,449.6 368.9,448.6 368.7,448.4 368.7,447.4 368.4,447.1 368.4,446.1 368.2,445.9 367.7,442.4 367.2,441.1 367.2,440.1 366.9,439.9 366.9,439.1 366.4,438.1 366.2,436.6Z" fill="#6d9fcf"/><path d="M344.2,436.6 342.7,440.6 342.7,441.4 342.2,442.4 342.2,443.1 341.9,443.4 341.9,444.1 341.7,444.4 341.7,445.1 341.4,445.4 341.4,446.1 341.2,446.4 341.2,447.1 340.9,447.4 340.9,448.1 340.4,449.4 340.4,450.4 340.2,450.6 340.2,451.6 339.9,451.9 339.9,452.9 339.7,453.1 339.7,454.1 339.4,454.4 339.4,455.4 339.2,455.6 339.2,456.6 338.9,456.9 338.9,457.9 338.7,458.1 338.7,459.1 338.4,459.4 338.4,460.6 338.2,460.9 338.2,461.9 337.9,462.1 337.7,464.6 336.2,468.6 335.9,470.4 334.9,473.1 334.7,475.6 334.4,475.9 334.4,477.1 334.2,477.4 334.2,478.6 333.9,478.9 333.9,480.4 333.7,480.6 333.7,481.6 333.2,482.9 332.9,485.4 332.7,485.6 332.7,486.9 332.4,487.1 332.4,488.4 332.2,488.6 332.2,490.1 331.9,490.4 331.7,493.4 331.4,493.6 331.4,495.1 331.2,495.4 331.2,496.9 330.9,497.1 330.9,498.6 330.7,498.9 330.7,500.4 330.4,500.6 330.2,510.1 329.9,510.4 329.9,514.9 329.7,515.1 329.4,523.4 329.2,523.6 329.2,526.9 328.9,527.1 328.9,530.4 328.7,530.6 328.7,534.9 328.4,535.1 328.4,537.4 328.2,537.6 328.2,538.9 327.9,539.1 327.7,541.4 326.7,544.1 326.7,546.1 326.9,546.4 326.9,546.9 326.2,547.6 325.2,548.1 322.7,548.6 321.4,549.1 330.2,549.9 330.4,550.1 331.4,550.1 331.7,550.4 332.4,550.4 333.7,550.9 334.7,550.9 334.9,551.1 335.9,551.1 336.2,551.4 337.2,551.4 337.4,551.6 340.7,551.9 340.9,552.1 342.9,552.1 343.2,552.4 354.4,552.4 354.7,552.1 356.7,552.1 356.9,551.9 360.2,551.6 360.4,551.4 362.7,551.1 362.9,550.9 363.7,550.9 363.9,550.6 364.7,550.6 364.9,550.4 366.9,549.9 371.7,547.6 372.2,547.1 374.2,546.1 374.7,546.1 375.9,545.4 376.4,545.4 379.9,543.6 380.9,542.9 381.9,541.4 381.9,540.4 382.2,540.1 382.2,528.9 381.9,528.6 381.9,527.4 381.7,527.1 381.7,525.9 381.4,525.6 381.4,524.4 381.2,524.1 381.2,522.6 380.9,522.4 380.9,521.1 380.7,520.9 380.7,519.6 380.4,519.4 380.4,518.1 380.2,517.9 380.2,516.4 379.9,516.1 379.9,514.9 379.7,514.6 379.7,513.1 379.4,512.9 379.4,511.4 379.2,511.1 379.2,509.6 378.9,509.4 378.9,507.9 378.7,507.6 378.7,506.1 378.4,505.9 378.4,504.1 378.2,503.9 377.9,500.9 377.7,500.6 377.7,499.9 377.4,499.6 377.4,498.9 377.2,498.6 377.2,497.9 376.7,496.6 376.7,495.6 376.4,495.4 376.4,494.6 376.2,494.4 376.2,493.6 375.9,493.4 375.9,492.6 375.4,491.4 375.4,490.4 375.2,490.1 375.2,489.4 374.7,488.1 374.7,487.1 374.4,486.9 373.7,483.1 372.9,481.4 372.9,480.4 372.7,480.1 372.7,479.1 372.4,478.9 372.4,477.9 372.2,477.6 372.2,476.6 371.7,475.4 371.4,473.4 370.2,470.1 370.2,469.4 369.9,469.1 369.2,466.4 368.7,465.6 368.7,465.1 368.2,464.1 367.9,461.6 367.7,461.4 367.7,460.4 367.2,459.1 366.9,456.9 366.4,455.6 366.4,454.6 366.2,454.4 365.7,450.9 365.4,450.6 365.4,449.9 365.2,449.6 365.2,448.9 364.9,448.6 364.9,447.9 364.7,447.6 364.7,446.9 364.4,446.6 363.7,442.9 363.4,442.6 363.4,442.1 362.9,441.1 362.9,440.4 362.2,438.9 361.9,437.6 361.4,436.6Z" fill="#7aaad6"/><path d="M355.7,436.6 349.9,436.6 348.2,438.4 347.2,439.9 345.9,442.4 345.2,444.9 344.7,445.6 344.7,446.4 344.2,447.1 344.2,447.6 343.7,448.6 343.7,449.4 342.7,452.1 342.7,452.9 342.2,454.1 342.2,455.1 341.9,455.4 341.9,456.1 341.7,456.4 341.7,457.1 341.4,457.4 341.4,458.1 341.2,458.4 341.2,459.1 340.7,460.4 340.7,461.4 340.2,462.6 340.2,463.9 339.9,464.1 339.7,465.4 339.2,466.1 339.2,466.6 338.7,467.4 338.7,467.9 338.2,468.9 338.2,469.6 336.9,472.9 336.7,474.9 336.4,475.1 336.4,476.1 336.2,476.4 336.2,477.6 335.9,477.9 335.9,479.1 335.7,479.4 335.7,480.6 335.4,480.9 335.4,481.6 335.2,481.9 335.2,482.6 334.7,483.9 334.7,484.9 334.4,485.1 334.4,486.1 334.2,486.4 334.2,487.6 333.9,487.9 333.9,489.1 333.7,489.4 333.7,490.6 333.4,490.9 333.4,492.1 333.2,492.4 333.2,493.9 332.9,494.1 332.9,495.4 332.7,495.6 332.7,497.1 332.4,497.4 332.4,498.9 332.2,499.1 332.2,500.6 331.9,500.9 331.9,504.9 331.7,505.1 331.7,509.6 331.4,509.9 331.4,514.1 331.2,514.4 330.9,522.6 330.7,522.9 330.7,526.1 330.4,526.4 330.2,533.9 329.9,534.1 329.7,538.4 329.4,538.6 329.4,539.6 329.2,539.9 328.9,541.6 327.7,544.9 327.7,546.9 326.9,547.6 324.4,548.6 324.2,548.9 324.7,549.1 329.9,549.6 330.2,549.9 331.4,549.9 331.7,550.1 333.7,550.4 333.9,550.6 335.9,550.9 336.2,551.1 337.4,551.1 337.7,551.4 338.9,551.4 339.2,551.6 340.7,551.6 340.9,551.9 343.2,551.9 343.4,552.1 354.2,552.1 354.4,551.9 356.7,551.9 356.9,551.6 358.4,551.6 358.7,551.4 361.4,551.1 361.7,550.9 365.4,550.1 365.7,549.9 366.9,549.6 367.7,549.1 368.2,549.1 376.4,544.6 377.7,543.4 378.2,542.4 378.2,528.6 377.9,528.4 377.7,523.9 377.4,523.6 377.4,521.6 377.2,521.4 377.2,519.4 376.9,519.1 376.9,516.9 376.7,516.6 376.7,514.6 376.4,514.4 376.4,512.4 376.2,512.1 376.2,509.9 375.9,509.6 375.9,507.4 375.7,507.1 375.7,504.9 375.4,504.6 375.4,502.1 375.2,501.9 375.2,500.4 374.7,499.1 374.7,498.1 374.4,497.9 374.4,496.9 374.2,496.6 373.7,493.1 373.2,491.9 372.7,488.4 372.4,488.1 372.2,486.1 371.9,485.9 371.4,483.1 371.2,482.9 370.7,480.4 370.4,480.1 370.4,478.9 370.2,478.6 370.2,477.6 369.7,476.4 369.4,474.1 369.2,473.9 367.2,467.4 365.9,464.9 365.9,464.1 365.4,462.9 365.4,461.9 364.9,460.6 364.9,459.6 364.7,459.4 364.4,457.6 363.9,456.6 363.9,455.9 363.7,455.6 363.7,454.9 363.4,454.6 362.7,450.9 361.9,449.1 361.9,448.4 361.4,447.6 361.4,447.1 361.2,446.9 360.4,444.1 359.9,443.4 359.9,442.9 358.4,439.9 356.4,437.1Z" fill="#89b7db"/><path d="M353.2,442.6 352.4,442.6 350.7,443.4 348.7,445.6 347.4,448.1 346.9,448.6 346.9,449.1 345.7,451.6 345.7,452.1 343.7,457.6 343.7,458.4 343.2,459.4 343.2,460.1 342.9,460.4 342.4,462.9 342.2,463.1 342.2,464.1 340.7,467.1 340.7,467.6 340.2,468.4 339.7,470.4 339.2,471.1 339.2,471.6 338.4,473.4 338.4,474.1 337.9,475.4 337.9,476.4 337.7,476.6 337.4,479.1 337.2,479.4 337.2,480.6 336.9,480.9 336.9,481.6 336.4,482.6 336.4,483.4 335.9,484.6 335.9,485.6 335.7,485.9 335.7,487.1 335.4,487.4 335.4,488.4 335.2,488.6 335.2,489.9 334.9,490.1 334.9,491.4 334.7,491.6 334.4,494.4 334.2,494.6 334.2,495.9 333.9,496.1 333.9,497.4 333.7,497.6 333.7,499.1 333.4,499.4 333.4,500.6 333.2,500.9 333.2,505.1 332.9,505.4 332.9,509.6 332.7,509.9 332.4,518.4 332.2,518.6 332.2,522.4 331.9,522.6 331.9,526.1 331.7,526.4 331.4,533.6 331.2,533.9 330.9,538.1 330.7,538.4 330.7,539.4 330.4,539.6 330.2,541.4 329.9,541.6 329.4,543.6 328.9,544.4 328.4,546.6 327.9,547.4 325.9,548.4 325.7,548.9 327.9,549.1 328.2,549.4 329.4,549.4 329.7,549.6 331.2,549.6 331.4,549.9 332.4,549.9 332.7,550.1 334.7,550.4 334.9,550.6 335.9,550.6 336.2,550.9 337.2,550.9 337.4,551.1 340.4,551.4 340.7,551.6 342.7,551.6 342.9,551.9 346.9,551.9 347.2,552.1 354.7,551.9 354.9,551.6 356.9,551.6 357.2,551.4 358.7,551.4 358.9,551.1 360.2,551.1 360.4,550.9 362.7,550.6 362.9,550.4 364.7,550.1 364.9,549.9 366.9,549.4 367.7,548.9 368.2,548.9 370.2,547.9 370.7,547.4 371.4,547.1 373.7,545.6 374.7,544.6 374.9,544.6 375.7,543.4 375.7,542.1 375.9,541.9 375.9,537.6 375.7,537.4 375.7,526.9 375.4,526.6 375.2,520.9 374.9,520.6 374.7,515.1 374.4,514.9 374.4,512.4 374.2,512.1 374.2,509.4 373.9,509.1 373.7,503.4 373.4,503.1 373.4,500.9 373.2,500.6 373.2,499.6 372.9,499.4 372.9,498.4 372.7,498.1 372.7,496.9 372.4,496.6 372.4,495.6 372.2,495.4 372.2,494.4 371.9,494.1 371.9,493.1 371.7,492.9 371.7,491.9 371.4,491.6 370.9,488.1 370.4,486.9 370.4,485.9 370.2,485.6 369.7,482.9 368.9,481.1 368.9,480.1 368.7,479.9 368.2,476.4 367.7,475.1 367.7,474.1 367.4,473.9 366.9,471.9 366.4,471.1 366.2,469.9 365.7,469.1 365.4,467.9 363.7,464.4 363.4,462.6 362.7,460.6 362.7,459.9 362.2,458.9 362.2,458.1 361.9,457.9 360.2,452.1 359.7,451.4 359.7,450.9 358.2,447.6 357.7,447.1 356.4,444.9 354.9,443.4Z" fill="#99c3e1"/><path d="M353.2,449.4 351.7,449.6 350.4,450.4 348.2,453.4 347.4,454.9 347.4,455.4 345.4,459.4 343.9,464.6 343.2,465.6 341.9,468.1 341.9,468.6 341.4,469.4 341.4,469.9 340.9,470.6 340.9,471.1 340.4,471.9 340.4,472.4 339.7,474.1 339.7,474.9 339.2,476.1 339.2,477.1 338.9,477.4 338.9,478.4 338.7,478.6 338.7,479.6 338.4,479.9 338.4,480.9 338.2,481.1 337.7,483.6 337.2,484.6 337.2,485.6 336.9,485.9 336.9,486.9 336.7,487.1 336.7,488.1 336.4,488.4 336.4,489.6 336.2,489.9 336.2,490.9 335.9,491.1 335.9,492.1 335.7,492.4 335.2,496.6 334.9,496.9 334.7,499.9 334.4,500.1 334.4,502.4 334.2,502.6 334.2,506.9 333.9,507.1 333.9,511.4 333.7,511.6 333.7,515.6 333.4,515.9 333.4,519.6 333.2,519.9 333.2,523.9 332.9,524.1 332.9,527.4 332.7,527.6 332.7,530.9 332.4,531.1 332.4,534.6 332.2,534.9 331.9,538.4 331.7,538.6 331.7,539.6 331.4,539.9 331.2,541.6 329.9,544.4 329.9,544.9 329.4,545.6 329.4,546.1 328.2,547.6 326.7,548.4 326.9,548.9 329.2,549.1 329.4,549.4 330.4,549.4 330.7,549.6 331.9,549.6 332.2,549.9 333.2,549.9 333.4,550.1 334.4,550.1 334.7,550.4 336.9,550.6 337.2,550.9 338.2,550.9 338.4,551.1 341.9,551.4 342.2,551.6 344.9,551.6 345.2,551.9 352.4,551.9 352.7,551.6 355.4,551.6 355.7,551.4 357.4,551.4 357.7,551.1 359.2,551.1 359.4,550.9 362.9,550.4 363.2,550.1 363.9,550.1 364.2,549.9 365.7,549.6 366.4,549.1 367.7,548.9 370.4,547.4 372.2,546.1 373.4,544.9 373.9,543.9 373.9,543.1 374.2,542.9 374.2,529.4 373.9,529.1 373.9,525.9 373.7,525.6 373.7,522.4 373.4,522.1 373.4,518.9 373.2,518.6 373.2,515.6 372.9,515.4 372.9,512.4 372.7,512.1 372.7,509.1 372.4,508.9 372.2,502.6 371.9,502.4 371.9,500.4 371.7,500.1 371.7,499.1 371.4,498.9 371.4,497.6 371.2,497.4 371.2,496.4 370.9,496.1 370.9,495.1 370.7,494.9 370.7,493.9 370.4,493.6 370.4,492.6 370.2,492.4 370.2,491.4 369.9,491.1 369.4,487.6 369.2,487.4 368.9,485.4 368.2,483.4 368.2,482.6 367.4,480.9 367.4,479.9 367.2,479.6 367.2,478.6 366.9,478.4 366.9,477.4 366.7,477.1 365.9,473.4 365.4,472.6 365.4,472.1 364.9,471.4 364.4,469.6 363.7,468.4 363.7,467.9 361.7,464.4 361.7,463.9 361.2,462.9 361.2,462.1 360.9,461.9 360.4,459.9 359.9,459.1 359.9,458.6 359.4,457.9 359.4,457.4 357.2,452.9 355.9,451.1 354.4,449.9Z" fill="#aacfe6"/><path d="M353.7,455.6 351.9,455.6 350.9,456.1 348.9,458.1 346.7,462.4 346.7,462.9 346.2,463.6 345.9,464.6 344.7,466.1 344.2,467.4 343.2,468.9 343.2,469.4 341.9,471.6 341.9,472.1 341.4,472.9 341.4,473.4 340.9,474.4 340.9,475.1 340.7,475.4 340.7,476.1 340.4,476.4 340.4,477.1 339.9,478.4 339.7,480.6 339.2,481.6 339.2,482.4 338.7,483.4 338.7,484.1 338.4,484.4 338.4,485.1 337.9,486.4 337.9,487.4 337.7,487.6 337.7,488.6 337.4,488.9 337.4,489.9 337.2,490.1 337.2,491.1 336.9,491.4 336.9,492.4 336.7,492.6 336.7,493.9 336.4,494.1 336.4,495.4 336.2,495.6 335.7,499.9 335.4,500.1 335.4,502.1 335.2,502.4 335.2,506.4 334.9,506.6 334.9,510.9 334.7,511.1 334.7,515.1 334.4,515.4 334.4,519.1 334.2,519.4 334.2,523.4 333.9,523.6 333.9,526.9 333.7,527.1 333.4,534.1 333.2,534.4 332.9,538.1 332.7,538.4 332.7,539.4 332.4,539.6 332.2,541.4 331.9,541.6 331.7,542.9 331.2,543.6 331.2,544.1 330.2,545.9 330.2,546.4 329.2,547.4 327.4,548.4 327.4,548.6 327.9,548.9 329.9,549.1 330.2,549.4 331.4,549.4 331.7,549.6 332.7,549.6 332.9,549.9 333.9,549.9 334.2,550.1 335.2,550.1 335.4,550.4 336.4,550.4 336.7,550.6 337.7,550.6 337.9,550.9 340.9,551.1 341.2,551.4 343.4,551.4 343.7,551.6 353.9,551.6 354.2,551.4 356.4,551.4 356.7,551.1 358.2,551.1 358.4,550.9 359.7,550.9 359.9,550.6 362.2,550.4 362.4,550.1 364.2,549.9 364.4,549.6 366.4,549.1 367.2,548.6 367.7,548.6 369.9,547.4 370.9,546.4 371.2,546.4 372.2,545.1 372.7,543.9 372.7,526.9 372.4,526.6 372.4,522.9 372.2,522.6 372.2,519.1 371.9,518.9 371.9,515.6 371.7,515.4 371.7,512.1 371.4,511.9 371.4,508.6 371.2,508.4 370.9,501.6 370.7,501.4 370.7,499.9 370.4,499.6 370.4,498.6 370.2,498.4 370.2,497.4 369.9,497.1 369.9,495.9 369.7,495.6 369.7,494.6 369.4,494.4 369.4,493.4 369.2,493.1 368.7,489.6 368.2,488.4 368.2,487.4 367.7,486.1 367.7,485.1 367.4,484.9 367.2,483.4 366.2,480.9 366.2,479.9 365.9,479.6 365.9,478.9 365.4,477.6 365.4,476.6 365.2,476.4 364.9,474.6 364.7,474.4 364.4,473.1 363.7,471.9 363.7,471.4 361.4,466.9 359.7,464.6 359.7,464.1 359.2,463.4 358.7,461.6 356.9,458.4 355.4,456.6Z" fill="#b8d8ea"/><path d="M353.9,460.6 353.2,460.6 352.9,460.4 351.7,460.6 349.4,462.6 348.7,464.1 346.4,466.4 344.9,468.6 343.9,470.9 343.2,471.9 343.2,472.4 342.4,473.6 342.4,474.1 341.9,475.1 341.9,475.9 341.7,476.1 341.7,476.9 341.4,477.1 341.4,477.9 340.9,479.1 340.7,481.1 340.4,481.4 340.4,481.9 339.4,484.4 339.2,486.1 338.9,486.4 338.9,487.4 338.7,487.6 338.7,488.6 338.2,489.9 338.2,490.9 337.9,491.1 337.9,492.1 337.7,492.4 337.7,493.6 337.4,493.9 337.4,494.9 337.2,495.1 336.9,497.9 336.7,498.1 336.7,499.1 336.4,499.4 336.4,500.6 336.2,500.9 336.2,504.6 335.9,504.9 335.9,508.9 335.7,509.1 335.7,513.1 335.4,513.4 335.2,521.4 334.9,521.6 334.9,525.1 334.7,525.4 334.7,528.6 334.4,528.9 334.4,532.6 334.2,532.9 334.2,535.4 333.9,535.6 333.7,538.9 333.4,539.1 333.4,539.9 333.2,540.1 333.2,540.9 332.9,541.1 332.4,543.1 331.7,544.4 331.7,544.9 331.2,545.9 330.2,547.1 328.7,547.9 328.2,548.4 328.9,548.9 330.9,549.1 331.2,549.4 332.2,549.4 332.4,549.6 333.4,549.6 333.7,549.9 334.7,549.9 334.9,550.1 335.9,550.1 336.2,550.4 337.2,550.4 337.4,550.6 338.4,550.6 338.7,550.9 342.2,551.1 342.4,551.4 345.4,551.4 345.7,551.6 351.9,551.6 352.2,551.4 355.2,551.4 355.4,551.1 357.2,551.1 357.4,550.9 358.9,550.9 359.2,550.6 361.4,550.4 361.7,550.1 364.4,549.6 364.7,549.4 365.9,549.1 366.7,548.6 367.2,548.6 369.7,547.1 370.4,546.4 371.4,544.6 371.4,543.1 371.7,542.9 371.7,528.6 371.4,528.4 371.4,524.4 371.2,524.1 371.2,520.1 370.9,519.9 370.9,516.4 370.7,516.1 370.7,512.9 370.4,512.6 370.2,505.4 369.9,505.1 369.9,501.9 369.7,501.6 369.7,500.1 369.4,499.9 369.4,498.6 369.2,498.4 369.2,497.4 368.9,497.1 368.9,496.1 368.7,495.9 368.7,494.9 368.4,494.6 368.4,493.6 368.2,493.4 367.7,489.9 367.2,488.6 367.2,487.6 366.9,487.4 366.4,484.6 364.9,480.6 364.9,479.6 364.7,479.4 364.7,478.6 364.4,478.4 364.4,477.6 364.2,477.4 364.2,476.6 363.9,476.4 363.9,475.6 363.7,475.4 363.2,473.4 361.2,469.4 360.7,468.9 359.4,466.6 357.2,464.4 356.2,462.6Z" fill="#c6e0ec"/><path d="M354.7,465.1 353.7,465.1 353.4,464.9 351.2,465.1 349.9,465.6 348.2,466.9 346.7,468.6 345.2,470.9 344.9,471.6 344.4,472.1 342.9,475.9 342.9,476.6 342.4,477.6 341.9,480.4 340.4,484.4 340.4,485.1 340.2,485.4 340.2,486.1 339.9,486.4 339.9,487.1 339.4,488.4 339.4,489.4 338.9,490.6 338.9,491.6 338.7,491.9 338.7,492.9 338.4,493.1 338.4,494.1 338.2,494.4 338.2,495.4 337.9,495.6 337.7,498.4 337.4,498.6 337.4,499.6 337.2,499.9 337.2,501.4 336.9,501.6 336.9,505.6 336.7,505.9 336.4,514.1 336.2,514.4 336.2,518.1 335.9,518.4 335.9,522.4 335.7,522.6 335.7,526.1 335.4,526.4 335.4,529.1 335.2,529.4 335.2,533.4 334.9,533.6 334.9,535.9 334.7,536.1 334.4,539.1 334.2,539.4 334.2,540.1 333.9,540.4 333.9,541.1 333.7,541.4 333.4,542.6 331.9,545.9 330.4,547.4 328.9,548.1 328.9,548.6 329.4,548.6 329.7,548.9 330.4,548.9 331.7,549.4 334.2,549.6 334.4,549.9 336.4,550.1 336.7,550.4 337.7,550.4 337.9,550.6 340.9,550.9 341.2,551.1 343.4,551.1 343.7,551.4 353.9,551.4 354.2,551.1 356.4,551.1 356.7,550.9 358.2,550.9 358.4,550.6 359.4,550.6 359.7,550.4 360.9,550.4 361.2,550.1 361.9,550.1 362.2,549.9 362.9,549.9 363.2,549.6 363.9,549.6 364.2,549.4 365.4,549.1 368.4,547.6 369.9,546.1 370.4,544.9 370.4,543.4 370.7,543.1 370.7,528.1 370.4,527.9 370.4,523.6 370.2,523.4 370.2,519.4 369.9,519.1 369.9,515.4 369.7,515.1 369.7,511.6 369.4,511.4 369.4,507.9 369.2,507.6 368.9,500.9 368.7,500.6 368.7,499.6 368.4,499.4 368.4,498.4 368.2,498.1 368.2,496.9 367.9,496.6 367.4,493.1 366.9,491.9 366.9,490.9 366.4,489.6 366.4,488.6 366.2,488.4 365.4,484.6 363.9,480.9 363.4,478.1 362.9,477.1 362.9,476.4 362.7,476.1 362.2,474.1 360.9,471.6 358.4,467.9 356.2,465.9Z" fill="#d2e7ed"/><path d="M354.2,467.1 353.2,467.1 352.7,466.9 352.4,467.1 351.4,467.1 350.2,467.6 349.4,468.1 346.2,471.6 345.4,473.1 344.9,473.6 344.9,474.1 344.4,474.9 344.4,475.4 343.7,477.1 343.7,477.9 343.2,478.9 342.9,480.6 342.4,481.4 342.2,482.6 341.7,483.4 341.7,483.9 341.2,484.9 341.2,485.6 340.9,485.9 340.9,486.6 340.7,486.9 340.7,487.6 340.2,488.9 340.2,489.9 339.7,491.1 339.7,492.1 339.2,493.4 338.9,495.9 338.7,496.1 338.7,497.1 338.4,497.4 338.4,498.4 338.2,498.6 338.2,499.9 337.9,500.1 337.9,501.6 337.7,501.9 337.7,505.9 337.4,506.1 337.4,509.9 337.2,510.1 337.2,514.1 336.9,514.4 336.9,518.1 336.7,518.4 336.4,525.9 336.2,526.1 335.9,533.1 335.7,533.4 335.7,535.9 335.4,536.1 335.2,539.1 334.9,539.4 334.9,540.1 334.7,540.4 334.7,541.1 334.4,541.4 334.2,542.6 332.9,545.4 331.7,546.9 329.4,548.1 329.7,548.6 330.2,548.6 330.4,548.9 331.2,548.9 332.4,549.4 333.4,549.4 333.7,549.6 334.7,549.6 334.9,549.9 335.9,549.9 336.2,550.1 337.2,550.1 337.4,550.4 338.4,550.4 338.7,550.6 341.9,550.9 342.2,551.1 344.9,551.1 345.2,551.4 352.4,551.4 352.7,551.1 355.4,551.1 355.7,550.9 358.9,550.6 359.2,550.4 361.4,550.1 361.7,549.9 362.4,549.9 363.4,549.4 364.9,549.1 367.9,547.6 369.4,545.6 369.4,544.6 369.7,544.4 369.7,525.4 369.4,525.1 369.4,520.9 369.2,520.6 369.2,516.9 368.9,516.6 368.9,512.9 368.7,512.6 368.7,509.1 368.4,508.9 368.2,501.6 367.9,501.4 367.7,498.6 367.4,498.4 366.9,494.9 366.4,493.6 366.4,492.6 365.9,491.4 365.9,490.4 365.7,490.1 365.7,489.4 365.4,489.1 364.7,485.4 364.4,485.1 363.9,483.1 363.4,482.4 363.4,481.9 362.9,481.1 362.9,480.4 362.4,479.4 362.4,478.6 362.2,478.4 362.2,477.9 361.7,476.9 361.7,476.1 361.2,475.4 360.9,474.1 359.4,471.6 357.4,469.4 357.4,469.1 355.9,467.9Z" fill="#dfecea"/><path d="M353.9,469.1 351.7,469.1 351.4,469.4 350.9,469.4 349.9,469.9 347.4,472.1 345.9,474.4 345.9,474.9 345.4,475.6 345.4,476.1 344.9,476.9 344.9,477.4 344.2,479.1 344.2,479.9 343.9,480.1 343.7,481.4 342.9,482.6 342.9,483.1 342.2,484.6 342.2,485.4 341.7,486.4 341.7,487.1 341.4,487.4 341.4,488.1 341.2,488.4 341.2,489.1 340.9,489.4 340.9,490.1 340.7,490.4 340.7,491.1 340.2,492.4 340.2,493.4 339.9,493.6 339.9,494.6 339.7,494.9 339.7,495.9 339.4,496.1 339.4,497.1 339.2,497.4 339.2,498.4 338.9,498.6 338.9,499.6 338.7,499.9 338.7,501.1 338.4,501.4 338.4,505.1 338.2,505.4 338.2,509.4 337.9,509.6 337.9,513.4 337.7,513.6 337.7,517.4 337.4,517.6 337.2,525.4 336.9,525.6 336.7,532.6 336.4,532.9 336.4,535.4 336.2,535.6 335.9,538.9 335.7,539.1 335.7,539.9 335.4,540.1 335.4,540.9 335.2,541.1 334.7,543.1 333.4,545.6 332.7,546.6 329.9,548.1 330.2,548.6 330.7,548.6 330.9,548.9 332.9,549.1 333.2,549.4 335.2,549.6 335.4,549.9 336.4,549.9 336.7,550.1 337.7,550.1 337.9,550.4 340.9,550.6 341.2,550.9 342.9,550.9 343.2,551.1 347.2,551.1 347.4,551.4 354.4,551.1 354.7,550.9 356.4,550.9 356.7,550.6 359.7,550.4 359.9,550.1 361.9,549.9 362.9,549.4 364.4,549.1 365.2,548.6 365.7,548.6 366.7,548.1 368.2,546.6 368.7,545.6 368.7,544.1 368.9,543.9 368.9,526.1 368.7,525.9 368.7,521.4 368.4,521.1 368.4,517.1 368.2,516.9 368.2,513.1 367.9,512.9 367.9,509.4 367.7,509.1 367.7,505.6 367.4,505.4 367.4,501.9 367.2,501.6 367.2,500.1 366.9,499.9 366.9,498.9 366.7,498.6 366.2,495.1 365.9,494.9 365.7,492.9 365.4,492.6 365.4,491.9 365.2,491.6 365.2,490.9 364.9,490.6 364.2,486.9 363.7,485.9 363.7,485.1 363.4,484.9 363.2,483.6 362.7,482.9 362.7,482.4 361.9,481.1 361.9,480.6 361.7,480.4 360.4,476.1 359.9,475.4 359.9,474.9 358.4,472.4 356.7,470.6 355.7,469.9Z" fill="#ebf1e7"/><path d="M354.2,471.1 351.4,471.1 351.2,471.4 350.7,471.4 350.2,471.9 349.4,472.1 347.7,473.9 346.2,476.9 344.9,480.9 343.7,483.1 343.7,483.6 343.2,484.4 343.2,484.9 342.7,485.9 342.7,486.6 342.2,487.6 342.2,488.4 341.9,488.6 341.9,489.4 341.7,489.6 341.7,490.4 341.4,490.6 341.4,491.4 341.2,491.6 341.2,492.4 340.9,492.6 340.9,493.4 340.4,494.6 340.4,495.6 340.2,495.9 340.2,496.9 339.9,497.1 339.9,498.1 339.7,498.4 339.7,499.4 339.4,499.6 339.4,500.6 339.2,500.9 338.9,508.1 338.7,508.4 338.7,512.1 338.4,512.4 338.4,516.1 338.2,516.4 338.2,519.9 337.9,520.1 337.9,523.9 337.7,524.1 337.7,527.4 337.4,527.6 337.4,530.9 337.2,531.1 337.2,534.4 336.9,534.6 336.7,538.4 336.4,538.6 336.2,540.6 334.4,545.1 332.9,546.9 330.4,548.1 330.4,548.4 331.7,548.9 332.4,548.9 333.7,549.4 334.7,549.4 334.9,549.6 335.9,549.6 336.2,549.9 337.2,549.9 337.4,550.1 338.4,550.1 338.7,550.4 341.7,550.6 341.9,550.9 344.2,550.9 344.4,551.1 353.2,551.1 353.4,550.9 355.7,550.9 355.9,550.6 358.9,550.4 359.2,550.1 360.2,550.1 360.4,549.9 361.2,549.9 361.4,549.6 363.9,549.1 366.4,547.9 367.4,546.9 367.9,545.6 367.9,544.1 368.2,543.9 368.2,525.4 367.9,525.1 367.7,516.6 367.4,516.4 367.4,512.6 367.2,512.4 367.2,508.9 366.9,508.6 366.9,505.1 366.7,504.9 366.7,501.6 366.4,501.4 366.4,500.1 366.2,499.9 365.7,496.4 365.4,496.1 365.2,494.1 364.9,493.9 364.9,493.1 364.7,492.9 364.7,492.1 364.4,491.9 363.7,488.1 363.2,487.1 363.2,486.4 362.9,486.1 362.4,484.1 361.7,482.9 361.7,482.4 360.7,480.6 359.7,477.4 357.9,473.9 356.2,472.1Z" fill="#f2efd4"/><path d="M354.2,472.9 351.4,472.9 349.9,473.6 348.4,475.4 346.9,478.1 346.9,478.6 346.2,479.9 346.2,480.4 344.2,484.1 344.2,484.6 343.7,485.4 343.7,486.1 342.7,488.6 342.7,489.4 342.4,489.6 342.4,490.4 342.2,490.6 342.2,491.4 341.9,491.6 341.9,492.4 341.7,492.6 341.7,493.4 341.4,493.6 341.4,494.4 340.9,495.6 340.9,496.6 340.7,496.9 340.7,497.9 340.2,499.1 340.2,500.1 339.9,500.4 339.7,506.4 339.4,506.6 339.4,510.4 339.2,510.6 339.2,514.1 338.9,514.4 338.9,518.1 338.7,518.4 338.7,522.1 338.4,522.4 338.4,525.9 338.2,526.1 337.9,533.1 337.7,533.4 337.4,537.6 337.2,537.9 337.2,538.9 336.9,539.1 336.7,541.1 334.9,545.4 333.4,546.9 330.9,548.1 331.4,548.6 331.9,548.6 332.2,548.9 332.9,548.9 334.2,549.4 335.2,549.4 335.4,549.6 336.4,549.6 336.7,549.9 337.7,549.9 337.9,550.1 338.9,550.1 339.2,550.4 342.4,550.6 342.7,550.9 345.4,550.9 345.7,551.1 351.9,551.1 352.2,550.9 354.9,550.9 355.2,550.6 356.9,550.6 357.2,550.4 359.7,550.1 359.9,549.9 362.7,549.4 364.2,548.6 364.7,548.6 366.7,547.1 367.2,545.9 367.2,544.6 367.4,544.4 367.4,535.1 367.7,534.9 367.7,529.1 367.4,528.9 367.2,519.4 366.9,519.1 366.9,515.4 366.7,515.1 366.7,511.6 366.4,511.4 366.4,507.9 366.2,507.6 365.9,500.9 365.4,499.6 365.2,497.4 364.7,496.1 364.7,495.1 364.4,494.9 363.7,491.1 363.2,490.1 362.9,488.4 362.7,488.1 361.7,484.6 360.9,483.4 360.7,482.4 360.2,481.9 359.4,480.4 358.9,478.6 357.7,476.1 356.7,474.6 355.7,473.6Z" fill="#f9ecc2"/><path d="M353.9,474.9 353.2,474.9 352.9,474.6 351.7,474.9 350.4,475.6 349.4,476.6 348.4,478.1 347.2,480.9 346.2,482.1 344.7,485.1 344.7,485.6 343.4,488.9 343.4,489.6 342.7,491.4 342.7,492.1 342.4,492.4 342.4,493.1 342.2,493.4 342.2,494.1 341.7,495.4 341.7,496.4 341.2,497.6 341.2,498.6 340.7,499.9 340.7,500.9 340.4,501.1 340.4,504.6 340.2,504.9 340.2,508.4 339.9,508.6 339.9,512.1 339.7,512.4 339.7,515.9 339.4,516.1 339.2,523.6 338.9,523.9 338.9,527.1 338.7,527.4 338.4,534.1 338.2,534.4 337.9,538.1 337.7,538.4 337.4,540.6 335.7,545.1 334.4,546.6 331.4,548.1 331.9,548.6 332.4,548.6 332.7,548.9 334.7,549.1 334.9,549.4 336.9,549.6 337.2,549.9 338.2,549.9 338.4,550.1 339.4,550.1 339.7,550.4 343.4,550.6 343.7,550.9 348.2,550.9 348.4,551.1 349.2,551.1 349.4,550.9 353.9,550.9 354.2,550.6 356.2,550.6 356.4,550.4 359.2,550.1 359.4,549.9 360.2,549.9 360.4,549.6 362.9,549.1 365.4,547.9 366.4,546.4 366.4,545.4 366.7,545.1 366.7,540.1 366.9,539.9 366.9,526.9 366.7,526.6 366.7,521.9 366.4,521.6 366.4,517.6 366.2,517.4 366.2,513.9 365.9,513.6 365.9,510.1 365.7,509.9 365.7,506.4 365.4,506.1 365.2,500.6 364.9,500.4 364.9,499.4 364.4,498.1 364.4,497.1 364.2,496.9 364.2,496.1 363.9,495.9 363.7,493.9 363.2,492.9 362.9,491.1 362.7,490.9 362.4,489.4 362.2,489.1 361.2,485.6 360.7,484.9 360.7,484.4 359.4,482.1 358.4,480.9 358.4,480.4 356.9,477.6 355.2,475.6Z" fill="#fce5b0"/><path d="M353.2,477.1 351.7,477.4 350.2,478.4 347.2,482.4 345.2,486.1 345.2,486.6 343.4,491.4 343.4,492.1 342.9,493.1 342.9,493.9 342.7,494.1 342.7,494.9 342.4,495.1 342.4,495.9 341.9,497.1 341.9,498.1 341.7,498.4 341.4,500.4 341.2,500.6 341.2,502.4 340.9,502.6 340.9,506.1 340.7,506.4 340.7,509.9 340.4,510.1 340.4,513.6 340.2,513.9 340.2,517.4 339.9,517.6 339.7,524.9 339.4,525.1 339.2,531.9 338.9,532.1 338.9,535.1 338.7,535.4 338.4,538.6 338.2,538.9 338.2,539.9 337.9,540.1 337.9,540.9 337.7,541.1 337.2,543.1 335.9,545.6 334.7,546.9 332.2,547.9 331.9,548.1 332.4,548.6 333.2,548.6 333.4,548.9 334.2,548.9 334.4,549.1 335.2,549.1 336.4,549.6 338.7,549.9 338.9,550.1 341.9,550.4 342.2,550.6 344.4,550.6 344.7,550.9 352.9,550.9 353.2,550.6 355.4,550.6 355.7,550.4 358.7,550.1 358.9,549.9 359.7,549.9 359.9,549.6 362.4,549.1 363.2,548.6 364.2,548.4 365.4,547.1 365.9,545.9 365.9,543.4 366.2,543.1 366.2,534.6 366.4,534.4 366.4,529.1 366.2,528.9 365.9,519.4 365.7,519.1 365.7,515.6 365.4,515.4 365.4,511.9 365.2,511.6 365.2,508.1 364.9,507.9 364.7,501.1 364.2,499.9 364.2,498.9 363.9,498.6 363.9,497.9 363.7,497.6 363.7,496.9 363.4,496.6 362.7,492.9 362.4,492.6 362.2,491.1 361.9,490.9 360.7,486.6 360.2,485.9 360.2,485.4 359.4,483.9 357.9,481.6 356.9,480.6 356.7,479.9 355.9,478.9 354.4,477.6Z" fill="#fcdd9f"/><path d="M353.4,479.6 352.2,479.6 351.2,480.1 347.7,483.4 345.7,487.1 345.7,487.6 344.9,489.1 344.9,489.6 344.2,491.4 344.2,492.1 343.4,493.9 343.4,494.6 343.2,494.9 343.2,495.6 342.9,495.9 342.9,496.6 342.7,496.9 342.7,497.6 342.4,497.9 342.4,498.6 341.9,499.9 341.9,500.9 341.7,501.1 341.7,503.9 341.4,504.1 341.4,507.4 341.2,507.6 341.2,510.9 340.9,511.1 340.9,514.6 340.7,514.9 340.7,518.4 340.4,518.6 340.4,522.1 340.2,522.4 340.2,525.6 339.9,525.9 339.7,532.9 339.4,533.1 339.2,537.6 338.9,537.9 338.9,538.9 338.7,539.1 338.4,541.1 338.2,541.4 337.7,543.4 336.7,545.4 335.2,546.9 334.2,547.1 332.4,548.1 333.9,548.9 334.7,548.9 334.9,549.1 335.7,549.1 336.9,549.6 337.9,549.6 338.2,549.9 339.2,549.9 339.4,550.1 342.7,550.4 342.9,550.6 345.7,550.6 345.9,550.9 351.7,550.9 351.9,550.6 356.7,550.4 356.9,550.1 357.9,550.1 358.2,549.9 359.2,549.9 359.4,549.6 361.2,549.4 363.9,548.1 364.9,547.1 364.9,546.6 365.2,546.4 365.2,545.4 365.4,545.1 365.4,540.9 365.7,540.6 365.7,525.6 365.4,525.4 365.2,516.9 364.9,516.6 364.9,513.1 364.7,512.9 364.7,509.6 364.4,509.4 364.4,506.1 364.2,505.9 364.2,502.6 363.9,502.4 363.9,500.6 363.7,500.4 363.4,498.4 363.2,498.1 362.9,496.4 362.4,495.4 362.2,493.6 361.9,493.4 360.2,487.6 359.4,486.4 359.4,485.9 356.9,482.1 355.2,480.6Z" fill="#fdd48e"/><path d="M353.4,481.6 352.2,481.6 351.9,481.9 350.7,482.1 348.2,484.4 345.7,489.4 345.4,490.6 344.9,491.4 344.9,491.9 344.4,492.9 343.9,495.4 343.4,496.4 343.4,497.1 343.2,497.4 343.2,498.1 342.9,498.4 342.9,499.1 342.4,500.4 342.4,501.6 342.2,501.9 342.2,505.1 341.9,505.4 341.9,508.4 341.7,508.6 341.4,515.6 341.2,515.9 340.9,522.9 340.7,523.1 340.7,526.4 340.4,526.6 340.2,533.4 339.9,533.6 339.7,537.9 339.4,538.1 339.4,539.1 339.2,539.4 338.9,541.4 337.4,545.1 336.4,546.4 332.9,548.1 334.4,548.9 335.2,548.9 336.4,549.4 337.4,549.4 338.7,549.9 339.9,549.9 340.2,550.1 341.4,550.1 341.7,550.4 343.4,550.4 343.7,550.6 347.9,550.6 348.2,550.9 349.4,550.9 349.7,550.6 353.9,550.6 354.2,550.4 355.9,550.4 356.2,550.1 358.7,549.9 358.9,549.6 360.7,549.4 362.2,548.6 362.7,548.6 364.2,547.4 364.7,546.1 364.7,544.1 364.9,543.9 364.9,538.6 365.2,538.4 365.2,526.9 364.9,526.6 364.9,522.4 364.7,522.1 364.7,518.1 364.4,517.9 364.4,514.4 364.2,514.1 364.2,510.9 363.9,510.6 363.9,507.4 363.7,507.1 363.4,501.1 363.2,500.9 363.2,500.1 362.9,499.9 362.2,496.1 361.7,495.1 361.7,494.4 361.4,494.1 360.2,489.9 357.7,484.6 355.7,482.6 354.4,481.9 353.7,481.9Z" fill="#fdc982"/><path d="M353.7,483.1 351.9,483.1 350.7,483.6 349.7,484.4 348.4,485.9 345.9,490.9 345.7,492.1 345.2,492.9 345.2,493.4 344.7,494.4 344.2,496.9 343.7,497.9 343.7,498.6 343.4,498.9 343.4,499.6 342.9,500.9 342.9,502.9 342.7,503.1 342.7,506.1 342.4,506.4 342.4,509.4 342.2,509.6 342.2,512.9 341.9,513.1 341.7,519.6 341.4,519.9 341.4,523.4 341.2,523.6 341.2,526.6 340.9,526.9 340.7,533.9 340.4,534.1 340.2,538.1 339.9,538.4 339.9,539.4 339.7,539.6 339.4,541.4 339.2,541.6 338.7,543.6 337.7,545.6 336.2,546.9 335.2,547.1 333.4,548.1 334.9,548.9 335.7,548.9 336.9,549.4 337.9,549.4 339.2,549.9 342.2,550.1 342.4,550.4 344.4,550.4 344.7,550.6 352.9,550.6 353.2,550.4 356.9,550.1 357.2,549.9 358.2,549.9 358.4,549.6 360.9,549.1 362.9,548.1 363.9,546.6 363.9,545.9 364.2,545.6 364.2,542.9 364.4,542.6 364.7,528.1 364.4,527.9 364.2,518.9 363.9,518.6 363.9,515.4 363.7,515.1 363.7,511.9 363.4,511.6 363.4,508.4 363.2,508.1 363.2,505.1 362.9,504.9 362.9,502.1 362.7,501.9 362.7,500.4 362.2,499.4 361.9,497.6 361.4,496.6 361.4,495.9 361.2,495.6 359.9,491.4 357.7,486.6 356.7,485.1 355.7,484.1Z" fill="#fcbf76"/><path d="M353.7,484.6 351.9,484.6 350.2,485.6 348.7,487.4 346.7,491.1 346.7,491.6 345.7,493.6 345.7,494.1 344.7,496.6 344.7,497.4 344.2,498.4 344.2,499.1 343.7,500.1 343.7,500.9 343.4,501.1 343.4,503.9 343.2,504.1 343.2,506.9 342.9,507.1 342.9,510.1 342.7,510.4 342.7,513.4 342.4,513.6 342.4,516.9 342.2,517.1 342.2,520.1 341.9,520.4 341.7,527.1 341.4,527.4 341.4,529.9 341.2,530.1 341.2,534.1 340.9,534.4 340.9,536.4 340.7,536.6 340.4,539.6 340.2,539.9 340.2,540.6 339.9,540.9 339.9,541.6 339.7,541.9 339.4,543.1 338.2,545.6 337.2,546.6 336.2,547.1 335.7,547.1 334.9,547.6 334.4,547.6 333.9,548.1 335.4,548.9 336.4,548.9 337.4,549.4 338.4,549.4 338.7,549.6 339.7,549.6 339.9,549.9 340.9,549.9 341.2,550.1 342.7,550.1 342.9,550.4 345.7,550.4 345.9,550.6 351.7,550.6 351.9,550.4 354.4,550.4 354.7,550.1 357.7,549.9 357.9,549.6 360.4,549.1 362.4,548.1 362.9,547.6 363.4,546.4 363.4,545.1 363.7,544.9 363.7,541.9 363.9,541.6 364.2,528.9 363.9,528.6 363.7,519.6 363.4,519.4 363.4,516.1 363.2,515.9 363.2,512.6 362.9,512.4 362.9,509.4 362.7,509.1 362.7,506.4 362.4,506.1 362.2,500.9 361.9,500.6 361.9,499.9 361.4,498.9 361.4,498.1 360.7,496.4 360.7,495.6 360.4,495.4 360.2,494.1 357.4,488.1 355.2,485.4Z" fill="#fbb36b"/><path d="M353.7,486.4 351.9,486.4 350.9,486.9 348.9,488.9 346.7,493.1 346.7,493.6 346.2,494.4 346.2,494.9 345.4,496.4 345.4,497.1 344.4,499.6 344.2,501.9 343.9,502.1 343.9,504.6 343.7,504.9 343.7,507.6 343.4,507.9 343.4,510.9 343.2,511.1 343.2,514.1 342.9,514.4 342.9,517.1 342.7,517.4 342.7,520.6 342.4,520.9 342.4,524.1 342.2,524.4 342.2,527.1 341.9,527.4 341.7,534.1 341.4,534.4 341.2,538.4 340.9,538.6 340.9,539.6 340.7,539.9 340.4,541.6 338.9,545.4 337.7,546.6 336.7,547.1 336.2,547.1 335.4,547.6 334.9,547.6 334.4,548.1 335.2,548.6 336.9,548.9 337.9,549.4 340.2,549.6 340.4,549.9 341.7,549.9 341.9,550.1 349.9,550.6 350.2,550.4 353.7,550.4 353.9,550.1 355.7,550.1 355.9,549.9 356.9,549.9 357.2,549.6 359.2,549.4 361.4,548.4 362.2,547.9 362.7,547.1 362.9,544.6 363.2,544.4 363.2,541.1 363.4,540.9 363.4,533.4 363.7,533.1 363.7,529.4 363.4,529.1 363.2,520.4 362.9,520.1 362.9,516.9 362.7,516.6 362.7,513.4 362.4,513.1 362.4,510.4 362.2,510.1 362.2,507.1 361.9,506.9 361.9,504.4 361.7,504.1 361.7,501.4 361.4,501.1 361.4,500.4 360.9,499.4 360.9,498.6 360.7,498.4 359.7,494.9 359.2,494.1 359.2,493.6 357.9,490.9 355.9,487.9Z" fill="#f9a562"/><path d="M353.7,488.1 351.9,488.1 350.9,488.6 349.2,490.4 347.2,493.9 347.2,494.4 346.4,495.6 346.4,496.1 344.7,500.9 344.4,505.6 344.2,505.9 344.2,508.6 343.9,508.9 343.9,511.6 343.7,511.9 343.7,514.6 343.4,514.9 343.4,517.6 343.2,517.9 343.2,520.9 342.9,521.1 342.7,527.4 342.4,527.6 342.4,530.4 342.2,530.6 342.2,534.4 341.9,534.6 341.7,538.4 341.4,538.6 341.2,540.9 340.9,541.1 340.2,543.9 339.4,545.4 338.2,546.6 334.9,547.9 334.9,548.1 335.7,548.6 337.4,548.9 338.4,549.4 340.7,549.6 340.9,549.9 344.4,550.1 344.7,550.4 352.7,550.4 352.9,550.1 354.9,550.1 355.2,549.9 356.4,549.9 356.7,549.6 357.7,549.6 358.7,549.1 359.4,549.1 360.9,548.4 362.2,546.9 362.2,546.1 362.4,545.9 362.4,544.1 362.7,543.9 362.7,540.4 362.9,540.1 362.9,531.9 363.2,531.6 363.2,529.9 362.9,529.6 362.7,520.9 362.4,520.6 362.4,517.4 362.2,517.1 362.2,514.1 361.9,513.9 361.9,511.1 361.7,510.9 361.7,508.1 361.4,507.9 361.4,505.4 361.2,505.1 360.9,500.9 360.7,500.6 360.7,499.9 360.4,499.6 359.7,496.9 357.4,491.9 356.4,490.4 354.7,488.6Z" fill="#f79759"/><path d="M353.7,489.9 351.9,489.9 350.9,490.4 349.2,492.1 346.9,496.4 346.9,496.9 346.4,497.6 346.4,498.1 345.4,500.6 345.4,501.4 345.2,501.6 345.2,503.9 344.9,504.1 344.9,506.6 344.7,506.9 344.7,509.4 344.4,509.6 344.4,512.1 344.2,512.4 344.2,515.1 343.9,515.4 343.7,521.1 343.4,521.4 343.4,524.4 343.2,524.6 342.9,530.6 342.7,530.9 342.7,534.4 342.4,534.6 342.4,536.6 342.2,536.9 341.9,539.9 341.7,540.1 341.7,540.9 341.4,541.1 341.4,541.9 341.2,542.1 340.9,543.4 339.9,545.4 338.7,546.6 335.4,547.9 335.4,548.1 336.2,548.6 336.9,548.6 337.2,548.9 337.9,548.9 338.2,549.1 339.9,549.4 340.2,549.6 342.9,549.9 343.2,550.1 345.7,550.1 345.9,550.4 351.7,550.4 351.9,550.1 355.9,549.9 356.2,549.6 356.9,549.6 357.2,549.4 357.9,549.4 358.2,549.1 359.4,548.9 360.4,548.4 361.4,547.4 361.4,546.9 361.7,546.6 361.7,545.9 361.9,545.6 361.9,543.6 362.2,543.4 362.2,539.9 362.4,539.6 362.4,525.4 362.2,525.1 361.9,517.9 361.7,517.6 361.7,514.9 361.4,514.6 361.4,511.9 361.2,511.6 361.2,509.1 360.9,508.9 360.9,506.4 360.7,506.1 360.4,501.1 360.2,500.9 359.7,498.9 359.2,498.1 358.9,496.9 358.2,495.6 358.2,495.1 357.4,493.6 356.4,492.1 354.7,490.4Z" fill="#f38651"/><path d="M353.4,491.4 352.4,491.4 351.2,491.9 350.4,492.4 349.2,493.9 347.2,497.6 346.4,500.1 345.9,500.9 345.7,505.1 345.4,505.4 345.4,507.6 345.2,507.9 345.2,510.1 344.9,510.4 344.9,512.9 344.7,513.1 344.7,515.6 344.4,515.9 344.4,518.4 344.2,518.6 344.2,521.6 343.9,521.9 343.9,524.6 343.7,524.9 343.7,527.6 343.4,527.9 343.4,530.6 343.2,530.9 343.2,534.4 342.9,534.6 342.9,536.9 342.7,537.1 342.4,539.9 342.2,540.1 342.2,540.9 341.9,541.1 341.9,541.9 341.7,542.1 341.4,543.4 340.2,545.9 339.7,546.4 338.2,547.1 337.7,547.1 335.9,547.9 336.2,548.4 336.7,548.4 337.7,548.9 338.4,548.9 338.7,549.1 339.4,549.1 339.7,549.4 340.4,549.4 340.7,549.6 343.9,549.9 344.2,550.1 347.4,550.1 347.7,550.4 355.2,549.9 355.4,549.6 357.4,549.4 359.9,548.4 360.7,547.6 361.2,546.4 361.2,545.4 361.4,545.1 361.4,543.1 361.7,542.9 361.7,539.6 361.9,539.4 361.9,525.9 361.7,525.6 361.4,518.4 361.2,518.1 361.2,515.4 360.9,515.1 360.9,512.6 360.7,512.4 360.7,509.9 360.4,509.6 360.4,507.4 360.2,507.1 359.9,502.4 359.7,502.1 359.7,500.9 359.4,500.6 359.2,499.4 356.9,494.6 355.2,492.4Z" fill="#ed734a"/><path d="M353.7,493.1 351.9,493.1 349.9,494.6 348.7,496.4 346.7,500.9 346.7,501.6 346.4,501.9 346.4,503.9 346.2,504.1 346.2,506.1 345.9,506.4 345.9,508.6 345.7,508.9 345.7,511.1 345.4,511.4 345.4,513.6 345.2,513.9 344.9,518.9 344.7,519.1 344.7,521.9 344.4,522.1 344.4,524.9 344.2,525.1 343.9,530.9 343.7,531.1 343.7,534.6 343.4,534.9 343.2,538.6 342.9,538.9 342.9,539.9 342.7,540.1 342.4,541.9 340.9,545.6 340.2,546.4 336.4,547.9 336.7,548.4 337.2,548.4 338.2,548.9 338.9,548.9 340.2,549.4 341.2,549.4 341.4,549.6 342.7,549.6 342.9,549.9 344.7,549.9 344.9,550.1 352.7,550.1 352.9,549.9 354.4,549.9 354.7,549.6 355.7,549.6 355.9,549.4 356.9,549.4 357.2,549.1 358.4,548.9 359.7,548.1 360.4,547.1 360.7,545.1 360.9,544.9 361.2,539.1 361.4,538.9 361.4,526.4 361.2,526.1 360.9,519.1 360.7,518.9 360.7,516.1 360.4,515.9 360.4,513.4 360.2,513.1 360.2,510.9 359.9,510.6 359.9,508.4 359.7,508.1 359.7,506.1 359.4,505.9 359.2,501.6 358.9,501.4 358.9,500.6 358.4,499.9 358.4,499.4 356.9,496.4 355.9,494.9 354.7,493.6Z" fill="#e65f43"/><path d="M353.2,494.6 352.4,494.6 351.2,495.1 349.7,496.6 348.7,498.1 347.4,500.6 347.4,501.4 347.2,501.6 346.9,505.4 346.7,505.6 346.7,507.4 346.4,507.6 346.4,509.6 346.2,509.9 346.2,512.1 345.9,512.4 345.9,514.4 345.7,514.6 345.7,516.9 345.4,517.1 345.4,519.6 345.2,519.9 345.2,522.4 344.9,522.6 344.9,525.4 344.7,525.6 344.7,527.9 344.4,528.1 344.4,531.1 344.2,531.4 344.2,534.6 343.9,534.9 343.9,537.1 343.7,537.4 343.4,540.1 343.2,540.4 342.7,542.9 341.4,545.6 340.4,546.6 337.2,547.6 336.9,547.9 337.2,548.4 337.7,548.4 338.7,548.9 339.4,548.9 339.7,549.1 340.4,549.1 340.7,549.4 343.4,549.6 343.7,549.9 345.9,549.9 346.2,550.1 351.4,550.1 351.7,549.9 355.2,549.6 355.4,549.4 356.2,549.4 356.4,549.1 357.2,549.1 357.9,548.6 358.4,548.6 359.7,547.4 359.9,546.1 360.2,545.9 360.4,542.4 360.7,542.1 360.7,538.6 360.9,538.4 360.9,526.6 360.7,526.4 360.4,519.9 360.2,519.6 360.2,517.1 359.9,516.9 359.9,514.4 359.7,514.1 359.7,511.9 359.4,511.6 359.4,509.6 359.2,509.4 359.2,507.4 358.9,507.1 358.7,503.1 358.4,502.9 358.4,501.4 358.2,501.1 358.2,500.6 356.9,498.1 355.9,496.6 354.4,495.1Z" fill="#e0503c"/><path d="M353.7,496.4 351.9,496.4 351.4,496.6 349.4,498.6 347.9,501.6 347.9,503.1 347.7,503.4 347.7,504.9 347.4,505.1 347.4,506.9 347.2,507.1 347.2,508.9 346.9,509.1 346.9,510.9 346.7,511.1 346.7,513.1 346.4,513.4 346.4,515.4 346.2,515.6 346.2,517.9 345.9,518.1 345.9,520.4 345.7,520.6 345.7,522.9 345.4,523.1 345.4,525.6 345.2,525.9 345.2,528.1 344.9,528.4 344.9,531.4 344.7,531.6 344.7,534.9 344.4,535.1 344.2,538.9 343.9,539.1 343.9,540.1 343.7,540.4 343.4,542.1 342.2,545.4 340.9,546.6 337.7,547.6 337.4,547.9 337.7,548.4 338.2,548.4 339.2,548.9 339.9,548.9 341.2,549.4 342.4,549.4 342.7,549.6 344.2,549.6 344.4,549.9 352.7,549.9 352.9,549.6 354.4,549.6 354.7,549.4 355.7,549.4 355.9,549.1 357.2,548.9 358.2,548.4 358.9,547.6 359.4,546.6 359.7,544.1 359.9,543.9 359.9,541.9 360.2,541.6 360.2,537.9 360.4,537.6 360.4,527.4 360.2,527.1 360.2,523.9 359.9,523.6 359.9,520.6 359.7,520.4 359.7,517.9 359.4,517.6 359.4,515.4 359.2,515.1 358.9,510.9 358.7,510.6 358.7,508.9 358.4,508.6 358.4,506.9 358.2,506.6 358.2,504.9 357.9,504.6 357.7,501.4 356.2,498.6Z" fill="#db4436"/><path d="M353.2,497.9 352.4,497.9 351.2,498.4 349.7,499.9 348.9,501.1 348.7,503.6 348.4,503.9 348.4,505.1 348.2,505.4 348.2,506.9 347.9,507.1 347.9,508.6 347.7,508.9 347.7,510.4 347.4,510.6 347.4,512.4 347.2,512.6 346.9,516.4 346.7,516.6 346.7,518.6 346.4,518.9 346.4,521.1 346.2,521.4 346.2,523.6 345.9,523.9 345.9,526.1 345.7,526.4 345.7,528.6 345.4,528.9 345.4,532.1 345.2,532.4 345.2,535.4 344.9,535.6 344.7,539.1 344.4,539.4 344.4,540.4 344.2,540.6 343.9,542.4 342.4,545.9 340.9,546.9 340.4,546.9 337.9,547.9 338.2,548.4 338.7,548.4 339.7,548.9 341.7,549.1 341.9,549.4 343.2,549.4 343.4,549.6 345.2,549.6 345.4,549.9 352.2,549.9 352.4,549.6 354.9,549.4 355.2,549.1 355.9,549.1 356.7,548.6 357.2,548.6 358.2,547.9 358.9,546.4 359.2,543.6 359.4,543.4 359.4,541.1 359.7,540.9 359.7,536.9 359.9,536.6 359.9,528.1 359.7,527.9 359.7,524.6 359.4,524.4 359.4,521.6 359.2,521.4 359.2,518.9 358.9,518.6 358.7,514.4 358.4,514.1 358.2,510.4 357.9,510.1 357.9,508.6 357.7,508.4 357.7,506.9 357.4,506.6 357.4,505.1 357.2,504.9 357.2,503.6 356.9,503.4 356.7,501.1 355.9,499.9 354.4,498.4Z" fill="#d5392f"/><path d="M353.9,499.6 353.2,499.6 352.9,499.4 351.9,499.6 350.9,500.1 349.9,501.4 349.7,503.4 349.4,503.6 349.4,504.6 349.2,504.9 349.2,505.9 348.9,506.1 348.9,507.4 348.7,507.6 348.7,508.9 348.4,509.1 348.4,510.4 348.2,510.6 348.2,512.1 347.9,512.4 347.9,513.9 347.7,514.1 347.4,517.6 347.2,517.9 347.2,519.9 346.9,520.1 346.9,522.1 346.7,522.4 346.7,524.6 346.4,524.9 346.4,526.9 346.2,527.1 346.2,529.1 345.9,529.4 345.7,535.9 345.4,536.1 345.4,537.9 345.2,538.1 344.9,540.6 344.7,540.9 344.2,543.4 343.7,544.1 343.7,544.6 343.2,545.6 342.4,546.4 341.4,546.9 340.9,546.9 338.4,547.9 338.7,548.4 339.2,548.4 340.2,548.9 341.2,548.9 341.4,549.1 342.4,549.1 342.7,549.4 343.9,549.4 344.2,549.6 346.7,549.6 346.9,549.9 350.7,549.9 350.9,549.6 352.7,549.6 352.9,549.4 355.2,549.1 356.9,548.4 357.9,547.4 357.9,546.9 358.4,545.9 358.7,542.9 358.9,542.6 358.9,540.4 359.2,540.1 359.2,535.1 359.4,534.9 359.4,528.9 359.2,528.6 359.2,525.9 358.9,525.6 358.7,520.1 358.4,519.9 358.4,517.9 358.2,517.6 358.2,515.9 357.9,515.6 357.9,514.1 357.7,513.9 357.7,512.1 357.4,511.9 357.4,510.4 357.2,510.1 357.2,508.9 356.9,508.6 356.9,507.4 356.7,507.1 356.7,505.9 356.4,505.6 356.2,503.4 355.9,503.1 355.9,502.4 355.7,502.1 355.4,500.9Z" fill="#d1332c"/><path d="M353.7,501.1 351.9,501.1 351.2,502.4 351.2,502.9 350.2,505.4 349.9,507.1 349.7,507.4 349.7,508.4 349.4,508.6 349.4,509.6 349.2,509.9 349.2,511.1 348.9,511.4 348.9,512.4 348.7,512.6 348.7,513.9 348.4,514.1 347.9,519.1 347.7,519.4 347.4,523.4 347.2,523.6 347.2,525.6 346.9,525.9 346.7,529.9 346.4,530.1 346.2,536.6 345.9,536.9 345.9,538.4 345.7,538.6 345.4,541.1 345.2,541.4 344.9,542.9 343.9,545.4 342.7,546.6 341.4,547.1 340.7,547.1 338.9,547.9 339.2,548.4 339.7,548.4 340.7,548.9 341.7,548.9 341.9,549.1 342.9,549.1 343.2,549.4 344.9,549.4 345.2,549.6 352.4,549.6 352.7,549.4 354.4,549.1 356.2,548.4 356.9,547.9 357.7,546.4 357.9,544.1 358.2,543.9 358.2,542.1 358.4,541.9 358.4,539.1 358.7,538.9 358.7,527.1 358.4,526.9 358.4,524.4 358.2,524.1 357.9,519.4 357.7,519.1 357.7,517.6 357.4,517.4 357.4,515.9 357.2,515.6 357.2,514.1 356.9,513.9 356.7,511.1 356.4,510.9 356.4,509.9 356.2,509.6 356.2,508.6 355.9,508.4 355.9,507.4 355.7,507.1 355.2,504.4 354.4,502.9 354.4,502.4Z" fill="#cc2e2a"/><path d="M352.9,505.4 352.2,505.6 350.9,507.9 350.7,509.4 349.9,511.4 349.9,512.4 349.4,513.6 349.4,514.6 349.2,514.9 349.2,516.1 348.9,516.4 348.9,517.6 348.7,517.9 348.7,519.1 348.4,519.4 348.4,520.9 348.2,521.1 348.2,522.9 347.9,523.1 347.7,526.9 347.4,527.1 347.4,528.6 347.2,528.9 346.9,535.1 346.7,535.4 346.7,537.4 346.4,537.6 346.4,539.1 346.2,539.4 345.9,541.6 344.4,545.6 343.7,546.4 342.7,546.9 339.7,547.6 339.4,548.1 340.4,548.6 342.4,548.9 342.7,549.1 343.9,549.1 344.2,549.4 346.2,549.4 346.4,549.6 351.2,549.6 351.4,549.4 352.7,549.4 353.7,548.9 354.4,548.9 355.9,548.1 356.9,546.6 357.2,544.6 357.4,544.4 357.4,543.1 357.7,542.9 357.7,540.9 357.9,540.6 357.9,536.6 358.2,536.4 358.2,528.6 357.9,528.4 357.9,525.9 357.7,525.6 357.7,523.6 357.4,523.4 357.2,519.4 356.9,519.1 356.9,517.9 356.7,517.6 356.7,516.4 356.4,516.1 356.4,514.9 356.2,514.6 355.9,512.4 355.7,512.1 355.7,511.4 355.4,511.1 355.4,510.4 355.2,510.1 355.2,509.4 354.9,509.1 354.7,507.9 353.7,505.9Z" fill="#c82a28"/><path d="M353.2,510.4 352.4,510.4 351.7,511.1 351.2,512.1 351.2,512.6 350.4,514.4 350.2,516.1 349.9,516.4 349.7,518.4 349.4,518.6 349.4,519.9 349.2,520.1 349.2,521.4 348.9,521.6 348.9,523.1 348.7,523.4 348.7,524.6 348.4,524.9 348.4,526.4 348.2,526.6 348.2,528.1 347.9,528.4 347.9,530.1 347.7,530.4 347.7,534.1 347.4,534.4 347.2,538.6 346.9,538.9 346.9,539.9 346.7,540.1 346.4,542.1 346.2,542.4 345.4,545.1 344.9,545.9 343.4,546.9 340.2,547.6 339.9,548.1 340.9,548.6 343.2,548.9 343.4,549.1 344.9,549.1 345.2,549.4 352.7,549.4 352.9,548.9 353.4,548.9 355.2,548.1 355.7,547.6 356.4,545.9 356.7,543.6 356.9,543.4 356.9,541.6 357.2,541.4 357.2,538.6 357.4,538.4 357.4,527.9 357.2,527.6 356.9,523.6 356.7,523.4 356.7,521.9 356.4,521.6 356.4,520.1 356.2,519.9 355.7,516.4 355.4,516.1 355.4,515.4 355.2,515.1 355.2,514.4 354.9,514.1 354.4,512.1 353.9,511.1Z" fill="#c32827"/><path d="M353.2,515.1 352.4,515.1 351.9,515.6 351.2,517.1 351.2,517.6 350.4,519.4 350.4,520.1 350.2,520.4 350.2,521.4 349.9,521.6 349.9,522.6 349.7,522.9 349.7,523.9 349.4,524.1 349.4,525.4 349.2,525.6 349.2,526.9 348.9,527.1 348.9,528.4 348.7,528.6 348.7,529.9 348.4,530.1 348.4,533.9 348.2,534.1 347.9,538.4 347.7,538.6 347.7,539.9 347.4,540.1 347.2,542.1 346.9,542.4 346.2,545.1 345.7,545.9 344.7,546.6 344.2,546.6 343.2,547.1 342.4,547.1 341.4,547.6 340.7,547.6 340.4,547.9 340.7,548.4 342.4,548.6 342.7,548.9 343.9,548.9 344.2,549.1 346.2,549.1 346.4,549.4 351.4,549.4 351.7,549.1 352.7,549.1 352.9,548.6 354.2,548.1 355.4,546.6 355.7,544.9 355.9,544.6 355.9,543.6 356.2,543.4 356.4,538.9 356.7,538.6 356.7,528.1 356.4,527.9 356.2,524.6 355.9,524.4 355.9,523.1 355.7,522.9 355.2,519.4 354.9,519.1 354.4,517.1 353.7,515.6Z" fill="#bf2625"/><path d="M353.2,520.1 352.4,520.1 351.4,521.6 351.4,522.1 350.7,523.9 350.2,526.6 349.9,526.9 349.9,527.9 349.7,528.1 349.7,529.1 349.4,529.4 349.2,534.9 348.9,535.1 348.7,538.9 348.4,539.1 348.4,540.4 348.2,540.6 347.7,543.4 346.9,544.9 346.9,545.4 345.4,546.6 340.9,547.9 341.2,548.4 343.2,548.6 343.4,548.9 344.9,548.9 345.2,549.1 352.7,549.1 352.7,548.4 354.2,547.1 354.7,546.1 354.9,544.4 355.2,544.1 355.2,542.9 355.4,542.6 355.4,540.9 355.7,540.6 355.7,537.4 355.9,537.1 355.9,529.4 355.7,529.1 355.7,527.9 355.4,527.6 355.4,526.4 355.2,526.1 355.2,525.1 354.9,524.9 354.7,523.1 354.4,522.9 354.2,521.6Z" fill="#ba2424"/><path d="M353.2,525.6 352.4,525.6 351.9,526.1 350.7,529.1 350.7,529.9 350.4,530.1 350.4,532.9 350.2,533.1 350.2,535.6 349.9,535.9 349.9,537.6 349.7,537.9 349.4,540.6 349.2,540.9 348.9,542.6 347.9,545.4 346.4,546.6 343.9,547.1 343.7,547.4 342.7,547.4 341.4,547.9 341.4,548.1 342.7,548.4 342.9,548.6 343.9,548.6 344.2,548.9 346.2,548.9 346.4,549.1 351.7,549.1 351.9,548.9 352.7,548.9 352.7,547.6 353.4,546.6 353.4,546.1 353.9,545.1 353.9,544.1 354.2,543.9 354.2,542.6 354.4,542.4 354.4,540.4 354.7,540.1 354.7,535.4 354.9,535.1 354.9,530.4 354.7,530.1 354.7,529.1 354.4,528.9 354.2,527.4Z" fill="#ba2424"/><path d="M352.4,535.9 351.9,536.9 351.9,537.6 351.7,537.9 350.9,541.6 349.4,545.6 348.2,546.4 347.7,546.4 346.7,546.9 345.7,546.9 345.4,547.1 342.7,547.6 342.2,547.9 342.2,548.1 343.4,548.4 343.7,548.6 344.9,548.6 345.2,548.9 352.7,548.9 352.7,546.1 352.2,545.9 352.2,544.4 352.4,544.1 352.4,542.9 352.7,542.6 352.7,536.4Z" fill="#ba2424"/><path d="M352.7,546.6 351.2,546.6 350.9,546.4 348.2,546.6 347.9,546.9 346.7,546.9 346.4,547.1 345.4,547.1 345.2,547.4 343.2,547.6 342.7,547.9 342.7,548.1 343.2,548.4 344.2,548.4 344.4,548.6 346.2,548.6 346.4,548.9 352.2,548.9 352.7,548.6Z" fill="#ba2424"/></g></g>
<rect x="263.8" y="436.5" width="153.2" height="152.8" fill="none" stroke="#111" stroke-width="1.1"/>
<text x="272.3" y="581" font-size="10.85" fill="#111">PSK/SFX-P2/SFX-DM</text>
<path d="M263.8,463.8h-3M263.8,495.2h-3M263.8,526.5h-3M263.8,557.9h-3M263.8,589.2h-3M263.8,579.8h-1.6M263.8,574.2h-1.6M263.8,570.3h-1.6M263.8,567.3h-1.6M263.8,564.8h-1.6M263.8,562.7h-1.6M263.8,560.9h-1.6M263.8,559.3h-1.6M263.8,548.4h-1.6M263.8,542.9h-1.6M263.8,539.0h-1.6M263.8,535.9h-1.6M263.8,533.5h-1.6M263.8,531.4h-1.6M263.8,529.5h-1.6M263.8,527.9h-1.6M263.8,517.1h-1.6M263.8,511.5h-1.6M263.8,507.6h-1.6M263.8,504.6h-1.6M263.8,502.1h-1.6M263.8,500.0h-1.6M263.8,498.2h-1.6M263.8,496.6h-1.6M263.8,485.7h-1.6M263.8,480.2h-1.6M263.8,476.3h-1.6M263.8,473.2h-1.6M263.8,470.8h-1.6M263.8,468.7h-1.6M263.8,466.8h-1.6M263.8,465.2h-1.6M263.8,454.4h-1.6M263.8,448.8h-1.6M263.8,444.9h-1.6M263.8,441.9h-1.6M263.8,439.4h-1.6M263.8,437.3h-1.6M263.8,589.3v3M282.9,589.3v1.8M302.1,589.3v3M321.2,589.3v1.8M340.4,589.3v3M359.6,589.3v1.8M378.7,589.3v3M397.9,589.3v1.8M417.0,589.3v3" stroke="#222" stroke-width="0.8" fill="none"/>
<text x="259.3" y="466.8" font-size="9.4" fill="#222" text-anchor="end">10<tspan font-size="6.3" dy="-3.6">3</tspan></text>
<text x="259.3" y="498.2" font-size="9.4" fill="#222" text-anchor="end">10<tspan font-size="6.3" dy="-3.6">2</tspan></text>
<text x="259.3" y="529.5" font-size="9.4" fill="#222" text-anchor="end">10<tspan font-size="6.3" dy="-3.6">1</tspan></text>
<text x="259.3" y="560.9" font-size="9.4" fill="#222" text-anchor="end">10<tspan font-size="6.3" dy="-3.6">0</tspan></text>
<text x="259.3" y="592.2" font-size="9.4" fill="#222" text-anchor="end">10<tspan font-size="6.3" dy="-3.6">−1</tspan></text>
<text x="263.8" y="600.8" font-size="9.4" fill="#222" text-anchor="middle">650</text>
<text x="302.1" y="600.8" font-size="9.4" fill="#222" text-anchor="middle">700</text>
<text x="340.4" y="600.8" font-size="9.4" fill="#222" text-anchor="middle">750</text>
<text x="378.7" y="600.8" font-size="9.4" fill="#222" text-anchor="middle">800</text>
<text x="417.0" y="600.8" font-size="9.4" fill="#222" text-anchor="middle">850</text>
<text x="342.4" y="612.4" font-size="9.1" fill="#222" text-anchor="middle">Wavelength (nm)</text>
<rect x="418.6" y="436.3" width="13.4" height="152.3" fill="url(#cbt7)" stroke="#222" stroke-width="0.8"/>
<text x="437.5" y="441.5" font-size="7.2" fill="#222">0.3</text>
<text x="437.5" y="460.0" font-size="7.2" fill="#222">0.1</text>
<text x="436.7" y="478.6" font-size="7.2" fill="#222">−0.1</text>
<text x="436.7" y="496.5" font-size="7.2" fill="#222">−0.3</text>
<text x="436.7" y="514.8" font-size="7.2" fill="#222">−0.5</text>
<text x="436.7" y="533.3" font-size="7.2" fill="#222">−0.6</text>
<text x="436.7" y="551.8" font-size="7.2" fill="#222">−0.8</text>
<text x="436.7" y="569.8" font-size="7.2" fill="#222">−1.0</text>
<text x="436.7" y="588.0" font-size="7.2" fill="#222">−1.2</text>
<path d="M432.0,439.1h3M432.0,457.6h3M432.0,476.2h3M432.0,494.1h3M432.0,512.4h3M432.0,530.9h3M432.0,549.4h3M432.0,567.4h3M432.0,585.6h3M432.0,439.1h1.5M432.0,442.2h1.5M432.0,445.2h1.5M432.0,448.3h1.5M432.0,451.3h1.5M432.0,454.4h1.5M432.0,457.4h1.5M432.0,460.5h1.5M432.0,463.5h1.5M432.0,466.6h1.5M432.0,469.6h1.5M432.0,472.7h1.5M432.0,475.7h1.5M432.0,478.8h1.5M432.0,481.8h1.5M432.0,484.9h1.5M432.0,487.9h1.5M432.0,491.0h1.5M432.0,494.0h1.5M432.0,497.1h1.5M432.0,500.1h1.5M432.0,503.2h1.5M432.0,506.2h1.5M432.0,509.3h1.5M432.0,512.4h1.5M432.0,515.4h1.5M432.0,518.5h1.5M432.0,521.5h1.5M432.0,524.6h1.5M432.0,527.6h1.5M432.0,530.7h1.5M432.0,533.7h1.5M432.0,536.8h1.5M432.0,539.8h1.5M432.0,542.9h1.5M432.0,545.9h1.5M432.0,549.0h1.5M432.0,552.0h1.5M432.0,555.1h1.5M432.0,558.1h1.5M432.0,561.2h1.5M432.0,564.2h1.5M432.0,567.3h1.5M432.0,570.3h1.5M432.0,573.4h1.5M432.0,576.4h1.5M432.0,579.5h1.5M432.0,582.5h1.5M432.0,585.6h1.5" stroke="#222" stroke-width="0.8" fill="none"/>
<text x="0" y="0" font-size="8.2" fill="#222" text-anchor="middle" transform="translate(428.2,512.8) rotate(-90)">ΔA (OD)</text>
<g clip-path="url(#tc8)"><g filter="url(#tb8)"><rect x="494.2" y="433.5" width="159.2" height="158.8" fill="#5f8ec0"/><path d="M601.3,551.6 601.6,552.1 603.1,553.4 605.6,554.4 607.6,554.6 607.8,554.9 609.8,554.9 610.1,555.1 624.3,554.9 624.6,554.6 628.6,554.6 628.8,554.4 634.6,554.1 634.8,553.9 636.8,553.9 637.1,553.6 638.8,553.6 639.1,553.4 643.3,552.9 643.6,552.6 644.3,552.6 644.6,552.4 647.1,551.9 649.3,550.6 649.3,549.6 647.8,548.6 647.3,548.6 645.6,547.9 643.8,547.6 643.6,547.4 642.3,547.4 642.1,547.1 639.3,546.9 639.1,546.6 637.3,546.6 637.1,546.4 635.3,546.4 635.1,546.1 629.6,545.9 629.3,545.6 625.6,545.6 625.3,545.4 614.6,545.4 614.3,545.6 613.1,545.6 612.8,545.9 610.3,546.1 610.1,546.4 608.6,546.6 607.1,547.4 606.6,547.4 602.6,549.6 601.6,550.6ZM541.1,471.4 539.1,470.4 538.6,470.4 536.8,469.6 534.8,469.4 534.6,469.1 533.6,469.1 533.3,468.9 531.3,468.9 531.1,468.6 522.6,468.4 522.3,468.6 519.8,468.6 519.6,468.9 518.3,468.9 518.1,469.1 517.3,469.1 515.8,469.9 515.3,469.9 512.3,471.9 506.6,477.6 504.3,479.1 501.1,480.4 497.3,480.9 497.3,552.9 498.3,552.9 498.6,552.6 502.3,552.6 502.6,552.4 513.8,552.1 514.1,551.9 519.8,551.6 520.1,551.4 523.8,551.1 524.1,550.9 525.6,550.9 525.8,550.6 527.3,550.6 527.6,550.4 529.3,550.4 529.6,550.1 531.6,550.1 531.8,549.9 533.6,549.9 533.8,549.6 536.1,549.6 536.3,549.4 538.3,549.4 538.6,549.1 540.8,549.1 541.1,548.9 543.3,548.9 543.6,548.6 545.6,548.6 545.8,548.4 549.8,548.1 550.1,547.9 551.3,547.9 551.6,547.6 552.6,547.6 553.8,547.1 553.8,546.6 549.6,541.4 548.8,539.9 548.8,538.9 548.6,538.6 548.6,535.9 548.8,535.6 548.8,529.1 549.1,528.9 549.3,524.4 549.6,524.1 549.6,521.9 549.8,521.6 549.8,518.6 550.1,518.4 550.1,511.9 550.3,511.6 550.3,509.4 550.1,509.1 550.1,502.9 549.8,502.6 549.8,492.9 549.6,492.6 549.6,489.9 549.3,489.6 549.3,487.9 549.1,487.6 549.1,486.4 548.8,486.1 548.6,483.1 548.3,482.9 547.6,480.1 547.1,479.4 547.1,478.9 545.3,475.6 543.8,473.6Z" fill="#5885ba"/><path d="M602.6,551.1 602.8,551.6 604.3,552.9 607.1,553.9 610.1,554.1 610.3,554.4 615.8,554.4 616.1,554.1 623.1,554.1 623.3,553.9 627.1,553.9 627.3,553.6 630.1,553.6 630.3,553.4 634.6,553.1 634.8,552.9 636.1,552.9 636.3,552.6 637.6,552.6 637.8,552.4 640.1,552.1 640.3,551.9 642.3,551.4 643.3,550.9 643.8,549.9 643.3,549.4 641.8,548.6 639.3,548.1 639.1,547.9 636.8,547.6 636.6,547.4 633.1,547.1 632.8,546.9 630.8,546.9 630.6,546.6 628.1,546.6 627.8,546.4 624.3,546.4 624.1,546.1 617.6,546.1 617.3,545.9 616.1,545.9 615.8,546.1 612.3,546.1 612.1,546.4 610.6,546.4 610.3,546.6 607.8,547.1 605.1,548.4 603.6,549.4 602.8,550.1ZM536.1,489.1 531.8,487.4 531.1,487.4 529.8,486.9 528.8,486.9 528.6,486.6 527.3,486.6 527.1,486.4 525.1,486.4 524.8,486.1 520.6,486.1 520.3,486.4 519.1,486.4 518.8,486.6 517.3,486.9 515.3,487.9 512.8,490.1 510.3,493.6 510.1,494.4 507.6,498.1 507.3,498.9 506.1,500.4 505.8,500.4 503.3,502.9 501.1,504.4 500.6,504.4 499.1,505.1 497.3,505.4 497.3,551.4 502.1,551.4 502.3,551.1 515.3,551.1 515.6,550.9 518.6,550.9 518.8,550.6 521.3,550.6 521.6,550.4 523.8,550.4 524.1,550.1 526.6,550.1 526.8,549.9 529.1,549.9 529.3,549.6 531.8,549.6 532.1,549.4 534.3,549.4 534.6,549.1 537.1,549.1 537.3,548.9 539.8,548.9 540.1,548.6 544.8,548.4 545.1,548.1 546.8,548.1 547.1,547.9 550.1,547.6 550.3,547.4 551.1,547.4 551.8,546.9 551.8,546.4 551.3,545.4 546.3,539.6 545.1,537.9 544.3,536.1 544.3,529.1 544.6,528.9 544.6,527.1 544.8,526.9 544.8,525.1 545.1,524.9 545.1,522.9 545.3,522.6 545.3,519.9 545.6,519.6 545.6,511.6 545.3,511.4 545.3,508.9 545.1,508.6 544.8,505.6 544.3,504.4 544.3,503.4 543.8,502.4 543.8,501.4 543.6,501.1 543.3,499.1 543.1,498.9 542.6,496.9 541.1,493.9 538.8,491.1Z" fill="#517db3"/><path d="M603.6,550.9 604.6,552.1 605.8,552.9 606.3,552.9 607.3,553.4 610.3,553.6 610.6,553.9 614.8,553.9 615.1,553.6 622.1,553.6 622.3,553.4 625.8,553.4 626.1,553.1 628.6,553.1 628.8,552.9 632.8,552.6 633.1,552.4 634.3,552.4 634.6,552.1 635.6,552.1 635.8,551.9 638.3,551.4 639.3,550.9 639.8,550.4 639.8,549.9 639.1,549.1 638.6,549.1 636.8,548.4 634.8,548.1 634.6,547.9 633.3,547.9 633.1,547.6 631.6,547.6 631.3,547.4 626.8,547.1 626.6,546.9 623.3,546.9 623.1,546.6 617.1,546.6 616.8,546.4 614.3,546.4 614.1,546.6 611.1,546.6 610.8,546.9 609.6,546.9 609.3,547.1 607.3,547.6 606.6,548.1 606.1,548.1 605.6,548.6 604.8,548.9 603.8,549.9ZM516.8,503.4 514.6,505.6 513.8,507.1 512.3,508.9 511.8,509.9 511.8,510.4 511.1,512.1 511.1,512.9 510.8,513.1 510.8,513.9 510.3,515.1 510.3,516.1 510.1,516.4 510.1,517.6 509.8,517.9 509.6,521.9 509.3,522.1 509.3,548.4 509.8,549.4 511.8,550.1 519.3,550.1 519.6,549.9 522.6,549.9 522.8,549.6 525.6,549.6 525.8,549.4 528.8,549.4 529.1,549.1 531.6,549.1 531.8,548.9 534.6,548.9 534.8,548.6 540.1,548.4 540.3,548.1 544.3,547.9 544.6,547.6 545.8,547.6 546.1,547.4 547.6,547.1 548.1,546.6 548.1,545.1 547.3,543.4 545.6,540.9 538.3,533.1 536.6,530.4 536.6,527.4 536.8,527.1 537.1,524.1 537.3,523.9 537.3,521.9 537.6,521.6 537.3,516.4 537.1,516.1 537.1,514.9 536.8,514.6 536.8,513.9 536.6,513.6 536.3,512.4 534.1,508.4 530.6,505.1 528.3,503.9 527.8,503.9 527.1,503.4 526.6,503.4 524.8,502.6 523.8,502.6 523.6,502.4 519.1,502.4Z" fill="#4b75ac"/><path d="M605.1,550.1 605.3,551.1 606.6,552.1 607.1,552.1 607.8,552.6 608.6,552.6 608.8,552.9 610.8,552.9 611.1,553.1 613.6,553.1 613.8,552.9 620.6,552.9 620.8,552.6 626.6,552.4 626.8,552.1 628.3,552.1 628.6,551.9 629.8,551.9 630.1,551.6 632.1,551.4 634.1,550.4 634.1,549.9 633.1,549.1 631.6,548.9 631.3,548.6 630.3,548.6 630.1,548.4 629.1,548.4 628.8,548.1 624.8,547.9 624.6,547.6 621.8,547.6 621.6,547.4 616.1,547.4 615.8,547.1 612.6,547.1 612.3,547.4 609.8,547.4 609.6,547.6 608.8,547.6 607.3,548.4 606.8,548.4 606.1,548.9Z" fill="#385a8f"/><path d="M606.3,550.1 606.6,550.4 606.6,550.9 607.1,551.4 609.8,552.4 617.3,552.4 617.6,552.1 623.6,551.9 623.8,551.6 625.3,551.6 625.6,551.4 627.8,551.1 629.3,550.4 629.3,549.9 629.1,549.6 627.8,549.1 627.1,549.1 626.8,548.9 624.3,548.6 624.1,548.4 622.1,548.4 621.8,548.1 618.6,548.1 618.3,547.9 610.1,547.9 607.3,548.9Z" fill="#2c4672"/><path d="M607.8,549.6 607.8,550.6 608.3,551.1 609.6,551.6 610.8,551.6 611.1,551.9 620.8,551.4 621.1,551.1 623.6,550.9 623.8,550.6 624.3,550.6 624.8,550.1 624.8,549.9 623.8,549.4 622.8,549.4 622.6,549.1 621.6,549.1 621.3,548.9 619.3,548.9 619.1,548.6 615.3,548.6 615.1,548.4 610.8,548.4 610.6,548.6 608.8,548.9Z" fill="#243960"/><path d="M572.8,436.6 572.3,437.4 572.3,437.9 571.1,441.1 571.1,441.9 570.8,442.1 570.8,442.9 570.6,443.1 570.6,443.9 570.3,444.1 570.3,444.9 569.8,446.1 569.8,447.1 569.3,448.4 569.3,449.6 569.1,449.9 569.1,450.9 568.8,451.1 568.6,453.4 568.3,453.6 568.3,454.6 568.1,454.9 567.6,459.1 567.3,459.4 567.3,460.4 567.1,460.6 567.1,461.6 566.8,461.9 566.8,462.9 566.6,463.1 566.1,467.4 565.3,468.9 565.3,469.6 564.6,471.4 564.6,472.1 564.3,472.4 564.1,473.9 563.3,475.9 563.1,478.4 562.8,478.6 562.8,479.6 562.6,479.9 562.3,482.9 562.1,483.1 562.1,483.9 561.8,484.1 561.8,484.9 561.3,486.1 561.3,487.4 561.1,487.6 561.1,488.6 560.8,488.9 560.8,490.1 560.6,490.4 560.6,491.6 560.3,491.9 560.3,493.1 560.1,493.4 560.1,494.6 559.8,494.9 559.8,496.1 559.6,496.4 559.6,497.6 559.3,497.9 559.3,499.4 559.1,499.6 559.1,500.9 558.8,501.1 558.6,507.4 558.3,507.6 558.3,511.1 558.1,511.4 558.1,514.6 557.8,514.9 557.8,517.6 557.6,517.9 557.6,520.6 557.3,520.9 557.1,525.9 556.8,526.1 556.8,528.1 556.6,528.4 556.3,536.4 556.1,536.6 556.1,538.6 555.8,538.9 555.8,540.4 555.6,540.6 555.6,541.9 555.3,542.1 555.3,543.9 555.8,545.1 556.8,546.4 556.8,547.4 556.1,547.9 554.6,548.1 554.3,548.4 551.8,548.6 551.6,548.9 550.1,548.9 549.8,549.1 548.6,549.1 548.3,549.4 546.6,549.6 547.3,549.6 547.6,549.9 558.8,549.9 559.1,550.1 561.1,550.1 561.3,550.4 563.6,550.6 563.8,550.9 564.6,550.9 565.8,551.4 566.8,551.4 567.1,551.6 568.1,551.6 568.3,551.9 571.3,552.1 571.6,552.4 573.3,552.4 573.6,552.6 576.3,552.6 576.6,552.9 584.6,552.9 584.8,552.6 587.6,552.6 587.8,552.4 589.6,552.4 589.8,552.1 592.8,551.9 593.1,551.6 594.1,551.6 594.3,551.4 597.1,550.9 597.3,550.6 599.3,550.1 600.1,549.6 600.6,549.6 606.1,546.6 606.6,546.6 609.1,545.4 612.3,544.4 615.8,542.6 618.3,540.9 621.3,538.1 622.1,536.9 622.1,536.4 622.3,536.1 622.3,533.9 622.6,533.6 622.6,529.4 622.1,528.1 622.1,527.1 621.8,526.9 621.8,526.1 621.6,525.9 621.6,525.1 621.3,524.9 621.3,524.1 621.1,523.9 621.1,523.1 620.8,522.9 620.1,519.1 619.6,518.1 619.3,516.4 618.8,515.4 618.8,514.6 618.3,513.6 618.3,512.9 617.6,510.9 617.3,509.1 616.8,508.1 616.8,507.4 616.6,507.1 616.6,506.4 616.3,506.1 615.6,502.4 613.6,498.1 613.6,497.6 613.1,496.9 612.1,493.6 611.6,492.9 611.6,492.4 609.8,487.6 609.8,486.9 609.1,485.4 609.1,484.9 608.1,482.4 608.1,481.6 607.8,481.4 607.8,480.6 607.3,479.4 607.3,478.4 607.1,478.1 606.8,476.4 606.6,476.1 605.8,473.4 605.3,472.6 605.3,471.9 605.1,471.6 604.8,470.4 604.3,469.6 604.3,469.1 603.3,466.6 603.3,465.4 603.1,465.1 603.1,464.1 602.8,463.9 602.3,460.4 601.8,459.1 601.6,456.6 601.3,456.4 601.1,453.9 600.8,453.6 600.6,451.4 600.1,450.1 599.6,446.6 599.3,446.4 598.6,442.6 598.1,441.6 598.1,440.9 597.8,440.6 597.1,437.9 596.6,437.1 596.6,436.6Z" fill="#6d9fcf"/><path d="M578.3,436.6 576.8,438.9 576.1,440.4 576.1,440.9 575.3,442.1 575.3,442.6 574.8,443.4 574.8,443.9 574.1,445.6 573.6,448.1 573.1,449.1 573.1,449.9 572.8,450.1 572.8,450.9 572.6,451.1 572.6,451.9 572.3,452.1 572.3,452.9 572.1,453.1 572.1,453.9 571.6,455.1 571.1,458.6 570.8,458.9 570.8,459.6 570.3,460.9 570.3,461.9 569.8,463.1 569.8,464.1 569.6,464.4 569.6,465.4 569.3,465.6 569.3,466.9 568.6,468.4 568.6,468.9 566.8,473.6 566.8,474.4 566.1,476.1 566.1,477.1 565.8,477.4 565.8,478.4 565.6,478.6 565.6,479.6 565.3,479.9 565.3,481.1 565.1,481.4 565.1,482.6 564.8,482.9 564.8,483.6 564.1,485.6 564.1,486.6 563.8,486.9 563.8,487.9 563.6,488.1 563.6,489.1 563.3,489.4 563.3,490.4 563.1,490.6 563.1,491.6 562.8,491.9 562.8,493.1 562.6,493.4 562.6,494.4 562.3,494.6 561.8,498.9 561.6,499.1 561.3,501.6 561.1,501.9 561.1,505.1 560.8,505.4 560.6,512.1 560.3,512.4 560.3,515.1 560.1,515.4 559.8,521.1 559.6,521.4 559.6,523.9 559.3,524.1 559.3,526.4 559.1,526.6 559.1,528.9 558.8,529.1 558.6,536.1 558.3,536.4 558.3,538.1 558.1,538.4 557.8,540.9 557.6,541.1 557.6,541.9 557.1,543.1 557.1,545.1 557.8,546.6 557.8,547.1 556.6,548.1 554.8,548.4 553.6,548.9 552.6,548.9 552.3,549.1 551.6,549.1 551.6,549.4 561.6,549.9 561.8,550.1 563.1,550.1 563.3,550.4 565.3,550.6 565.6,550.9 567.6,551.1 567.8,551.4 569.1,551.4 569.3,551.6 570.6,551.6 570.8,551.9 572.3,551.9 572.6,552.1 574.8,552.1 575.1,552.4 586.1,552.4 586.3,552.1 588.6,552.1 588.8,551.9 590.3,551.9 590.6,551.6 593.3,551.4 593.6,551.1 594.6,551.1 594.8,550.9 595.6,550.9 595.8,550.6 596.6,550.6 597.6,550.1 599.1,549.9 612.1,543.4 613.3,542.1 613.8,540.9 613.8,538.6 614.1,538.4 614.1,529.4 613.8,529.1 613.8,527.9 613.6,527.6 613.6,526.4 613.3,526.1 613.3,524.9 613.1,524.6 613.1,523.4 612.8,523.1 612.8,521.9 612.6,521.6 612.6,520.1 612.3,519.9 612.3,518.6 612.1,518.4 612.1,517.1 611.8,516.9 611.8,515.6 611.6,515.4 611.6,513.9 611.3,513.6 611.3,512.4 611.1,512.1 611.1,510.6 610.8,510.4 610.8,508.9 610.6,508.6 610.6,507.1 610.3,506.9 609.8,501.9 609.1,499.9 609.1,499.1 608.8,498.9 608.8,498.1 608.6,497.9 608.6,497.1 608.3,496.9 608.3,496.1 608.1,495.9 608.1,495.1 607.8,494.9 607.8,494.1 607.6,493.9 607.6,493.1 607.3,492.9 607.3,492.1 607.1,491.9 607.1,491.1 606.6,489.9 606.6,488.9 606.3,488.6 606.1,486.9 605.8,486.6 605.6,485.1 604.8,483.4 603.3,475.9 603.1,475.6 601.3,469.9 600.1,467.1 599.6,463.6 599.3,463.4 599.1,461.4 598.8,461.1 598.8,460.4 598.6,460.1 598.6,459.4 598.1,458.1 598.1,457.1 597.8,456.9 597.8,455.9 597.3,454.6 597.3,453.6 596.6,451.6 596.6,450.9 596.3,450.6 596.1,448.9 595.6,447.9 595.6,447.1 595.1,446.1 595.1,445.4 594.3,443.9 594.1,442.6 592.1,438.4 590.8,436.6Z" fill="#7aaad6"/><path d="M586.1,439.9 584.1,439.6 582.1,440.4 579.1,443.6 577.1,447.6 576.8,448.9 576.3,449.6 576.3,450.1 574.6,454.9 573.8,458.6 573.3,459.6 573.3,460.4 572.8,461.4 572.8,462.1 572.6,462.4 572.6,463.1 572.1,464.4 572.1,465.4 571.8,465.6 571.6,467.4 570.3,469.9 569.6,472.6 569.1,473.4 569.1,473.9 568.3,475.6 568.3,476.4 567.8,477.6 567.8,478.6 567.6,478.9 567.6,479.9 567.3,480.1 567.3,481.1 567.1,481.4 567.1,482.6 566.6,483.6 566.6,484.4 566.3,484.6 566.3,485.4 566.1,485.6 566.1,486.4 565.6,487.6 565.6,488.6 565.3,488.9 565.3,489.9 565.1,490.1 565.1,491.1 564.8,491.4 564.8,492.6 564.6,492.9 564.6,493.9 564.3,494.1 564.3,495.1 564.1,495.4 564.1,496.6 563.8,496.9 563.8,497.9 563.6,498.1 563.3,500.9 563.1,501.1 563.1,502.9 562.8,503.1 562.8,506.4 562.6,506.6 562.6,509.9 562.3,510.1 562.3,513.1 562.1,513.4 562.1,516.4 561.8,516.6 561.8,519.4 561.6,519.6 561.6,522.6 561.3,522.9 561.3,525.4 561.1,525.6 561.1,527.9 560.8,528.1 560.8,531.1 560.6,531.4 560.6,534.6 560.3,534.9 560.3,536.9 560.1,537.1 559.8,539.9 559.6,540.1 559.6,540.9 559.3,541.1 559.1,542.6 558.3,544.6 558.6,547.1 557.8,547.9 556.1,548.6 555.3,548.6 554.8,548.9 554.8,549.1 563.1,549.9 563.3,550.1 564.3,550.1 564.6,550.4 566.6,550.6 566.8,550.9 567.8,550.9 568.1,551.1 569.1,551.1 569.3,551.4 570.8,551.4 571.1,551.6 572.6,551.6 572.8,551.9 575.1,551.9 575.3,552.1 585.8,552.1 586.1,551.9 588.3,551.9 588.6,551.6 590.3,551.6 590.6,551.4 591.8,551.4 592.1,551.1 594.3,550.9 594.6,550.6 597.3,550.1 597.6,549.9 599.6,549.4 600.3,548.9 600.8,548.9 608.3,544.6 609.8,542.9 609.8,541.9 610.1,541.6 610.1,529.4 609.8,529.1 609.8,527.1 609.6,526.9 609.6,524.9 609.3,524.6 609.3,522.6 609.1,522.4 609.1,520.1 608.8,519.9 608.8,517.9 608.6,517.6 608.6,515.6 608.3,515.4 608.3,513.4 608.1,513.1 608.1,511.1 607.8,510.9 607.8,508.6 607.6,508.4 607.6,506.1 607.3,505.9 607.1,501.6 606.8,501.4 606.6,499.4 606.1,498.1 606.1,497.1 605.8,496.9 605.8,495.9 605.6,495.6 605.3,493.6 604.8,492.4 604.8,491.4 604.3,490.1 604.3,489.1 604.1,488.9 603.3,485.1 602.3,482.4 602.3,481.4 602.1,481.1 601.8,478.9 601.3,477.6 601.3,476.6 601.1,476.4 600.3,473.6 599.8,472.9 599.1,470.1 597.6,467.1 597.6,466.1 597.3,465.9 597.3,465.1 597.1,464.9 597.1,464.1 596.8,463.9 596.1,460.1 595.6,459.1 595.1,456.4 594.8,456.1 594.6,454.6 594.3,454.4 593.3,450.9 592.8,450.1 592.3,448.1 590.6,444.4 588.8,441.9 587.1,440.4Z" fill="#89b7db"/><path d="M585.6,446.6 583.6,446.6 582.6,447.1 580.6,449.1 579.8,450.6 579.3,451.1 577.1,455.9 577.1,456.4 576.8,456.6 576.8,457.1 576.6,457.4 576.6,457.9 574.6,463.4 574.6,464.1 574.1,465.1 573.6,467.6 573.1,468.1 572.8,469.1 571.8,470.9 571.6,472.1 571.1,472.9 571.1,473.4 570.6,474.1 570.6,474.6 569.8,476.4 569.6,478.4 569.3,478.6 569.1,480.6 568.8,480.9 568.8,481.9 568.6,482.1 568.3,483.9 567.8,484.9 567.8,485.6 567.6,485.9 567.6,486.6 567.1,487.9 567.1,488.9 566.8,489.1 566.8,490.1 566.6,490.4 566.6,491.4 566.3,491.6 566.3,492.6 566.1,492.9 566.1,493.9 565.8,494.1 565.8,495.1 565.6,495.4 565.6,496.6 565.3,496.9 565.3,497.9 565.1,498.1 565.1,499.4 564.8,499.6 564.8,500.9 564.6,501.1 564.6,502.6 564.3,502.9 564.3,506.4 564.1,506.6 563.8,513.4 563.6,513.6 563.6,516.6 563.3,516.9 563.1,523.1 562.8,523.4 562.8,525.9 562.6,526.1 562.6,528.6 562.3,528.9 562.3,532.4 562.1,532.6 562.1,535.1 561.8,535.4 561.6,538.6 561.3,538.9 561.1,540.9 559.6,544.6 559.6,546.9 558.6,547.9 556.8,548.6 556.6,548.9 557.1,548.9 557.3,549.1 562.6,549.6 562.8,549.9 564.1,549.9 564.3,550.1 565.3,550.1 565.6,550.4 567.6,550.6 567.8,550.9 569.1,550.9 569.3,551.1 570.6,551.1 570.8,551.4 572.3,551.4 572.6,551.6 574.6,551.6 574.8,551.9 582.3,552.1 582.6,551.9 588.8,551.6 589.1,551.4 590.6,551.4 590.8,551.1 592.1,551.1 592.3,550.9 593.3,550.9 594.6,550.4 595.6,550.4 595.8,550.1 596.6,550.1 596.8,549.9 599.6,549.1 600.3,548.6 600.8,548.6 603.6,547.1 606.1,545.4 606.8,544.6 607.6,543.1 607.6,528.1 607.3,527.9 607.3,525.1 607.1,524.9 606.8,519.1 606.6,518.9 606.6,516.4 606.3,516.1 606.3,513.6 606.1,513.4 606.1,510.9 605.8,510.6 605.8,507.9 605.6,507.6 605.6,505.1 605.3,504.9 605.3,502.1 605.1,501.9 605.1,500.9 604.8,500.6 604.8,499.6 604.6,499.4 604.1,495.9 603.6,494.6 603.3,492.4 602.8,491.1 602.6,488.9 602.3,488.6 601.8,485.9 601.3,484.9 601.3,484.1 600.8,483.1 600.6,481.1 600.1,479.9 600.1,478.9 599.8,478.6 599.3,475.9 598.1,473.1 597.3,470.6 595.6,467.4 595.1,464.9 594.6,463.9 594.6,463.1 594.3,462.9 592.3,456.4 591.3,454.4 591.3,453.9 588.8,449.4 587.3,447.6Z" fill="#99c3e1"/><path d="M585.8,453.1 584.3,452.9 584.1,453.1 582.8,453.4 580.8,455.4 579.8,456.9 577.6,461.4 577.6,461.9 577.1,462.6 575.8,466.9 573.3,471.4 573.3,471.9 572.6,473.1 572.6,473.6 571.8,474.9 571.8,475.4 571.3,476.4 571.3,477.1 571.1,477.4 571.1,478.1 570.8,478.4 570.8,479.1 570.3,480.4 570.1,482.6 569.3,484.4 569.3,485.1 568.8,486.1 568.6,488.1 568.1,489.4 568.1,490.4 567.8,490.6 567.8,491.6 567.6,491.9 567.6,492.9 567.3,493.1 567.3,494.1 567.1,494.4 567.1,495.4 566.8,495.6 566.8,496.6 566.6,496.9 566.6,498.1 566.3,498.4 566.3,499.4 566.1,499.6 565.8,502.6 565.6,502.9 565.6,506.4 565.3,506.6 565.3,509.9 565.1,510.1 565.1,513.6 564.8,513.9 564.8,516.9 564.6,517.1 564.6,520.4 564.3,520.6 564.3,523.6 564.1,523.9 564.1,526.6 563.8,526.9 563.8,529.4 563.6,529.6 563.6,533.1 563.3,533.4 563.3,535.6 563.1,535.9 562.8,538.9 562.6,539.1 562.6,539.9 562.3,540.1 562.3,540.9 562.1,541.1 561.6,543.1 560.6,545.1 560.3,546.9 559.3,547.9 558.6,548.1 558.1,548.6 558.1,548.9 558.6,548.9 558.8,549.1 561.8,549.4 562.1,549.6 563.6,549.6 563.8,549.9 564.8,549.9 565.1,550.1 566.1,550.1 566.3,550.4 567.3,550.4 567.6,550.6 568.6,550.6 568.8,550.9 570.1,550.9 570.3,551.1 571.6,551.1 571.8,551.4 573.8,551.4 574.1,551.6 576.8,551.6 577.1,551.9 584.3,551.9 584.6,551.6 587.3,551.6 587.6,551.4 589.3,551.4 589.6,551.1 590.8,551.1 591.1,550.9 592.3,550.9 592.6,550.6 594.8,550.4 595.1,550.1 595.8,550.1 596.8,549.6 597.6,549.6 597.8,549.4 599.1,549.1 600.3,548.4 601.3,548.1 601.8,547.6 603.3,546.9 605.3,544.9 605.8,543.9 605.8,527.1 605.6,526.9 605.6,523.6 605.3,523.4 605.3,520.1 605.1,519.9 605.1,517.1 604.8,516.9 604.6,510.6 604.3,510.4 604.3,507.6 604.1,507.4 603.8,501.6 603.6,501.4 603.6,500.4 603.3,500.1 603.3,499.1 603.1,498.9 603.1,497.9 602.8,497.6 602.3,494.1 601.8,492.9 601.6,490.6 601.3,490.4 601.1,488.4 600.8,488.1 600.6,486.4 600.1,485.4 600.1,484.6 599.3,482.9 599.3,482.1 598.8,480.9 598.8,479.9 598.6,479.6 598.6,478.9 598.3,478.6 598.3,477.9 598.1,477.6 598.1,476.9 597.8,476.6 597.8,475.9 597.3,475.1 597.3,474.6 596.6,473.4 596.6,472.9 595.8,471.6 595.8,471.1 594.8,469.1 593.6,467.4 593.6,466.9 593.3,466.6 592.3,463.1 591.8,462.4 591.8,461.9 589.1,456.4 587.8,454.6Z" fill="#aacfe6"/><path d="M585.6,458.9 583.6,458.9 582.6,459.4 580.6,461.4 578.6,464.9 578.6,465.4 577.8,466.6 577.8,467.1 575.3,470.6 572.6,476.6 572.6,477.4 572.3,477.6 572.3,478.4 572.1,478.6 572.1,479.4 571.8,479.6 571.8,480.4 571.3,481.6 571.3,482.6 570.1,485.9 570.1,486.6 569.8,486.9 569.8,487.6 569.3,488.9 569.3,489.9 569.1,490.1 569.1,491.1 568.6,492.4 568.6,493.4 568.3,493.6 568.3,494.6 568.1,494.9 568.1,495.9 567.8,496.1 567.8,497.1 567.6,497.4 567.6,498.6 567.3,498.9 567.3,499.9 567.1,500.1 567.1,501.1 566.8,501.4 566.6,507.6 566.3,507.9 566.3,511.4 566.1,511.6 566.1,514.9 565.8,515.1 565.8,518.4 565.6,518.6 565.6,521.9 565.3,522.1 565.3,525.1 565.1,525.4 564.8,531.4 564.6,531.6 564.6,534.6 564.3,534.9 564.1,538.1 563.8,538.4 563.6,540.4 563.3,540.6 562.8,542.6 562.3,543.4 562.3,543.9 561.6,545.1 561.3,546.4 560.3,547.6 558.8,548.6 560.1,549.1 564.3,549.6 564.6,549.9 565.6,549.9 565.8,550.1 566.8,550.1 567.1,550.4 568.1,550.4 568.3,550.6 569.6,550.6 569.8,550.9 571.1,550.9 571.3,551.1 575.3,551.4 575.6,551.6 585.8,551.6 586.1,551.4 588.1,551.4 588.3,551.1 590.1,551.1 590.3,550.9 591.6,550.9 591.8,550.6 594.1,550.4 594.3,550.1 596.1,549.9 596.3,549.6 599.1,548.9 602.3,547.1 603.8,545.6 604.3,544.6 604.3,543.9 604.6,543.6 604.6,528.4 604.3,528.1 604.1,520.6 603.8,520.4 603.8,517.1 603.6,516.9 603.6,513.6 603.3,513.4 603.3,510.4 603.1,510.1 603.1,506.9 602.8,506.6 602.6,501.4 602.3,501.1 602.3,500.1 602.1,499.9 602.1,498.9 601.8,498.6 601.8,497.6 601.6,497.4 601.6,496.4 601.3,496.1 600.8,492.6 600.6,492.4 600.3,490.4 600.1,490.1 599.3,486.4 598.8,485.4 598.8,484.6 598.1,483.1 597.8,481.1 597.6,480.9 597.6,480.1 597.3,479.9 597.3,479.1 597.1,478.9 597.1,478.1 596.6,477.1 596.3,475.6 593.3,469.6 591.6,467.4 591.1,466.4 591.1,465.9 589.3,462.4 587.3,459.9Z" fill="#b8d8ea"/><path d="M585.1,463.4 584.1,463.4 582.8,463.9 581.1,465.6 580.3,467.1 578.3,468.9 576.8,470.9 574.1,476.1 574.1,476.6 573.6,477.6 573.6,478.4 573.1,479.4 572.3,483.1 571.8,483.9 571.8,484.4 571.1,486.1 571.1,486.9 570.8,487.1 570.8,487.9 570.6,488.1 570.6,488.9 570.1,490.1 570.1,491.1 569.6,492.4 569.6,493.4 569.3,493.6 569.3,494.6 569.1,494.9 569.1,495.9 568.8,496.1 568.8,497.1 568.6,497.4 568.6,498.4 568.3,498.6 568.3,499.6 568.1,499.9 568.1,501.1 567.8,501.4 567.8,503.4 567.6,503.6 567.6,507.1 567.3,507.4 567.3,510.9 567.1,511.1 567.1,514.4 566.8,514.6 566.8,517.9 566.6,518.1 566.6,521.6 566.3,521.9 566.3,525.1 566.1,525.4 565.8,531.4 565.6,531.6 565.6,534.6 565.3,534.9 565.1,538.1 564.8,538.4 564.6,540.4 564.3,540.6 563.8,542.6 563.1,543.9 563.1,544.4 561.8,546.9 559.8,548.4 560.1,548.9 562.1,549.1 562.3,549.4 563.6,549.4 563.8,549.6 565.1,549.6 565.3,549.9 566.3,549.9 566.6,550.1 567.6,550.1 567.8,550.4 568.8,550.4 569.1,550.6 571.8,550.9 572.1,551.1 574.1,551.1 574.3,551.4 577.1,551.4 577.3,551.6 583.8,551.6 584.1,551.4 587.1,551.4 587.3,551.1 589.1,551.1 589.3,550.9 590.6,550.9 590.8,550.6 593.3,550.4 593.6,550.1 594.3,550.1 594.6,549.9 595.3,549.9 595.6,549.6 596.3,549.6 596.6,549.4 598.6,548.9 601.3,547.4 602.8,545.9 603.3,544.6 603.3,526.1 603.1,525.9 603.1,521.9 602.8,521.6 602.8,517.9 602.6,517.6 602.6,514.4 602.3,514.1 602.3,510.9 602.1,510.6 601.8,503.9 601.6,503.6 601.6,501.4 601.3,501.1 601.3,500.1 601.1,499.9 601.1,498.9 600.8,498.6 600.3,495.1 599.8,493.9 599.8,492.9 599.3,491.6 599.3,490.6 599.1,490.4 598.3,486.6 598.1,486.4 597.3,483.6 596.8,482.9 596.6,480.9 596.1,479.9 595.8,478.1 595.6,477.9 595.1,475.9 593.8,473.4 593.3,472.9 592.8,471.6 591.3,469.4 588.8,466.9 588.3,465.9 586.3,463.9Z" fill="#c6e0ec"/><path d="M586.6,467.9 585.8,467.9 585.6,467.6 583.6,467.6 583.3,467.9 582.1,468.1 580.1,469.4 578.8,470.6 576.1,474.6 575.3,476.1 575.3,476.6 574.3,479.1 574.3,479.9 573.8,480.9 573.6,482.6 573.1,483.4 573.1,483.9 571.8,487.1 571.8,487.9 571.6,488.1 571.6,488.9 571.3,489.1 571.3,489.9 571.1,490.1 571.1,490.9 570.6,492.1 570.6,493.1 570.1,494.4 570.1,495.4 569.8,495.6 569.8,496.6 569.6,496.9 569.6,497.9 569.3,498.1 568.8,501.6 568.6,501.9 568.3,508.9 568.1,509.1 568.1,512.6 567.8,512.9 567.8,516.1 567.6,516.4 567.6,519.9 567.3,520.1 567.3,523.4 567.1,523.6 567.1,526.6 566.8,526.9 566.6,533.4 566.3,533.6 566.1,537.6 565.8,537.9 565.8,538.9 565.6,539.1 565.6,539.9 565.3,540.1 565.3,540.9 565.1,541.1 564.8,542.4 563.1,546.1 561.6,547.6 560.8,547.9 560.3,548.4 561.1,548.9 563.1,549.1 563.3,549.4 564.3,549.4 564.6,549.6 565.8,549.6 566.1,549.9 567.1,549.9 567.3,550.1 568.3,550.1 568.6,550.4 569.6,550.4 569.8,550.6 572.8,550.9 573.1,551.1 575.3,551.1 575.6,551.4 585.8,551.4 586.1,551.1 588.1,551.1 588.3,550.9 589.8,550.9 590.1,550.6 591.3,550.6 591.6,550.4 593.8,550.1 594.1,549.9 594.8,549.9 595.8,549.4 596.6,549.4 596.8,549.1 598.1,548.9 601.1,547.1 601.8,546.1 602.3,544.9 602.3,530.6 602.6,530.1 602.3,529.9 602.1,520.9 601.8,520.6 601.8,517.1 601.6,516.9 601.6,513.4 601.3,513.1 601.3,509.9 601.1,509.6 600.8,502.6 600.6,502.4 600.6,501.1 600.3,500.9 600.3,499.9 600.1,499.6 600.1,498.6 599.8,498.4 599.3,494.9 598.8,493.6 598.8,492.6 598.6,492.4 598.6,491.6 598.3,491.4 598.3,490.6 598.1,490.4 597.3,486.6 597.1,486.4 596.8,485.1 596.3,484.4 596.3,483.9 595.8,483.1 595.8,482.4 595.3,481.4 595.1,479.6 594.8,479.4 593.8,475.9 590.6,470.9 588.8,469.1Z" fill="#d2e7ed"/><path d="M586.6,469.9 585.8,469.9 585.6,469.6 583.6,469.6 583.3,469.9 582.1,470.1 580.6,471.1 579.1,472.6 576.6,476.1 576.6,476.6 576.1,477.4 576.1,477.9 575.1,480.4 574.6,482.9 573.8,484.1 573.8,484.6 573.3,485.4 573.3,485.9 572.8,486.9 572.8,487.6 572.3,488.6 572.3,489.4 572.1,489.6 572.1,490.4 571.8,490.6 571.8,491.4 571.3,492.6 571.3,493.6 570.8,494.9 570.8,495.9 570.3,497.1 570.3,498.1 570.1,498.4 570.1,499.4 569.8,499.6 569.8,500.6 569.6,500.9 569.6,502.1 569.3,502.4 569.3,505.9 569.1,506.1 568.8,513.4 568.6,513.6 568.6,516.9 568.3,517.1 568.3,520.6 568.1,520.9 568.1,524.1 567.8,524.4 567.8,527.4 567.6,527.6 567.3,534.1 567.1,534.4 566.8,537.9 566.6,538.1 566.6,539.1 566.3,539.4 566.3,540.1 566.1,540.4 566.1,541.1 565.8,541.4 565.6,542.6 563.8,546.1 562.8,547.1 561.1,548.1 561.1,548.6 561.6,548.6 561.8,548.9 562.6,548.9 563.8,549.4 566.3,549.6 566.6,549.9 567.6,549.9 567.8,550.1 568.8,550.1 569.1,550.4 570.3,550.4 570.6,550.6 571.8,550.6 572.1,550.9 573.8,550.9 574.1,551.1 576.6,551.1 576.8,551.4 584.3,551.4 584.6,551.1 587.1,551.1 587.3,550.9 589.1,550.9 589.3,550.6 592.1,550.4 592.3,550.1 593.1,550.1 593.3,549.9 594.1,549.9 594.3,549.6 596.8,549.1 599.8,547.6 600.8,546.6 601.3,545.6 601.3,543.9 601.6,543.6 601.6,527.4 601.3,527.1 601.3,522.6 601.1,522.4 601.1,518.4 600.8,518.1 600.8,514.6 600.6,514.4 600.6,511.1 600.3,510.9 600.3,507.4 600.1,507.1 599.8,501.4 599.6,501.1 599.6,500.1 599.1,498.9 598.6,495.4 598.3,495.1 598.3,494.4 597.8,493.1 597.8,492.1 597.6,491.9 597.3,490.1 596.8,489.1 596.6,487.4 596.3,487.1 595.8,485.1 595.3,484.4 595.3,483.9 594.8,483.1 594.8,482.6 594.3,481.6 594.3,480.9 594.1,480.6 593.3,477.9 592.8,477.1 592.8,476.6 590.6,473.1 588.3,470.9Z" fill="#dfecea"/><path d="M585.8,471.6 583.3,471.6 582.6,472.1 582.1,472.1 580.3,473.4 578.1,475.9 576.8,478.6 575.6,482.9 574.6,484.6 574.6,485.1 574.1,485.9 574.1,486.4 573.6,487.4 573.6,488.1 573.1,489.1 573.1,489.9 572.8,490.1 572.8,490.9 572.6,491.1 572.6,491.9 572.3,492.1 572.3,492.9 572.1,493.1 572.1,493.9 571.8,494.1 571.8,494.9 571.3,496.1 571.3,497.1 571.1,497.4 571.1,498.4 570.8,498.6 570.6,500.6 570.3,500.9 570.3,502.1 570.1,502.4 570.1,505.9 569.8,506.1 569.8,509.4 569.6,509.6 569.6,513.1 569.3,513.4 569.3,516.9 569.1,517.1 569.1,520.4 568.8,520.6 568.8,524.1 568.6,524.4 568.6,527.4 568.3,527.6 568.1,534.1 567.8,534.4 567.6,537.9 567.3,538.1 567.1,540.4 566.8,540.6 566.3,542.6 564.8,545.6 563.8,546.9 561.6,548.1 561.6,548.4 562.3,548.9 564.3,549.1 564.6,549.4 565.6,549.4 565.8,549.6 567.1,549.6 567.3,549.9 568.3,549.9 568.6,550.1 569.6,550.1 569.8,550.4 570.8,550.4 571.1,550.6 574.8,550.9 575.1,551.1 578.8,551.1 579.1,551.4 586.1,551.1 586.3,550.9 590.1,550.6 590.3,550.4 592.6,550.1 592.8,549.9 594.6,549.6 595.6,549.1 596.3,549.1 599.3,547.6 599.8,547.1 600.6,545.4 600.6,539.9 600.8,539.6 600.8,527.9 600.6,527.6 600.6,523.1 600.3,522.9 600.3,518.9 600.1,518.6 600.1,514.9 599.8,514.6 599.8,511.4 599.6,511.1 599.6,507.6 599.3,507.4 599.1,501.6 598.8,501.4 598.3,497.9 598.1,497.6 597.8,495.6 597.6,495.4 597.6,494.6 597.3,494.4 597.3,493.6 597.1,493.4 596.3,489.6 595.8,488.6 595.8,487.9 595.6,487.6 595.3,486.4 594.8,485.6 594.8,485.1 594.3,484.4 594.3,483.9 593.6,482.6 593.6,482.1 593.3,481.9 592.6,479.1 592.1,478.4 592.1,477.9 590.6,475.1 588.6,473.1 587.1,472.1Z" fill="#ebf1e7"/><path d="M586.3,473.6 583.8,473.4 583.6,473.6 582.3,473.9 581.1,474.6 579.3,476.4 577.6,479.9 576.8,482.4 575.3,485.1 575.3,485.6 574.8,486.4 574.8,486.9 573.8,489.4 573.8,490.1 573.1,492.1 573.1,492.9 572.8,493.1 572.8,493.9 572.6,494.1 572.6,494.9 572.1,496.1 572.1,497.1 571.6,498.4 571.1,501.9 570.8,502.1 570.6,508.6 570.3,508.9 570.3,512.4 570.1,512.6 570.1,516.1 569.8,516.4 569.8,519.6 569.6,519.9 569.6,523.4 569.3,523.6 569.3,526.9 569.1,527.1 569.1,529.9 568.8,530.1 568.8,533.6 568.6,533.9 568.6,536.1 568.3,536.4 568.1,539.1 567.8,539.4 567.3,541.9 565.6,545.6 564.1,547.1 562.8,547.6 562.1,548.4 563.1,548.9 565.1,549.1 565.3,549.4 566.3,549.4 566.6,549.6 567.6,549.6 567.8,549.9 568.8,549.9 569.1,550.1 570.1,550.1 570.3,550.4 573.3,550.6 573.6,550.9 575.8,550.9 576.1,551.1 585.1,551.1 585.3,550.9 587.6,550.9 587.8,550.6 590.8,550.4 591.1,550.1 592.1,550.1 592.3,549.9 594.1,549.6 595.1,549.1 595.8,549.1 598.3,547.9 599.3,546.9 599.8,545.6 599.8,540.1 600.1,539.9 600.1,527.4 599.8,527.1 599.8,522.6 599.6,522.4 599.6,518.4 599.3,518.1 599.3,514.4 599.1,514.1 599.1,510.9 598.8,510.6 598.8,507.1 598.6,506.9 598.3,501.4 597.8,500.1 597.6,497.9 597.3,497.6 597.3,496.9 597.1,496.6 597.1,495.9 596.8,495.6 596.8,494.9 596.6,494.6 595.8,490.9 595.3,489.9 595.3,489.1 595.1,488.9 594.3,486.1 593.3,484.4 593.3,483.9 592.6,482.9 591.6,479.6 590.1,476.6 589.3,475.6 587.8,474.4Z" fill="#f2efd4"/><path d="M585.6,475.1 583.6,475.1 583.3,475.4 582.8,475.4 581.8,475.9 580.3,477.4 577.8,482.1 577.6,483.1 577.1,483.6 575.8,486.1 575.8,486.6 575.3,487.4 575.3,487.9 574.6,489.6 574.6,490.4 573.6,493.1 573.6,493.9 573.3,494.1 573.3,494.9 573.1,495.1 573.1,495.9 572.6,497.1 572.6,498.1 572.3,498.4 572.3,499.1 571.8,500.4 571.8,501.4 571.6,501.6 571.3,507.6 571.1,507.9 571.1,511.1 570.8,511.4 570.8,514.6 570.6,514.9 570.6,518.4 570.3,518.6 570.3,522.1 570.1,522.4 570.1,525.6 569.8,525.9 569.8,528.6 569.6,528.9 569.6,532.4 569.3,532.6 569.3,535.4 569.1,535.6 568.8,538.6 568.6,538.9 568.6,539.9 568.1,540.9 567.8,542.4 566.1,545.9 565.1,546.9 564.3,547.4 563.3,547.6 562.6,548.4 563.6,548.9 565.6,549.1 565.8,549.4 566.8,549.4 567.1,549.6 568.1,549.6 568.3,549.9 569.3,549.9 569.6,550.1 572.3,550.4 572.6,550.6 574.3,550.6 574.6,550.9 577.3,550.9 577.6,551.1 583.6,551.1 583.8,550.9 586.8,550.9 587.1,550.6 588.6,550.6 588.8,550.4 591.6,550.1 591.8,549.9 593.6,549.6 593.8,549.4 596.6,548.6 598.6,547.1 599.1,545.9 599.1,542.4 599.3,542.1 599.3,525.9 599.1,525.6 599.1,521.1 598.8,520.9 598.8,517.1 598.6,516.9 598.6,513.4 598.3,513.1 598.3,509.9 598.1,509.6 598.1,506.1 597.8,505.9 597.8,502.9 597.6,502.6 597.6,501.1 597.1,499.9 597.1,498.9 596.8,498.6 596.8,497.9 596.6,497.6 596.3,495.6 595.8,494.6 595.6,492.9 595.3,492.6 595.1,491.1 594.6,490.1 594.6,489.4 594.3,489.1 594.1,487.9 593.6,487.1 593.6,486.6 593.1,485.9 593.1,485.4 592.3,484.4 591.1,481.9 591.1,481.4 589.1,477.6 587.8,476.1Z" fill="#f9ecc2"/><path d="M585.8,477.1 585.1,477.1 584.8,476.9 583.3,477.1 581.8,478.1 580.6,479.6 579.8,481.1 579.3,481.6 579.1,482.6 577.6,484.6 576.3,487.1 576.3,487.6 575.8,488.4 575.8,488.9 575.1,490.6 575.1,491.4 574.3,493.1 574.3,493.9 573.8,494.9 573.8,495.6 573.6,495.9 573.6,496.6 573.1,497.9 573.1,498.9 572.8,499.1 572.8,499.9 572.3,501.1 572.3,502.6 572.1,502.9 571.8,509.4 571.6,509.6 571.6,512.9 571.3,513.1 571.3,516.6 571.1,516.9 571.1,520.1 570.8,520.4 570.8,523.9 570.6,524.1 570.6,527.1 570.3,527.4 570.1,534.1 569.8,534.4 569.6,538.1 569.3,538.4 569.1,540.4 568.8,540.6 568.1,543.4 567.3,544.9 565.3,547.1 564.3,547.6 563.8,547.6 563.1,548.4 564.3,548.9 565.1,548.9 566.3,549.4 567.3,549.4 567.6,549.6 568.6,549.6 568.8,549.9 569.8,549.9 570.1,550.1 573.1,550.4 573.3,550.6 575.1,550.6 575.3,550.9 580.1,550.9 580.3,551.1 581.1,551.1 581.3,550.9 585.8,550.9 586.1,550.6 588.1,550.6 588.3,550.4 589.6,550.4 589.8,550.1 592.1,549.9 592.3,549.6 593.1,549.6 593.3,549.4 595.3,548.9 597.6,547.6 598.3,546.1 598.3,544.4 598.6,544.1 598.8,528.9 598.6,528.6 598.3,519.4 598.1,519.1 598.1,515.4 597.8,515.1 597.8,511.9 597.6,511.6 597.6,508.4 597.3,508.1 597.1,501.9 596.6,500.6 596.6,499.6 596.3,499.4 596.3,498.6 596.1,498.4 595.3,494.6 594.8,493.6 594.8,492.9 594.6,492.6 594.6,492.1 594.1,491.1 594.1,490.4 593.8,490.1 593.6,488.9 593.1,488.1 592.8,486.9 591.8,484.9 590.3,482.9 588.8,479.9 587.1,477.9Z" fill="#fce5b0"/><path d="M585.6,479.4 583.6,479.4 582.3,480.1 578.8,484.4 577.3,486.9 577.3,487.4 576.3,489.4 576.3,489.9 574.8,493.9 574.8,494.6 574.3,495.6 574.3,496.4 574.1,496.6 574.1,497.4 573.8,497.6 573.8,498.4 573.6,498.6 573.6,499.4 573.1,500.6 573.1,501.6 572.8,501.9 572.6,507.6 572.3,507.9 572.3,511.1 572.1,511.4 572.1,514.4 571.8,514.6 571.8,517.9 571.6,518.1 571.6,521.6 571.3,521.9 571.3,525.1 571.1,525.4 571.1,528.4 570.8,528.6 570.8,532.1 570.6,532.4 570.6,535.1 570.3,535.4 570.1,538.6 569.8,538.9 569.8,539.9 569.3,540.9 569.1,542.4 567.8,545.1 566.3,546.9 564.8,547.6 564.3,547.6 563.8,548.1 564.1,548.6 564.6,548.6 564.8,548.9 565.6,548.9 566.8,549.4 567.8,549.4 568.1,549.6 570.6,549.9 570.8,550.1 571.8,550.1 572.1,550.4 573.6,550.4 573.8,550.6 576.1,550.6 576.3,550.9 584.8,550.9 585.1,550.6 587.3,550.6 587.6,550.4 589.1,550.4 589.3,550.1 590.3,550.1 590.6,549.9 592.6,549.6 596.3,548.1 597.6,546.6 597.6,545.6 597.8,545.4 597.8,540.9 598.1,540.6 598.1,525.9 597.8,525.6 597.8,521.1 597.6,520.9 597.6,517.1 597.3,516.9 597.3,513.6 597.1,513.4 597.1,510.1 596.8,509.9 596.8,506.6 596.6,506.4 596.3,501.4 596.1,501.1 596.1,500.4 595.8,500.1 595.8,499.4 595.6,499.1 594.8,495.4 594.3,494.4 594.3,493.6 594.1,493.4 593.1,489.9 592.6,489.1 592.3,487.9 591.1,485.4 588.1,481.4 586.6,479.9Z" fill="#fcdd9f"/><path d="M585.3,481.6 583.8,481.6 582.8,482.1 579.3,485.4 577.8,487.9 577.8,488.4 577.1,489.6 576.8,490.9 576.3,491.6 576.3,492.1 575.3,494.6 575.3,495.4 574.8,496.4 574.3,499.1 573.6,501.1 573.6,502.4 573.3,502.6 573.3,505.6 573.1,505.9 573.1,508.9 572.8,509.1 572.8,512.4 572.6,512.6 572.6,515.6 572.3,515.9 572.3,519.1 572.1,519.4 572.1,522.9 571.8,523.1 571.8,526.1 571.6,526.4 571.6,529.1 571.3,529.4 571.3,533.1 571.1,533.4 571.1,535.9 570.8,536.1 570.6,539.1 570.3,539.4 570.3,540.1 570.1,540.4 570.1,541.1 569.8,541.4 569.6,542.6 568.1,545.6 566.8,546.9 565.3,547.6 564.8,547.6 564.3,548.1 564.6,548.6 565.1,548.6 565.3,548.9 567.3,549.1 567.6,549.4 568.6,549.4 568.8,549.6 569.8,549.6 570.1,549.9 571.1,549.9 571.3,550.1 572.6,550.1 572.8,550.4 574.3,550.4 574.6,550.6 577.3,550.6 577.6,550.9 583.6,550.9 583.8,550.6 586.6,550.6 586.8,550.4 588.3,550.4 588.6,550.1 591.1,549.9 591.3,549.6 592.1,549.6 592.3,549.4 594.3,548.9 595.8,548.1 596.6,547.4 597.1,546.1 597.1,544.1 597.3,543.9 597.3,537.6 597.6,537.4 597.6,527.6 597.3,527.4 597.3,522.9 597.1,522.6 597.1,518.6 596.8,518.4 596.8,514.9 596.6,514.6 596.6,511.4 596.3,511.1 596.3,508.1 596.1,507.9 595.8,501.9 595.6,501.6 594.8,497.9 594.3,496.9 594.3,496.1 593.8,495.1 593.8,494.4 593.6,494.1 593.1,492.1 592.6,491.4 592.3,490.1 590.6,486.4 588.3,483.6Z" fill="#fdd48e"/><path d="M585.8,483.6 583.6,483.6 583.3,483.9 582.8,483.9 581.8,484.4 579.6,486.6 577.3,491.1 577.1,492.4 576.6,493.1 576.6,493.6 575.6,496.1 575.6,496.9 575.1,497.9 574.8,499.6 574.1,501.6 574.1,503.6 573.8,503.9 573.8,506.9 573.6,507.1 573.6,510.1 573.3,510.4 573.3,513.4 573.1,513.6 573.1,516.6 572.8,516.9 572.8,519.9 572.6,520.1 572.6,523.6 572.3,523.9 572.3,526.9 572.1,527.1 572.1,529.9 571.8,530.1 571.8,533.9 571.6,534.1 571.6,536.4 571.3,536.6 571.1,539.4 570.8,539.6 570.8,540.4 570.6,540.6 570.6,541.4 570.3,541.6 570.1,542.9 568.3,546.1 567.3,546.9 564.6,548.1 565.1,548.6 565.6,548.6 565.8,548.9 566.8,548.9 567.1,549.1 569.1,549.4 569.3,549.6 570.3,549.6 570.6,549.9 571.6,549.9 571.8,550.1 575.3,550.4 575.6,550.6 579.6,550.6 579.8,550.9 581.3,550.9 581.6,550.6 585.6,550.6 585.8,550.4 587.8,550.4 588.1,550.1 590.6,549.9 590.8,549.6 591.6,549.6 591.8,549.4 593.8,548.9 595.3,548.1 596.3,546.6 596.3,545.9 596.6,545.6 596.6,542.4 596.8,542.1 597.1,529.1 596.8,528.9 596.6,519.6 596.3,519.4 596.3,516.1 596.1,515.9 596.1,512.6 595.8,512.4 595.8,509.1 595.6,508.9 595.6,506.1 595.3,505.9 595.3,502.9 595.1,502.6 595.1,501.4 594.8,501.1 594.6,499.4 594.1,498.4 594.1,497.6 593.6,496.6 593.6,495.9 593.3,495.6 592.6,492.9 591.6,490.9 591.6,490.4 589.1,485.9 587.3,484.4Z" fill="#fdc982"/><path d="M586.1,485.1 585.3,485.1 585.1,484.9 583.1,485.1 581.8,485.9 580.3,487.4 578.3,490.9 578.3,491.4 577.1,493.9 577.1,494.4 575.6,498.4 575.6,499.1 575.3,499.4 574.8,501.9 574.6,502.1 574.3,507.9 574.1,508.1 574.1,510.9 573.8,511.1 573.8,514.1 573.6,514.4 573.6,517.4 573.3,517.6 573.3,520.6 573.1,520.9 573.1,524.4 572.8,524.6 572.6,530.6 572.3,530.9 572.3,534.4 572.1,534.6 571.8,538.4 571.6,538.6 571.6,539.6 570.8,541.6 570.8,542.4 569.6,545.1 568.3,546.6 566.3,547.6 565.3,547.9 565.1,548.1 565.6,548.6 566.3,548.6 566.6,548.9 567.3,548.9 568.6,549.4 569.6,549.4 569.8,549.6 570.8,549.6 571.1,549.9 573.8,550.1 574.1,550.4 576.3,550.4 576.6,550.6 584.8,550.6 585.1,550.4 587.1,550.4 587.3,550.1 588.6,550.1 588.8,549.9 591.1,549.6 591.3,549.4 593.3,548.9 595.1,547.9 595.8,546.4 595.8,545.1 596.1,544.9 596.1,540.9 596.3,540.6 596.3,525.1 596.1,524.9 596.1,520.6 595.8,520.4 595.8,516.9 595.6,516.6 595.6,513.6 595.3,513.4 595.3,510.1 595.1,509.9 595.1,507.1 594.8,506.9 594.6,501.9 594.3,501.6 594.1,499.9 593.6,498.9 593.6,498.1 593.3,497.9 592.1,493.6 589.6,488.4 588.1,486.4Z" fill="#fcbf76"/><path d="M585.6,486.4 583.6,486.4 582.6,486.9 580.3,489.1 578.1,493.4 578.1,493.9 577.6,494.6 577.6,495.1 577.1,495.9 577.1,496.4 576.1,498.9 576.1,499.6 575.3,501.6 575.3,502.9 575.1,503.1 574.8,508.6 574.6,508.9 574.6,511.6 574.3,511.9 574.3,514.9 574.1,515.1 574.1,517.9 573.8,518.1 573.8,521.4 573.6,521.6 573.6,524.6 573.3,524.9 573.3,527.9 573.1,528.1 572.8,534.6 572.6,534.9 572.6,536.9 572.3,537.1 572.3,538.4 572.1,538.6 571.8,540.9 571.6,541.1 571.1,543.1 569.8,545.6 568.8,546.6 565.8,547.9 565.6,548.1 566.1,548.6 566.8,548.6 567.1,548.9 567.8,548.9 569.1,549.4 570.1,549.4 570.3,549.6 571.3,549.6 571.6,549.9 574.6,550.1 574.8,550.4 577.3,550.4 577.6,550.6 583.6,550.6 583.8,550.4 588.1,550.1 588.3,549.9 590.6,549.6 590.8,549.4 592.8,548.9 593.8,548.4 594.8,547.4 595.3,546.1 595.3,544.1 595.6,543.9 595.6,539.9 595.8,539.6 595.8,525.9 595.6,525.6 595.6,521.4 595.3,521.1 595.3,517.6 595.1,517.4 595.1,514.4 594.8,514.1 594.8,511.1 594.6,510.9 594.6,508.1 594.3,507.9 594.1,502.4 593.8,502.1 593.6,500.4 592.8,498.6 592.8,497.9 592.6,497.6 592.3,496.4 591.8,495.6 591.6,494.4 590.8,493.1 590.8,492.6 590.1,491.1 588.1,488.1 587.3,487.4Z" fill="#fbb36b"/><path d="M585.1,487.9 584.3,487.9 584.1,488.1 582.8,488.4 581.8,489.1 580.6,490.6 578.3,494.6 578.3,495.1 577.8,495.9 577.6,497.1 577.1,497.9 577.1,498.4 576.3,500.1 576.3,500.9 575.8,501.9 575.8,503.9 575.6,504.1 575.6,506.6 575.3,506.9 575.3,509.4 575.1,509.6 575.1,512.4 574.8,512.6 574.8,515.4 574.6,515.6 574.6,518.4 574.3,518.6 574.1,525.1 573.8,525.4 573.8,528.1 573.6,528.4 573.3,534.9 573.1,535.1 572.8,538.6 572.6,538.9 572.6,539.9 572.3,540.1 572.1,541.9 570.6,545.4 569.3,546.6 567.8,547.4 567.3,547.4 566.1,548.1 567.6,548.9 569.6,549.1 569.8,549.4 571.8,549.6 572.1,549.9 573.3,549.9 573.6,550.1 575.3,550.1 575.6,550.4 579.3,550.4 579.6,550.6 585.6,550.4 585.8,550.1 588.8,549.9 589.1,549.6 589.8,549.6 590.1,549.4 590.8,549.4 591.1,549.1 592.3,548.9 593.3,548.4 594.6,546.9 594.6,545.9 594.8,545.6 594.8,543.4 595.1,543.1 595.1,539.1 595.3,538.9 595.3,526.4 595.1,526.1 594.8,518.1 594.6,517.9 594.6,514.9 594.3,514.6 594.3,511.9 594.1,511.6 594.1,508.9 593.8,508.6 593.8,506.1 593.6,505.9 593.3,501.6 593.1,501.4 591.6,496.4 589.3,491.6 587.1,488.9Z" fill="#f9a562"/><path d="M585.3,489.6 583.8,489.6 582.3,490.4 580.6,492.4 578.8,495.4 578.8,495.9 578.1,497.1 577.8,498.4 577.3,499.1 577.3,499.6 576.6,501.4 576.6,502.1 576.3,502.4 576.3,504.9 576.1,505.1 576.1,507.4 575.8,507.6 575.8,510.1 575.6,510.4 575.3,515.9 575.1,516.1 575.1,518.9 574.8,519.1 574.8,522.1 574.6,522.4 574.6,525.4 574.3,525.6 574.1,531.9 573.8,532.1 573.8,535.1 573.6,535.4 573.3,538.9 573.1,539.1 573.1,540.1 572.8,540.4 572.8,541.1 572.6,541.4 572.1,543.4 571.1,545.4 569.8,546.6 568.3,547.4 567.8,547.4 566.6,548.1 568.1,548.9 570.1,549.1 571.3,549.6 574.1,549.9 574.3,550.1 576.3,550.1 576.6,550.4 584.6,550.4 584.8,550.1 588.3,549.9 588.6,549.6 589.3,549.6 589.6,549.4 590.3,549.4 590.6,549.1 591.8,548.9 592.8,548.4 593.6,547.6 594.1,546.6 594.3,542.9 594.6,542.6 594.6,538.4 594.8,538.1 594.8,526.9 594.6,526.6 594.3,518.6 594.1,518.4 594.1,515.6 593.8,515.4 593.8,512.6 593.6,512.4 593.6,509.9 593.3,509.6 593.3,506.9 593.1,506.6 592.8,502.1 592.6,501.9 592.6,501.1 592.3,500.9 592.1,499.6 591.6,498.9 591.3,497.6 589.3,493.4 588.1,491.6 586.8,490.4Z" fill="#f79759"/><path d="M585.6,491.4 584.8,491.4 584.6,491.1 584.3,491.4 583.6,491.4 582.6,491.9 580.8,493.6 579.8,495.6 579.3,496.1 579.3,496.6 578.3,498.4 578.3,498.9 577.8,499.6 577.8,500.1 577.1,501.9 576.8,505.9 576.6,506.1 576.6,508.4 576.3,508.6 576.3,510.9 576.1,511.1 576.1,513.6 575.8,513.9 575.8,516.4 575.6,516.6 575.3,522.6 575.1,522.9 575.1,525.6 574.8,525.9 574.8,528.4 574.6,528.6 574.3,535.4 574.1,535.6 573.8,538.9 573.6,539.1 573.6,540.1 573.3,540.4 573.3,541.1 573.1,541.4 572.6,543.4 571.3,545.9 570.8,546.4 568.8,547.4 568.3,547.4 567.1,548.1 568.6,548.9 569.6,548.9 569.8,549.1 571.8,549.4 572.1,549.6 573.1,549.6 573.3,549.9 574.8,549.9 575.1,550.1 577.3,550.1 577.6,550.4 583.6,550.4 583.8,550.1 587.6,549.9 587.8,549.6 588.8,549.6 589.1,549.4 589.8,549.4 590.1,549.1 591.3,548.9 593.1,547.6 593.6,546.4 593.6,545.1 593.8,544.9 593.8,542.4 594.1,542.1 594.1,537.9 594.3,537.6 594.3,527.1 594.1,526.9 593.8,519.1 593.6,518.9 593.6,516.1 593.3,515.9 593.3,513.4 593.1,513.1 593.1,510.6 592.8,510.4 592.8,507.9 592.6,507.6 592.3,502.9 592.1,502.6 592.1,501.6 591.8,501.4 591.6,500.1 589.3,495.1 588.3,493.6 586.6,491.9Z" fill="#f38651"/><path d="M585.6,492.9 583.8,492.9 583.6,493.1 583.1,493.1 581.6,494.4 580.3,496.1 578.6,499.6 578.6,500.1 578.1,500.9 578.1,501.4 577.6,502.4 577.3,506.9 577.1,507.1 576.8,511.6 576.6,511.9 576.6,514.4 576.3,514.6 576.3,516.9 576.1,517.1 576.1,519.6 575.8,519.9 575.8,522.9 575.6,523.1 575.6,525.9 575.3,526.1 575.3,528.6 575.1,528.9 575.1,532.4 574.8,532.6 574.8,535.4 574.6,535.6 574.3,538.9 574.1,539.1 574.1,540.1 573.8,540.4 573.6,542.1 572.1,545.6 571.3,546.4 567.8,547.9 567.6,548.1 568.3,548.6 569.1,548.6 569.3,548.9 570.1,548.9 571.3,549.4 572.3,549.4 572.6,549.6 575.6,549.9 575.8,550.1 579.3,550.1 579.6,550.4 585.1,550.1 585.3,549.9 588.3,549.6 588.6,549.4 589.3,549.4 589.6,549.1 590.8,548.9 592.3,547.9 593.1,546.1 593.3,541.9 593.6,541.6 593.6,537.4 593.8,537.1 593.8,527.6 593.6,527.4 593.3,519.6 593.1,519.4 593.1,516.9 592.8,516.6 592.8,514.1 592.6,513.9 592.6,511.4 592.3,511.1 592.3,508.9 592.1,508.6 592.1,506.4 591.8,506.1 591.6,502.1 589.1,496.4 588.1,494.9 586.8,493.6Z" fill="#ed734a"/><path d="M585.3,494.4 583.8,494.4 582.8,494.9 581.1,496.6 580.1,498.6 579.6,499.1 578.3,502.1 578.1,505.6 577.8,505.9 577.8,507.9 577.6,508.1 577.6,510.1 577.3,510.4 577.3,512.6 577.1,512.9 577.1,514.9 576.8,515.1 576.6,520.1 576.3,520.4 576.1,526.1 575.8,526.4 575.8,528.9 575.6,529.1 575.6,532.4 575.3,532.6 575.3,535.6 575.1,535.9 575.1,537.6 574.8,537.9 574.6,540.4 574.3,540.6 574.3,541.4 574.1,541.6 573.6,543.6 572.6,545.6 571.6,546.6 569.8,547.1 569.1,547.6 568.6,547.6 568.1,548.1 568.8,548.6 569.6,548.6 569.8,548.9 570.6,548.9 571.8,549.4 572.8,549.4 573.1,549.6 576.6,549.9 576.8,550.1 584.3,550.1 584.6,549.9 586.3,549.9 586.6,549.6 587.6,549.6 587.8,549.4 589.6,549.1 591.1,548.4 592.3,546.9 592.6,544.1 592.8,543.9 592.8,541.6 593.1,541.4 593.1,536.9 593.3,536.6 593.3,527.9 593.1,527.6 592.8,520.4 592.6,520.1 592.6,517.4 592.3,517.1 592.3,514.9 592.1,514.6 592.1,512.4 591.8,512.1 591.8,509.9 591.6,509.6 591.6,507.6 591.3,507.4 591.1,503.4 590.8,503.1 590.8,501.9 590.6,501.6 590.6,501.1 588.3,496.9 587.3,495.9 587.3,495.6Z" fill="#e65f43"/><path d="M585.1,495.9 584.1,495.9 582.6,496.6 580.8,498.6 579.1,501.9 578.8,504.9 578.6,505.1 578.6,506.9 578.3,507.1 578.3,509.1 578.1,509.4 578.1,511.1 577.8,511.4 577.8,513.4 577.6,513.6 577.3,518.1 577.1,518.4 577.1,520.9 576.8,521.1 576.6,526.4 576.3,526.6 576.3,528.9 576.1,529.1 576.1,532.9 575.8,533.1 575.8,535.6 575.6,535.9 575.6,537.6 575.3,537.9 575.1,540.4 574.8,540.6 574.3,543.1 573.8,543.9 573.8,544.4 573.3,545.4 572.1,546.6 568.6,547.9 568.6,548.1 569.3,548.6 570.1,548.6 571.3,549.1 572.3,549.1 572.6,549.4 573.6,549.4 573.8,549.6 575.1,549.6 575.3,549.9 577.8,549.9 578.1,550.1 583.3,550.1 583.6,549.9 585.6,549.9 585.8,549.6 586.8,549.6 587.1,549.4 588.1,549.4 588.3,549.1 589.6,548.9 590.6,548.4 591.3,547.6 591.8,546.6 592.1,543.9 592.3,543.6 592.3,541.1 592.6,540.9 592.8,528.4 592.6,528.1 592.3,521.1 592.1,520.9 592.1,518.1 591.8,517.9 591.8,515.6 591.6,515.4 591.6,513.1 591.3,512.9 591.3,510.9 591.1,510.6 591.1,508.9 590.8,508.6 590.8,506.6 590.6,506.4 590.6,504.9 590.3,504.6 590.3,502.9 590.1,502.6 590.1,501.9 588.8,499.4 587.8,497.9 586.3,496.4Z" fill="#e0503c"/><path d="M584.8,497.4 583.1,497.9 581.1,499.9 579.8,502.1 579.6,504.9 579.3,505.1 579.3,506.6 579.1,506.9 579.1,508.4 578.8,508.6 578.8,510.4 578.6,510.6 578.6,512.4 578.3,512.6 578.3,514.4 578.1,514.6 577.8,518.9 577.6,519.1 577.6,521.6 577.3,521.9 577.3,524.1 577.1,524.4 577.1,526.9 576.8,527.1 576.8,529.1 576.6,529.4 576.3,535.9 576.1,536.1 576.1,537.9 575.8,538.1 575.6,540.6 575.3,540.9 575.3,541.6 575.1,541.9 574.6,543.9 573.6,545.9 572.1,546.9 571.6,546.9 569.1,547.9 569.3,548.4 569.8,548.4 570.1,548.6 570.8,548.6 571.1,548.9 571.8,548.9 573.1,549.4 574.1,549.4 574.3,549.6 576.1,549.6 576.3,549.9 584.6,549.9 584.8,549.6 586.1,549.6 586.3,549.4 587.3,549.4 587.6,549.1 589.1,548.9 590.3,548.1 591.1,547.1 591.3,545.1 591.6,544.9 591.6,543.4 591.8,543.1 591.8,540.6 592.1,540.4 592.3,528.9 592.1,528.6 592.1,525.1 591.8,524.9 591.6,518.9 591.3,518.6 591.3,516.6 591.1,516.4 591.1,514.4 590.8,514.1 590.8,512.1 590.6,511.9 590.3,508.1 590.1,507.9 589.6,502.9 588.8,500.9 586.6,498.1Z" fill="#db4436"/><path d="M585.6,499.1 583.6,499.1 583.1,499.4 581.1,501.4 580.6,502.6 580.3,505.1 580.1,505.4 580.1,506.6 579.8,506.9 579.8,508.1 579.6,508.4 579.6,509.9 579.3,510.1 579.3,511.6 579.1,511.9 579.1,513.6 578.8,513.9 578.6,517.6 578.3,517.9 578.1,522.4 577.8,522.6 577.8,524.9 577.6,525.1 577.6,527.4 577.3,527.6 577.3,529.6 577.1,529.9 576.8,536.4 576.6,536.6 576.6,538.1 576.3,538.4 576.1,540.9 575.8,541.1 575.8,541.9 575.6,542.1 575.3,543.4 574.8,544.1 574.8,544.6 574.3,545.6 573.6,546.4 572.6,546.9 572.1,546.9 569.6,547.9 569.8,548.4 570.3,548.4 570.6,548.6 571.3,548.6 571.6,548.9 572.3,548.9 573.6,549.4 574.8,549.4 575.1,549.6 577.1,549.6 577.3,549.9 583.8,549.9 584.1,549.6 585.3,549.6 585.6,549.4 586.6,549.4 586.8,549.1 588.3,548.9 589.3,548.4 590.6,546.9 590.8,544.6 591.1,544.4 591.1,542.6 591.3,542.4 591.3,539.9 591.6,539.6 591.6,533.4 591.8,533.1 591.8,529.6 591.6,529.4 591.6,525.9 591.3,525.6 591.1,519.9 590.8,519.6 590.8,517.6 590.6,517.4 590.3,513.4 590.1,513.1 590.1,511.6 589.8,511.4 589.8,509.9 589.6,509.6 589.6,508.1 589.3,507.9 589.3,506.4 589.1,506.1 589.1,504.9 588.8,504.6 588.8,503.6 588.6,503.4 588.6,502.1 587.6,500.6Z" fill="#d5392f"/><path d="M584.8,500.4 583.1,500.9 581.8,502.1 581.3,504.6 581.1,504.9 581.1,505.9 580.8,506.1 580.8,507.1 580.6,507.4 580.6,508.6 580.3,508.9 580.3,510.1 580.1,510.4 580.1,511.6 579.8,511.9 579.6,514.9 579.3,515.1 579.1,518.6 578.8,518.9 578.6,523.4 578.3,523.6 578.3,525.6 578.1,525.9 578.1,527.9 577.8,528.1 577.8,530.4 577.6,530.6 577.3,536.9 577.1,537.1 577.1,538.6 576.8,538.9 576.8,539.9 576.6,540.1 576.3,542.1 575.1,545.4 573.8,546.6 572.6,547.1 571.8,547.1 570.1,547.9 570.3,548.4 570.8,548.4 571.1,548.6 571.8,548.6 573.1,549.1 574.1,549.1 574.3,549.4 578.6,549.6 578.8,549.9 582.3,549.9 582.6,549.6 584.6,549.6 584.8,549.4 585.8,549.4 586.1,549.1 586.8,549.1 587.1,548.9 588.3,548.6 589.6,547.6 590.1,546.4 590.3,544.1 590.6,543.9 590.6,542.1 590.8,541.9 590.8,538.9 591.1,538.6 591.1,526.9 590.8,526.6 590.8,523.9 590.6,523.6 590.3,518.9 590.1,518.6 590.1,516.9 589.8,516.6 589.8,514.9 589.6,514.6 589.6,513.1 589.3,512.9 589.3,511.6 589.1,511.4 589.1,509.9 588.8,509.6 588.6,507.1 588.3,506.9 588.3,505.9 588.1,505.6 588.1,504.6 587.8,504.4 587.6,502.6 587.3,502.4 587.3,501.9 586.8,501.4Z" fill="#d1332c"/><path d="M585.1,501.9 584.1,501.9 583.6,502.1 582.6,504.1 582.6,504.6 582.1,505.6 582.1,506.4 581.8,506.6 581.8,507.4 581.6,507.6 581.6,508.4 581.3,508.6 581.3,509.6 581.1,509.9 581.1,510.9 580.8,511.1 580.8,512.1 580.6,512.4 580.6,513.4 580.3,513.6 580.3,514.9 580.1,515.1 579.6,520.1 579.3,520.4 579.3,522.4 579.1,522.6 578.8,526.6 578.6,526.9 578.6,528.6 578.3,528.9 578.3,531.9 578.1,532.1 577.8,537.4 577.6,537.6 577.6,539.1 577.3,539.4 577.3,540.4 577.1,540.6 576.8,542.4 576.6,542.6 576.3,543.9 575.8,544.6 575.8,545.1 574.8,546.4 570.6,547.9 570.8,548.4 571.3,548.4 571.6,548.6 573.6,548.9 573.8,549.1 574.8,549.1 575.1,549.4 576.8,549.4 577.1,549.6 584.3,549.6 584.6,549.4 587.1,548.9 588.1,548.4 589.1,547.4 589.1,546.9 589.6,545.9 589.8,543.4 590.1,543.1 590.1,541.1 590.3,540.9 590.3,537.1 590.6,536.9 590.6,528.1 590.3,527.9 590.1,522.6 589.8,522.4 589.6,518.4 589.3,518.1 589.3,516.6 589.1,516.4 588.8,513.4 588.6,513.1 588.6,512.1 588.3,511.9 587.8,508.4 587.6,508.1 587.3,506.4 587.1,506.1 586.8,504.6 586.3,503.9 586.3,503.4 585.8,502.4Z" fill="#cc2e2a"/><path d="M585.1,506.1 584.3,506.1 583.3,507.1 582.1,510.4 582.1,511.1 581.8,511.4 581.8,512.1 581.3,513.4 581.3,514.4 581.1,514.6 581.1,515.6 580.8,515.9 580.8,516.9 580.6,517.1 580.6,518.4 580.3,518.6 580.3,519.9 580.1,520.1 580.1,521.9 579.8,522.1 579.6,525.9 579.3,526.1 579.1,529.6 578.8,529.9 578.6,536.4 578.3,536.6 578.3,538.1 578.1,538.4 578.1,539.6 577.8,539.9 577.8,540.9 577.6,541.1 577.3,542.9 576.3,545.4 575.1,546.6 574.6,546.6 572.8,547.4 572.1,547.4 571.1,547.9 571.3,548.4 571.8,548.4 572.1,548.6 574.1,548.9 574.3,549.1 575.6,549.1 575.8,549.4 578.1,549.4 578.3,549.6 582.8,549.6 583.1,549.4 584.6,549.4 587.3,548.4 588.3,547.4 588.8,546.4 589.1,544.1 589.3,543.9 589.3,542.4 589.6,542.1 589.6,539.6 589.8,539.4 589.8,533.4 590.1,533.1 589.8,526.9 589.6,526.6 589.6,524.4 589.3,524.1 589.3,522.4 589.1,522.1 589.1,520.1 588.8,519.9 588.8,518.6 588.6,518.4 588.6,517.1 588.3,516.9 588.3,515.6 588.1,515.4 587.8,513.1 587.6,512.9 587.6,512.1 587.3,511.9 587.3,511.1 586.8,510.1 586.6,508.6 585.6,506.6Z" fill="#c82a28"/><path d="M584.8,510.6 584.3,510.6 583.6,511.4 582.8,512.9 582.8,513.4 582.1,515.1 581.6,517.9 581.3,518.1 581.1,520.6 580.8,520.9 580.8,522.1 580.6,522.4 580.6,523.9 580.3,524.1 580.3,525.6 580.1,525.9 580.1,527.4 579.8,527.6 579.8,529.1 579.6,529.4 579.6,532.1 579.3,532.4 579.1,537.6 578.8,537.9 578.6,540.6 578.3,540.9 578.3,541.6 578.1,541.9 578.1,542.6 577.8,542.9 577.6,544.1 576.8,545.6 576.1,546.4 574.3,547.1 572.6,547.4 571.6,547.9 571.8,548.4 573.6,548.6 573.8,548.9 574.8,548.9 575.1,549.1 576.6,549.1 576.8,549.4 584.6,549.4 584.8,548.9 586.6,548.4 587.6,547.4 588.1,546.4 588.1,545.6 588.6,544.4 588.6,542.9 588.8,542.6 588.8,540.6 589.1,540.4 589.1,536.6 589.3,536.4 589.3,528.9 589.1,528.6 588.8,524.4 588.6,524.1 588.6,522.6 588.3,522.4 588.3,520.9 588.1,520.6 588.1,519.4 587.8,519.1 587.6,516.9 587.3,516.6 587.1,514.9 586.8,514.6 586.6,513.4 586.1,512.6 586.1,512.1Z" fill="#c32827"/><path d="M585.1,515.4 584.1,515.4 582.8,517.4 582.8,517.9 582.3,518.9 582.3,519.6 582.1,519.9 582.1,520.6 581.8,520.9 581.8,521.9 581.6,522.1 581.6,523.1 581.3,523.4 581.3,524.6 581.1,524.9 581.1,526.1 580.8,526.4 580.8,527.6 580.6,527.9 580.6,529.1 580.3,529.4 580.3,531.9 580.1,532.1 580.1,535.1 579.8,535.4 579.6,539.1 579.3,539.4 579.1,541.6 578.6,542.6 578.3,544.1 577.6,545.6 576.8,546.4 575.8,546.9 575.1,546.9 574.1,547.4 572.6,547.6 572.1,547.9 572.1,548.1 572.6,548.4 574.3,548.6 574.6,548.9 575.6,548.9 575.8,549.1 577.8,549.1 578.1,549.4 583.3,549.4 583.6,549.1 584.6,549.1 584.8,548.6 586.1,548.1 586.8,547.4 587.3,546.4 587.3,545.6 587.8,544.4 587.8,542.9 588.1,542.6 588.1,540.9 588.3,540.6 588.3,537.1 588.6,536.9 588.6,528.9 588.3,528.6 588.1,525.1 587.8,524.9 587.8,523.6 587.6,523.4 587.6,522.1 587.3,521.9 587.3,520.9 587.1,520.6 586.8,518.9 586.6,518.6 586.3,517.4 585.6,515.9Z" fill="#bf2625"/><path d="M584.8,519.9 584.3,519.9 583.8,520.4 583.1,521.9 583.1,522.4 582.6,523.4 582.6,524.1 582.3,524.4 582.3,525.1 582.1,525.4 582.1,526.1 581.8,526.4 581.8,527.1 581.6,527.4 581.6,528.4 581.3,528.6 581.3,529.6 581.1,529.9 581.1,533.4 580.8,533.6 580.6,538.1 580.3,538.4 580.1,540.9 579.8,541.1 579.8,541.9 579.6,542.1 579.6,542.9 579.3,543.1 579.1,544.4 578.1,546.1 576.6,546.9 575.8,546.9 575.6,547.1 573.1,547.6 572.6,547.9 572.6,548.1 573.1,548.4 574.8,548.6 575.1,548.9 576.6,548.9 576.8,549.1 584.6,549.1 584.6,548.4 585.1,548.1 586.3,546.6 586.6,545.1 586.8,544.9 586.8,543.9 587.1,543.6 587.3,539.9 587.6,539.6 587.8,529.9 587.6,529.6 587.3,526.9 587.1,526.6 587.1,525.6 586.8,525.4 586.3,522.6 585.3,520.4Z" fill="#ba2424"/><path d="M584.6,525.4 583.6,526.1 582.6,528.6 582.6,529.4 582.3,529.6 581.6,538.4 581.3,538.6 581.3,539.9 581.1,540.1 580.8,542.1 580.6,542.4 579.8,545.1 579.1,546.1 578.1,546.6 575.6,547.1 575.3,547.4 574.6,547.4 574.3,547.6 573.6,547.6 573.1,548.1 573.6,548.4 575.8,548.6 576.1,548.9 577.8,548.9 578.1,549.1 583.6,549.1 583.8,548.9 584.6,548.9 584.6,547.4 585.3,546.4 585.6,544.9 585.8,544.6 586.1,541.9 586.3,541.6 586.3,539.4 586.6,539.1 586.6,529.4 586.3,529.1 586.3,528.4 586.1,528.1 585.8,526.9 585.1,525.6Z" fill="#ba2424"/><path d="M584.3,535.4 584.1,535.4 584.1,535.9 583.6,536.9 582.6,541.9 582.3,542.1 581.3,545.4 580.1,546.4 577.6,546.9 577.3,547.1 576.3,547.1 575.1,547.6 574.3,547.6 573.8,547.9 573.8,548.1 575.1,548.4 575.3,548.6 576.6,548.6 576.8,548.9 580.6,548.9 580.8,549.1 581.1,548.9 584.6,548.9 584.6,546.4 584.1,545.9 584.1,544.1 584.3,543.9 584.3,542.4 584.6,542.1 584.6,536.1 584.3,535.9Z" fill="#ba2424"/><path d="M584.6,546.9 584.3,546.6 581.6,546.4 581.3,546.6 579.8,546.6 579.6,546.9 578.6,546.9 578.3,547.1 575.8,547.4 574.6,547.9 574.6,548.1 575.8,548.4 576.1,548.6 577.8,548.6 578.1,548.9 583.8,548.9 584.1,548.6 584.6,548.6Z" fill="#ba2424"/></g></g>
<rect x="497.2" y="436.5" width="153.2" height="152.8" fill="none" stroke="#111" stroke-width="1.1"/>
<text x="505.7" y="581" font-size="10.85" fill="#111">PSK/SFX-P1/SFX-DM</text>
<path d="M497.2,463.8h-3M497.2,495.2h-3M497.2,526.5h-3M497.2,557.9h-3M497.2,589.2h-3M497.2,579.8h-1.6M497.2,574.2h-1.6M497.2,570.3h-1.6M497.2,567.3h-1.6M497.2,564.8h-1.6M497.2,562.7h-1.6M497.2,560.9h-1.6M497.2,559.3h-1.6M497.2,548.4h-1.6M497.2,542.9h-1.6M497.2,539.0h-1.6M497.2,535.9h-1.6M497.2,533.5h-1.6M497.2,531.4h-1.6M497.2,529.5h-1.6M497.2,527.9h-1.6M497.2,517.1h-1.6M497.2,511.5h-1.6M497.2,507.6h-1.6M497.2,504.6h-1.6M497.2,502.1h-1.6M497.2,500.0h-1.6M497.2,498.2h-1.6M497.2,496.6h-1.6M497.2,485.7h-1.6M497.2,480.2h-1.6M497.2,476.3h-1.6M497.2,473.2h-1.6M497.2,470.8h-1.6M497.2,468.7h-1.6M497.2,466.8h-1.6M497.2,465.2h-1.6M497.2,454.4h-1.6M497.2,448.8h-1.6M497.2,444.9h-1.6M497.2,441.9h-1.6M497.2,439.4h-1.6M497.2,437.3h-1.6M497.2,589.3v3M516.4,589.3v1.8M535.5,589.3v3M554.6,589.3v1.8M573.8,589.3v3M593.0,589.3v1.8M612.1,589.3v3M631.2,589.3v1.8M650.4,589.3v3" stroke="#222" stroke-width="0.8" fill="none"/>
<text x="492.7" y="466.8" font-size="9.4" fill="#222" text-anchor="end">10<tspan font-size="6.3" dy="-3.6">3</tspan></text>
<text x="492.7" y="498.2" font-size="9.4" fill="#222" text-anchor="end">10<tspan font-size="6.3" dy="-3.6">2</tspan></text>
<text x="492.7" y="529.5" font-size="9.4" fill="#222" text-anchor="end">10<tspan font-size="6.3" dy="-3.6">1</tspan></text>
<text x="492.7" y="560.9" font-size="9.4" fill="#222" text-anchor="end">10<tspan font-size="6.3" dy="-3.6">0</tspan></text>
<text x="492.7" y="592.2" font-size="9.4" fill="#222" text-anchor="end">10<tspan font-size="6.3" dy="-3.6">−1</tspan></text>
<text x="497.2" y="600.8" font-size="9.4" fill="#222" text-anchor="middle">650</text>
<text x="535.5" y="600.8" font-size="9.4" fill="#222" text-anchor="middle">700</text>
<text x="573.8" y="600.8" font-size="9.4" fill="#222" text-anchor="middle">750</text>
<text x="612.1" y="600.8" font-size="9.4" fill="#222" text-anchor="middle">800</text>
<text x="650.4" y="600.8" font-size="9.4" fill="#222" text-anchor="middle">850</text>
<text x="575.8" y="612.4" font-size="9.1" fill="#222" text-anchor="middle">Wavelength (nm)</text>
<rect x="651.4" y="436.3" width="13.4" height="152.3" fill="url(#cbt9)" stroke="#222" stroke-width="0.8"/>
<text x="670.3" y="441.5" font-size="7.2" fill="#222">0.3</text>
<text x="670.3" y="460.0" font-size="7.2" fill="#222">0.1</text>
<text x="669.5" y="478.6" font-size="7.2" fill="#222">−0.1</text>
<text x="669.5" y="496.5" font-size="7.2" fill="#222">−0.3</text>
<text x="669.5" y="514.8" font-size="7.2" fill="#222">−0.5</text>
<text x="669.5" y="533.3" font-size="7.2" fill="#222">−0.6</text>
<text x="669.5" y="551.8" font-size="7.2" fill="#222">−0.8</text>
<text x="669.5" y="569.8" font-size="7.2" fill="#222">−1.0</text>
<text x="669.5" y="588.0" font-size="7.2" fill="#222">−1.2</text>
<path d="M664.8,439.1h3M664.8,457.6h3M664.8,476.2h3M664.8,494.1h3M664.8,512.4h3M664.8,530.9h3M664.8,549.4h3M664.8,567.4h3M664.8,585.6h3M664.8,439.1h1.5M664.8,442.2h1.5M664.8,445.2h1.5M664.8,448.3h1.5M664.8,451.3h1.5M664.8,454.4h1.5M664.8,457.4h1.5M664.8,460.5h1.5M664.8,463.5h1.5M664.8,466.6h1.5M664.8,469.6h1.5M664.8,472.7h1.5M664.8,475.7h1.5M664.8,478.8h1.5M664.8,481.8h1.5M664.8,484.9h1.5M664.8,487.9h1.5M664.8,491.0h1.5M664.8,494.0h1.5M664.8,497.1h1.5M664.8,500.1h1.5M664.8,503.2h1.5M664.8,506.2h1.5M664.8,509.3h1.5M664.8,512.4h1.5M664.8,515.4h1.5M664.8,518.5h1.5M664.8,521.5h1.5M664.8,524.6h1.5M664.8,527.6h1.5M664.8,530.7h1.5M664.8,533.7h1.5M664.8,536.8h1.5M664.8,539.8h1.5M664.8,542.9h1.5M664.8,545.9h1.5M664.8,549.0h1.5M664.8,552.0h1.5M664.8,555.1h1.5M664.8,558.1h1.5M664.8,561.2h1.5M664.8,564.2h1.5M664.8,567.3h1.5M664.8,570.3h1.5M664.8,573.4h1.5M664.8,576.4h1.5M664.8,579.5h1.5M664.8,582.5h1.5M664.8,585.6h1.5" stroke="#222" stroke-width="0.8" fill="none"/>
<text x="0" y="0" font-size="8.2" fill="#222" text-anchor="middle" transform="translate(661.0,512.8) rotate(-90)">ΔA (OD)</text>
<text x="0" y="0" font-size="9.1" fill="#222" text-anchor="middle" transform="translate(7.399999999999999,517) rotate(-90)">Time (ps)</text>
<text x="0" y="0" font-size="9.1" fill="#222" text-anchor="middle" transform="translate(241.0,517) rotate(-90)">Time (ps)</text>
<text x="0" y="0" font-size="9.1" fill="#222" text-anchor="middle" transform="translate(474.4,517) rotate(-90)">Time (ps)</text>
</svg>
</body></html>
